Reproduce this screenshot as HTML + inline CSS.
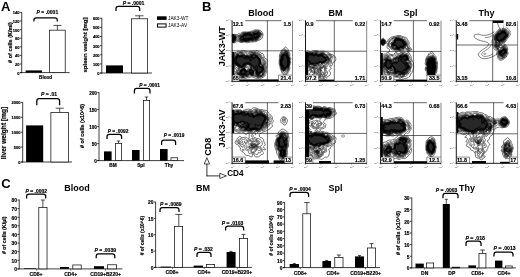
<!DOCTYPE html>
<html><head><meta charset="utf-8"><title>Figure</title>
<style>
html,body{margin:0;padding:0;background:#fff;}
body{width:520px;height:277px;overflow:hidden;}
svg{display:block;font-family:"Liberation Sans",sans-serif;font-weight:bold;filter:blur(0.35px);}
</style></head><body>
<svg width="520" height="277" viewBox="0 0 520 277">
<rect width="520" height="277" fill="#fff"/>
<text x="0.9" y="10.9" text-anchor="start" style="font-size:13px;" fill="#000">A</text>
<text x="202.0" y="10.9" text-anchor="start" style="font-size:13px;" fill="#000">B</text>
<text x="1.2" y="188" text-anchor="start" style="font-size:13px;" fill="#000">C</text>
<line x1="21.7" y1="12.0" x2="21.7" y2="73.05" stroke="#000" stroke-width="0.75"/>
<line x1="19.9" y1="72.6" x2="69.6" y2="72.6" stroke="#000" stroke-width="0.75"/>
<line x1="19.9" y1="72.6" x2="21.7" y2="72.6" stroke="#000" stroke-width="0.7"/>
<text x="19.5" y="74.53999999999999" text-anchor="end" style="font-size:4px;" fill="#000" stroke="#000" stroke-width="0.16">0</text>
<line x1="19.9" y1="63.99999999999999" x2="21.7" y2="63.99999999999999" stroke="#000" stroke-width="0.7"/>
<text x="19.5" y="65.94" text-anchor="end" style="font-size:4px;" fill="#000" stroke="#000" stroke-width="0.16">20</text>
<line x1="19.9" y1="55.39999999999999" x2="21.7" y2="55.39999999999999" stroke="#000" stroke-width="0.7"/>
<text x="19.5" y="57.33999999999999" text-anchor="end" style="font-size:4px;" fill="#000" stroke="#000" stroke-width="0.16">40</text>
<line x1="19.9" y1="46.8" x2="21.7" y2="46.8" stroke="#000" stroke-width="0.7"/>
<text x="19.5" y="48.739999999999995" text-anchor="end" style="font-size:4px;" fill="#000" stroke="#000" stroke-width="0.16">60</text>
<line x1="19.9" y1="38.199999999999996" x2="21.7" y2="38.199999999999996" stroke="#000" stroke-width="0.7"/>
<text x="19.5" y="40.13999999999999" text-anchor="end" style="font-size:4px;" fill="#000" stroke="#000" stroke-width="0.16">80</text>
<line x1="19.9" y1="29.599999999999994" x2="21.7" y2="29.599999999999994" stroke="#000" stroke-width="0.7"/>
<text x="19.5" y="31.539999999999996" text-anchor="end" style="font-size:4px;" fill="#000" stroke="#000" stroke-width="0.16">100</text>
<line x1="19.9" y1="21.0" x2="21.7" y2="21.0" stroke="#000" stroke-width="0.7"/>
<text x="19.5" y="22.94" text-anchor="end" style="font-size:4px;" fill="#000" stroke="#000" stroke-width="0.16">120</text>
<line x1="19.9" y1="12.399999999999999" x2="21.7" y2="12.399999999999999" stroke="#000" stroke-width="0.7"/>
<text x="19.5" y="14.339999999999998" text-anchor="end" style="font-size:4px;" fill="#000" stroke="#000" stroke-width="0.16">140</text>
<rect x="25.6" y="70.4" width="16.40" height="2.20" fill="#000"/>
<line x1="57.4" y1="25.4" x2="57.4" y2="30" stroke="#000" stroke-width="0.7"/>
<line x1="53.4" y1="25.4" x2="61.4" y2="25.4" stroke="#000" stroke-width="0.7"/>
<rect x="49.575" y="30.175" width="15.65" height="42.42" fill="#fff" stroke="#111" stroke-width="0.75"/>
<text x="45.6" y="78.6" text-anchor="middle" style="font-size:4.6px;" fill="#000" stroke="#000" stroke-width="0.16">Blood</text>
<path d="M33.9,21.6 L33.9,20.2 Q33.9,17.9 36.199999999999996,17.9 L55.0,17.9 Q57.3,17.9 57.3,20.2 L57.3,21.6" fill="none" stroke="#000" stroke-width="1.25"/>
<text x="47.4" y="14" text-anchor="middle" style="font-size:5px" fill="#000" stroke="#000" stroke-width="0.16"><tspan style="font-style:italic">P</tspan> = .0001</text>
<text x="11.6" y="42.6" text-anchor="middle" style="font-size:5.5px;" fill="#000" transform="rotate(-90 11.6 42.6)" stroke="#000" stroke-width="0.16"># of cells (K/ml)</text>
<line x1="101.8" y1="17.8" x2="101.8" y2="73.45" stroke="#000" stroke-width="0.75"/>
<line x1="100.0" y1="73" x2="152" y2="73" stroke="#000" stroke-width="0.75"/>
<line x1="100.0" y1="73.0" x2="101.8" y2="73.0" stroke="#000" stroke-width="0.7"/>
<text x="99.6" y="74.94" text-anchor="end" style="font-size:4px;" fill="#000" stroke="#000" stroke-width="0.16">0</text>
<line x1="100.0" y1="63.88" x2="101.8" y2="63.88" stroke="#000" stroke-width="0.7"/>
<text x="99.6" y="65.82000000000001" text-anchor="end" style="font-size:4px;" fill="#000" stroke="#000" stroke-width="0.16">100</text>
<line x1="100.0" y1="54.760000000000005" x2="101.8" y2="54.760000000000005" stroke="#000" stroke-width="0.7"/>
<text x="99.6" y="56.7" text-anchor="end" style="font-size:4px;" fill="#000" stroke="#000" stroke-width="0.16">200</text>
<line x1="100.0" y1="45.64" x2="101.8" y2="45.64" stroke="#000" stroke-width="0.7"/>
<text x="99.6" y="47.58" text-anchor="end" style="font-size:4px;" fill="#000" stroke="#000" stroke-width="0.16">300</text>
<line x1="100.0" y1="36.52" x2="101.8" y2="36.52" stroke="#000" stroke-width="0.7"/>
<text x="99.6" y="38.46" text-anchor="end" style="font-size:4px;" fill="#000" stroke="#000" stroke-width="0.16">400</text>
<line x1="100.0" y1="27.400000000000006" x2="101.8" y2="27.400000000000006" stroke="#000" stroke-width="0.7"/>
<text x="99.6" y="29.340000000000007" text-anchor="end" style="font-size:4px;" fill="#000" stroke="#000" stroke-width="0.16">500</text>
<line x1="100.0" y1="18.28" x2="101.8" y2="18.28" stroke="#000" stroke-width="0.7"/>
<text x="99.6" y="20.220000000000002" text-anchor="end" style="font-size:4px;" fill="#000" stroke="#000" stroke-width="0.16">600</text>
<rect x="106" y="65.4" width="17.00" height="7.60" fill="#000"/>
<line x1="139.3" y1="15.8" x2="139.3" y2="19" stroke="#000" stroke-width="0.7"/>
<line x1="135.10000000000002" y1="15.8" x2="143.5" y2="15.8" stroke="#000" stroke-width="0.7"/>
<rect x="131.375" y="18.775" width="16.25" height="54.23" fill="#fff" stroke="#111" stroke-width="0.75"/>
<path d="M116,10.9 L116,8.6 Q116,6.3 118.3,6.3 L137.39999999999998,6.3 Q139.7,6.3 139.7,8.6 L139.7,10.9" fill="none" stroke="#000" stroke-width="1.25"/>
<text x="133.6" y="5.2" text-anchor="middle" style="font-size:5px" fill="#000" stroke="#000" stroke-width="0.16"><tspan style="font-style:italic">P</tspan> = .0001</text>
<text x="86.6" y="45" text-anchor="middle" style="font-size:6.1px;" fill="#000" transform="rotate(-90 86.6 45)" stroke="#000" stroke-width="0.16">spleen weight [mg]</text>
<rect x="157" y="16.3" width="9.6" height="3.6" fill="#000"/>
<rect x="157.5" y="23.9" width="8.6" height="3.2" fill="#fff" stroke="#000" stroke-width="1"/>
<text x="168" y="19.8" text-anchor="start" style="font-size:4.8px;font-weight:normal;" fill="#000">JAK3-WT</text>
<text x="168" y="27.2" text-anchor="start" style="font-size:4.8px;font-weight:normal;" fill="#000">JAK3-AV</text>
<line x1="22.7" y1="102.0" x2="22.7" y2="162.45" stroke="#000" stroke-width="0.75"/>
<line x1="20.9" y1="162" x2="72" y2="162" stroke="#000" stroke-width="0.75"/>
<line x1="20.9" y1="162.0" x2="22.7" y2="162.0" stroke="#000" stroke-width="0.7"/>
<text x="20.5" y="163.94" text-anchor="end" style="font-size:4px;" fill="#000" stroke="#000" stroke-width="0.16">0</text>
<line x1="20.9" y1="147.1" x2="22.7" y2="147.1" stroke="#000" stroke-width="0.7"/>
<text x="20.5" y="149.04" text-anchor="end" style="font-size:4px;" fill="#000" stroke="#000" stroke-width="0.16">500</text>
<line x1="20.9" y1="132.2" x2="22.7" y2="132.2" stroke="#000" stroke-width="0.7"/>
<text x="20.5" y="134.14" text-anchor="end" style="font-size:4px;" fill="#000" stroke="#000" stroke-width="0.16">1000</text>
<line x1="20.9" y1="117.3" x2="22.7" y2="117.3" stroke="#000" stroke-width="0.7"/>
<text x="20.5" y="119.24" text-anchor="end" style="font-size:4px;" fill="#000" stroke="#000" stroke-width="0.16">1500</text>
<line x1="20.9" y1="102.4" x2="22.7" y2="102.4" stroke="#000" stroke-width="0.7"/>
<text x="20.5" y="104.34" text-anchor="end" style="font-size:4px;" fill="#000" stroke="#000" stroke-width="0.16">2000</text>
<rect x="26.1" y="125.4" width="17.10" height="36.60" fill="#000"/>
<line x1="59.7" y1="108.2" x2="59.7" y2="113" stroke="#000" stroke-width="0.7"/>
<line x1="55.7" y1="108.2" x2="63.7" y2="108.2" stroke="#000" stroke-width="0.7"/>
<rect x="50.875" y="112.375" width="17.55" height="49.62" fill="#fff" stroke="#111" stroke-width="0.75"/>
<path d="M36.8,105.2 L36.8,100.89999999999999 Q36.8,98.6 39.099999999999994,98.6 L57.300000000000004,98.6 Q59.6,98.6 59.6,100.89999999999999 L59.6,105.2" fill="none" stroke="#000" stroke-width="1.25"/>
<text x="49" y="95.6" text-anchor="middle" style="font-size:5px" fill="#000" stroke="#000" stroke-width="0.16"><tspan style="font-style:italic">P</tspan> = .01</text>
<text x="5.9" y="133" text-anchor="middle" style="font-size:6.6px;" fill="#000" transform="rotate(-90 5.9 133)" stroke="#000" stroke-width="0.16">liver weight [mg]</text>
<line x1="99" y1="92.19999999999999" x2="99" y2="161.04999999999998" stroke="#000" stroke-width="0.75"/>
<line x1="97.2" y1="160.6" x2="184" y2="160.6" stroke="#000" stroke-width="0.75"/>
<line x1="97.2" y1="160.6" x2="99" y2="160.6" stroke="#000" stroke-width="0.7"/>
<text x="96.8" y="162.756" text-anchor="end" style="font-size:4.6px;" fill="#000" stroke="#000" stroke-width="0.16">0</text>
<line x1="97.2" y1="143.6" x2="99" y2="143.6" stroke="#000" stroke-width="0.7"/>
<text x="96.8" y="145.756" text-anchor="end" style="font-size:4.6px;" fill="#000" stroke="#000" stroke-width="0.16">50</text>
<line x1="97.2" y1="126.6" x2="99" y2="126.6" stroke="#000" stroke-width="0.7"/>
<text x="96.8" y="128.756" text-anchor="end" style="font-size:4.6px;" fill="#000" stroke="#000" stroke-width="0.16">100</text>
<line x1="97.2" y1="109.6" x2="99" y2="109.6" stroke="#000" stroke-width="0.7"/>
<text x="96.8" y="111.756" text-anchor="end" style="font-size:4.6px;" fill="#000" stroke="#000" stroke-width="0.16">150</text>
<line x1="97.2" y1="92.6" x2="99" y2="92.6" stroke="#000" stroke-width="0.7"/>
<text x="96.8" y="94.756" text-anchor="end" style="font-size:4.6px;" fill="#000" stroke="#000" stroke-width="0.16">200</text>
<rect x="104" y="151.4" width="7.60" height="9.20" fill="#000"/>
<line x1="118.5" y1="141" x2="118.5" y2="143.5" stroke="#000" stroke-width="0.7"/>
<line x1="116.75" y1="141" x2="120.25" y2="141" stroke="#000" stroke-width="0.7"/>
<rect x="115.375" y="143.375" width="6.25" height="17.22" fill="#fff" stroke="#111" stroke-width="0.75"/>
<rect x="132" y="150" width="7.60" height="10.60" fill="#000"/>
<line x1="146.5" y1="97" x2="146.5" y2="100.5" stroke="#000" stroke-width="0.7"/>
<line x1="144.75" y1="97" x2="148.25" y2="97" stroke="#000" stroke-width="0.7"/>
<rect x="143.375" y="100.375" width="6.25" height="60.22" fill="#fff" stroke="#111" stroke-width="0.75"/>
<rect x="160" y="149" width="7.60" height="11.60" fill="#000"/>
<rect x="170.975" y="157.775" width="6.65" height="2.82" fill="#fff" stroke="#111" stroke-width="0.75"/>
<text x="113.1" y="166.8" text-anchor="middle" style="font-size:4.8px;" fill="#000" stroke="#000" stroke-width="0.16">BM</text>
<text x="140.9" y="166.8" text-anchor="middle" style="font-size:4.8px;" fill="#000" stroke="#000" stroke-width="0.16">Spl</text>
<text x="169" y="166.8" text-anchor="middle" style="font-size:4.8px;" fill="#000" stroke="#000" stroke-width="0.16">Thy</text>
<path d="M107,139 L107,136.70000000000002 Q107,134.4 109.3,134.4 L119.3,134.4 Q121.6,134.4 121.6,136.70000000000002 L121.6,139" fill="none" stroke="#000" stroke-width="1.25"/>
<text x="118" y="132.8" text-anchor="middle" style="font-size:4.8px" fill="#000" stroke="#000" stroke-width="0.16"><tspan style="font-style:italic">P</tspan> = .0092</text>
<path d="M134.4,93.6 L134.4,90.7 Q134.4,88.4 136.70000000000002,88.4 L147.7,88.4 Q150,88.4 150,90.7 L150,93.6" fill="none" stroke="#000" stroke-width="1.25"/>
<text x="149.5" y="87.2" text-anchor="middle" style="font-size:4.8px" fill="#000" stroke="#000" stroke-width="0.16"><tspan style="font-style:italic">P</tspan> = .0001</text>
<path d="M161.6,145 L161.6,142.3 Q161.6,140 163.9,140 L173.29999999999998,140 Q175.6,140 175.6,142.3 L175.6,145" fill="none" stroke="#000" stroke-width="1.25"/>
<text x="174" y="136.8" text-anchor="middle" style="font-size:4.8px" fill="#000" stroke="#000" stroke-width="0.16"><tspan style="font-style:italic">P</tspan> = .0019</text>
<text x="83.6" y="125.9" text-anchor="middle" style="font-size:5.5px;" fill="#000" transform="rotate(-90 83.6 125.9)" stroke="#000" stroke-width="0.16"># of cells (x10^6)</text>
<text x="77" y="191.2" text-anchor="middle" style="font-size:9px;" fill="#000">Blood</text>
<line x1="19.2" y1="199.6" x2="19.2" y2="269.34999999999997" stroke="#000" stroke-width="0.75"/>
<line x1="17.4" y1="268.9" x2="122.4" y2="268.9" stroke="#000" stroke-width="0.75"/>
<line x1="17.4" y1="268.9" x2="19.2" y2="268.9" stroke="#000" stroke-width="0.7"/>
<text x="17.0" y="271.164" text-anchor="end" style="font-size:4.9px;" fill="#000" stroke="#000" stroke-width="0.16">0</text>
<line x1="17.4" y1="260.28999999999996" x2="19.2" y2="260.28999999999996" stroke="#000" stroke-width="0.7"/>
<text x="17.0" y="262.554" text-anchor="end" style="font-size:4.9px;" fill="#000" stroke="#000" stroke-width="0.16">10</text>
<line x1="17.4" y1="251.67999999999998" x2="19.2" y2="251.67999999999998" stroke="#000" stroke-width="0.7"/>
<text x="17.0" y="253.944" text-anchor="end" style="font-size:4.9px;" fill="#000" stroke="#000" stroke-width="0.16">20</text>
<line x1="17.4" y1="243.07" x2="19.2" y2="243.07" stroke="#000" stroke-width="0.7"/>
<text x="17.0" y="245.334" text-anchor="end" style="font-size:4.9px;" fill="#000" stroke="#000" stroke-width="0.16">30</text>
<line x1="17.4" y1="234.45999999999998" x2="19.2" y2="234.45999999999998" stroke="#000" stroke-width="0.7"/>
<text x="17.0" y="236.724" text-anchor="end" style="font-size:4.9px;" fill="#000" stroke="#000" stroke-width="0.16">40</text>
<line x1="17.4" y1="225.84999999999997" x2="19.2" y2="225.84999999999997" stroke="#000" stroke-width="0.7"/>
<text x="17.0" y="228.11399999999998" text-anchor="end" style="font-size:4.9px;" fill="#000" stroke="#000" stroke-width="0.16">50</text>
<line x1="17.4" y1="217.23999999999998" x2="19.2" y2="217.23999999999998" stroke="#000" stroke-width="0.7"/>
<text x="17.0" y="219.504" text-anchor="end" style="font-size:4.9px;" fill="#000" stroke="#000" stroke-width="0.16">60</text>
<line x1="17.4" y1="208.63" x2="19.2" y2="208.63" stroke="#000" stroke-width="0.7"/>
<text x="17.0" y="210.894" text-anchor="end" style="font-size:4.9px;" fill="#000" stroke="#000" stroke-width="0.16">70</text>
<line x1="17.4" y1="200.01999999999998" x2="19.2" y2="200.01999999999998" stroke="#000" stroke-width="0.7"/>
<text x="17.0" y="202.284" text-anchor="end" style="font-size:4.9px;" fill="#000" stroke="#000" stroke-width="0.16">80</text>
<rect x="24" y="268.3" width="12.00" height="0.60" fill="#000"/>
<line x1="42.9" y1="200" x2="42.9" y2="207.5" stroke="#000" stroke-width="0.7"/>
<line x1="40.9" y1="200" x2="44.9" y2="200" stroke="#000" stroke-width="0.7"/>
<rect x="38.775" y="207.375" width="8.25" height="61.52" fill="#fff" stroke="#111" stroke-width="0.75"/>
<rect x="60" y="267" width="9.00" height="1.90" fill="#000"/>
<rect x="72.775" y="264.975" width="8.45" height="3.92" fill="#fff" stroke="#111" stroke-width="0.75"/>
<rect x="94" y="266.2" width="10.00" height="2.70" fill="#000"/>
<rect x="107.375" y="264.775" width="9.25" height="4.12" fill="#fff" stroke="#111" stroke-width="0.75"/>
<text x="36" y="276.1" text-anchor="middle" style="font-size:5px;" fill="#000" stroke="#000" stroke-width="0.16">CD8+</text>
<text x="70.6" y="276.1" text-anchor="middle" style="font-size:5px;" fill="#000" stroke="#000" stroke-width="0.16">CD4+</text>
<text x="105.6" y="276.1" text-anchor="middle" style="font-size:5px;" fill="#000" stroke="#000" stroke-width="0.16">CD19+B220+</text>
<path d="M26.6,198.6 L26.6,196.3 Q26.6,194 28.900000000000002,194 L43.400000000000006,194 Q45.7,194 45.7,196.3 L45.7,198.6" fill="none" stroke="#000" stroke-width="1.25"/>
<text x="36.3" y="192.5" text-anchor="middle" style="font-size:5px" fill="#000" stroke="#000" stroke-width="0.16"><tspan style="font-style:italic">P</tspan> = .0002</text>
<path d="M96.2,258.2 L96.2,256.1 Q96.2,253.8 98.5,253.8 L112.5,253.8 Q114.8,253.8 114.8,256.1 L114.8,258.2" fill="none" stroke="#000" stroke-width="1.25"/>
<text x="105.2" y="252.2" text-anchor="middle" style="font-size:5px" fill="#000" stroke="#000" stroke-width="0.16"><tspan style="font-style:italic">P</tspan> = .0039</text>
<text x="6.4" y="235.3" text-anchor="middle" style="font-size:5.3px;" fill="#000" transform="rotate(-90 6.4 235.3)" stroke="#000" stroke-width="0.16"># of cells (K/µl)</text>
<text x="203" y="191.2" text-anchor="middle" style="font-size:9px;" fill="#000">BM</text>
<line x1="155.6" y1="201.79999999999998" x2="155.6" y2="267.84999999999997" stroke="#000" stroke-width="0.75"/>
<line x1="153.79999999999998" y1="267.4" x2="252" y2="267.4" stroke="#000" stroke-width="0.75"/>
<line x1="153.79999999999998" y1="267.4" x2="155.6" y2="267.4" stroke="#000" stroke-width="0.7"/>
<text x="153.39999999999998" y="269.664" text-anchor="end" style="font-size:4.9px;" fill="#000" stroke="#000" stroke-width="0.16">0</text>
<line x1="153.79999999999998" y1="251.04999999999998" x2="155.6" y2="251.04999999999998" stroke="#000" stroke-width="0.7"/>
<text x="153.39999999999998" y="253.314" text-anchor="end" style="font-size:4.9px;" fill="#000" stroke="#000" stroke-width="0.16">5</text>
<line x1="153.79999999999998" y1="234.7" x2="155.6" y2="234.7" stroke="#000" stroke-width="0.7"/>
<text x="153.39999999999998" y="236.964" text-anchor="end" style="font-size:4.9px;" fill="#000" stroke="#000" stroke-width="0.16">10</text>
<line x1="153.79999999999998" y1="218.34999999999997" x2="155.6" y2="218.34999999999997" stroke="#000" stroke-width="0.7"/>
<text x="153.39999999999998" y="220.61399999999998" text-anchor="end" style="font-size:4.9px;" fill="#000" stroke="#000" stroke-width="0.16">15</text>
<line x1="153.79999999999998" y1="201.99999999999997" x2="155.6" y2="201.99999999999997" stroke="#000" stroke-width="0.7"/>
<text x="153.39999999999998" y="204.26399999999998" text-anchor="end" style="font-size:4.9px;" fill="#000" stroke="#000" stroke-width="0.16">20</text>
<rect x="160.5" y="266.6" width="10.50" height="0.80" fill="#000"/>
<line x1="178.8" y1="214.4" x2="178.8" y2="226.5" stroke="#000" stroke-width="0.7"/>
<line x1="175.3" y1="214.4" x2="182.3" y2="214.4" stroke="#000" stroke-width="0.7"/>
<rect x="174.375" y="226.375" width="8.25" height="41.02" fill="#fff" stroke="#111" stroke-width="0.75"/>
<rect x="193.6" y="265.6" width="9.40" height="1.80" fill="#000"/>
<rect x="206.375" y="264.375" width="8.25" height="3.02" fill="#fff" stroke="#111" stroke-width="0.75"/>
<line x1="231" y1="251.4" x2="231" y2="252.5" stroke="#000" stroke-width="0.7"/>
<line x1="229.5" y1="251.4" x2="232.5" y2="251.4" stroke="#000" stroke-width="0.7"/>
<rect x="226.6" y="252" width="9.00" height="15.40" fill="#000"/>
<line x1="243.5" y1="234.4" x2="243.5" y2="238.5" stroke="#000" stroke-width="0.7"/>
<line x1="241.5" y1="234.4" x2="245.5" y2="234.4" stroke="#000" stroke-width="0.7"/>
<rect x="239.375" y="238.375" width="8.25" height="29.02" fill="#fff" stroke="#111" stroke-width="0.75"/>
<text x="172" y="273.7" text-anchor="middle" style="font-size:5px;" fill="#000" stroke="#000" stroke-width="0.16">CD8+</text>
<text x="204" y="273.7" text-anchor="middle" style="font-size:5px;" fill="#000" stroke="#000" stroke-width="0.16">CD4+</text>
<text x="237" y="273.7" text-anchor="middle" style="font-size:5px;" fill="#000" stroke="#000" stroke-width="0.16">CD19+B220+</text>
<path d="M160,212 L160,209.9 Q160,207.6 162.3,207.6 L176.7,207.6 Q179,207.6 179,209.9 L179,212" fill="none" stroke="#000" stroke-width="1.25"/>
<text x="170.8" y="206" text-anchor="middle" style="font-size:5px" fill="#000" stroke="#000" stroke-width="0.16"><tspan style="font-style:italic">P</tspan> = .0089</text>
<path d="M197,257 L197,254.70000000000002 Q197,252.4 199.3,252.4 L208.7,252.4 Q211,252.4 211,254.70000000000002 L211,257" fill="none" stroke="#000" stroke-width="1.25"/>
<text x="203.5" y="250.8" text-anchor="middle" style="font-size:5px" fill="#000" stroke="#000" stroke-width="0.16"><tspan style="font-style:italic">P</tspan> = .032</text>
<path d="M225.6,230.4 L225.6,228.3 Q225.6,226 227.9,226 L241.29999999999998,226 Q243.6,226 243.6,228.3 L243.6,230.4" fill="none" stroke="#000" stroke-width="1.25"/>
<text x="232.5" y="224.6" text-anchor="middle" style="font-size:5px" fill="#000" stroke="#000" stroke-width="0.16"><tspan style="font-style:italic">P</tspan> = .0103</text>
<text x="144.4" y="235.6" text-anchor="middle" style="font-size:4.9px;" fill="#000" transform="rotate(-90 144.4 235.6)" stroke="#000" stroke-width="0.16"># of cells (x10^6)</text>
<text x="335.5" y="191.2" text-anchor="middle" style="font-size:9px;" fill="#000">Spl</text>
<line x1="284.6" y1="202.0" x2="284.6" y2="268.05" stroke="#000" stroke-width="0.75"/>
<line x1="282.8" y1="267.6" x2="380" y2="267.6" stroke="#000" stroke-width="0.75"/>
<line x1="282.8" y1="267.6" x2="284.6" y2="267.6" stroke="#000" stroke-width="0.7"/>
<text x="282.40000000000003" y="269.86400000000003" text-anchor="end" style="font-size:4.9px;" fill="#000" stroke="#000" stroke-width="0.16">0</text>
<line x1="282.8" y1="260.35" x2="284.6" y2="260.35" stroke="#000" stroke-width="0.7"/>
<text x="282.40000000000003" y="262.61400000000003" text-anchor="end" style="font-size:4.9px;" fill="#000" stroke="#000" stroke-width="0.16">10</text>
<line x1="282.8" y1="253.10000000000002" x2="284.6" y2="253.10000000000002" stroke="#000" stroke-width="0.7"/>
<text x="282.40000000000003" y="255.36400000000003" text-anchor="end" style="font-size:4.9px;" fill="#000" stroke="#000" stroke-width="0.16">20</text>
<line x1="282.8" y1="245.85000000000002" x2="284.6" y2="245.85000000000002" stroke="#000" stroke-width="0.7"/>
<text x="282.40000000000003" y="248.11400000000003" text-anchor="end" style="font-size:4.9px;" fill="#000" stroke="#000" stroke-width="0.16">30</text>
<line x1="282.8" y1="238.60000000000002" x2="284.6" y2="238.60000000000002" stroke="#000" stroke-width="0.7"/>
<text x="282.40000000000003" y="240.86400000000003" text-anchor="end" style="font-size:4.9px;" fill="#000" stroke="#000" stroke-width="0.16">40</text>
<line x1="282.8" y1="231.35000000000002" x2="284.6" y2="231.35000000000002" stroke="#000" stroke-width="0.7"/>
<text x="282.40000000000003" y="233.61400000000003" text-anchor="end" style="font-size:4.9px;" fill="#000" stroke="#000" stroke-width="0.16">50</text>
<line x1="282.8" y1="224.10000000000002" x2="284.6" y2="224.10000000000002" stroke="#000" stroke-width="0.7"/>
<text x="282.40000000000003" y="226.36400000000003" text-anchor="end" style="font-size:4.9px;" fill="#000" stroke="#000" stroke-width="0.16">60</text>
<line x1="282.8" y1="216.85000000000002" x2="284.6" y2="216.85000000000002" stroke="#000" stroke-width="0.7"/>
<text x="282.40000000000003" y="219.11400000000003" text-anchor="end" style="font-size:4.9px;" fill="#000" stroke="#000" stroke-width="0.16">70</text>
<line x1="282.8" y1="209.60000000000002" x2="284.6" y2="209.60000000000002" stroke="#000" stroke-width="0.7"/>
<text x="282.40000000000003" y="211.86400000000003" text-anchor="end" style="font-size:4.9px;" fill="#000" stroke="#000" stroke-width="0.16">80</text>
<line x1="282.8" y1="202.35000000000002" x2="284.6" y2="202.35000000000002" stroke="#000" stroke-width="0.7"/>
<text x="282.40000000000003" y="204.61400000000003" text-anchor="end" style="font-size:4.9px;" fill="#000" stroke="#000" stroke-width="0.16">90</text>
<line x1="294.3" y1="263.4" x2="294.3" y2="264.5" stroke="#000" stroke-width="0.7"/>
<line x1="292.8" y1="263.4" x2="295.8" y2="263.4" stroke="#000" stroke-width="0.7"/>
<rect x="289.6" y="264" width="9.40" height="3.60" fill="#000"/>
<line x1="306.9" y1="202.6" x2="306.9" y2="214" stroke="#000" stroke-width="0.7"/>
<line x1="304.15" y1="202.6" x2="309.65" y2="202.6" stroke="#000" stroke-width="0.7"/>
<rect x="302.775" y="213.775" width="7.85" height="53.83" fill="#fff" stroke="#111" stroke-width="0.75"/>
<line x1="326.7" y1="260.4" x2="326.7" y2="261.5" stroke="#000" stroke-width="0.7"/>
<line x1="325.2" y1="260.4" x2="328.2" y2="260.4" stroke="#000" stroke-width="0.7"/>
<rect x="322.4" y="261" width="8.60" height="6.60" fill="#000"/>
<line x1="338.9" y1="255" x2="338.9" y2="257.5" stroke="#000" stroke-width="0.7"/>
<line x1="336.9" y1="255" x2="340.9" y2="255" stroke="#000" stroke-width="0.7"/>
<rect x="334.775" y="257.375" width="8.25" height="10.23" fill="#fff" stroke="#111" stroke-width="0.75"/>
<line x1="359.5" y1="255.6" x2="359.5" y2="257" stroke="#000" stroke-width="0.7"/>
<line x1="358.0" y1="255.6" x2="361.0" y2="255.6" stroke="#000" stroke-width="0.7"/>
<rect x="355" y="256.4" width="9.00" height="11.20" fill="#000"/>
<line x1="371.5" y1="243.6" x2="371.5" y2="248" stroke="#000" stroke-width="0.7"/>
<line x1="369.5" y1="243.6" x2="373.5" y2="243.6" stroke="#000" stroke-width="0.7"/>
<rect x="367.375" y="247.975" width="8.25" height="19.63" fill="#fff" stroke="#111" stroke-width="0.75"/>
<text x="300.3" y="274.6" text-anchor="middle" style="font-size:5px;" fill="#000" stroke="#000" stroke-width="0.16">CD8+</text>
<text x="333" y="274.6" text-anchor="middle" style="font-size:5px;" fill="#000" stroke="#000" stroke-width="0.16">CD4+</text>
<text x="365.6" y="274.6" text-anchor="middle" style="font-size:5px;" fill="#000" stroke="#000" stroke-width="0.16">CD19+B220+</text>
<path d="M290,197 L290,194.70000000000002 Q290,192.4 292.3,192.4 L306.3,192.4 Q308.6,192.4 308.6,194.70000000000002 L308.6,197" fill="none" stroke="#000" stroke-width="1.25"/>
<text x="300" y="190.6" text-anchor="middle" style="font-size:5px" fill="#000" stroke="#000" stroke-width="0.16"><tspan style="font-style:italic">P</tspan> = .0004</text>
<text x="273.5" y="235.6" text-anchor="middle" style="font-size:5px;" fill="#000" transform="rotate(-90 273.5 235.6)" stroke="#000" stroke-width="0.16"># of cells (x10^6)</text>
<text x="467" y="191.2" text-anchor="middle" style="font-size:9px;" fill="#000">Thy</text>
<line x1="411.8" y1="197.6" x2="411.8" y2="268.34999999999997" stroke="#000" stroke-width="0.75"/>
<line x1="410.0" y1="267.9" x2="516" y2="267.9" stroke="#000" stroke-width="0.75"/>
<line x1="410.0" y1="267.9" x2="411.8" y2="267.9" stroke="#000" stroke-width="0.7"/>
<text x="409.6" y="270.164" text-anchor="end" style="font-size:4.9px;" fill="#000" stroke="#000" stroke-width="0.16">0</text>
<line x1="410.0" y1="256.25" x2="411.8" y2="256.25" stroke="#000" stroke-width="0.7"/>
<text x="409.6" y="258.514" text-anchor="end" style="font-size:4.9px;" fill="#000" stroke="#000" stroke-width="0.16">5</text>
<line x1="410.0" y1="244.59999999999997" x2="411.8" y2="244.59999999999997" stroke="#000" stroke-width="0.7"/>
<text x="409.6" y="246.86399999999998" text-anchor="end" style="font-size:4.9px;" fill="#000" stroke="#000" stroke-width="0.16">10</text>
<line x1="410.0" y1="232.95" x2="411.8" y2="232.95" stroke="#000" stroke-width="0.7"/>
<text x="409.6" y="235.214" text-anchor="end" style="font-size:4.9px;" fill="#000" stroke="#000" stroke-width="0.16">15</text>
<line x1="410.0" y1="221.29999999999998" x2="411.8" y2="221.29999999999998" stroke="#000" stroke-width="0.7"/>
<text x="409.6" y="223.564" text-anchor="end" style="font-size:4.9px;" fill="#000" stroke="#000" stroke-width="0.16">20</text>
<line x1="410.0" y1="209.64999999999998" x2="411.8" y2="209.64999999999998" stroke="#000" stroke-width="0.7"/>
<text x="409.6" y="211.914" text-anchor="end" style="font-size:4.9px;" fill="#000" stroke="#000" stroke-width="0.16">25</text>
<line x1="410.0" y1="197.99999999999997" x2="411.8" y2="197.99999999999997" stroke="#000" stroke-width="0.7"/>
<text x="409.6" y="200.26399999999998" text-anchor="end" style="font-size:4.9px;" fill="#000" stroke="#000" stroke-width="0.16">30</text>
<rect x="415.5" y="263.6" width="8.30" height="4.30" fill="#000"/>
<rect x="426.375" y="262.975" width="7.25" height="4.92" fill="#fff" stroke="#111" stroke-width="0.75"/>
<line x1="446.3" y1="199.3" x2="446.3" y2="204.5" stroke="#000" stroke-width="0.7"/>
<line x1="444.8" y1="199.3" x2="447.8" y2="199.3" stroke="#000" stroke-width="0.7"/>
<rect x="442.8" y="204" width="7.00" height="63.90" fill="#000"/>
<rect x="452.375" y="267.175" width="7.25" height="0.72" fill="#fff" stroke="#111" stroke-width="0.75"/>
<rect x="468.4" y="265.4" width="7.60" height="2.50" fill="#000"/>
<line x1="482.6" y1="250" x2="482.6" y2="253.5" stroke="#000" stroke-width="0.7"/>
<line x1="480.3" y1="250" x2="484.90000000000003" y2="250" stroke="#000" stroke-width="0.7"/>
<rect x="478.975" y="253.375" width="6.95" height="14.52" fill="#fff" stroke="#111" stroke-width="0.75"/>
<rect x="495" y="260.6" width="7.40" height="7.30" fill="#000"/>
<rect x="505.375" y="265.975" width="6.85" height="1.92" fill="#fff" stroke="#111" stroke-width="0.75"/>
<text x="424.7" y="274.9" text-anchor="middle" style="font-size:5px;" fill="#000" stroke="#000" stroke-width="0.16">DN</text>
<text x="451.8" y="274.9" text-anchor="middle" style="font-size:5px;" fill="#000" stroke="#000" stroke-width="0.16">DP</text>
<text x="477.6" y="274.9" text-anchor="middle" style="font-size:5px;" fill="#000" stroke="#000" stroke-width="0.16">CD8+</text>
<text x="504" y="274.9" text-anchor="middle" style="font-size:5px;" fill="#000" stroke="#000" stroke-width="0.16">CD4+</text>
<path d="M443,198.2 L443,195.60000000000002 Q443,193.3 445.3,193.3 L455.7,193.3 Q458,193.3 458,195.60000000000002 L458,198.2" fill="none" stroke="#000" stroke-width="1.25"/>
<text x="446.6" y="192.0" text-anchor="middle" style="font-size:5px" fill="#000" stroke="#000" stroke-width="0.16"><tspan style="font-style:italic">P</tspan> = .0003</text>
<path d="M466,246 L466,243.3 Q466,241 468.3,241 L478.7,241 Q481,241 481,243.3 L481,246" fill="none" stroke="#000" stroke-width="1.25"/>
<text x="475.2" y="239.8" text-anchor="middle" style="font-size:5.2px" fill="#000" stroke="#000" stroke-width="0.16"><tspan style="font-style:italic">P</tspan> = .018</text>
<path d="M494,256.4 L494,254.3 Q494,252 496.3,252 L510.7,252 Q513,252 513,254.3 L513,256.4" fill="none" stroke="#000" stroke-width="1.25"/>
<text x="504.6" y="250.3" text-anchor="middle" style="font-size:5.1px" fill="#000" stroke="#000" stroke-width="0.16"><tspan style="font-style:italic">P</tspan> = .0013</text>
<text x="399.8" y="233" text-anchor="middle" style="font-size:5.5px;" fill="#000" transform="rotate(-90 399.8 233)" stroke="#000" stroke-width="0.16"># of cells (x10^6)</text>
<line x1="36.7" y1="268.9" x2="36.7" y2="270.59999999999997" stroke="#000" stroke-width="0.6"/>
<line x1="70.8" y1="268.9" x2="70.8" y2="270.59999999999997" stroke="#000" stroke-width="0.6"/>
<line x1="105.4" y1="268.9" x2="105.4" y2="270.59999999999997" stroke="#000" stroke-width="0.6"/>
<line x1="172.6" y1="267.4" x2="172.6" y2="269.09999999999997" stroke="#000" stroke-width="0.6"/>
<line x1="204.3" y1="267.4" x2="204.3" y2="269.09999999999997" stroke="#000" stroke-width="0.6"/>
<line x1="237.3" y1="267.4" x2="237.3" y2="269.09999999999997" stroke="#000" stroke-width="0.6"/>
<line x1="300.3" y1="267.6" x2="300.3" y2="269.3" stroke="#000" stroke-width="0.6"/>
<line x1="332.9" y1="267.6" x2="332.9" y2="269.3" stroke="#000" stroke-width="0.6"/>
<line x1="365.5" y1="267.6" x2="365.5" y2="269.3" stroke="#000" stroke-width="0.6"/>
<line x1="424.7" y1="267.9" x2="424.7" y2="269.59999999999997" stroke="#000" stroke-width="0.6"/>
<line x1="451.3" y1="267.9" x2="451.3" y2="269.59999999999997" stroke="#000" stroke-width="0.6"/>
<line x1="477.4" y1="267.9" x2="477.4" y2="269.59999999999997" stroke="#000" stroke-width="0.6"/>
<line x1="504" y1="267.9" x2="504" y2="269.59999999999997" stroke="#000" stroke-width="0.6"/>
<text x="261" y="16.2" text-anchor="middle" style="font-size:9px;" fill="#000">Blood</text>
<text x="335.5" y="16.2" text-anchor="middle" style="font-size:9px;" fill="#000">BM</text>
<text x="410.5" y="16.2" text-anchor="middle" style="font-size:9px;" fill="#000">Spl</text>
<text x="486.5" y="16.2" text-anchor="middle" style="font-size:9px;" fill="#000">Thy</text>
<text x="224.8" y="46.2" text-anchor="middle" style="font-size:9px;" fill="#000" transform="rotate(-90 224.8 46.2)">JAK3-WT</text>
<text x="224.8" y="128.5" text-anchor="middle" style="font-size:9px;" fill="#000" transform="rotate(-90 224.8 128.5)">JAK3-AV</text>
<line x1="206.9" y1="164" x2="206.9" y2="176.3" stroke="#000" stroke-width="0.8"/>
<line x1="206.5" y1="175.9" x2="220" y2="175.9" stroke="#000" stroke-width="0.8"/>
<path d="M206.9,157.6 L204.3,164 L209.5,164 Z" fill="#fff" stroke="#000" stroke-width="0.7"/>
<path d="M226.4,175.9 L219.8,173.3 L219.8,178.5 Z" fill="#fff" stroke="#000" stroke-width="0.7"/>
<text x="211.3" y="146.8" text-anchor="middle" style="font-size:9px;" fill="#000" transform="rotate(-90 211.3 146.8)">CD8</text>
<text x="227.2" y="176.4" text-anchor="start" style="font-size:8.2px;" fill="#000">CD4</text>
<clipPath id="cp1"><rect x="232.1" y="20.7" width="60.4" height="60.6"/></clipPath>
<text x="229.5" y="21.1" text-anchor="end" style="font-size:2.5px;font-weight:normal" fill="#444">10<tspan dy="-0.9" style="font-size:1.9px">4</tspan></text>
<text x="232.3" y="86.3" text-anchor="middle" style="font-size:2.5px;font-weight:normal" fill="#444">10<tspan dy="-0.9" style="font-size:1.9px">0</tspan></text>
<line x1="229.9" y1="20.7" x2="232.1" y2="20.7" stroke="#666" stroke-width="0.35"/>
<line x1="232.1" y1="81.3" x2="232.1" y2="83.3" stroke="#666" stroke-width="0.35"/>
<text x="229.5" y="36.2" text-anchor="end" style="font-size:2.5px;font-weight:normal" fill="#444">10<tspan dy="-0.9" style="font-size:1.9px">3</tspan></text>
<text x="247.4" y="86.3" text-anchor="middle" style="font-size:2.5px;font-weight:normal" fill="#444">10<tspan dy="-0.9" style="font-size:1.9px">1</tspan></text>
<line x1="229.9" y1="35.849999999999994" x2="232.1" y2="35.849999999999994" stroke="#666" stroke-width="0.35"/>
<line x1="247.2" y1="81.3" x2="247.2" y2="83.3" stroke="#666" stroke-width="0.35"/>
<text x="229.5" y="51.4" text-anchor="end" style="font-size:2.5px;font-weight:normal" fill="#444">10<tspan dy="-0.9" style="font-size:1.9px">2</tspan></text>
<text x="262.5" y="86.3" text-anchor="middle" style="font-size:2.5px;font-weight:normal" fill="#444">10<tspan dy="-0.9" style="font-size:1.9px">2</tspan></text>
<line x1="229.9" y1="51.0" x2="232.1" y2="51.0" stroke="#666" stroke-width="0.35"/>
<line x1="262.3" y1="81.3" x2="262.3" y2="83.3" stroke="#666" stroke-width="0.35"/>
<text x="229.5" y="66.5" text-anchor="end" style="font-size:2.5px;font-weight:normal" fill="#444">10<tspan dy="-0.9" style="font-size:1.9px">1</tspan></text>
<text x="277.6" y="86.3" text-anchor="middle" style="font-size:2.5px;font-weight:normal" fill="#444">10<tspan dy="-0.9" style="font-size:1.9px">3</tspan></text>
<line x1="229.9" y1="66.14999999999999" x2="232.1" y2="66.14999999999999" stroke="#666" stroke-width="0.35"/>
<line x1="277.4" y1="81.3" x2="277.4" y2="83.3" stroke="#666" stroke-width="0.35"/>
<text x="229.5" y="81.7" text-anchor="end" style="font-size:2.5px;font-weight:normal" fill="#444">10<tspan dy="-0.9" style="font-size:1.9px">0</tspan></text>
<text x="292.7" y="86.3" text-anchor="middle" style="font-size:2.5px;font-weight:normal" fill="#444">10<tspan dy="-0.9" style="font-size:1.9px">4</tspan></text>
<line x1="229.9" y1="81.3" x2="232.1" y2="81.3" stroke="#666" stroke-width="0.35"/>
<line x1="292.5" y1="81.3" x2="292.5" y2="83.3" stroke="#666" stroke-width="0.35"/>
<line x1="267.4" y1="20.7" x2="267.4" y2="81.3" stroke="#000" stroke-width="0.6"/>
<line x1="232.1" y1="50.8" x2="292.5" y2="50.8" stroke="#000" stroke-width="0.6"/>
<g clip-path="url(#cp1)" stroke="#000" stroke-width="0.55" stroke-linejoin="round" fill="#000">
<path d="M247.5,42.7 246.5,42.7 245.1,42.1 244.5,42.0 243.7,42.1 242.3,42.5 241.1,42.5 239.9,42.2 238.1,41.5 237.5,41.4 236.7,41.6 235.3,42.5 234.7,42.8 233.9,42.8 233.1,42.6 232.5,42.2 232.1,41.7 231.9,37.7 232.1,35.4 233.1,34.5 233.5,34.3 236.1,34.6 237.1,34.6 237.7,34.4 238.9,33.4 239.3,33.3 240.5,33.3 241.4,32.5 241.9,32.3 244.5,31.8 246.3,31.9 249.3,31.8 251.1,31.1 252.9,30.9 253.9,30.2 254.9,29.9 257.7,29.8 258.9,30.0 260.9,30.9 262.4,32.7 263.0,33.9 263.1,35.1 262.5,36.7 262.2,38.1 261.7,38.7 261.3,39.0 258.9,40.4 257.5,40.9 256.1,41.6 254.9,41.7 253.5,42.0 251.3,41.9 247.5,42.7Z M286.3,75.1 285.5,75.2 283.7,74.9 283.0,74.5 282.4,73.9 281.0,70.5 280.2,68.1 279.9,66.3 279.3,64.7 279.1,63.3 279.2,60.3 279.5,58.5 279.3,56.1 279.8,54.1 281.0,51.3 281.9,49.8 282.3,49.4 282.9,49.0 284.6,48.5 284.8,48.3 284.9,47.3 285.3,47.0 285.7,47.1 286.1,47.4 287.5,48.7 288.0,49.3 288.4,50.9 289.4,52.3 289.7,53.1 289.9,54.3 289.8,56.5 289.9,56.9 290.7,58.1 290.9,58.7 290.7,59.3 290.1,60.5 290.5,62.1 290.5,62.7 290.4,63.5 289.7,65.5 289.8,68.5 289.7,69.3 288.7,71.5 288.1,72.5 287.5,73.9 286.9,74.7 286.3,75.1Z M260.5,79.0 259.9,79.0 257.5,78.4 255.9,78.4 254.9,77.9 253.5,77.6 252.3,77.1 251.7,77.0 250.5,77.1 248.9,77.7 247.1,77.8 246.1,78.4 245.7,78.5 243.9,78.2 241.7,78.3 239.7,77.9 238.3,77.9 237.5,77.6 236.7,77.1 235.1,75.7 234.4,74.7 234.0,73.1 233.1,72.1 232.8,71.5 232.7,70.7 233.1,69.1 233.1,68.5 232.8,67.9 232.1,67.2 232.0,65.9 231.9,59.1 232.1,56.1 232.7,55.1 233.6,54.3 234.2,53.1 234.9,52.7 236.4,52.5 236.6,52.3 237.3,51.3 237.9,51.0 238.5,51.0 239.5,51.4 239.9,51.5 241.3,51.0 243.3,50.7 243.9,50.7 246.7,51.3 248.1,52.0 250.1,51.4 253.7,51.1 255.1,51.2 256.7,50.7 257.3,50.8 258.3,51.5 259.9,52.1 261.3,53.4 262.7,53.5 263.1,53.7 263.3,54.1 263.5,55.2 264.4,56.5 264.7,57.9 265.1,58.3 266.7,59.3 267.1,59.7 267.2,60.1 267.3,60.5 266.9,61.9 267.0,65.3 266.7,67.5 266.2,69.1 266.4,70.7 266.4,71.9 266.1,73.1 265.2,74.3 265.1,75.5 264.8,76.1 264.1,76.7 263.3,77.2 261.5,77.9 260.5,79.0Z" fill="none"/>
<path d="M234.5,42.1 233.7,42.2 233.1,41.9 232.5,41.3 232.1,40.3 232.0,37.7 232.1,35.9 233.1,35.2 233.7,35.0 234.7,35.0 236.7,35.6 237.5,35.6 238.4,35.3 239.5,34.8 240.7,34.5 241.2,34.1 241.9,33.2 242.7,32.8 244.5,32.5 246.7,32.6 249.7,32.3 251.5,31.8 253.1,31.7 254.1,31.0 254.7,30.7 257.7,30.5 258.7,30.7 259.7,31.3 261.5,33.0 262.1,33.9 262.2,34.7 262.0,35.3 261.7,35.9 261.0,36.7 260.9,37.5 260.7,37.9 258.9,39.5 256.1,40.8 254.5,40.9 252.9,41.3 250.9,41.1 249.5,41.5 247.1,41.8 244.1,41.5 241.9,41.9 240.5,41.7 237.9,40.6 236.9,40.4 236.5,40.6 235.1,41.8 234.5,42.1Z M285.9,74.1 285.5,74.2 284.9,74.2 284.1,73.9 283.5,73.5 283.1,73.0 281.7,70.5 280.8,67.9 280.5,66.3 279.9,64.7 279.7,62.5 279.8,59.9 280.2,57.9 280.0,56.3 280.0,55.7 280.3,54.9 280.9,53.6 281.5,52.1 282.5,50.5 283.3,49.9 283.9,49.7 286.1,49.6 286.7,50.0 288.6,52.5 288.8,53.1 289.1,54.9 289.2,56.9 289.9,58.3 290.0,58.9 289.6,60.5 289.9,62.1 289.9,62.7 289.2,65.7 289.0,68.9 287.8,71.5 287.0,72.9 286.4,73.7 285.9,74.1Z M259.3,77.7 258.5,77.8 257.7,77.6 256.0,76.9 254.5,76.6 253.1,76.1 250.1,76.0 249.5,76.1 248.3,76.7 246.3,76.9 244.9,77.5 241.9,77.7 241.1,77.6 239.1,76.6 237.7,76.4 237.2,76.1 236.5,74.8 235.8,73.9 235.2,72.5 234.1,71.3 233.9,70.9 233.8,70.1 234.2,68.3 234.0,67.5 233.5,66.8 232.1,65.6 232.0,59.7 232.1,57.1 233.0,56.5 234.2,54.9 234.8,53.7 235.3,53.4 236.5,53.4 236.9,53.3 238.1,52.2 239.9,52.3 241.7,51.8 243.5,52.0 244.9,51.9 245.9,52.1 246.5,52.3 247.3,53.1 247.7,53.2 248.3,53.1 249.5,52.4 250.3,52.1 251.9,52.0 253.7,52.2 256.3,52.1 259.1,53.1 260.2,54.3 261.9,55.3 263.2,56.7 263.7,58.3 264.8,59.7 265.2,60.5 265.6,62.9 265.5,64.7 265.8,65.9 266.0,66.9 265.9,67.7 265.3,69.3 265.6,70.5 265.6,71.5 265.3,72.5 264.5,73.5 264.3,73.9 264.1,75.3 263.7,76.0 262.5,76.7 259.3,77.7Z" fill="none"/>
<path d="M234.5,41.7 233.7,41.8 233.1,41.4 232.6,40.7 232.1,39.5 232.0,37.7 232.1,36.3 232.7,35.8 233.5,35.4 234.1,35.3 234.7,35.4 236.5,36.2 237.1,36.3 240.9,34.9 241.5,34.5 242.3,33.5 243.1,33.2 244.7,32.9 246.7,33.0 249.1,32.6 251.1,32.5 253.3,32.1 254.9,31.2 256.5,31.1 257.7,31.0 258.5,31.1 259.3,31.5 261.0,33.1 261.4,33.7 261.6,34.1 261.6,34.7 261.4,35.3 261.1,35.6 260.1,36.3 259.8,37.5 259.6,37.9 258.0,39.3 256.9,40.0 256.1,40.3 254.5,40.4 252.7,40.8 250.9,40.5 249.1,41.1 247.1,41.4 246.1,41.4 243.7,41.2 241.7,41.5 240.9,41.4 239.9,41.0 238.3,40.1 237.3,39.4 236.9,39.3 236.4,39.5 235.5,41.0 234.5,41.7Z M285.7,73.1 285.1,73.2 284.6,72.9 284.3,72.5 284.1,71.9 282.7,71.0 282.0,70.1 281.2,67.9 280.3,64.9 280.1,63.1 280.2,59.9 280.7,57.7 280.5,56.1 280.5,55.5 281.3,54.1 281.8,52.7 282.1,52.1 283.4,50.7 284.1,50.4 285.5,50.5 286.5,50.8 287.3,51.4 287.9,52.1 288.2,52.9 288.3,54.1 288.7,55.3 288.8,56.9 289.6,58.9 289.3,60.7 289.6,62.1 289.6,62.7 288.7,66.9 288.5,68.9 287.0,71.7 286.3,72.6 285.7,73.1Z M243.1,77.3 241.9,77.3 240.9,76.9 240.3,76.3 239.9,75.5 239.5,75.1 238.9,74.8 237.9,74.8 237.3,74.4 236.9,73.9 236.2,72.7 235.8,71.9 235.7,71.3 236.6,70.1 236.7,69.5 236.5,69.4 235.5,69.2 235.2,67.9 234.9,67.3 233.9,65.8 232.9,64.9 232.5,64.3 232.4,63.7 232.5,62.4 232.1,61.6 232.1,61.1 232.1,57.9 233.9,56.7 235.1,54.4 235.5,54.1 236.9,53.9 238.5,53.0 241.3,52.4 242.3,52.5 243.9,53.1 244.5,53.1 245.5,52.9 245.9,53.0 246.3,53.5 246.4,54.5 246.7,54.8 247.1,54.7 248.5,53.9 250.0,52.9 251.7,52.5 253.5,52.7 255.7,52.7 258.7,53.9 260.6,55.3 261.5,56.5 262.3,57.3 262.9,58.5 263.7,59.5 264.1,60.1 264.8,62.7 264.8,63.5 264.6,65.1 265.2,66.5 265.3,67.1 265.2,67.7 264.6,69.1 264.7,69.5 265.1,70.7 265.1,71.3 264.8,72.1 263.9,73.5 263.7,74.9 263.4,75.5 262.9,75.9 261.9,76.4 259.3,77.2 258.5,77.3 257.7,77.1 256.1,76.3 253.8,75.7 251.5,75.5 249.7,75.1 249.3,75.2 248.3,76.0 247.7,76.3 247.1,76.4 245.5,76.5 244.5,77.0 243.1,77.3Z M244.0,67.5 244.3,67.2 244.4,66.9 244.3,66.6 244.1,66.6 243.7,66.9 243.5,67.3 243.6,67.5 243.7,67.6 244.0,67.5Z" fill="none"/>
<path d="M234.5,41.4 234.1,41.5 233.7,41.4 233.2,41.1 232.8,40.5 232.1,38.9 232.1,36.6 232.7,36.0 233.5,35.6 234.1,35.5 234.9,35.7 235.7,36.1 236.7,36.9 237.1,37.0 238.5,36.2 241.1,35.3 242.5,33.9 243.5,33.5 244.7,33.2 246.5,33.3 249.5,32.9 251.3,33.1 252.3,32.6 253.7,32.2 254.9,31.6 256.5,31.6 257.9,31.4 258.7,31.5 259.3,31.9 260.7,33.3 261.1,34.1 261.1,34.9 260.8,35.3 259.8,36.1 259.4,37.3 259.1,37.7 257.1,39.5 256.1,39.9 254.5,40.0 252.7,40.5 250.8,40.1 248.9,40.8 246.9,41.2 245.5,41.1 243.5,40.9 241.7,41.2 240.9,41.0 239.9,40.6 239.2,40.1 238.1,38.9 237.3,38.4 236.9,38.4 236.5,38.6 236.0,39.1 235.6,40.3 235.4,40.7 234.5,41.4Z M285.9,71.7 285.5,71.6 284.7,71.0 283.1,70.7 282.7,70.5 282.2,69.9 281.8,69.1 280.6,64.9 280.3,62.5 280.4,59.9 281.0,57.7 280.9,56.1 281.0,55.5 281.7,54.3 282.1,53.1 282.5,52.5 284.5,51.3 285.5,51.1 286.1,51.1 286.7,51.4 287.1,51.7 287.6,52.3 287.8,52.9 287.9,54.1 288.4,55.5 288.5,56.9 289.2,58.5 289.3,59.1 289.2,60.7 289.3,62.7 288.3,67.1 288.2,68.7 286.7,71.1 286.3,71.5 285.9,71.7Z M243.5,76.9 242.3,77.1 241.5,76.8 240.9,76.3 240.2,75.3 239.8,74.9 239.1,74.6 237.9,74.3 237.2,73.7 236.6,72.3 236.5,71.7 236.7,71.1 237.7,69.5 237.8,69.1 237.5,68.1 237.3,67.8 236.5,67.7 236.1,67.4 233.3,64.1 233.1,63.5 232.9,62.1 232.6,61.5 232.1,60.8 232.1,58.9 232.2,58.5 232.7,58.0 234.1,57.3 234.5,57.0 235.3,55.3 235.7,54.8 240.3,53.1 241.3,52.9 241.9,52.9 242.5,53.1 245.9,55.3 246.4,55.5 248.3,55.2 250.3,53.6 251.3,53.2 252.1,53.0 255.5,53.2 256.9,53.9 258.3,54.3 259.9,55.3 260.3,55.7 260.9,56.7 261.8,57.7 262.3,58.8 263.2,59.7 264.3,63.1 264.3,63.7 264.1,65.3 264.5,67.3 264.1,69.1 264.2,69.7 264.6,70.7 264.6,71.3 264.4,71.9 263.6,73.1 263.3,74.7 263.0,75.3 262.5,75.7 261.7,76.1 259.1,76.8 258.5,76.9 257.9,76.8 256.5,76.1 254.7,75.4 253.9,75.3 251.7,75.2 249.7,74.5 249.1,74.8 248.0,75.7 247.5,76.0 246.7,76.1 245.3,76.0 244.3,76.6 243.5,76.9Z M243.9,67.9 244.5,67.6 244.7,67.1 244.7,66.5 244.5,66.2 244.3,66.1 244.1,66.1 243.7,66.5 242.9,67.7 243.0,67.9 243.1,68.0 243.9,67.9Z" fill="none"/>
<path d="M247.1,40.9 245.3,40.9 243.5,40.6 241.9,40.9 240.9,40.7 240.1,40.3 239.6,39.9 238.9,38.8 238.0,37.9 237.9,37.3 238.1,36.9 238.7,36.5 240.1,36.1 241.3,35.5 242.9,34.1 244.5,33.5 246.3,33.5 249.5,33.1 250.1,33.1 251.1,33.5 251.5,33.5 252.5,32.9 253.9,32.5 254.9,32.0 255.5,31.9 256.7,32.0 258.1,31.7 258.5,31.8 259.1,32.1 260.0,32.9 260.6,33.7 260.8,34.3 260.7,34.7 259.6,35.9 259.0,37.3 256.7,39.4 255.9,39.7 254.5,39.6 252.7,40.2 250.9,39.8 248.7,40.6 247.1,40.9Z M234.5,41.1 233.9,41.2 233.3,40.9 232.9,40.3 232.1,38.4 232.1,37.1 232.2,36.7 232.9,36.1 233.7,35.8 234.5,35.8 235.3,36.2 236.1,36.9 236.3,37.5 236.3,37.9 235.7,39.1 235.4,40.3 235.1,40.7 234.5,41.1Z M285.9,70.6 283.5,70.5 282.9,70.2 282.4,69.7 282.0,68.9 280.8,64.9 280.5,62.3 280.6,59.9 281.2,57.7 281.2,56.1 281.4,55.5 282.0,54.5 282.8,53.1 283.9,52.5 284.9,51.7 285.7,51.4 286.3,51.5 286.7,51.7 287.1,52.1 287.4,52.7 287.7,54.3 288.1,55.7 288.3,56.9 289.1,58.9 289.0,60.7 289.2,62.3 288.8,64.5 288.1,67.1 287.8,68.7 287.3,69.4 285.9,70.6Z M243.3,76.7 242.5,76.8 241.7,76.6 241.3,76.3 240.2,74.9 239.5,74.5 238.1,74.1 237.5,73.5 237.1,72.3 237.0,71.7 237.1,71.3 237.4,70.7 238.4,69.7 238.5,69.3 238.2,67.3 237.1,65.6 236.7,65.4 235.7,65.5 235.3,65.4 234.5,64.7 233.8,63.9 233.1,61.6 232.3,60.1 232.2,59.5 232.6,58.7 233.1,58.2 234.8,57.3 235.6,55.7 236.1,55.1 238.1,54.3 239.5,54.3 240.5,53.5 241.3,53.3 241.9,53.4 242.3,53.5 243.7,54.5 244.7,55.0 245.9,55.7 246.3,55.8 248.7,55.7 249.0,55.5 249.9,54.5 251.7,53.7 252.3,53.6 254.7,53.4 255.5,53.6 256.7,54.6 258.3,54.9 259.7,55.7 260.5,57.0 261.3,57.9 261.9,59.3 262.5,59.9 262.6,60.3 262.5,61.3 263.6,62.7 263.9,63.3 263.9,63.7 263.6,65.3 263.8,67.1 263.8,69.3 264.2,71.1 264.0,71.7 263.3,72.9 263.0,74.5 262.8,75.1 262.1,75.6 261.1,75.9 258.9,76.5 258.3,76.5 257.5,76.3 254.9,74.7 253.1,75.0 251.9,75.0 251.1,74.8 250.1,74.3 249.7,74.2 249.1,74.4 247.9,75.4 247.3,75.8 246.7,75.9 245.5,75.6 245.1,75.6 244.1,76.4 243.3,76.7Z M243.3,68.3 244.5,68.0 244.9,67.7 245.0,67.3 244.9,66.5 244.8,66.1 244.5,65.8 244.1,65.9 243.8,66.1 242.4,67.9 242.4,68.1 242.6,68.3 243.3,68.3Z" fill="none"/>
<path d="M246.9,40.7 245.1,40.7 243.5,40.4 241.9,40.6 240.9,40.4 240.1,39.9 239.7,39.5 239.1,38.3 238.6,37.7 238.6,37.3 238.9,36.9 241.5,35.8 242.5,34.8 243.1,34.3 244.5,33.8 246.1,33.8 249.5,33.3 250.1,33.4 251.1,33.8 251.5,33.9 251.9,33.7 252.7,33.1 254.3,32.7 255.1,32.4 255.5,32.3 256.7,32.5 258.1,32.0 258.5,32.1 259.1,32.4 259.8,33.1 260.3,33.7 260.4,34.1 260.4,34.5 259.5,35.7 258.8,37.1 258.5,37.5 256.5,39.2 255.9,39.4 254.5,39.3 252.7,39.9 250.9,39.6 248.3,40.5 246.9,40.7Z M234.3,41.0 233.7,40.9 233.2,40.5 232.3,38.7 232.1,37.9 232.2,37.1 232.5,36.6 233.1,36.2 233.9,35.9 234.7,36.1 235.3,36.4 235.8,36.9 236.0,37.5 235.9,38.1 235.4,39.1 235.1,40.3 234.8,40.7 234.3,41.0Z M285.3,70.1 284.5,70.3 283.5,70.2 282.9,69.9 282.5,69.5 282.2,68.9 281.7,66.9 280.9,64.9 280.7,63.7 280.6,62.1 280.8,59.9 281.5,57.7 281.5,56.3 281.6,55.7 283.1,53.4 284.1,52.8 285.1,52.0 285.9,51.7 286.3,51.8 286.7,52.0 287.1,52.5 287.2,52.9 287.4,54.3 287.8,55.5 288.1,56.9 288.9,58.9 288.9,60.9 289.0,62.5 288.6,64.9 287.8,67.1 287.5,68.6 287.1,69.0 285.3,70.1Z M243.1,76.5 242.5,76.6 241.9,76.4 240.2,74.7 239.5,74.3 238.3,73.9 237.8,73.5 237.5,72.1 237.5,71.3 238.0,70.7 238.9,70.4 239.1,70.1 238.6,67.5 237.3,65.4 236.9,65.1 235.5,65.0 234.9,64.6 234.3,63.9 233.3,61.2 232.8,60.1 232.7,59.5 233.0,58.9 233.6,58.3 234.7,57.8 235.1,57.5 235.8,55.9 236.5,55.3 237.5,54.8 238.3,54.6 238.9,54.7 239.7,55.3 240.1,55.3 240.3,55.1 240.6,54.1 240.9,53.9 241.3,53.7 242.1,53.9 243.3,54.7 246.1,56.0 248.9,56.0 249.3,55.8 249.9,55.0 250.3,54.7 252.5,54.1 254.5,53.8 255.3,53.9 256.7,55.1 258.1,55.4 259.0,55.9 259.5,56.4 260.9,58.3 261.1,59.7 261.0,61.1 261.3,62.1 261.7,62.4 262.9,62.8 263.2,63.1 263.4,63.5 263.2,65.1 263.4,66.9 263.7,71.1 263.6,71.5 262.9,72.7 262.8,74.3 262.5,74.9 262.1,75.2 261.3,75.6 258.3,76.2 257.5,75.9 256.4,75.3 255.1,73.9 254.7,73.9 253.7,74.6 252.3,74.8 251.3,74.6 250.1,74.0 249.5,73.9 248.9,74.1 247.7,75.3 247.3,75.5 246.5,75.6 245.1,75.3 244.7,75.5 243.7,76.3 243.1,76.5Z M246.7,70.5 247.2,70.1 247.6,69.1 247.9,68.6 248.3,68.4 249.3,68.5 249.5,68.3 249.5,68.1 249.3,67.9 248.9,67.7 248.1,68.0 247.1,67.6 245.7,67.8 245.4,67.5 245.0,65.9 244.5,65.6 244.1,65.6 243.7,66.0 242.1,67.9 241.9,68.3 242.0,68.5 242.5,68.6 244.5,68.3 245.1,68.3 245.4,68.5 245.6,68.9 246.1,70.2 246.3,70.4 246.7,70.5Z M254.7,72.3 254.8,71.9 254.7,71.7 254.3,71.7 254.1,71.9 254.1,72.2 254.3,72.4 254.5,72.4 254.7,72.3Z" fill="none"/>
<path d="M246.9,40.5 245.1,40.6 243.5,40.1 241.9,40.4 241.1,40.2 240.3,39.7 239.9,39.3 239.6,38.5 239.4,37.5 240.0,36.9 241.7,36.0 243.1,34.7 243.9,34.2 244.5,34.0 246.1,33.9 247.7,33.6 249.3,33.5 249.9,33.6 251.1,34.1 251.7,34.1 252.1,34.0 252.7,33.4 253.1,33.2 255.5,32.7 256.7,32.8 258.1,32.3 258.5,32.3 259.1,32.7 260.0,33.7 260.1,34.1 260.0,34.5 259.3,35.6 258.6,37.1 256.5,38.9 255.9,39.1 254.5,39.0 253.3,39.5 252.7,39.7 251.3,39.4 250.9,39.4 248.2,40.3 246.9,40.5Z M234.3,40.8 233.7,40.7 233.3,40.3 232.5,38.7 232.2,37.9 232.3,37.3 232.6,36.7 233.1,36.3 233.7,36.1 234.5,36.2 235.1,36.5 235.5,36.9 235.8,37.5 235.7,38.1 235.2,39.1 235.0,40.1 234.7,40.5 234.3,40.8Z M284.9,69.9 284.1,70.0 283.5,70.0 282.9,69.7 282.5,69.2 282.0,67.1 281.0,64.7 280.8,63.1 280.8,62.1 281.0,59.9 281.6,57.7 281.7,56.3 281.8,55.7 283.3,53.7 284.3,53.0 285.3,52.2 285.9,52.0 286.5,52.2 286.9,52.7 287.2,54.3 287.7,55.7 287.9,56.9 288.7,58.7 288.8,59.3 288.8,60.9 288.8,62.5 288.4,65.1 288.1,66.0 287.5,67.1 287.2,68.3 286.9,68.6 286.1,69.0 285.3,69.7 284.9,69.9Z M242.9,76.3 242.5,76.3 242.0,76.1 240.5,74.7 238.4,73.7 238.1,73.3 238.0,72.7 238.1,71.5 238.5,71.3 239.3,71.3 239.5,71.2 239.7,70.7 239.7,69.9 239.3,68.7 239.0,67.7 238.8,67.1 237.4,65.1 236.9,64.9 235.9,64.8 235.5,64.7 235.1,64.4 234.7,63.9 233.1,59.9 233.2,59.3 233.4,58.9 233.9,58.4 235.1,57.9 235.4,57.5 236.0,56.1 236.4,55.7 236.9,55.4 237.7,55.0 238.3,54.9 238.9,55.1 239.7,55.6 240.1,55.7 240.6,55.3 241.1,54.4 241.5,54.2 242.1,54.3 243.1,54.9 244.5,55.5 245.6,56.1 246.1,56.2 247.5,56.2 249.1,56.3 249.4,56.1 250.0,55.3 250.5,55.0 253.5,54.2 254.5,54.1 255.3,54.4 256.7,55.4 258.1,55.9 259.7,57.5 260.4,58.9 260.7,59.7 260.7,61.5 261.1,62.6 261.7,63.2 262.5,63.6 262.7,63.9 262.7,64.9 263.2,66.9 263.4,70.7 263.3,71.3 262.5,72.7 262.5,74.1 262.3,74.6 262.0,74.9 261.5,75.2 258.7,75.8 258.1,75.8 257.5,75.6 256.4,74.9 255.4,73.3 255.3,72.9 255.5,71.9 255.5,71.5 255.1,71.2 254.5,71.1 254.0,71.3 253.7,71.7 253.6,72.3 254.0,73.1 254.1,73.5 254.0,73.9 253.5,74.4 252.7,74.6 251.7,74.6 251.1,74.4 249.9,73.7 249.3,73.7 248.7,73.9 247.7,75.0 247.2,75.3 246.5,75.4 245.3,75.0 244.9,75.0 243.7,76.0 242.9,76.3Z M247.1,70.7 247.4,70.5 248.3,69.4 249.7,69.2 250.1,68.9 250.2,68.7 250.2,68.1 250.0,67.5 249.3,66.7 248.5,66.1 248.3,66.1 247.9,66.2 246.5,67.1 245.9,67.2 245.6,66.9 245.1,65.7 244.7,65.4 244.3,65.4 243.7,65.7 242.8,66.9 241.7,67.9 241.4,68.3 241.6,68.7 242.1,68.8 244.1,68.5 244.9,68.6 245.4,69.1 246.1,70.6 246.5,70.8 247.1,70.7Z" fill="none"/>
<path d="M246.9,40.3 245.3,40.4 243.5,39.9 242.1,40.1 241.3,40.0 240.5,39.6 240.1,39.1 239.9,38.5 239.9,37.7 240.3,37.1 240.7,36.8 241.7,36.3 243.1,35.0 243.9,34.5 244.5,34.3 245.9,34.1 247.7,33.8 249.3,33.7 250.1,33.8 251.1,34.3 251.9,34.4 252.3,34.2 252.9,33.6 253.3,33.4 255.7,33.0 256.9,33.0 258.1,32.5 258.5,32.6 258.9,32.8 259.6,33.5 259.8,34.1 259.7,34.5 258.5,36.9 258.2,37.3 256.5,38.6 255.9,38.8 254.5,38.7 253.3,39.3 252.7,39.4 251.3,39.2 250.9,39.2 248.1,40.1 246.9,40.3Z M234.3,40.6 233.9,40.6 233.5,40.3 232.6,38.7 232.4,37.9 232.4,37.3 232.7,36.7 233.1,36.4 233.7,36.2 234.3,36.3 234.9,36.5 235.3,36.9 235.6,37.5 235.5,38.1 235.0,39.1 234.8,40.1 234.3,40.6Z M284.7,69.7 284.1,69.8 283.5,69.8 283.0,69.5 282.7,69.1 282.5,68.5 282.3,67.1 281.2,64.7 280.9,63.3 280.9,62.1 281.2,59.9 281.8,57.7 281.9,56.3 282.0,55.7 283.3,54.0 284.5,53.2 285.3,52.5 285.9,52.3 286.4,52.5 286.7,52.9 287.0,54.5 287.5,55.7 287.8,57.1 288.6,58.9 288.7,62.7 288.5,64.1 288.2,65.5 287.3,67.1 286.9,68.0 285.3,69.4 284.7,69.7Z M243.3,75.9 242.7,76.1 242.1,75.9 240.9,74.7 238.9,73.7 238.4,73.3 238.3,72.9 238.5,72.5 239.5,71.8 239.9,71.1 240.1,69.9 239.9,68.7 239.3,67.5 238.3,66.2 237.7,65.1 237.1,64.8 235.7,64.5 235.0,63.9 233.6,60.1 233.5,59.5 233.7,59.0 234.1,58.6 235.3,58.1 236.2,56.3 236.5,55.9 237.1,55.5 237.7,55.2 238.3,55.1 238.7,55.2 239.7,55.9 240.1,55.9 240.6,55.7 241.3,54.9 241.7,54.7 242.1,54.8 244.3,55.6 245.7,56.3 247.5,56.3 248.9,56.6 249.5,56.4 250.3,55.5 250.7,55.3 253.5,54.5 254.5,54.4 255.1,54.6 256.3,55.5 257.9,56.3 259.3,57.7 260.2,59.3 260.4,59.9 260.5,61.5 260.7,62.4 261.1,63.1 262.1,64.5 262.9,66.5 263.2,69.1 263.2,70.3 263.0,71.1 262.4,72.1 262.1,72.7 262.0,73.1 262.1,74.1 261.9,74.5 261.5,74.8 260.5,74.8 258.5,75.5 258.1,75.5 257.5,75.4 256.6,74.7 255.8,73.3 255.7,72.7 256.0,71.5 255.9,71.2 255.5,71.0 254.5,70.8 253.9,71.0 253.5,71.5 253.4,72.1 253.7,73.5 253.6,73.9 253.1,74.3 252.5,74.4 251.7,74.4 251.1,74.2 249.9,73.5 249.1,73.4 248.5,73.7 247.5,74.8 247.1,75.1 246.5,75.2 245.3,74.7 244.9,74.7 244.5,74.9 243.3,75.9Z M247.2,70.9 248.5,69.8 249.7,69.5 250.2,69.3 250.5,68.9 250.6,68.5 250.6,67.7 250.3,67.1 249.3,65.5 248.8,64.9 248.3,64.5 247.7,64.5 247.3,64.7 246.5,66.1 246.1,66.4 245.9,66.3 245.5,65.7 245.0,65.3 244.5,65.1 244.1,65.2 243.7,65.5 242.5,67.0 241.1,67.9 240.7,68.3 240.8,68.7 241.0,68.9 241.5,69.1 242.3,69.0 243.9,68.7 244.7,68.8 245.2,69.3 245.7,70.3 246.1,70.8 246.7,71.0 247.2,70.9Z M260.7,73.9 260.8,73.5 260.5,73.3 260.3,73.5 260.3,73.9 260.5,74.0 260.7,73.9Z" fill="none"/>
<path d="M246.7,40.1 245.3,40.3 243.5,39.7 242.1,39.9 241.3,39.8 240.7,39.5 240.2,38.9 240.1,38.3 240.2,37.7 240.7,37.0 241.9,36.5 243.3,35.1 244.1,34.6 244.7,34.4 245.9,34.3 247.5,33.9 249.1,33.8 249.9,34.0 251.3,34.5 252.1,34.6 252.5,34.4 253.1,33.8 253.5,33.6 255.7,33.3 256.9,33.2 258.1,32.8 258.7,32.9 259.3,33.5 259.5,33.9 259.4,34.5 258.5,36.7 257.9,37.3 256.5,38.4 255.9,38.6 254.5,38.4 252.9,39.2 252.3,39.2 251.1,39.0 248.1,39.9 246.7,40.1Z M234.3,40.3 233.9,40.3 233.5,40.0 232.7,38.7 232.5,37.9 232.5,37.3 232.7,36.9 233.1,36.5 233.7,36.3 234.3,36.4 234.9,36.7 235.3,37.1 235.4,37.5 235.4,38.1 234.8,39.1 234.7,39.9 234.3,40.3Z M284.5,69.6 283.9,69.6 283.5,69.6 283.1,69.3 282.8,68.9 282.6,68.3 282.5,67.1 281.5,65.3 281.3,64.5 281.0,63.1 281.0,62.1 281.3,60.3 281.9,57.9 282.0,56.3 282.2,55.7 282.9,54.7 283.5,54.0 284.7,53.4 285.5,52.7 285.9,52.6 286.3,52.8 286.5,53.1 286.9,54.7 287.4,55.9 287.7,57.1 288.5,58.9 288.6,59.7 288.6,62.9 288.2,64.9 287.8,66.1 286.5,67.9 285.1,69.2 284.5,69.6Z M243.1,75.7 242.7,75.8 242.3,75.7 241.1,74.7 238.9,73.3 238.8,73.1 238.9,72.8 239.5,72.2 239.9,71.7 240.5,69.6 240.9,69.4 241.9,69.3 243.7,68.9 244.3,68.9 244.7,69.0 245.0,69.3 245.7,70.6 246.1,71.0 246.7,71.2 247.3,71.1 248.7,70.2 250.2,69.5 250.8,68.9 251.0,68.3 250.9,67.7 250.2,65.7 249.9,65.3 248.5,64.3 247.7,64.2 247.1,64.4 246.1,65.5 245.7,65.4 244.7,64.9 244.1,65.1 243.6,65.5 242.7,66.6 242.1,67.1 241.1,67.6 240.5,67.7 240.1,67.6 239.5,67.2 238.7,66.4 237.7,64.9 237.3,64.6 235.9,64.4 235.3,63.9 235.0,63.3 234.7,62.1 234.2,61.1 233.9,60.1 233.8,59.5 234.0,59.1 234.3,58.8 235.5,58.3 235.8,57.9 236.2,56.7 236.5,56.2 237.3,55.6 238.1,55.3 238.7,55.5 239.7,56.0 240.1,56.1 240.6,55.9 241.5,55.2 242.1,55.1 243.9,55.7 245.5,56.5 247.5,56.5 249.1,56.9 249.6,56.7 250.3,55.8 250.7,55.6 253.5,54.8 254.3,54.7 255.1,54.9 257.7,56.4 259.1,58.0 260.1,59.5 260.2,60.1 260.3,61.5 260.5,62.4 260.9,63.3 262.3,65.7 262.7,66.7 263.1,69.1 263.0,70.3 262.8,70.9 261.7,72.7 261.3,73.0 260.5,73.0 260.1,73.1 259.9,73.5 259.8,74.5 259.4,74.9 258.5,75.3 257.7,75.2 257.2,74.9 256.8,74.5 256.1,73.3 256.0,72.5 256.3,71.3 256.1,70.9 255.7,70.7 254.3,70.5 253.7,70.8 253.3,71.4 253.2,72.1 253.4,73.5 253.2,73.9 252.9,74.1 252.3,74.3 251.5,74.2 249.7,73.2 248.9,73.2 248.3,73.5 247.3,74.7 246.9,74.9 246.5,74.9 245.3,74.5 244.9,74.5 244.5,74.7 243.1,75.7Z" fill-opacity="0.15"/>
<path d="M245.9,40.1 245.1,40.1 243.5,39.6 241.9,39.7 241.2,39.5 240.7,39.2 240.4,38.7 240.3,38.1 240.4,37.7 240.9,37.2 242.1,36.6 242.8,35.7 243.3,35.3 244.1,34.8 244.7,34.6 245.9,34.4 247.3,34.0 248.3,34.0 249.5,34.1 251.3,34.7 252.3,34.8 252.7,34.6 253.3,34.0 253.7,33.8 255.9,33.4 257.1,33.3 258.1,33.0 258.7,33.2 259.1,33.7 259.2,34.1 259.2,34.5 258.3,36.7 257.7,37.3 256.5,38.2 255.9,38.4 254.5,38.1 252.9,39.0 252.5,39.0 251.1,38.9 249.7,39.3 245.9,40.1Z M234.1,40.1 233.7,40.0 233.5,39.7 232.8,38.7 232.6,37.9 232.6,37.3 232.8,36.9 233.3,36.6 233.7,36.4 234.1,36.5 234.7,36.7 235.1,37.1 235.3,37.5 235.3,38.1 234.7,39.1 234.5,39.8 234.3,40.1 234.1,40.1Z M284.5,69.3 283.9,69.4 283.5,69.4 283.1,69.1 282.9,68.8 282.7,67.0 281.7,65.3 281.4,64.5 281.1,63.1 281.1,62.1 281.3,60.7 282.1,57.9 282.2,56.3 282.3,55.7 282.9,54.9 283.5,54.2 284.9,53.5 285.5,53.1 285.9,53.0 286.3,53.3 286.7,54.7 287.2,55.9 287.6,57.1 288.4,58.9 288.5,59.7 288.5,63.1 288.2,64.7 287.7,66.0 286.3,67.7 285.1,69.0 284.5,69.3Z M243.1,75.4 242.7,75.4 242.3,75.3 239.3,73.3 239.3,72.9 240.1,71.8 240.7,69.9 241.1,69.6 243.3,69.1 244.3,69.0 244.9,69.4 245.7,70.8 246.1,71.2 246.9,71.4 247.7,71.2 250.5,69.5 251.1,68.9 251.3,68.3 251.2,67.7 250.6,65.3 250.4,65.1 249.5,64.8 248.5,64.1 248.1,64.0 247.5,64.0 246.9,64.2 246.3,64.8 245.9,65.1 244.7,64.7 244.1,64.9 243.5,65.4 242.5,66.7 241.7,67.2 240.9,67.4 240.1,67.2 239.5,66.9 238.8,66.3 237.8,64.7 237.3,64.5 236.1,64.2 235.4,63.7 235.2,63.1 235.0,61.9 234.5,61.1 234.2,60.3 234.1,59.7 234.2,59.3 234.5,59.0 235.3,58.7 235.6,58.5 235.9,58.1 236.2,57.1 236.5,56.5 237.1,55.9 237.9,55.6 238.5,55.6 239.5,56.1 239.9,56.2 240.5,56.1 241.7,55.4 242.3,55.4 243.5,55.8 245.3,56.6 247.5,56.7 249.1,57.1 249.7,56.9 250.5,56.0 250.9,55.8 253.3,55.0 254.1,55.0 255.1,55.2 257.5,56.5 259.1,58.3 259.9,59.5 260.1,60.1 260.2,61.7 260.4,62.7 261.3,64.7 262.1,65.9 262.5,66.9 262.9,68.9 262.9,70.1 262.6,70.9 261.7,72.3 261.3,72.7 260.1,72.8 259.9,73.0 259.6,74.3 259.3,74.7 258.7,75.0 257.9,75.0 257.5,74.9 257.0,74.5 256.3,73.3 256.2,72.5 256.5,71.3 256.3,70.7 255.9,70.5 254.1,70.1 253.7,70.4 253.1,71.5 253.0,72.1 253.1,73.3 253.0,73.7 252.7,74.0 252.1,74.1 251.5,74.1 249.7,73.1 249.1,72.9 248.7,72.9 248.1,73.2 247.3,74.3 246.9,74.6 246.5,74.7 245.5,74.3 244.9,74.3 243.1,75.4Z" fill-opacity="0.15"/>
<path d="M245.9,39.9 245.1,39.9 243.3,39.4 242.1,39.5 241.3,39.3 240.9,39.1 240.6,38.7 240.5,38.3 240.5,37.9 241.0,37.3 242.1,36.9 242.8,35.9 243.3,35.4 244.5,34.8 245.9,34.6 247.3,34.1 248.1,34.1 249.5,34.2 251.5,34.9 252.3,35.0 252.7,34.9 253.5,34.1 254.1,33.9 255.9,33.6 257.1,33.5 258.1,33.2 258.5,33.3 258.9,33.7 259.0,34.1 259.0,34.5 258.2,36.5 257.8,37.1 256.5,38.0 255.9,38.2 254.3,37.9 252.9,38.8 252.5,38.8 251.1,38.7 249.5,39.2 248.1,39.4 247.1,39.5 245.9,39.9Z M234.1,39.9 233.7,39.7 233.1,38.9 232.8,38.5 232.6,37.9 232.7,37.4 232.9,37.0 233.3,36.7 233.7,36.5 234.3,36.6 234.7,36.8 235.0,37.1 235.2,37.5 235.2,37.9 235.1,38.3 234.3,39.7 234.1,39.9Z M284.5,69.1 283.7,69.2 283.3,69.0 283.1,68.7 282.9,67.0 281.7,65.1 281.4,64.3 281.2,63.1 281.2,62.1 281.4,60.9 281.9,59.3 282.2,57.7 282.3,56.3 282.5,55.7 283.1,54.8 283.7,54.3 285.7,53.4 285.9,53.4 286.1,53.7 287.1,55.9 287.5,57.3 288.3,58.9 288.4,59.7 288.4,62.9 288.2,64.5 287.6,65.9 286.1,67.7 284.9,68.9 284.5,69.1Z M243.5,74.9 242.9,75.1 242.3,74.9 240.2,73.7 239.8,73.3 239.8,72.9 240.9,70.1 241.3,69.8 243.1,69.2 244.1,69.1 244.8,69.5 245.6,70.9 246.1,71.4 247.1,71.6 248.1,71.3 251.1,69.3 251.4,68.9 251.6,68.3 251.5,67.3 251.1,65.5 250.9,65.1 250.6,64.9 249.5,64.5 248.5,63.9 247.5,63.8 246.9,64.0 245.9,64.7 245.5,64.7 244.7,64.5 244.3,64.6 243.5,65.2 242.7,66.3 242.1,66.8 241.3,67.1 240.3,67.1 239.5,66.6 238.9,66.1 237.9,64.6 237.3,64.3 236.2,64.1 235.7,63.7 235.4,63.1 235.3,61.7 234.7,60.9 234.4,60.3 234.4,59.7 234.5,59.4 235.7,58.7 236.0,58.3 236.4,57.1 236.7,56.5 237.3,56.0 237.9,55.7 238.5,55.8 239.5,56.3 239.9,56.3 240.5,56.2 241.7,55.6 242.3,55.6 243.3,55.9 244.9,56.8 245.7,56.8 247.3,56.8 249.1,57.3 249.7,57.1 250.5,56.3 251.1,56.0 252.9,55.4 253.9,55.2 255.3,55.5 257.3,56.5 259.1,58.6 259.7,59.5 259.9,60.1 260.1,62.1 260.7,64.3 260.7,64.7 259.9,65.3 259.9,66.0 260.1,66.2 260.5,66.3 261.3,65.7 261.7,65.9 262.1,66.5 262.6,67.9 262.8,69.1 262.8,70.1 262.6,70.7 261.6,72.1 261.1,72.5 260.0,72.7 259.7,72.9 259.5,74.1 259.1,74.6 258.5,74.8 257.7,74.7 257.0,74.1 256.5,73.1 256.4,72.5 256.7,71.3 256.5,70.7 256.1,70.3 254.7,69.9 253.7,69.1 253.5,69.2 253.4,70.1 252.9,71.7 252.9,73.3 252.7,73.7 252.5,73.8 251.9,74.0 251.3,73.9 249.7,72.9 248.7,72.6 248.1,72.8 247.1,74.0 246.7,74.3 246.3,74.3 245.1,74.1 244.5,74.3 243.5,74.9Z" fill-opacity="0.15"/>
<path d="M245.7,39.8 244.9,39.7 243.3,39.2 242.1,39.3 241.5,39.2 241.1,39.0 240.8,38.7 240.7,38.3 240.8,37.9 241.1,37.5 242.2,37.1 243.0,35.9 243.9,35.2 244.5,34.9 245.9,34.7 247.3,34.2 248.1,34.2 249.1,34.3 252.3,35.2 252.7,35.2 253.5,34.3 254.1,34.0 256.1,33.7 258.1,33.5 258.5,33.7 258.7,33.9 258.7,34.3 258.7,34.9 258.1,36.5 257.6,37.1 256.5,37.8 255.7,38.0 254.3,37.7 253.9,37.8 253.1,38.5 252.7,38.6 251.3,38.6 249.5,39.0 248.1,39.2 246.9,39.2 245.7,39.8Z M234.1,39.5 233.7,39.4 233.3,39.0 232.9,38.5 232.7,37.9 232.8,37.5 232.9,37.1 233.3,36.8 233.7,36.6 234.5,36.8 234.9,37.1 235.1,37.5 235.1,37.9 235.0,38.3 234.1,39.5Z M284.5,68.9 283.9,69.0 283.5,68.9 283.3,68.7 283.1,67.1 281.9,65.1 281.5,64.3 281.3,63.1 281.3,62.1 281.5,60.9 282.1,59.5 282.4,56.5 282.6,55.7 283.2,54.9 283.9,54.3 285.7,53.9 286.1,54.2 286.9,55.8 287.4,57.3 288.2,58.9 288.3,59.9 288.3,63.1 288.0,64.7 287.5,65.9 285.9,67.7 284.5,68.9Z M243.3,74.8 242.7,74.8 242.1,74.6 240.7,73.8 240.2,73.3 240.2,72.9 240.6,71.3 240.8,70.5 241.1,70.2 243.1,69.4 244.1,69.3 244.5,69.4 244.8,69.7 245.5,71.0 245.9,71.4 246.7,71.7 248.1,71.9 248.3,71.8 249.8,70.3 251.4,69.3 251.9,68.9 252.0,68.3 251.7,66.3 251.3,65.3 250.9,64.8 249.7,64.4 248.5,63.7 247.9,63.6 246.9,63.8 245.7,64.5 244.7,64.3 244.3,64.4 243.4,65.1 242.3,66.5 241.7,66.9 240.7,67.0 239.7,66.6 238.9,65.9 238.4,64.9 238.0,64.5 237.5,64.2 236.3,64.0 235.9,63.7 235.6,63.1 235.5,61.5 234.9,60.7 234.7,60.3 234.7,59.7 234.9,59.5 235.7,59.0 235.9,58.7 236.7,56.7 237.3,56.2 237.9,55.9 238.5,55.9 239.5,56.4 239.9,56.5 240.5,56.3 241.7,55.8 242.3,55.8 242.9,55.9 243.5,56.2 244.3,57.1 247.1,56.9 247.7,57.0 248.9,57.5 249.3,57.5 249.7,57.3 251.1,56.2 252.5,55.7 253.5,55.5 255.5,55.8 257.3,56.7 259.1,58.9 259.8,60.1 260.0,62.3 260.4,64.1 260.2,64.5 259.7,65.1 259.6,65.5 259.7,66.1 259.9,66.3 260.3,66.6 260.7,66.6 261.3,66.3 261.7,66.4 262.1,67.0 262.6,68.3 262.8,69.3 262.7,70.1 262.4,70.7 261.5,72.0 260.9,72.5 259.7,72.7 259.3,74.1 258.9,74.5 258.3,74.7 257.7,74.5 257.1,74.0 256.6,73.1 256.6,72.5 256.8,71.1 256.5,70.4 256.1,70.1 254.9,69.7 253.9,68.6 253.3,68.4 253.0,68.5 252.8,68.9 253.1,70.3 252.8,71.7 252.8,73.1 252.6,73.5 252.4,73.7 251.9,73.8 251.3,73.7 249.5,72.6 248.3,72.1 248.1,72.2 247.1,73.5 246.7,73.9 246.3,74.0 245.5,73.9 244.9,74.0 243.3,74.8Z M253.9,57.5 254.3,57.3 254.4,57.1 254.3,56.8 254.1,56.7 253.9,56.8 253.8,57.1 253.8,57.3 253.9,57.5Z" fill-opacity="0.15"/>
<path d="M245.7,39.5 244.9,39.6 243.1,39.0 241.5,39.0 241.1,38.7 240.9,38.1 241.3,37.6 242.3,37.3 242.9,36.1 243.7,35.4 244.5,35.0 245.7,34.9 247.1,34.4 247.7,34.3 248.5,34.3 252.5,35.4 252.9,35.3 253.7,34.4 254.3,34.1 256.1,33.8 257.9,33.7 258.3,33.9 258.5,34.1 258.5,34.9 257.9,36.5 257.4,37.1 256.5,37.7 255.7,37.8 254.5,37.5 254.1,37.5 253.7,37.7 253.1,38.3 252.7,38.4 251.1,38.5 249.9,38.8 248.3,39.0 246.9,39.0 246.5,39.1 245.7,39.5Z M234.1,39.3 233.7,39.2 233.3,38.9 233.0,38.5 232.8,37.9 232.8,37.5 233.0,37.1 233.3,36.9 233.7,36.7 234.1,36.7 234.5,36.9 234.9,37.3 235.0,37.7 234.9,38.3 234.1,39.3Z M284.3,68.8 283.9,68.8 283.5,68.5 283.2,66.9 281.8,64.7 281.5,63.5 281.4,62.1 281.6,60.9 282.3,59.5 282.5,56.5 282.7,55.7 283.3,54.9 283.9,54.5 284.5,54.3 285.5,54.2 285.9,54.4 286.7,55.7 288.1,58.9 288.2,59.9 288.2,63.3 287.9,64.7 287.4,65.9 285.7,67.7 284.7,68.5 284.3,68.8Z M258.9,74.3 258.5,74.5 257.9,74.4 257.5,74.2 257.1,73.7 256.7,72.7 256.9,71.1 256.5,70.2 256.1,69.9 255.1,69.5 254.1,68.4 253.7,68.1 252.5,67.7 252.2,66.5 251.3,64.9 250.7,64.5 249.7,64.3 248.7,63.5 248.1,63.4 247.3,63.5 246.7,63.6 245.7,64.2 244.7,64.1 244.3,64.2 243.3,65.1 242.1,66.5 241.7,66.7 241.1,66.8 240.3,66.7 239.5,66.2 239.0,65.7 238.5,64.7 238.1,64.4 236.2,63.7 235.8,63.3 235.7,62.9 235.8,61.5 235.1,60.5 235.0,59.9 236.1,58.7 236.6,57.3 236.9,56.7 237.5,56.2 238.1,56.0 239.9,56.6 241.7,56.0 242.3,56.0 243.2,56.3 243.4,56.5 243.8,57.3 244.1,57.5 244.5,57.6 245.5,57.2 246.9,57.1 247.5,57.1 248.7,57.6 249.3,57.7 249.7,57.6 251.1,56.4 252.3,56.0 253.1,55.8 253.5,55.9 253.7,56.1 253.4,57.5 253.5,57.7 253.9,57.8 254.2,57.7 254.5,57.4 254.6,57.1 254.7,56.3 254.9,56.1 255.7,56.1 257.1,56.7 259.1,59.1 259.5,59.7 259.7,60.3 259.8,62.3 260.1,63.9 259.5,65.1 259.4,65.7 259.5,66.1 259.8,66.5 260.1,66.7 260.5,66.8 261.3,66.7 261.7,66.9 262.3,67.8 262.7,69.1 262.6,69.7 262.5,70.3 261.5,71.8 260.9,72.3 259.7,72.5 259.5,72.6 259.2,73.9 258.9,74.3Z M243.5,74.5 242.7,74.6 241.2,73.9 240.5,73.3 240.4,72.7 240.8,71.1 241.2,70.3 242.9,69.5 243.9,69.4 244.3,69.5 244.7,69.8 245.7,71.4 246.3,71.8 247.1,72.1 247.3,72.3 247.4,72.5 247.1,73.1 246.5,73.6 244.9,73.8 243.5,74.5Z M252.3,73.5 251.7,73.7 250.9,73.4 249.4,72.3 249.0,71.7 249.2,71.1 249.9,70.3 250.7,69.8 251.7,69.4 252.3,69.5 252.6,69.9 252.8,70.3 252.6,72.9 252.5,73.3 252.3,73.5Z" fill-opacity="0.15" stroke-opacity="0.65"/>
<path d="M245.5,39.4 244.7,39.3 242.7,38.7 241.7,38.7 241.3,38.5 241.2,38.1 241.5,37.8 242.3,37.8 242.5,37.5 242.9,36.3 243.3,35.8 243.9,35.4 244.5,35.2 245.9,34.9 247.3,34.4 248.5,34.5 252.5,35.6 252.9,35.5 253.7,34.5 254.3,34.3 256.5,33.9 257.9,34.0 258.2,34.3 258.2,35.1 257.8,36.5 257.2,37.1 256.5,37.6 255.7,37.7 254.5,37.3 253.9,37.3 253.6,37.5 253.0,38.1 252.5,38.3 251.1,38.3 249.5,38.8 248.1,38.9 246.7,38.8 245.5,39.4Z M233.9,39.1 233.5,38.9 233.1,38.5 232.9,37.7 233.2,37.1 233.5,36.9 233.9,36.8 234.3,36.9 234.6,37.1 234.9,37.7 234.9,38.1 234.7,38.5 234.3,38.9 233.9,39.1Z M284.1,68.5 283.7,68.3 283.3,66.9 281.8,64.5 281.5,63.5 281.5,62.3 281.7,60.9 282.5,59.7 282.5,56.7 282.7,55.9 283.1,55.3 283.7,54.7 284.3,54.5 284.9,54.4 285.7,54.6 286.1,55.1 286.7,56.1 287.9,58.7 288.2,59.9 288.1,62.9 287.8,64.7 287.3,65.9 285.3,67.8 284.5,68.4 284.1,68.5Z M258.5,74.3 258.1,74.3 257.7,74.2 257.3,73.8 257.0,73.3 256.8,72.5 257.0,71.1 256.5,69.9 256.3,69.7 255.5,69.5 255.1,69.2 254.1,68.1 253.0,67.3 252.5,66.3 251.3,64.7 250.9,64.5 249.7,64.1 248.7,63.3 248.1,63.2 247.1,63.3 245.7,63.9 244.3,64.1 243.3,64.9 242.2,66.3 241.7,66.6 241.1,66.7 240.3,66.5 239.7,66.1 239.3,65.7 238.7,64.7 238.2,64.3 236.3,63.6 236.1,63.3 235.9,62.9 236.0,61.3 235.4,60.5 235.3,60.1 235.5,59.7 236.2,58.7 236.8,57.3 237.1,56.8 237.5,56.4 238.1,56.2 239.9,56.7 241.5,56.2 242.1,56.2 242.7,56.3 243.0,56.5 243.4,57.3 244.1,57.8 244.5,57.8 245.7,57.3 246.9,57.2 247.5,57.3 248.7,57.8 249.3,57.9 249.7,57.8 250.7,56.9 251.3,56.5 252.3,56.2 252.9,56.1 253.2,56.3 253.3,56.5 253.2,57.5 253.3,57.8 253.7,58.1 254.1,58.0 254.5,57.7 254.8,57.3 255.0,56.5 255.3,56.3 256.1,56.3 257.1,56.9 258.9,59.1 259.6,60.3 259.9,63.7 259.3,65.1 259.3,65.7 259.4,66.1 259.6,66.5 260.1,66.8 261.3,67.1 261.7,67.2 262.3,68.1 262.6,69.1 262.6,69.7 262.4,70.3 261.5,71.7 260.9,72.2 259.4,72.5 259.3,72.7 259.1,73.9 258.9,74.1 258.5,74.3Z M251.1,60.3 251.0,59.9 250.6,59.9 250.5,60.1 250.7,60.4 250.9,60.5 251.1,60.3Z M256.8,67.9 256.9,67.8 256.9,67.5 256.7,67.3 256.5,67.5 256.7,67.9 256.8,67.9Z M243.7,74.3 243.3,74.4 242.7,74.4 241.5,73.8 240.8,73.3 240.6,72.5 240.8,71.3 241.3,70.4 242.9,69.7 243.7,69.5 244.1,69.5 244.5,69.7 245.5,71.4 245.9,71.7 246.8,72.3 246.9,72.5 246.8,72.9 246.3,73.4 244.9,73.7 243.7,74.3Z M251.9,73.5 251.3,73.5 250.7,73.2 249.7,72.3 249.3,71.7 249.5,71.1 250.1,70.3 250.9,69.8 251.5,69.7 251.9,69.7 252.3,69.9 252.6,70.3 252.7,70.7 252.5,72.9 252.3,73.3 251.9,73.5Z" fill-opacity="0.15" stroke-opacity="0.65"/>
<path d="M245.5,39.1 244.9,39.2 244.1,39.0 243.3,38.7 242.8,38.3 242.7,37.3 242.9,36.5 243.5,35.8 244.3,35.3 245.7,35.1 247.1,34.6 247.9,34.5 250.9,35.2 252.3,35.8 252.7,35.8 253.1,35.6 253.7,34.7 254.5,34.3 256.5,34.0 257.5,34.1 257.9,34.3 258.0,34.5 258.0,35.3 257.6,36.5 257.1,37.1 256.3,37.5 255.7,37.6 254.3,37.1 253.8,37.1 253.5,37.2 252.9,37.9 252.5,38.1 251.1,38.2 249.5,38.6 248.1,38.8 246.7,38.7 245.5,39.1Z M234.1,39.0 233.9,39.0 233.5,38.8 233.0,38.1 233.0,37.7 233.1,37.3 233.3,37.1 233.7,36.9 234.1,36.9 234.5,37.1 234.8,37.7 234.7,38.3 234.1,39.0Z M284.5,68.2 284.1,68.2 283.9,68.0 283.3,66.7 282.0,64.5 281.6,63.5 281.5,62.5 281.6,61.7 281.8,60.9 282.7,59.7 282.6,58.5 282.7,56.5 282.8,55.9 283.5,55.0 283.9,54.7 284.5,54.6 285.5,54.8 285.9,55.1 286.5,55.9 287.8,58.7 288.1,60.1 288.0,63.5 287.8,64.5 287.5,65.3 287.1,66.0 285.7,67.4 284.5,68.2Z M258.5,74.2 258.1,74.2 257.7,74.0 257.2,73.3 257.0,72.5 257.2,71.1 256.5,69.5 256.3,69.4 255.5,69.2 255.1,68.9 253.3,67.1 252.8,66.3 251.5,64.7 250.9,64.4 249.7,63.9 248.7,63.0 247.1,63.2 245.7,63.7 244.3,63.9 243.2,64.9 242.1,66.2 241.3,66.5 240.7,66.5 239.9,66.1 239.5,65.7 238.9,64.7 238.5,64.3 236.5,63.5 236.1,62.9 236.3,61.3 235.6,60.1 237.2,56.9 237.6,56.5 238.1,56.3 239.9,56.8 241.9,56.3 242.5,56.5 243.4,57.5 244.3,58.0 244.7,58.0 245.9,57.5 246.9,57.4 247.5,57.5 249.3,58.2 249.7,58.0 251.1,56.8 251.9,56.5 252.5,56.4 252.9,56.5 253.0,56.7 253.0,57.7 253.2,58.1 253.4,58.3 253.7,58.3 254.5,57.9 254.8,57.5 255.2,56.7 255.5,56.4 256.1,56.5 257.0,56.9 258.8,59.1 259.4,60.3 259.7,63.5 259.1,65.1 259.3,66.1 259.5,66.5 259.9,66.9 261.7,67.5 262.2,68.1 262.5,69.1 262.4,70.1 261.4,71.7 260.7,72.2 259.7,72.3 259.3,72.4 259.1,72.7 259.0,73.7 258.9,73.9 258.5,74.2Z M251.2,60.5 251.3,60.1 251.1,59.7 250.7,59.6 250.4,59.7 250.3,60.1 250.5,60.5 250.9,60.7 251.2,60.5Z M256.7,68.5 257.1,68.2 257.2,67.5 256.9,66.9 256.5,66.6 256.3,66.7 256.2,66.9 256.2,67.5 256.5,68.4 256.7,68.5Z M243.7,74.2 243.3,74.3 242.7,74.2 241.5,73.7 240.9,73.1 240.8,72.3 241.0,71.3 241.3,70.7 241.7,70.4 242.9,69.8 243.7,69.6 244.1,69.7 244.5,69.9 245.3,71.3 246.4,72.3 246.5,72.7 246.1,73.2 244.9,73.6 243.7,74.2Z M251.9,73.4 251.3,73.4 250.7,73.1 249.9,72.3 249.5,71.7 249.6,71.1 250.0,70.5 250.5,70.1 251.1,69.8 251.7,69.8 252.1,70.0 252.4,70.3 252.5,70.7 252.4,72.7 252.3,73.1 251.9,73.4Z" fill-opacity="0.15" stroke-opacity="0.65"/>
<path d="M245.5,38.9 244.9,39.0 244.1,38.9 243.3,38.5 243.0,38.1 242.8,37.3 243.0,36.5 243.5,35.9 244.3,35.4 245.7,35.2 247.1,34.6 247.9,34.5 248.5,34.7 249.7,35.1 250.9,35.4 252.7,36.1 253.1,35.9 253.9,34.7 254.5,34.4 256.5,34.0 257.5,34.3 257.8,34.7 257.8,35.5 257.5,36.5 256.9,37.1 256.3,37.4 255.7,37.5 254.1,36.9 253.5,36.9 253.3,37.0 252.8,37.7 252.3,38.0 251.1,38.0 249.9,38.4 248.3,38.6 246.5,38.6 245.5,38.9Z M233.9,38.9 233.3,38.5 233.1,37.9 233.1,37.5 233.3,37.2 233.9,37.0 234.5,37.2 234.8,37.7 234.7,38.1 234.5,38.5 234.1,38.9 233.9,38.9Z M284.5,67.9 284.1,67.9 283.9,67.6 282.1,64.5 281.8,63.7 281.6,62.5 281.7,61.7 281.9,60.9 282.8,59.7 282.7,58.5 282.8,56.1 283.1,55.5 283.5,55.1 283.9,54.8 284.5,54.7 285.1,54.8 285.5,55.0 286.5,56.2 287.8,58.9 288.0,60.3 287.9,63.5 287.8,64.5 287.5,65.3 287.1,65.9 285.7,67.2 285.1,67.7 284.5,67.9Z M258.7,73.9 258.3,74.0 257.8,73.9 257.4,73.5 257.2,72.9 257.1,72.5 257.3,71.3 256.7,69.3 256.8,68.9 257.3,68.1 257.4,67.5 257.1,66.8 256.5,66.2 256.1,66.2 255.9,66.5 255.8,67.1 256.1,68.5 256.0,68.9 255.7,68.9 255.3,68.8 254.9,68.4 253.6,67.1 253.1,66.3 251.6,64.7 251.1,64.3 249.7,63.8 248.9,62.7 248.5,62.6 246.7,63.1 245.5,63.6 244.3,63.7 243.0,64.9 242.1,66.0 241.7,66.3 241.3,66.4 240.7,66.3 240.0,65.9 239.1,64.7 238.5,64.2 236.9,63.6 236.5,63.3 236.3,62.7 236.5,61.3 236.0,60.3 235.9,59.9 237.3,57.0 237.7,56.6 238.1,56.5 238.5,56.5 239.7,56.8 241.3,56.5 241.9,56.5 242.4,56.7 243.4,57.7 244.3,58.1 244.7,58.1 245.8,57.7 246.7,57.6 247.4,57.7 249.1,58.4 249.5,58.4 251.1,57.0 251.7,56.7 252.3,56.6 252.6,56.7 252.8,56.9 252.9,57.9 253.0,58.3 253.5,58.6 253.9,58.5 254.5,58.1 255.5,56.6 256.1,56.6 256.9,57.0 258.8,59.3 259.4,60.5 259.5,63.5 259.0,65.3 259.2,66.3 259.5,66.7 260.1,67.1 261.7,67.7 262.2,68.3 262.4,69.1 262.3,70.1 261.3,71.6 260.7,72.1 259.2,72.3 259.0,72.5 259.0,73.5 258.7,73.9Z M251.1,60.7 251.5,60.1 251.4,59.7 250.9,59.4 250.1,59.5 250.0,59.9 250.3,60.5 250.7,60.8 251.1,60.7Z M243.5,74.1 242.7,74.1 241.5,73.5 241.0,72.9 240.9,72.1 241.1,71.3 241.5,70.7 242.9,69.9 243.7,69.7 244.1,69.8 244.5,70.1 245.3,71.5 246.0,72.3 246.1,72.7 245.8,73.1 243.5,74.1Z M251.7,73.3 251.1,73.2 250.6,72.9 250.0,72.3 249.7,71.7 249.8,71.1 250.0,70.7 250.5,70.2 251.1,69.9 251.5,69.9 252.0,70.1 252.3,70.5 252.4,70.9 252.3,72.7 252.1,73.1 251.7,73.3Z" fill-opacity="0.15" stroke-opacity="0.65"/>
<path d="M256.1,37.3 255.5,37.3 253.4,36.5 253.3,36.3 253.4,35.9 253.9,34.9 254.5,34.5 256.1,34.1 256.9,34.2 257.5,34.5 257.7,35.1 257.4,36.3 256.9,37.0 256.1,37.3Z M245.5,38.7 244.9,38.9 244.1,38.8 243.5,38.5 243.1,37.9 243.0,37.1 243.1,36.5 243.6,35.9 244.3,35.5 245.8,35.3 247.1,34.7 247.9,34.6 248.5,34.8 249.7,35.2 251.1,35.5 253.0,36.5 253.0,36.7 252.8,37.3 252.3,37.8 250.9,37.9 249.7,38.3 247.9,38.6 246.5,38.5 245.5,38.7Z M234.1,38.8 233.9,38.8 233.6,38.7 233.2,38.1 233.2,37.5 233.3,37.3 233.7,37.1 234.3,37.2 234.5,37.3 234.7,37.7 234.5,38.3 234.1,38.8Z M284.7,67.7 284.3,67.7 284.1,67.6 283.0,65.9 282.0,64.1 281.7,62.7 281.7,61.9 281.9,61.1 282.9,59.7 282.8,58.5 282.8,56.7 282.9,56.1 283.5,55.2 283.9,55.0 284.3,54.9 284.8,54.9 285.3,55.1 286.3,56.1 287.6,58.7 287.9,60.1 287.9,63.5 287.5,65.1 287.1,65.7 286.7,66.2 285.5,67.3 284.7,67.7Z M258.5,73.8 258.1,73.9 257.8,73.7 257.5,73.4 257.3,72.9 257.4,71.3 256.9,69.5 257.0,69.1 257.4,68.1 257.5,67.5 257.1,66.4 256.5,65.7 256.1,65.8 255.6,66.3 255.5,66.9 255.8,68.1 255.7,68.5 255.5,68.5 254.9,68.1 253.9,67.1 253.2,66.1 251.6,64.5 249.8,63.7 249.5,63.3 249.2,62.5 248.9,62.3 248.5,62.3 246.9,62.8 245.5,63.4 244.3,63.6 243.7,64.0 242.1,65.9 241.7,66.1 241.3,66.3 240.7,66.2 240.2,65.9 239.2,64.5 238.7,64.1 236.8,63.3 236.6,63.1 236.5,62.7 236.6,61.1 236.1,59.9 237.0,57.7 237.4,57.1 237.7,56.8 238.1,56.6 238.5,56.6 239.7,56.9 241.7,56.6 242.1,56.7 243.2,57.7 244.3,58.2 244.9,58.3 246.3,57.8 247.7,58.0 248.7,58.4 249.4,58.9 250.0,60.3 250.3,60.7 250.7,60.9 251.1,60.8 251.3,60.6 251.6,60.1 251.6,59.7 251.3,59.4 250.1,59.0 249.9,58.7 250.4,57.9 251.1,57.2 251.9,56.9 252.4,56.9 252.5,57.1 252.9,58.5 253.1,58.7 253.5,58.8 253.9,58.7 254.3,58.4 254.9,57.8 255.5,56.9 255.7,56.8 256.3,56.8 256.9,57.1 258.7,59.3 259.3,60.5 259.4,61.3 259.3,63.3 258.8,65.3 259.0,66.1 259.4,66.7 259.9,67.1 261.7,67.8 262.1,68.3 262.3,69.1 262.2,70.1 261.3,71.5 260.7,72.0 259.4,72.1 259.0,72.3 258.8,73.5 258.5,73.8Z M243.7,73.9 242.9,74.0 241.7,73.4 241.2,72.9 241.0,72.1 241.1,71.5 241.5,70.9 242.9,70.0 243.7,69.8 244.1,69.9 244.5,70.2 245.8,72.5 245.8,72.7 245.5,73.0 243.7,73.9Z M251.7,73.2 251.3,73.2 250.7,72.9 250.1,72.3 249.9,71.7 249.8,71.3 250.1,70.7 250.5,70.3 251.1,70.0 251.5,70.0 251.9,70.2 252.2,70.5 252.3,70.9 252.2,72.5 252.1,72.9 251.7,73.2Z" fill-opacity="0.15" stroke-opacity="0.65"/>
<path d="M256.5,37.1 256.1,37.2 255.5,37.2 253.9,36.5 253.7,36.3 253.6,35.9 253.9,35.1 254.3,34.7 255.9,34.3 256.7,34.3 257.2,34.5 257.4,34.7 257.5,35.1 257.4,36.1 257.1,36.7 256.5,37.1Z M244.9,38.7 243.9,38.5 243.3,38.1 243.1,37.3 243.2,36.5 243.7,35.9 244.3,35.6 245.9,35.4 247.3,34.8 248.3,34.8 249.7,35.4 251.1,35.7 252.2,36.3 252.6,36.7 252.5,37.3 252.1,37.6 250.9,37.7 249.9,38.1 248.3,38.4 246.3,38.4 244.9,38.7Z M234.1,38.7 233.7,38.7 233.3,38.1 233.3,37.5 233.7,37.2 234.3,37.2 234.6,37.7 234.5,38.3 234.1,38.7Z M284.9,67.5 284.5,67.6 284.1,67.3 283.2,66.1 282.1,64.1 281.8,62.7 281.8,61.9 282.0,61.1 283.0,59.7 282.9,58.5 282.9,56.7 283.0,56.1 283.5,55.3 283.9,55.1 284.3,55.0 284.7,55.0 285.3,55.3 286.3,56.4 287.5,58.7 287.9,60.1 287.8,63.3 287.5,64.9 287.2,65.5 286.7,66.1 285.5,67.2 284.9,67.5Z M258.3,73.7 257.8,73.5 257.4,72.9 257.5,71.5 257.1,70.1 257.0,69.5 257.5,68.1 257.6,67.3 257.3,66.4 256.7,65.4 256.3,65.3 255.4,66.1 255.2,66.7 255.3,67.7 255.3,67.9 255.1,67.8 254.3,67.1 253.5,66.1 251.7,64.5 249.9,63.5 249.7,63.3 249.4,62.3 249.1,62.1 248.7,62.0 248.1,62.1 245.5,63.2 244.1,63.5 241.9,65.9 241.3,66.1 240.7,66.0 240.3,65.7 239.2,64.3 238.5,63.9 237.1,63.3 236.7,62.9 236.7,61.3 236.3,60.1 236.3,59.7 236.9,58.3 237.5,57.2 237.9,56.9 238.3,56.8 239.7,57.0 241.5,56.7 242.1,56.9 243.0,57.7 244.5,58.4 244.9,58.4 246.1,58.2 248.1,58.4 249.0,58.9 250.1,60.7 250.7,61.1 251.3,60.8 251.7,59.9 251.6,59.5 251.5,59.3 250.5,58.9 250.3,58.7 250.4,58.1 251.1,57.4 251.9,57.1 252.3,57.2 252.7,58.7 253.1,58.9 253.5,59.0 254.1,58.8 255.7,56.9 256.3,56.9 256.9,57.2 258.7,59.5 259.2,60.7 259.2,61.5 259.1,63.3 258.7,65.3 258.8,66.1 259.2,66.7 259.7,67.1 261.7,68.0 262.1,68.5 262.3,69.1 262.2,69.7 262.1,70.1 261.1,71.6 260.5,72.0 259.3,72.0 258.9,72.1 258.7,72.5 258.7,73.3 258.5,73.6 258.3,73.7Z M243.3,73.9 242.5,73.7 241.5,73.1 241.2,72.5 241.2,71.9 241.4,71.3 241.7,70.9 243.0,70.1 243.7,69.9 244.1,70.0 244.5,70.4 245.6,72.5 245.3,72.9 245.1,73.1 243.9,73.8 243.3,73.9Z M251.9,72.9 251.5,73.1 250.9,72.9 250.4,72.5 250.0,71.9 250.0,71.3 250.1,70.9 250.4,70.5 250.9,70.2 251.3,70.1 251.7,70.2 252.1,70.7 252.2,71.1 252.2,71.9 252.1,72.5 251.9,72.9Z" fill-opacity="0.15" stroke-opacity="0.65"/>
<path d="M256.1,37.1 255.3,37.0 253.9,36.3 253.8,36.1 253.8,35.7 254.1,35.0 254.6,34.7 256.1,34.3 256.7,34.4 257.2,34.7 257.3,35.3 257.2,36.3 256.7,36.9 256.1,37.1Z M245.1,38.5 244.3,38.5 243.9,38.4 243.5,38.1 243.2,37.3 243.3,36.5 243.7,36.0 244.3,35.7 245.9,35.5 247.3,34.8 248.3,34.9 249.7,35.5 251.1,35.9 252.1,36.5 252.3,36.9 252.1,37.3 251.9,37.4 250.7,37.5 249.7,38.0 248.3,38.3 246.1,38.3 245.1,38.5Z M234.1,38.6 233.7,38.6 233.3,38.1 233.4,37.5 233.7,37.2 234.2,37.3 234.5,37.7 234.5,38.1 234.1,38.6Z M284.9,67.4 284.5,67.4 284.3,67.3 283.3,66.1 282.2,64.1 281.8,62.7 281.9,61.9 282.1,61.1 283.1,59.7 282.9,58.3 283.0,56.7 283.1,56.1 283.5,55.4 283.9,55.2 284.3,55.1 285.1,55.4 286.3,56.6 287.4,58.7 287.8,60.1 287.8,63.3 287.4,64.9 287.1,65.5 286.7,66.0 285.5,67.1 284.9,67.4Z M258.5,73.3 258.3,73.5 258.1,73.5 257.8,73.3 257.6,72.9 257.7,71.7 257.1,69.7 257.2,69.1 257.7,67.9 257.8,67.1 257.3,65.9 256.7,65.0 256.5,64.9 256.1,65.1 255.0,66.1 254.7,66.7 254.5,66.7 251.6,64.3 250.1,63.5 249.8,63.1 249.7,62.3 249.5,62.0 249.1,61.8 248.3,61.8 247.5,62.0 245.7,63.0 244.1,63.4 241.9,65.7 241.5,65.9 240.9,65.9 240.3,65.5 239.3,64.2 237.4,63.3 236.9,62.9 236.8,62.5 236.8,61.1 236.5,59.7 236.8,58.7 237.5,57.4 237.9,57.0 238.3,56.9 239.7,57.1 241.1,56.8 241.7,56.9 242.9,57.7 244.3,58.5 244.9,58.6 245.8,58.5 246.1,58.6 246.3,58.9 246.3,59.5 246.5,59.9 246.7,59.9 247.0,58.9 247.2,58.7 247.7,58.6 248.1,58.6 248.7,59.0 250.1,60.9 250.3,61.1 250.7,61.2 251.1,61.0 251.4,60.7 251.8,59.7 251.8,59.3 251.7,59.2 250.9,58.9 250.6,58.5 250.7,58.1 251.1,57.7 251.7,57.4 252.1,57.5 252.3,57.9 252.3,58.7 252.5,58.9 253.7,59.2 254.1,59.0 255.7,57.1 256.1,57.0 256.7,57.2 258.4,59.3 258.9,60.1 259.1,60.7 259.1,61.7 258.5,65.3 258.7,66.1 259.0,66.7 259.5,67.1 261.7,68.1 262.0,68.5 262.2,69.1 262.2,69.7 262.0,70.1 261.1,71.5 260.5,71.9 259.1,71.9 258.7,72.1 258.5,72.3 258.5,73.3Z M243.7,73.7 242.9,73.8 241.9,73.3 241.4,72.7 241.3,72.1 241.4,71.5 241.7,71.1 243.1,70.2 243.7,70.1 244.1,70.2 244.4,70.5 245.2,72.1 245.3,72.5 245.3,72.7 244.8,73.1 243.7,73.7Z M251.7,72.9 251.3,73.0 250.8,72.7 250.4,72.3 250.1,71.7 250.2,70.9 250.5,70.5 250.9,70.2 251.3,70.2 251.6,70.3 251.9,70.5 252.1,70.9 252.2,71.5 252.1,72.3 251.9,72.7 251.7,72.9Z" fill-opacity="0.15" stroke-opacity="0.65"/>
</g>
<rect x="237.4" y="79.4" width="42.3" height="1.9" fill="#000"/>
<rect x="232.1" y="52" width="2.3" height="28.0" fill="#000"/>
<rect x="232.1" y="34" width="1.7" height="9.0" fill="#000"/>
<rect x="232.2" y="20.2" width="13.1" height="7.1" fill="#fff"/>
<text x="232.7" y="26.1" text-anchor="start" style="font-size:5.4px;" fill="#000" stroke="#000" stroke-width="0.16">12.1</text>
<rect x="281.4" y="20.2" width="10.8" height="7.1" fill="#fff"/>
<text x="291.1" y="26.1" text-anchor="end" style="font-size:5.4px;" fill="#000" stroke="#000" stroke-width="0.16">1.5</text>
<rect x="232.2" y="75.1" width="7.2" height="6.0" fill="#fff"/>
<path d="M232.2,75.1 H239.4 V81.1" fill="none" stroke="#000" stroke-width="0.45"/>
<text x="232.7" y="80.1" text-anchor="start" style="font-size:5.4px;" fill="#000" stroke="#000" stroke-width="0.16">65</text>
<rect x="278.4" y="75.1" width="13.8" height="6.0" fill="#fff"/>
<path d="M278.4,81.1 V75.1 H292.2" fill="none" stroke="#000" stroke-width="0.45"/>
<text x="291.1" y="80.1" text-anchor="end" style="font-size:5.4px;" fill="#000" stroke="#000" stroke-width="0.16">21.4</text>
<line x1="245.26399999999998" y1="20.7" x2="281.352" y2="20.7" stroke="#000" stroke-width="0.6"/>
<line x1="292.5" y1="20.7" x2="292.5" y2="81.3" stroke="#333" stroke-width="0.6"/>
<line x1="232.1" y1="20.4" x2="232.1" y2="81.7" stroke="#000" stroke-width="0.9"/>
<line x1="231.7" y1="81.3" x2="292.8" y2="81.3" stroke="#000" stroke-width="0.9"/>
<clipPath id="cp2"><rect x="305.5" y="20.7" width="61.2" height="60.6"/></clipPath>
<text x="302.9" y="21.1" text-anchor="end" style="font-size:2.5px;font-weight:normal" fill="#444">10<tspan dy="-0.9" style="font-size:1.9px">4</tspan></text>
<text x="305.7" y="86.3" text-anchor="middle" style="font-size:2.5px;font-weight:normal" fill="#444">10<tspan dy="-0.9" style="font-size:1.9px">0</tspan></text>
<line x1="303.3" y1="20.7" x2="305.5" y2="20.7" stroke="#666" stroke-width="0.35"/>
<line x1="305.5" y1="81.3" x2="305.5" y2="83.3" stroke="#666" stroke-width="0.35"/>
<text x="302.9" y="36.2" text-anchor="end" style="font-size:2.5px;font-weight:normal" fill="#444">10<tspan dy="-0.9" style="font-size:1.9px">3</tspan></text>
<text x="321.0" y="86.3" text-anchor="middle" style="font-size:2.5px;font-weight:normal" fill="#444">10<tspan dy="-0.9" style="font-size:1.9px">1</tspan></text>
<line x1="303.3" y1="35.849999999999994" x2="305.5" y2="35.849999999999994" stroke="#666" stroke-width="0.35"/>
<line x1="320.8" y1="81.3" x2="320.8" y2="83.3" stroke="#666" stroke-width="0.35"/>
<text x="302.9" y="51.4" text-anchor="end" style="font-size:2.5px;font-weight:normal" fill="#444">10<tspan dy="-0.9" style="font-size:1.9px">2</tspan></text>
<text x="336.3" y="86.3" text-anchor="middle" style="font-size:2.5px;font-weight:normal" fill="#444">10<tspan dy="-0.9" style="font-size:1.9px">2</tspan></text>
<line x1="303.3" y1="51.0" x2="305.5" y2="51.0" stroke="#666" stroke-width="0.35"/>
<line x1="336.1" y1="81.3" x2="336.1" y2="83.3" stroke="#666" stroke-width="0.35"/>
<text x="302.9" y="66.5" text-anchor="end" style="font-size:2.5px;font-weight:normal" fill="#444">10<tspan dy="-0.9" style="font-size:1.9px">1</tspan></text>
<text x="351.6" y="86.3" text-anchor="middle" style="font-size:2.5px;font-weight:normal" fill="#444">10<tspan dy="-0.9" style="font-size:1.9px">3</tspan></text>
<line x1="303.3" y1="66.14999999999999" x2="305.5" y2="66.14999999999999" stroke="#666" stroke-width="0.35"/>
<line x1="351.4" y1="81.3" x2="351.4" y2="83.3" stroke="#666" stroke-width="0.35"/>
<text x="302.9" y="81.7" text-anchor="end" style="font-size:2.5px;font-weight:normal" fill="#444">10<tspan dy="-0.9" style="font-size:1.9px">0</tspan></text>
<text x="366.9" y="86.3" text-anchor="middle" style="font-size:2.5px;font-weight:normal" fill="#444">10<tspan dy="-0.9" style="font-size:1.9px">4</tspan></text>
<line x1="303.3" y1="81.3" x2="305.5" y2="81.3" stroke="#666" stroke-width="0.35"/>
<line x1="366.7" y1="81.3" x2="366.7" y2="83.3" stroke="#666" stroke-width="0.35"/>
<line x1="334.3" y1="20.7" x2="334.3" y2="81.3" stroke="#000" stroke-width="0.6"/>
<line x1="305.5" y1="51.2" x2="366.7" y2="51.2" stroke="#000" stroke-width="0.6"/>
<g clip-path="url(#cp2)" stroke="#000" stroke-width="0.55" stroke-linejoin="round" fill="#000">
<path d="M322.1,80.5 318.7,80.6 317.5,79.9 316.3,79.6 315.7,79.7 314.7,80.3 314.3,80.3 313.5,79.7 312.7,79.3 308.5,77.7 308.1,77.3 307.4,76.3 306.5,74.5 305.5,73.8 305.3,62.7 305.3,54.3 305.5,51.6 305.7,51.5 307.1,50.9 307.9,50.7 308.6,50.9 309.3,51.8 309.9,51.9 311.3,51.8 312.3,50.8 313.7,50.6 317.7,50.7 319.3,51.3 319.9,51.3 322.5,51.1 323.7,51.1 324.3,51.3 325.7,51.9 327.1,52.0 327.9,52.2 329.7,53.5 332.5,54.7 334.5,56.0 335.0,56.5 335.8,58.5 335.9,58.9 335.8,59.3 335.0,61.3 334.5,61.9 333.3,62.3 333.1,62.5 332.8,62.9 332.3,64.7 331.7,66.0 331.5,66.1 330.6,65.7 330.1,65.6 329.7,65.7 329.6,65.9 329.7,66.5 329.9,66.9 331.0,67.5 331.3,68.1 331.2,68.7 330.9,69.1 329.5,69.8 329.2,70.1 329.0,70.5 329.1,71.1 329.3,71.6 329.7,71.9 330.3,72.1 330.5,72.3 330.5,73.7 330.4,74.3 328.9,76.0 328.5,76.2 327.9,76.1 327.3,76.6 326.9,77.3 326.6,78.7 326.1,79.4 325.3,79.7 323.5,79.9 322.1,80.5Z M326.8,68.7 327.1,68.5 327.2,68.1 327.1,67.9 326.7,67.7 326.3,67.9 326.2,68.3 326.5,68.7 326.8,68.7Z M310.5,71.3 310.7,71.1 310.7,70.9 310.5,70.8 310.3,70.9 310.1,71.3 310.5,71.3Z" fill="none"/>
<path d="M322.5,78.9 321.7,79.0 319.7,79.0 318.5,78.8 314.3,78.6 313.5,78.3 312.8,77.5 312.5,77.3 310.9,77.0 310.4,76.5 310.2,75.1 309.3,74.3 309.1,73.9 309.2,73.5 309.4,73.3 310.5,72.6 311.2,71.9 311.4,71.1 311.4,70.7 311.2,70.3 310.9,70.0 310.3,70.0 308.7,70.8 307.1,71.2 306.5,70.9 305.5,69.5 305.5,66.5 305.8,66.1 305.9,65.7 305.8,65.3 305.5,64.9 305.4,63.1 305.3,58.5 305.5,52.9 307.1,52.2 307.5,52.2 308.9,52.6 310.5,52.5 311.5,52.5 311.9,52.5 313.5,51.8 316.1,51.4 316.9,51.4 317.9,51.6 319.5,52.5 319.9,52.6 321.9,52.1 322.9,52.1 323.7,52.2 324.3,52.5 324.7,52.8 325.4,54.1 325.9,54.6 326.5,54.6 327.5,53.7 328.1,53.7 329.5,54.2 331.5,55.1 332.0,55.5 332.3,55.9 332.8,56.9 332.9,57.3 332.7,57.7 332.1,58.5 331.8,59.1 331.5,60.7 331.6,62.5 331.3,63.5 331.0,63.9 330.7,64.1 330.3,64.2 329.1,64.1 328.5,64.4 328.0,65.1 327.9,65.9 327.7,66.2 326.7,66.3 326.3,66.5 325.9,66.9 325.5,67.7 325.4,68.5 325.7,69.3 326.3,70.4 327.2,71.5 327.5,72.1 327.5,73.1 327.4,73.9 326.6,74.9 326.2,75.9 325.5,77.1 325.0,78.3 324.5,78.5 322.5,78.9Z M325.7,74.1 325.5,73.7 325.2,73.5 324.8,73.5 324.6,73.7 324.7,74.0 325.1,74.2 325.5,74.2 325.7,74.1Z" fill="none"/>
<path d="M323.3,77.9 321.7,78.0 318.5,77.7 317.1,77.9 316.3,77.8 314.3,77.3 312.9,76.5 311.7,76.3 311.4,76.1 311.3,75.7 311.7,75.0 313.1,74.3 313.5,73.8 313.7,73.1 313.8,72.3 313.7,72.1 313.3,72.0 312.3,72.8 312.1,72.8 311.9,72.7 311.8,70.9 311.7,70.3 311.4,69.9 311.1,69.6 310.7,69.5 309.3,69.4 309.0,69.3 309.3,68.1 309.2,67.7 308.9,67.4 308.3,67.2 306.9,67.3 306.6,67.1 306.6,65.9 306.4,65.1 306.1,64.6 305.5,64.2 305.4,63.7 305.3,59.1 305.5,53.5 306.5,53.1 307.1,52.9 308.9,53.0 310.3,52.8 311.7,52.9 313.3,52.4 314.7,52.3 315.9,52.0 316.7,51.9 317.9,52.3 319.1,53.1 319.5,53.3 320.3,53.2 322.1,52.7 323.3,52.7 323.9,53.0 324.3,53.3 325.2,54.5 325.9,55.0 326.5,55.1 327.1,55.1 328.1,54.6 328.9,54.5 329.9,54.9 331.1,55.5 331.5,55.9 331.9,56.7 331.7,57.5 331.3,58.0 330.3,58.6 330.1,59.1 330.7,60.5 330.8,61.9 330.6,62.5 330.3,62.9 328.7,63.3 326.9,64.3 325.7,65.9 325.1,67.3 324.9,68.3 325.3,70.3 325.6,70.9 326.3,71.9 326.4,72.3 326.3,72.6 326.1,72.7 324.5,72.8 323.9,73.1 323.8,73.5 323.9,73.9 324.2,74.3 325.1,75.1 325.3,75.7 325.1,76.3 324.4,77.3 323.9,77.7 323.3,77.9Z M321.3,74.9 321.5,74.5 321.3,74.1 321.1,74.0 320.7,74.1 320.5,74.5 320.6,74.7 320.9,74.9 321.3,74.9Z" fill="none"/>
<path d="M323.7,77.1 323.3,77.3 322.9,77.2 322.5,76.9 322.0,75.7 321.9,73.9 321.7,73.6 321.3,73.4 320.9,73.5 320.5,73.7 320.1,74.1 319.9,74.5 320.1,74.9 321.2,75.7 321.4,76.1 321.4,76.5 321.2,76.9 320.7,77.2 319.5,77.2 314.5,76.4 313.9,76.2 313.5,75.9 313.4,75.7 313.4,75.3 314.0,74.5 314.2,73.9 314.3,72.3 314.0,71.5 313.7,71.2 312.9,71.4 312.5,71.3 312.0,69.9 311.7,69.5 311.3,69.2 310.2,68.7 309.7,67.5 309.3,67.0 308.9,66.8 307.5,66.4 307.3,66.1 306.7,64.7 306.3,64.3 305.5,63.8 305.4,59.3 305.5,56.0 305.6,55.7 305.5,54.3 305.8,53.9 306.5,53.5 307.3,53.3 310.3,53.1 311.7,53.2 313.3,52.9 314.5,52.9 315.9,52.5 316.7,52.4 317.9,52.8 318.7,53.7 319.1,53.9 322.1,53.1 322.7,53.1 323.3,53.2 324.1,53.7 325.1,54.9 325.9,55.4 327.1,55.8 327.7,55.9 328.0,55.7 328.5,55.2 329.1,55.1 330.7,55.9 331.1,56.3 331.2,56.7 331.1,57.3 330.0,58.3 329.7,58.9 329.7,59.5 330.1,60.7 330.0,61.3 329.8,61.7 329.3,62.3 328.7,62.7 327.5,63.2 326.3,63.5 326.1,63.6 325.8,64.5 325.2,65.5 324.3,67.7 324.3,68.1 324.6,69.5 324.7,70.9 325.0,71.7 324.9,71.9 323.9,72.1 323.5,72.4 323.3,72.9 323.2,73.5 323.4,74.1 324.5,75.3 324.7,75.9 324.3,76.6 323.7,77.1Z M316.8,74.5 317.3,74.1 317.6,73.7 317.5,73.1 317.3,72.9 316.9,73.0 316.5,73.7 316.5,74.5 316.7,74.6 316.8,74.5Z" fill="none"/>
<path d="M320.5,76.7 319.9,76.8 319.3,76.8 317.9,76.4 317.4,76.1 317.2,75.7 317.3,75.3 318.1,74.1 318.3,73.7 318.1,72.7 317.7,72.2 317.3,72.1 316.9,72.2 316.5,72.6 315.5,74.0 315.1,74.1 314.9,73.9 314.7,73.3 314.4,71.3 314.1,70.7 313.5,70.1 313.5,69.1 313.3,68.7 312.7,68.5 311.5,68.7 310.7,68.4 309.5,66.6 308.0,65.9 306.8,64.3 305.5,63.4 305.4,59.3 305.5,56.7 305.9,56.1 306.0,55.7 306.0,54.5 306.5,53.9 307.5,53.6 309.9,53.4 311.5,53.4 313.1,53.2 314.3,53.4 315.7,52.9 316.5,52.8 317.1,53.0 317.7,53.2 318.5,54.2 318.9,54.4 320.3,53.9 322.3,53.5 322.9,53.5 323.5,53.6 323.9,53.9 325.1,55.3 326.7,56.1 328.5,56.5 328.8,56.5 329.3,56.1 329.5,56.1 330.1,56.3 330.5,56.7 330.4,57.1 329.7,57.9 329.4,58.7 329.3,59.4 329.6,60.7 329.4,61.3 329.2,61.7 328.5,62.3 327.3,62.8 326.7,62.8 325.7,62.6 325.3,62.7 325.2,63.1 325.2,64.1 324.6,65.1 324.3,66.5 323.9,67.2 323.3,67.9 322.9,68.2 321.5,68.5 321.0,68.9 321.0,69.3 321.3,70.3 321.7,71.0 322.4,71.7 322.5,72.3 322.3,72.8 321.3,72.8 320.9,73.0 320.1,73.5 319.5,74.1 319.4,74.5 319.6,74.9 320.6,75.7 320.8,76.1 320.8,76.5 320.5,76.7Z M323.5,76.5 323.2,76.5 323.0,76.3 322.5,75.5 322.5,74.9 322.7,74.5 322.9,74.5 323.3,74.7 323.8,75.1 324.1,75.5 324.1,76.1 323.9,76.3 323.5,76.5Z" fill="none"/>
<path d="M319.5,73.4 319.1,73.4 318.9,73.3 318.4,72.1 317.9,71.8 317.3,71.6 316.7,71.8 315.7,72.8 315.3,72.9 315.1,72.7 314.7,70.9 314.0,68.9 313.7,68.5 312.9,68.0 311.3,68.1 310.9,67.9 309.7,66.2 308.3,65.5 307.1,64.1 305.5,63.0 305.4,59.3 305.5,57.1 306.1,56.3 306.3,55.7 306.5,54.5 306.9,54.1 307.9,53.7 312.7,53.5 314.3,53.8 315.7,53.3 316.5,53.2 317.4,53.5 318.3,54.5 318.9,54.7 320.3,54.2 322.3,53.8 322.9,53.8 323.5,54.0 323.9,54.3 324.7,55.4 325.1,55.8 326.3,56.3 327.9,56.8 329.1,57.5 329.2,57.9 329.0,59.3 329.2,60.7 329.0,61.3 328.4,61.9 327.4,62.3 326.7,62.4 325.5,62.1 325.1,62.3 324.8,62.5 324.6,62.9 324.5,63.9 323.7,64.7 323.6,65.1 323.7,66.3 323.4,67.1 322.7,67.7 321.1,68.2 320.5,68.7 320.5,69.2 321.2,71.3 321.1,71.9 320.5,72.7 319.5,73.4Z M316.8,69.5 316.7,69.3 316.6,69.5 316.7,69.6 316.8,69.5Z M320.1,76.4 319.2,76.3 318.1,75.9 317.9,75.5 318.0,75.1 318.5,74.7 318.9,74.8 319.5,75.5 320.2,75.9 320.3,76.1 320.1,76.4Z" fill="none"/>
<path d="M319.7,72.6 319.3,72.5 318.6,71.7 317.3,70.9 317.2,70.5 317.5,69.7 317.5,69.1 317.3,68.8 316.9,68.6 316.1,68.7 315.7,68.9 315.6,69.1 315.6,69.7 316.5,70.9 316.1,71.6 315.7,71.9 315.5,71.9 315.3,71.5 314.8,69.5 314.5,68.9 314.0,68.3 313.5,67.9 312.9,67.7 311.1,67.4 310.7,67.0 309.9,65.7 308.5,65.1 307.3,63.9 305.6,62.7 305.5,62.5 305.4,60.7 305.5,57.4 305.9,57.1 306.3,56.5 306.6,55.7 306.8,54.7 307.1,54.2 307.5,54.0 308.1,53.9 312.5,53.7 313.1,53.7 314.1,54.2 315.5,53.6 316.3,53.5 317.1,53.7 318.1,54.7 318.5,54.9 318.9,54.9 320.3,54.4 322.3,54.0 322.9,54.0 323.5,54.3 323.9,54.7 324.2,55.3 324.3,56.1 324.5,56.3 325.7,56.6 327.5,56.9 328.1,57.2 328.6,57.7 328.8,58.1 328.7,59.1 328.8,60.5 328.8,60.9 328.5,61.3 328.1,61.6 327.3,61.8 325.9,61.8 325.3,61.9 324.6,62.3 323.9,63.2 323.0,63.5 322.8,63.7 322.6,64.5 323.2,65.9 323.2,66.3 323.1,66.7 322.9,67.1 322.5,67.4 320.9,67.9 320.2,68.5 320.1,69.1 320.6,70.3 320.7,71.3 320.4,72.1 319.7,72.6Z" fill="none"/>
<path d="M320.1,71.5 319.9,71.7 319.5,71.7 318.3,71.0 317.9,70.7 317.8,70.3 318.1,69.1 318.0,68.7 317.7,68.4 316.5,68.2 314.9,68.5 313.3,67.6 311.3,67.0 310.9,66.6 310.7,66.1 310.8,65.5 311.1,64.9 311.1,64.7 310.7,64.6 309.7,65.0 308.9,65.0 308.5,64.7 307.5,63.8 306.3,62.9 305.9,62.4 305.5,61.9 305.4,59.3 305.5,57.7 306.0,57.3 306.3,56.9 307.0,54.9 307.3,54.4 307.7,54.2 308.3,54.0 310.1,53.9 312.5,53.8 313.1,54.0 313.7,54.4 314.1,54.5 315.3,53.9 316.1,53.7 316.9,53.9 318.1,54.9 318.7,55.1 319.1,55.1 320.5,54.6 322.3,54.2 322.9,54.3 323.4,54.5 323.7,54.9 323.8,55.3 323.8,56.1 324.1,56.5 325.7,57.0 326.7,56.9 327.3,57.0 327.9,57.3 328.3,57.7 328.4,58.1 328.5,60.1 328.5,60.5 328.3,60.9 327.7,61.2 326.9,61.0 326.5,61.1 325.3,61.6 324.7,62.0 323.7,62.8 322.6,63.3 322.3,63.6 321.9,64.7 321.4,65.3 321.5,65.6 322.3,65.9 322.5,66.1 322.6,66.3 322.6,66.7 322.1,67.2 320.5,67.8 319.8,68.5 319.7,69.1 320.2,70.1 320.3,70.7 320.3,71.1 320.1,71.5Z" fill="none"/>
<path d="M319.7,70.9 319.1,70.9 318.5,70.5 318.4,69.9 318.9,69.1 318.1,67.7 317.7,67.6 316.9,67.8 314.9,68.0 311.7,66.6 311.3,66.1 311.3,65.7 311.8,64.9 311.6,64.5 311.3,64.3 310.9,64.2 310.5,64.3 309.5,64.7 308.9,64.6 306.5,62.6 305.5,61.5 305.5,57.9 306.1,57.5 306.4,57.1 307.2,54.9 307.5,54.5 308.1,54.3 309.7,54.0 312.3,54.0 312.9,54.1 313.7,54.7 314.1,54.7 315.3,54.1 316.1,53.9 316.9,54.2 318.1,55.1 318.7,55.3 319.1,55.2 320.5,54.7 322.7,54.5 323.1,54.6 323.4,54.9 323.5,55.3 323.6,56.3 323.9,56.7 325.7,57.3 326.9,57.2 327.3,57.2 327.9,57.7 328.1,58.3 328.1,59.9 328.1,60.3 327.9,60.5 326.5,60.7 324.9,61.6 323.7,62.5 322.4,63.1 322.0,63.5 321.5,64.3 320.5,64.9 320.4,65.1 320.4,65.3 320.5,65.7 321.4,66.7 319.9,67.9 319.1,68.9 319.0,69.1 319.8,70.3 319.9,70.7 319.7,70.9Z" fill-opacity="0.15"/>
<path d="M315.1,67.4 314.7,67.5 314.3,67.3 313.4,66.9 312.8,66.5 312.6,66.1 312.8,65.5 312.7,65.1 311.8,64.3 310.9,64.0 310.3,64.1 309.5,64.4 309.1,64.4 308.7,64.2 306.3,62.0 305.5,61.1 305.5,58.2 306.3,57.6 306.6,57.3 307.3,55.2 307.7,54.6 308.3,54.4 309.7,54.2 312.3,54.1 312.9,54.3 313.5,54.8 313.9,54.9 314.3,54.8 315.3,54.2 316.1,54.1 316.7,54.3 318.1,55.2 318.7,55.4 320.7,54.8 322.5,54.7 322.9,54.8 323.2,55.1 323.4,56.3 323.7,56.7 325.7,57.5 326.1,57.6 327.1,57.4 327.6,57.7 327.8,58.1 327.8,58.5 327.8,59.7 327.5,60.1 326.1,60.6 323.7,62.3 322.0,63.1 321.1,64.0 319.9,64.4 318.9,65.3 318.1,65.5 317.5,66.5 317.1,66.8 316.7,66.9 316.2,66.3 315.9,66.1 315.5,66.1 315.3,66.2 315.1,66.5 315.2,67.1 315.2,67.3 315.1,67.4Z M319.5,67.6 319.1,67.6 318.8,66.7 318.8,65.9 318.9,65.6 319.1,65.5 319.9,65.9 320.4,66.5 320.3,66.9 319.5,67.6Z" fill-opacity="0.15"/>
<path d="M314.3,66.4 314.1,66.5 313.7,66.4 313.0,64.9 312.6,64.5 311.9,64.1 310.9,63.9 309.5,64.1 308.9,64.0 308.5,63.6 308.0,62.9 306.5,61.9 305.5,60.7 305.5,58.4 306.7,57.5 307.4,55.5 307.6,55.1 307.9,54.7 308.5,54.5 309.9,54.3 312.1,54.2 312.7,54.3 313.5,55.0 313.9,55.1 314.3,55.0 315.3,54.4 315.9,54.3 316.5,54.4 318.0,55.3 318.7,55.5 320.7,55.0 322.3,54.9 322.7,55.0 322.9,55.2 323.3,56.5 323.7,56.9 325.9,57.8 326.9,57.7 327.3,57.9 327.5,58.5 327.5,59.3 327.3,59.7 325.7,60.7 323.7,62.2 321.3,63.2 320.9,63.0 320.3,62.5 319.9,62.5 319.7,62.8 319.5,63.5 319.3,63.9 317.5,64.9 316.9,65.6 315.5,65.7 314.9,65.9 314.3,66.4Z" fill-opacity="0.15"/>
<path d="M315.1,65.5 314.5,65.7 314.1,65.7 313.7,65.3 312.9,64.4 311.7,63.9 310.7,63.7 309.3,63.7 308.9,63.3 309.1,62.5 309.0,61.9 308.7,61.8 308.1,62.2 307.5,62.2 306.7,61.8 305.8,60.9 305.5,60.3 305.5,58.7 306.6,57.9 306.9,57.6 307.5,55.7 307.7,55.2 308.1,54.9 309.9,54.4 311.9,54.3 312.7,54.5 313.5,55.1 313.9,55.3 314.3,55.1 315.3,54.5 315.9,54.4 316.5,54.5 317.7,55.3 318.5,55.6 319.1,55.5 320.7,55.1 322.1,55.0 322.7,55.3 323.1,56.5 323.5,56.9 324.7,57.4 325.7,57.9 326.7,58.1 327.0,58.3 327.2,59.1 326.9,59.7 323.5,62.2 321.5,62.8 321.1,62.7 320.3,62.2 319.9,62.2 319.6,62.5 319.1,63.3 318.7,63.7 316.8,64.5 316.1,65.1 315.1,65.5Z" fill-opacity="0.15"/>
<path d="M314.9,65.3 314.5,65.4 314.1,65.3 313.2,64.3 312.7,64.0 309.7,63.4 309.4,63.1 309.3,61.9 309.1,61.6 308.9,61.5 307.9,62.0 307.5,62.0 306.7,61.6 305.9,60.7 305.5,59.7 305.6,58.9 305.9,58.5 306.7,58.1 307.1,57.7 307.5,56.0 307.8,55.5 308.1,55.1 309.8,54.5 311.9,54.4 312.5,54.5 313.5,55.3 313.9,55.4 314.3,55.3 315.3,54.6 315.9,54.5 316.5,54.7 317.9,55.5 318.5,55.7 319.1,55.6 320.7,55.2 322.1,55.2 322.6,55.5 323.0,56.5 323.3,57.0 324.9,57.6 326.5,58.4 326.8,58.7 326.8,59.3 326.6,59.7 323.5,62.0 322.5,62.4 321.5,62.6 320.3,62.1 319.9,62.1 319.5,62.3 318.9,63.1 318.5,63.4 317.5,63.8 316.3,64.0 316.1,64.1 315.7,64.9 314.9,65.3Z" fill-opacity="0.15" stroke-opacity="0.65"/>
<path d="M315.1,64.9 314.7,65.1 314.3,65.0 313.3,64.1 312.9,63.9 310.0,63.3 309.7,62.9 309.4,61.7 309.1,61.3 308.7,61.4 307.9,61.8 307.5,61.8 306.9,61.5 306.3,60.9 305.8,59.9 305.7,59.1 306.0,58.7 306.7,58.3 307.1,57.9 307.3,57.5 307.6,56.1 307.9,55.6 308.3,55.2 309.9,54.6 311.7,54.5 312.5,54.6 313.7,55.5 314.3,55.4 315.1,54.9 315.7,54.6 316.3,54.7 317.6,55.5 318.5,55.8 319.1,55.7 320.7,55.3 321.9,55.3 322.5,55.7 322.9,56.7 323.3,57.1 324.8,57.7 326.1,58.5 326.5,58.9 326.5,59.3 326.3,59.7 323.3,62.0 322.5,62.3 321.7,62.5 321.3,62.4 320.3,61.9 319.9,61.9 319.5,62.1 318.7,63.0 318.1,63.4 317.5,63.6 316.3,63.6 316.0,63.7 315.7,64.0 315.4,64.7 315.1,64.9Z" fill-opacity="0.15" stroke-opacity="0.65"/>
<path d="M314.7,64.7 314.3,64.6 313.7,64.1 313.1,63.8 310.7,63.4 310.1,63.2 309.8,62.7 309.5,61.6 309.3,61.2 308.9,61.2 307.9,61.6 307.5,61.6 306.9,61.3 306.3,60.7 305.9,59.7 306.0,59.1 307.3,57.9 307.5,57.5 307.8,56.1 308.1,55.7 308.6,55.3 309.9,54.7 311.7,54.6 312.5,54.7 313.3,55.4 313.7,55.6 314.3,55.5 315.1,55.0 315.7,54.8 316.3,54.9 317.5,55.6 318.5,55.9 320.7,55.4 321.7,55.4 322.3,55.7 322.8,56.7 323.1,57.1 324.7,57.7 326.2,58.9 326.3,59.3 326.0,59.7 323.3,61.9 322.5,62.2 321.7,62.4 321.1,62.2 320.3,61.8 319.7,61.9 318.7,62.8 318.1,63.2 317.5,63.3 316.3,63.4 315.8,63.5 315.3,63.9 315.0,64.5 314.7,64.7Z" fill-opacity="0.15" stroke-opacity="0.65"/>
<path d="M314.7,64.1 314.3,64.2 313.5,63.7 312.9,63.5 310.5,63.2 310.1,63.0 309.9,62.7 309.5,61.3 309.3,61.0 308.9,61.0 307.9,61.4 307.5,61.5 306.9,61.1 306.5,60.7 306.2,59.9 306.2,59.3 307.5,57.8 307.9,56.5 308.1,56.0 309.3,55.1 310.1,54.8 311.7,54.6 312.5,54.8 313.3,55.6 313.7,55.7 314.3,55.6 315.3,55.0 315.7,54.9 316.3,55.0 317.3,55.6 318.3,55.9 318.9,55.9 320.7,55.5 321.7,55.6 322.2,55.9 322.8,56.9 323.1,57.2 324.8,57.9 325.8,58.7 326.0,59.1 326.0,59.5 325.6,59.9 323.9,61.4 323.1,61.9 322.3,62.2 321.7,62.3 321.3,62.2 320.3,61.7 319.7,61.8 318.7,62.6 318.1,63.0 317.5,63.2 315.7,63.3 315.3,63.5 314.7,64.1Z" fill-opacity="0.15" stroke-opacity="0.65"/>
<path d="M314.3,63.7 312.9,63.4 311.3,63.3 310.5,63.1 310.2,62.9 309.9,62.5 309.7,61.3 309.5,61.0 308.9,60.9 307.9,61.3 307.5,61.3 307.1,61.1 306.7,60.7 306.4,59.9 306.5,59.3 307.7,57.7 308.0,56.5 308.3,56.1 309.5,55.1 310.5,54.8 312.1,54.8 312.5,54.9 313.3,55.7 313.7,55.9 314.3,55.7 315.3,55.1 315.7,55.0 316.1,55.0 317.2,55.7 318.3,56.0 318.9,56.0 320.5,55.6 321.5,55.6 322.1,56.0 322.7,56.9 323.1,57.3 324.7,58.0 325.5,58.7 325.8,59.1 325.7,59.5 325.4,59.9 323.7,61.5 322.9,61.9 321.7,62.2 320.3,61.7 319.7,61.7 318.1,62.8 317.5,63.0 315.9,63.1 314.3,63.7Z" fill-opacity="0.15" stroke-opacity="0.65"/>
<path d="M314.9,63.3 314.1,63.5 312.9,63.2 311.5,63.3 310.7,63.1 310.3,62.9 310.0,62.5 309.7,61.1 309.5,60.8 308.9,60.8 307.7,61.2 307.3,61.1 306.9,60.7 306.6,59.9 306.7,59.3 307.8,57.7 308.3,56.4 309.5,55.3 310.3,54.9 311.7,54.8 312.3,54.9 313.3,55.8 313.7,56.0 314.3,55.9 315.3,55.2 315.7,55.1 316.3,55.2 317.3,55.8 318.3,56.1 318.9,56.1 320.5,55.7 321.5,55.8 322.1,56.1 322.9,57.3 324.7,58.1 325.3,58.7 325.6,59.1 325.5,59.5 325.3,59.9 323.7,61.3 322.9,61.8 321.7,62.1 320.3,61.6 319.7,61.6 319.3,61.8 318.5,62.5 317.9,62.8 316.1,62.9 314.9,63.3Z" fill-opacity="0.15" stroke-opacity="0.65"/>
<path d="M314.9,63.1 314.1,63.3 312.7,63.1 311.5,63.2 310.9,63.1 310.5,62.9 310.1,62.5 309.8,60.9 309.5,60.7 308.9,60.7 307.7,61.0 307.3,60.9 307.1,60.7 306.8,59.9 307.0,59.1 307.9,57.7 308.4,56.5 309.7,55.3 310.5,55.0 311.9,54.9 312.4,55.1 313.2,55.9 313.7,56.1 314.3,56.0 315.3,55.3 315.7,55.2 316.2,55.3 317.2,55.9 318.3,56.2 318.9,56.2 320.5,55.8 321.3,55.8 321.9,56.1 322.9,57.4 324.7,58.3 325.4,59.1 325.3,59.5 324.9,60.1 323.6,61.3 322.7,61.8 321.7,62.0 320.3,61.5 319.7,61.5 319.2,61.7 318.5,62.3 317.9,62.6 315.9,62.9 314.9,63.1Z" fill-opacity="0.15" stroke-opacity="0.65"/>
</g>
<rect x="318" y="79.6" width="16.0" height="1.7" fill="#000"/>
<rect x="305.5" y="52" width="2.7" height="27.0" fill="#000"/>
<rect x="305.6" y="20.2" width="10.1" height="7.1" fill="#fff"/>
<text x="306.1" y="26.1" text-anchor="start" style="font-size:5.4px;" fill="#000" stroke="#000" stroke-width="0.16">0.9</text>
<rect x="352.6" y="20.2" width="13.8" height="7.1" fill="#fff"/>
<text x="365.3" y="26.1" text-anchor="end" style="font-size:5.4px;" fill="#000" stroke="#000" stroke-width="0.16">0.22</text>
<rect x="305.6" y="75.1" width="13.1" height="6.0" fill="#fff"/>
<path d="M305.6,75.1 H318.7 V81.1" fill="none" stroke="#000" stroke-width="0.45"/>
<text x="306.1" y="80.1" text-anchor="start" style="font-size:5.4px;" fill="#000" stroke="#000" stroke-width="0.16">97.2</text>
<rect x="352.6" y="75.1" width="13.8" height="6.0" fill="#fff"/>
<text x="365.3" y="80.1" text-anchor="end" style="font-size:5.4px;" fill="#000" stroke="#000" stroke-width="0.16">1.71</text>
<line x1="315.74800000000005" y1="20.7" x2="352.63599999999997" y2="20.7" stroke="#000" stroke-width="0.6"/>
<line x1="366.7" y1="20.7" x2="366.7" y2="81.3" stroke="#333" stroke-width="0.6"/>
<line x1="305.5" y1="20.4" x2="305.5" y2="81.7" stroke="#000" stroke-width="0.9"/>
<line x1="305.1" y1="81.3" x2="367.0" y2="81.3" stroke="#000" stroke-width="0.9"/>
<clipPath id="cp3"><rect x="380.6" y="20.7" width="60.4" height="60.6"/></clipPath>
<text x="378.0" y="21.1" text-anchor="end" style="font-size:2.5px;font-weight:normal" fill="#444">10<tspan dy="-0.9" style="font-size:1.9px">4</tspan></text>
<text x="380.8" y="86.3" text-anchor="middle" style="font-size:2.5px;font-weight:normal" fill="#444">10<tspan dy="-0.9" style="font-size:1.9px">0</tspan></text>
<line x1="378.40000000000003" y1="20.7" x2="380.6" y2="20.7" stroke="#666" stroke-width="0.35"/>
<line x1="380.6" y1="81.3" x2="380.6" y2="83.3" stroke="#666" stroke-width="0.35"/>
<text x="378.0" y="36.2" text-anchor="end" style="font-size:2.5px;font-weight:normal" fill="#444">10<tspan dy="-0.9" style="font-size:1.9px">3</tspan></text>
<text x="395.9" y="86.3" text-anchor="middle" style="font-size:2.5px;font-weight:normal" fill="#444">10<tspan dy="-0.9" style="font-size:1.9px">1</tspan></text>
<line x1="378.40000000000003" y1="35.849999999999994" x2="380.6" y2="35.849999999999994" stroke="#666" stroke-width="0.35"/>
<line x1="395.70000000000005" y1="81.3" x2="395.70000000000005" y2="83.3" stroke="#666" stroke-width="0.35"/>
<text x="378.0" y="51.4" text-anchor="end" style="font-size:2.5px;font-weight:normal" fill="#444">10<tspan dy="-0.9" style="font-size:1.9px">2</tspan></text>
<text x="411.0" y="86.3" text-anchor="middle" style="font-size:2.5px;font-weight:normal" fill="#444">10<tspan dy="-0.9" style="font-size:1.9px">2</tspan></text>
<line x1="378.40000000000003" y1="51.0" x2="380.6" y2="51.0" stroke="#666" stroke-width="0.35"/>
<line x1="410.8" y1="81.3" x2="410.8" y2="83.3" stroke="#666" stroke-width="0.35"/>
<text x="378.0" y="66.5" text-anchor="end" style="font-size:2.5px;font-weight:normal" fill="#444">10<tspan dy="-0.9" style="font-size:1.9px">1</tspan></text>
<text x="426.1" y="86.3" text-anchor="middle" style="font-size:2.5px;font-weight:normal" fill="#444">10<tspan dy="-0.9" style="font-size:1.9px">3</tspan></text>
<line x1="378.40000000000003" y1="66.14999999999999" x2="380.6" y2="66.14999999999999" stroke="#666" stroke-width="0.35"/>
<line x1="425.9" y1="81.3" x2="425.9" y2="83.3" stroke="#666" stroke-width="0.35"/>
<text x="378.0" y="81.7" text-anchor="end" style="font-size:2.5px;font-weight:normal" fill="#444">10<tspan dy="-0.9" style="font-size:1.9px">0</tspan></text>
<text x="441.2" y="86.3" text-anchor="middle" style="font-size:2.5px;font-weight:normal" fill="#444">10<tspan dy="-0.9" style="font-size:1.9px">4</tspan></text>
<line x1="378.40000000000003" y1="81.3" x2="380.6" y2="81.3" stroke="#666" stroke-width="0.35"/>
<line x1="441.0" y1="81.3" x2="441.0" y2="83.3" stroke="#666" stroke-width="0.35"/>
<line x1="413.4" y1="20.7" x2="413.4" y2="81.3" stroke="#000" stroke-width="0.6"/>
<line x1="380.6" y1="51.4" x2="441.0" y2="51.4" stroke="#000" stroke-width="0.6"/>
<g clip-path="url(#cp3)" stroke="#000" stroke-width="0.55" stroke-linejoin="round" fill="#000">
<path d="M397.0,80.1 396.2,80.1 394.4,79.4 392.2,79.0 390.4,78.2 389.6,78.2 387.8,78.5 386.6,78.3 386.0,78.1 385.7,77.7 385.4,76.3 385.1,75.5 382.8,73.3 382.4,72.7 381.9,71.5 380.6,70.1 380.5,67.7 380.6,61.3 381.7,58.9 382.1,57.5 382.9,56.3 383.2,54.7 383.6,54.3 385.2,54.0 387.0,52.9 388.8,52.3 389.3,51.7 389.5,49.9 389.4,49.5 389.2,49.1 388.8,48.8 387.7,48.5 387.3,48.1 387.1,47.7 387.0,46.9 387.4,44.3 387.2,43.4 386.8,42.8 386.6,42.7 386.4,42.8 385.3,44.1 383.8,45.4 383.2,45.6 382.6,45.6 381.4,44.9 380.8,43.9 380.6,42.9 380.6,40.9 380.8,39.9 381.4,39.0 382.4,38.4 383.2,38.3 383.8,38.5 384.5,39.1 385.1,39.9 386.2,41.8 386.6,42.1 386.8,42.1 387.8,41.2 388.1,39.7 388.6,39.0 391.4,37.2 392.4,36.8 395.4,36.2 397.0,35.6 399.8,35.5 400.6,35.7 402.0,36.3 403.4,36.7 404.4,37.1 405.6,37.3 406.2,37.5 406.6,37.9 407.1,39.1 408.9,41.7 409.2,43.3 408.9,45.1 409.0,45.5 410.4,47.7 411.4,48.9 411.5,49.3 411.5,49.7 411.3,50.3 410.6,50.9 409.8,51.2 407.6,51.5 407.3,51.7 407.3,51.9 407.5,52.1 408.8,52.6 409.4,53.1 409.7,53.5 410.1,54.7 410.9,55.9 411.1,56.5 411.2,58.1 412.0,60.7 412.4,61.5 413.3,62.5 413.5,62.9 413.4,64.5 413.7,65.9 413.7,67.1 413.0,69.9 412.0,72.7 411.2,73.7 410.2,74.1 410.2,74.3 410.5,74.7 410.5,75.1 410.2,75.9 409.0,76.7 408.0,77.7 406.2,78.4 404.4,78.5 403.4,79.2 401.8,79.3 400.0,80.1 399.4,80.1 398.2,79.9 397.0,80.1Z M432.4,79.5 432.0,79.6 431.4,79.5 430.6,79.2 429.8,78.7 429.4,78.3 428.7,76.9 427.6,76.2 427.3,75.9 427.0,75.1 426.9,73.1 426.7,72.1 426.4,71.6 425.6,70.9 425.4,70.5 425.2,69.9 425.2,69.1 425.3,67.9 426.2,66.1 426.1,65.7 425.3,64.3 425.1,63.5 425.2,62.9 425.5,61.7 425.5,60.3 425.8,58.7 426.6,57.3 427.2,55.9 428.3,54.9 429.2,53.3 429.8,52.7 431.0,51.8 431.4,51.5 431.8,51.5 432.2,51.7 432.4,51.9 433.5,53.9 435.4,55.7 435.9,56.3 436.2,57.5 436.5,60.1 437.3,61.7 437.5,62.7 437.4,64.1 437.4,67.9 436.9,69.9 436.9,71.7 436.5,72.5 434.6,75.5 434.1,77.5 433.7,78.5 433.2,79.0 432.4,79.5Z" fill="none"/>
<path d="M399.8,78.9 399.4,78.8 399.0,78.6 398.0,77.4 397.4,77.1 395.4,77.2 392.8,76.3 392.4,76.3 391.2,76.7 390.6,76.8 390.0,76.7 388.8,76.3 387.2,76.3 386.8,76.2 386.4,75.9 385.4,74.3 383.9,72.9 383.2,71.2 381.8,70.1 381.1,69.3 380.6,68.4 380.6,67.7 380.6,67.0 381.4,65.3 381.4,64.7 381.0,63.3 381.5,61.5 381.9,60.7 382.6,59.7 383.0,58.1 383.7,57.1 384.4,55.6 384.9,55.3 386.2,54.7 387.6,54.4 388.5,53.9 389.2,53.7 389.8,53.8 391.0,54.3 392.2,54.7 393.0,54.8 394.0,53.8 395.2,53.1 396.1,52.1 395.4,50.9 394.8,50.4 393.6,50.0 392.2,49.9 391.6,49.6 390.4,48.5 389.5,47.5 388.6,46.7 388.3,46.3 388.1,45.5 388.1,42.9 388.2,42.5 388.8,41.5 389.1,40.1 389.4,39.8 390.4,39.3 391.1,38.5 391.6,38.1 393.6,37.4 394.4,37.2 395.6,37.1 397.6,36.5 399.8,36.3 400.6,36.5 401.8,37.4 403.0,37.6 404.0,38.2 405.0,38.4 405.4,38.7 405.8,39.5 406.8,40.5 407.1,40.9 407.9,42.9 408.0,43.9 407.7,45.5 407.9,46.3 408.2,46.7 409.2,47.5 409.7,48.1 410.4,49.1 410.5,49.7 410.3,50.1 410.0,50.3 409.2,50.5 408.0,50.5 406.4,50.1 405.2,49.9 404.4,50.1 403.0,50.6 401.8,50.6 400.2,51.2 398.7,50.9 398.2,50.9 397.3,51.3 396.3,52.1 396.8,52.7 397.5,53.3 399.6,54.2 399.8,54.2 399.8,53.3 400.1,52.7 400.6,52.4 401.4,52.2 403.2,52.1 404.2,52.2 405.0,52.5 406.1,53.3 407.6,53.4 408.4,53.7 408.7,54.3 408.8,55.8 409.0,56.1 409.6,56.5 409.9,56.9 410.1,58.7 410.8,59.9 411.1,60.9 411.2,61.5 411.0,62.5 411.0,62.9 411.8,64.1 412.0,64.9 411.6,66.9 411.0,68.2 410.4,69.9 410.4,70.3 410.6,71.3 410.4,71.8 408.9,72.5 408.7,72.9 408.3,74.1 408.1,74.5 406.0,76.2 405.6,76.4 404.4,76.5 402.6,77.6 401.0,77.7 400.8,77.9 400.3,78.7 399.8,78.9Z M383.4,45.0 382.6,45.0 382.0,44.8 381.6,44.5 381.1,43.7 380.8,42.5 380.9,41.3 381.3,40.1 381.6,39.6 382.0,39.3 382.8,39.0 383.6,39.1 384.5,39.9 385.1,40.9 385.5,42.1 385.4,42.9 385.0,43.7 384.4,44.3 383.4,45.0Z M391.6,43.5 392.0,43.2 392.0,42.9 391.8,42.9 391.6,43.1 391.5,43.3 391.6,43.5Z M432.0,78.4 431.2,78.4 430.4,78.0 430.0,77.5 429.2,76.2 427.9,75.3 427.6,74.5 427.2,71.7 426.9,70.9 426.1,69.9 425.9,68.9 426.1,67.9 426.9,66.5 427.0,66.1 426.3,64.7 426.1,63.7 426.4,61.7 426.2,60.1 426.4,58.9 427.9,56.3 429.0,55.5 429.6,54.5 430.0,54.0 430.8,53.5 431.4,53.3 431.8,53.5 432.7,54.5 433.8,55.5 435.1,57.1 435.6,58.7 435.7,60.7 436.6,61.9 436.8,62.7 436.6,64.1 436.5,66.5 436.7,68.3 436.3,70.1 436.1,71.7 435.8,72.3 435.0,73.3 433.1,77.5 432.6,78.1 432.0,78.4Z" fill="none"/>
<path d="M400.4,50.5 399.8,50.5 398.0,50.1 396.8,50.5 396.2,50.5 395.1,49.9 391.2,48.3 390.7,47.9 390.0,47.0 389.0,46.1 388.7,45.7 388.6,45.1 388.7,43.3 388.8,42.7 389.7,40.7 391.0,39.8 391.9,38.7 394.2,37.8 395.4,37.6 397.2,37.2 400.0,37.0 400.5,37.3 401.1,38.3 401.6,38.4 402.4,38.3 402.8,38.5 403.6,39.3 404.6,39.6 405.0,39.9 405.8,40.7 407.2,43.5 407.2,44.1 407.2,45.5 407.4,46.5 407.8,47.0 408.8,47.9 409.3,48.5 409.6,49.1 409.6,49.6 409.2,49.9 408.8,50.0 408.2,50.0 407.6,49.8 406.2,49.1 405.4,48.2 405.2,48.3 404.6,48.9 404.2,49.2 403.6,49.4 402.3,49.3 401.2,50.2 400.4,50.5Z M383.0,44.7 382.2,44.6 381.6,44.1 381.1,43.1 381.0,42.1 381.2,41.1 381.6,40.1 382.2,39.6 383.0,39.4 383.8,39.6 384.5,40.3 384.9,41.1 385.1,42.1 385.0,42.9 384.6,43.7 383.8,44.4 383.0,44.7Z M391.7,43.9 392.2,43.4 392.5,42.9 392.4,42.5 392.2,42.4 391.6,42.5 391.2,42.9 391.0,43.3 391.0,43.9 391.2,44.1 391.4,44.1 391.7,43.9Z M399.8,77.5 399.2,77.4 398.4,76.8 397.8,76.6 397.0,76.5 395.8,76.6 395.2,76.4 393.7,75.5 393.2,74.8 392.9,75.1 392.3,75.5 391.4,75.9 390.8,76.0 390.2,75.9 389.2,75.5 388.2,75.3 387.6,75.1 387.0,74.7 386.8,74.3 386.8,73.9 387.2,73.3 387.4,72.7 387.2,72.1 387.0,72.0 386.7,72.1 386.2,73.1 386.0,73.2 385.6,73.2 385.0,73.0 384.4,72.3 383.8,70.9 383.4,70.5 382.4,69.9 381.7,69.1 381.3,68.3 381.2,67.7 382.0,65.4 382.0,64.7 381.7,63.3 382.0,61.7 382.3,60.9 383.2,59.9 383.7,58.7 384.4,57.5 384.9,56.3 385.5,55.7 386.0,55.5 386.6,55.4 388.0,55.7 388.6,55.5 389.4,54.9 389.8,54.9 392.8,55.5 393.4,55.6 394.0,55.3 395.8,53.9 396.4,53.7 399.4,55.1 400.0,55.1 400.4,55.0 400.6,54.7 400.7,53.7 400.9,53.3 401.2,53.1 401.8,52.9 404.0,53.1 404.5,53.3 405.4,53.9 407.0,54.2 407.6,54.6 408.0,55.3 408.4,56.7 409.0,57.7 409.0,58.1 408.8,59.1 409.0,59.7 409.3,60.1 410.0,60.5 410.4,60.9 410.5,61.5 410.3,62.9 411.2,64.5 411.2,65.1 410.8,67.1 410.3,68.7 409.6,70.1 409.2,71.1 408.2,72.2 407.7,73.5 407.4,73.9 405.6,74.7 404.0,76.0 402.8,76.8 402.2,77.0 400.8,77.0 399.8,77.5Z M431.8,77.6 431.2,77.6 430.6,77.2 429.4,75.3 428.6,74.8 428.4,74.6 427.9,73.1 427.4,71.1 426.5,69.5 426.4,68.7 426.5,67.9 427.2,66.7 427.3,66.3 427.2,65.7 426.7,64.7 426.6,63.9 426.6,62.9 426.9,61.3 426.7,59.7 426.9,58.9 428.0,57.2 428.4,56.7 429.0,56.4 430.8,55.8 431.2,55.3 431.6,55.1 432.4,55.3 433.2,55.7 433.9,56.3 434.5,57.1 434.9,57.9 435.1,58.9 435.2,60.9 435.4,61.3 436.1,62.1 436.3,62.7 436.1,64.5 436.3,68.5 435.9,70.1 435.7,71.5 435.5,71.9 434.6,73.2 433.1,76.3 432.4,77.2 431.8,77.6Z" fill="none"/>
<path d="M400.0,50.1 398.0,49.6 396.2,49.8 394.4,49.2 391.4,47.8 391.0,47.4 390.4,46.5 389.4,45.7 389.2,45.1 389.3,44.1 389.3,43.1 389.4,42.5 390.2,41.1 391.7,40.1 392.4,39.2 394.2,38.3 396.6,37.7 397.2,37.6 399.6,37.7 400.0,37.9 400.8,38.7 402.4,39.1 403.4,39.7 404.4,40.1 405.1,40.7 406.5,43.3 406.6,43.9 406.7,45.3 407.0,46.7 407.2,47.1 408.7,48.3 408.9,48.7 408.9,49.1 408.8,49.3 408.4,49.5 408.0,49.5 407.4,49.2 406.7,48.7 406.0,47.6 405.4,47.4 405.0,47.5 404.2,48.5 403.8,48.8 402.0,48.9 400.8,49.9 400.0,50.1Z M383.4,44.4 382.6,44.5 382.0,44.2 381.5,43.5 381.2,42.7 381.2,41.7 381.5,40.7 382.0,40.0 382.8,39.7 383.6,39.8 384.2,40.2 384.7,40.9 384.9,41.7 384.9,42.5 384.6,43.3 384.1,43.9 383.4,44.4Z M391.3,44.5 392.4,43.4 392.7,42.9 393.0,41.9 393.6,41.3 393.7,40.7 393.4,40.2 393.2,40.2 392.8,40.3 392.6,40.7 392.6,41.5 391.4,42.2 390.6,43.3 390.4,43.9 390.6,44.3 391.0,44.6 391.3,44.5Z M401.8,76.5 399.8,76.5 399.0,76.0 397.8,76.1 395.6,75.9 394.8,75.4 393.9,74.1 393.2,73.8 392.6,73.9 392.3,74.1 391.6,74.9 391.0,75.2 390.6,75.1 389.8,74.6 388.4,74.6 388.0,74.4 387.8,74.1 387.7,72.3 387.4,71.6 387.2,71.5 386.8,71.4 386.4,71.6 385.8,72.3 385.6,72.3 385.2,72.3 384.9,71.9 384.4,70.9 384.0,70.3 382.3,69.1 382.0,68.5 381.9,67.9 382.6,65.3 382.2,63.3 382.4,61.7 382.7,61.1 383.6,60.2 384.1,58.9 385.0,57.7 385.4,56.7 385.8,56.3 386.4,56.0 387.8,56.2 389.4,55.9 390.4,56.1 391.2,55.8 392.0,55.9 393.0,56.3 393.4,56.7 393.4,56.9 393.1,57.7 393.4,57.9 394.0,57.7 394.6,57.3 394.8,56.9 395.2,55.9 396.0,55.1 396.6,55.0 397.6,55.5 398.4,55.4 399.6,55.5 400.2,55.5 400.8,55.1 401.4,53.8 402.0,53.5 402.8,53.4 403.6,53.6 404.1,53.9 404.6,54.6 406.4,54.6 407.0,54.8 407.4,55.1 407.8,55.9 408.3,57.7 408.6,59.9 409.0,60.4 409.8,61.1 409.9,61.5 409.9,62.9 410.5,64.5 410.2,65.7 410.3,67.1 410.1,68.1 409.8,68.9 409.1,69.9 408.6,70.9 407.8,72.0 407.3,73.1 407.0,73.5 405.4,74.2 403.2,76.1 402.4,76.4 401.8,76.5Z M432.0,76.7 431.4,76.8 430.8,76.5 430.4,76.0 429.6,74.5 428.6,73.6 428.2,72.9 427.6,70.9 426.7,68.9 426.8,67.9 427.5,66.7 427.6,66.3 426.9,64.7 426.8,63.5 426.9,62.7 427.3,61.1 427.2,59.3 427.5,58.7 428.3,57.5 428.6,57.1 429.2,56.8 430.0,56.6 431.2,56.6 432.2,56.1 432.6,56.0 433.4,56.4 434.2,57.3 434.8,59.3 434.9,61.1 435.9,62.5 435.9,63.1 435.7,64.5 435.9,68.5 435.2,71.7 434.4,73.0 433.1,75.7 432.6,76.4 432.0,76.7Z M391.7,69.5 391.8,69.3 391.6,69.1 391.2,69.3 391.4,69.5 391.7,69.5Z" fill="none"/>
<path d="M400.0,49.7 398.0,49.3 396.2,49.4 394.8,49.1 392.0,47.7 391.6,47.5 391.3,47.1 391.1,46.1 391.2,45.3 393.2,42.4 393.8,41.7 394.0,41.1 394.1,39.3 394.3,38.9 394.8,38.6 396.0,38.2 397.0,38.0 399.6,38.3 400.8,39.0 402.2,39.5 404.2,40.4 404.7,40.9 405.1,41.9 406.1,43.1 406.3,43.9 406.3,46.1 406.2,46.5 406.1,46.7 404.8,47.1 403.8,48.4 403.2,48.5 402.2,48.5 401.8,48.6 400.8,49.5 400.0,49.7Z M383.4,44.2 382.6,44.3 382.0,44.0 381.5,43.3 381.3,42.5 381.4,41.7 381.7,40.7 382.2,40.1 382.8,39.9 383.4,39.9 384.0,40.3 384.5,40.9 384.7,41.7 384.7,42.5 384.5,43.1 384.1,43.7 383.4,44.2Z M408.2,49.0 407.8,49.0 407.3,48.7 407.0,48.3 407.0,47.8 407.4,47.8 408.2,48.3 408.4,48.7 408.2,49.0Z M402.6,75.9 402.0,76.0 401.4,76.0 399.2,75.2 398.8,75.2 397.6,75.6 395.8,75.3 395.4,75.1 394.2,73.9 393.6,73.5 393.2,73.4 392.6,73.4 391.4,73.8 390.4,73.7 389.2,74.0 388.6,74.0 388.2,73.5 387.9,71.9 387.6,71.3 387.2,71.1 386.8,71.0 385.6,71.3 385.4,71.3 384.2,69.8 382.8,68.7 382.7,68.3 382.6,67.7 383.1,64.9 382.7,63.3 382.7,61.9 383.0,61.4 384.0,60.5 384.6,58.9 386.2,56.9 386.8,56.6 388.8,56.6 389.2,56.7 390.2,57.4 391.0,57.9 391.1,58.9 391.3,59.1 391.6,59.1 393.2,58.7 394.6,58.1 395.4,57.5 396.0,56.7 396.4,56.4 397.8,56.4 398.8,56.0 400.0,55.8 400.6,55.6 401.0,55.3 401.6,54.3 402.2,53.9 402.8,53.9 403.4,54.0 403.7,54.3 404.1,54.9 404.4,55.0 406.2,54.9 406.8,55.0 407.2,55.4 407.7,56.3 408.4,60.1 409.3,61.3 409.4,61.7 409.4,62.9 409.7,64.3 409.5,65.3 409.9,67.1 409.8,68.1 409.6,68.7 408.6,69.9 408.1,70.9 406.8,73.1 405.3,73.9 403.4,75.5 402.6,75.9Z M432.2,76.2 431.6,76.3 431.0,76.1 430.6,75.6 429.9,74.3 428.8,73.3 428.4,72.7 427.8,70.8 427.0,68.9 427.1,68.1 427.7,66.9 427.8,66.5 427.6,65.9 427.1,64.7 427.1,63.7 427.2,62.5 427.7,60.9 427.6,59.3 427.9,58.7 428.4,57.9 428.8,57.5 429.4,57.2 431.2,57.0 432.6,56.4 433.0,56.5 433.4,56.8 433.9,57.5 434.6,59.3 434.8,61.3 435.6,62.5 435.6,63.1 435.4,64.5 435.6,66.1 435.6,68.5 434.9,71.7 434.2,72.9 433.1,75.3 432.8,75.7 432.2,76.2Z M391.9,69.9 392.1,69.7 392.3,69.3 392.4,69.1 392.2,68.8 391.6,68.7 390.8,68.9 390.5,69.1 390.5,69.3 390.5,69.5 390.8,69.7 391.4,70.0 391.9,69.9Z" fill="none"/>
<path d="M400.2,49.3 399.6,49.3 398.2,49.1 396.6,49.1 394.8,48.8 392.2,47.5 391.6,46.9 391.5,46.1 391.7,44.9 393.2,42.7 394.1,41.7 394.3,40.1 394.6,39.3 394.9,38.9 395.6,38.5 396.4,38.3 397.0,38.2 399.4,38.5 403.4,40.2 403.9,40.5 404.3,40.9 404.8,42.0 405.6,42.8 405.9,43.3 406.0,44.1 405.9,45.3 405.8,45.9 405.6,46.3 404.6,46.8 404.0,47.8 403.6,48.2 403.2,48.3 402.0,48.2 401.6,48.3 400.7,49.1 400.2,49.3Z M383.0,44.1 382.4,44.1 381.9,43.7 381.5,42.9 381.4,42.1 381.6,41.3 381.8,40.7 382.4,40.2 383.0,40.0 383.6,40.2 384.2,40.7 384.5,41.3 384.6,42.1 384.5,42.7 384.2,43.4 383.6,43.9 383.0,44.1Z M402.8,75.3 402.3,75.3 401.6,74.9 400.6,75.1 399.0,74.8 397.8,74.8 396.8,74.3 395.4,74.3 393.8,73.3 393.0,73.1 390.6,73.1 389.2,73.5 388.8,73.5 388.4,73.0 388.1,71.5 387.8,71.0 387.4,70.8 385.8,70.4 384.8,69.7 383.6,68.7 383.3,68.3 383.1,67.7 383.5,64.7 383.0,63.3 383.0,62.5 383.2,61.9 383.4,61.7 384.3,61.3 384.5,61.1 384.6,59.7 384.8,59.1 385.2,58.6 386.8,57.3 387.4,57.1 388.6,57.0 389.2,57.3 389.8,57.9 390.1,58.3 390.4,59.1 390.8,59.5 391.2,59.7 391.6,59.7 392.6,59.4 394.8,58.3 396.6,56.9 398.2,56.8 400.8,55.7 401.2,55.4 401.8,54.6 402.4,54.2 402.8,54.2 403.2,54.4 403.9,55.1 404.2,55.3 406.0,55.1 406.6,55.2 407.0,55.5 407.3,55.9 407.5,56.5 408.2,60.3 408.8,61.7 408.8,64.3 409.5,66.9 409.5,67.9 409.2,68.7 408.1,69.9 407.7,70.9 406.6,72.8 405.2,73.6 403.4,75.0 402.8,75.3Z M432.0,75.9 431.4,75.9 431.0,75.6 430.2,74.3 428.9,73.1 428.5,72.5 427.3,68.9 427.3,68.1 427.8,67.1 427.9,66.5 427.8,65.9 427.3,64.7 427.2,63.7 427.3,62.5 428.0,60.7 428.0,59.3 428.5,58.3 429.0,57.8 429.4,57.6 431.0,57.3 432.6,56.8 433.2,57.0 433.7,57.7 434.4,59.5 434.6,61.3 435.2,62.3 435.4,62.7 435.1,64.5 435.4,66.3 435.4,68.5 435.3,69.1 434.9,70.3 434.6,71.5 433.3,74.5 432.8,75.4 432.4,75.8 432.0,75.9Z M392.1,70.1 392.5,69.7 392.8,69.1 392.7,68.7 392.4,68.4 392.0,68.4 390.6,68.7 390.0,69.1 390.0,69.5 390.4,69.9 391.4,70.3 392.1,70.1Z" fill="none"/>
<path d="M400.2,49.0 399.4,49.1 397.0,48.9 395.0,48.5 392.4,47.3 391.9,46.7 391.8,45.5 392.1,44.5 393.2,42.9 394.2,41.9 394.7,39.7 395.1,39.1 395.8,38.7 397.0,38.5 399.4,38.8 403.2,40.3 404.0,40.9 404.6,42.1 405.7,43.3 405.8,44.3 405.5,45.7 405.2,46.0 404.4,46.5 403.8,47.7 403.2,48.0 401.4,48.0 400.2,49.0Z M383.2,43.9 382.6,44.0 382.1,43.7 381.7,43.1 381.5,42.3 381.7,41.3 382.0,40.7 382.4,40.3 383.0,40.2 383.6,40.3 384.1,40.7 384.4,41.3 384.5,41.9 384.4,42.5 384.2,43.1 383.8,43.6 383.2,43.9Z M403.0,74.7 401.6,74.3 400.6,74.7 400.0,74.7 398.2,74.3 397.0,73.7 395.2,73.8 393.6,72.9 392.6,72.7 390.8,72.7 389.2,73.1 388.8,73.0 388.5,72.3 388.2,70.6 386.6,70.2 384.8,69.1 383.8,68.3 383.5,67.7 383.5,66.9 383.8,64.7 383.4,63.3 383.4,62.7 383.8,62.2 385.0,61.8 385.3,61.5 385.3,61.1 384.9,59.9 385.1,59.3 385.4,58.8 387.0,57.6 387.6,57.4 388.4,57.4 389.0,57.8 389.6,58.9 390.2,59.5 391.0,60.0 391.8,60.1 392.4,59.9 394.6,58.7 396.6,57.3 397.0,57.2 398.4,57.1 399.6,56.4 400.9,55.9 401.4,55.6 402.0,54.8 402.4,54.6 403.0,54.7 403.7,55.3 404.0,55.4 406.0,55.3 406.8,55.6 407.3,56.3 407.7,58.1 408.0,61.2 408.3,62.7 408.4,64.3 409.2,66.7 409.3,67.3 409.3,67.9 408.9,68.7 407.6,69.8 407.2,71.1 406.4,72.5 404.2,74.2 403.0,74.7Z M432.2,75.6 431.6,75.6 431.2,75.4 430.3,74.1 429.0,72.9 428.6,72.3 427.5,68.9 427.5,68.1 428.0,67.0 428.1,66.5 427.5,64.9 427.4,63.9 427.5,62.5 428.2,60.9 428.3,59.5 428.6,58.7 429.0,58.2 429.6,57.9 432.6,57.1 433.0,57.2 433.3,57.5 434.1,59.1 434.3,59.9 434.4,61.3 435.2,62.7 435.2,63.1 434.9,64.5 435.3,66.7 435.1,68.7 434.7,70.1 434.3,71.7 433.1,74.7 432.6,75.3 432.2,75.6Z M391.9,70.5 392.5,70.1 393.3,69.1 393.2,68.7 392.6,68.1 392.2,68.0 390.4,68.5 390.0,68.7 389.6,69.1 389.4,69.7 389.4,69.9 389.6,70.0 391.4,70.6 391.9,70.5Z" fill="none"/>
<path d="M400.0,48.7 399.2,48.8 397.2,48.8 395.2,48.3 394.7,48.1 393.8,47.5 392.6,47.1 392.3,46.9 392.1,46.5 392.0,45.5 392.2,44.5 393.2,43.1 394.4,41.9 394.6,40.5 395.1,39.5 395.5,39.1 396.0,38.8 397.0,38.6 399.4,39.0 403.0,40.4 403.7,40.9 404.4,42.2 405.2,43.0 405.5,43.5 405.6,44.3 405.4,45.3 405.0,45.8 404.2,46.3 403.6,47.5 403.0,47.8 401.2,47.7 400.0,48.7Z M383.4,43.7 382.8,43.9 382.4,43.8 381.9,43.3 381.7,42.7 381.6,41.9 381.9,41.1 382.2,40.6 382.8,40.3 383.4,40.3 383.8,40.6 384.1,40.9 384.3,41.5 384.4,42.3 384.2,42.9 384.0,43.3 383.4,43.7Z M403.2,74.3 402.8,74.4 401.6,74.0 400.4,74.5 399.8,74.5 398.4,74.0 397.2,73.3 395.6,73.5 395.0,73.4 393.6,72.6 392.2,72.1 391.4,72.2 389.4,72.7 389.0,72.7 388.8,72.3 388.6,71.7 388.8,71.1 389.0,70.8 389.4,70.7 390.0,70.6 391.6,70.9 392.0,70.9 393.0,70.0 393.8,69.5 394.0,69.2 394.0,68.9 392.6,67.5 392.4,67.5 391.4,68.0 390.0,68.4 388.6,69.8 388.2,70.0 387.6,70.0 387.0,69.9 386.0,69.1 384.8,68.7 384.1,68.1 383.8,67.3 384.1,64.5 383.8,63.1 384.0,62.7 384.2,62.5 385.2,62.1 385.6,61.7 385.6,61.1 385.3,59.7 385.4,59.3 385.7,58.9 386.2,58.5 387.2,57.9 387.8,57.8 388.2,57.8 388.6,58.1 388.7,58.9 389.0,59.3 389.8,59.6 391.0,60.3 392.0,60.5 392.6,60.3 396.6,57.6 397.2,57.4 398.2,57.4 398.6,57.3 399.8,56.6 401.3,55.9 402.4,55.0 402.8,55.0 403.8,55.6 406.0,55.4 406.4,55.6 406.8,55.8 407.2,56.7 407.7,59.3 407.6,60.5 407.0,61.3 407.9,62.7 408.0,64.3 408.9,66.5 409.1,67.1 409.1,67.7 408.7,68.5 407.2,69.7 406.6,71.5 406.1,72.3 404.2,73.9 403.2,74.3Z M432.2,75.4 431.6,75.4 431.2,75.1 430.4,73.9 429.2,72.9 428.8,72.3 427.6,68.9 427.7,68.1 428.1,67.1 428.2,66.5 427.6,64.9 427.5,64.1 427.6,62.5 428.4,60.9 428.6,59.5 428.8,58.9 429.2,58.5 429.8,58.1 432.4,57.4 432.8,57.5 433.1,57.7 434.1,59.7 434.3,61.5 435.0,62.7 435.0,63.1 434.7,64.5 435.1,66.7 434.9,68.7 434.4,70.1 434.1,71.7 433.0,74.5 432.6,75.1 432.2,75.4Z" fill="none"/>
<path d="M399.8,48.5 398.8,48.7 397.4,48.6 396.7,48.5 395.2,48.0 394.8,47.7 394.5,47.3 394.6,46.7 394.4,46.5 393.7,46.9 393.2,47.0 392.6,46.8 392.3,46.3 392.2,45.1 392.4,44.3 393.4,43.1 394.4,42.1 394.7,40.7 394.9,40.1 395.4,39.4 396.0,39.0 396.8,38.8 399.2,39.1 403.0,40.6 403.7,41.1 404.2,42.3 405.1,43.1 405.4,43.5 405.5,44.3 405.3,45.1 405.0,45.5 403.9,46.3 403.4,47.4 402.8,47.6 401.0,47.4 400.8,47.5 400.2,48.2 399.8,48.5Z M383.2,43.7 382.6,43.8 382.2,43.5 381.9,43.1 381.7,42.3 381.8,41.5 382.1,40.9 382.4,40.6 383.0,40.4 383.6,40.6 384.0,40.9 384.2,41.3 384.3,41.9 384.2,42.5 384.0,43.1 383.6,43.5 383.2,43.7Z M395.9,46.5 396.1,46.3 396.0,46.1 395.8,46.1 395.5,46.3 395.5,46.5 395.9,46.5Z M403.0,74.1 401.4,73.8 400.4,74.2 400.0,74.2 399.0,73.9 397.6,73.0 397.2,73.0 395.6,73.3 395.0,73.2 394.5,72.9 393.6,72.2 392.8,71.7 392.5,71.3 392.6,70.9 393.0,70.5 394.0,69.8 394.3,69.1 394.2,68.6 393.4,67.9 392.6,66.9 392.2,67.0 391.4,67.8 390.0,68.2 388.8,69.3 388.0,69.6 387.3,69.5 386.0,68.5 385.0,68.3 384.6,68.1 384.2,67.7 384.1,67.3 384.1,65.9 384.3,64.5 384.2,63.3 384.5,62.7 385.5,62.1 385.8,61.7 385.8,60.9 385.6,59.7 385.8,59.1 386.2,58.7 386.8,58.4 387.4,58.2 387.8,58.2 388.1,58.5 388.3,59.1 388.7,59.5 389.8,59.8 391.4,60.7 392.2,60.9 392.6,60.7 396.4,58.0 397.0,57.7 398.2,57.7 398.6,57.6 399.9,56.7 401.4,56.1 402.4,55.4 402.8,55.4 403.6,55.7 404.0,55.7 405.8,55.6 406.6,55.9 406.9,56.3 407.1,56.9 407.5,58.7 407.5,59.7 407.2,60.4 406.1,60.7 405.9,60.9 405.7,61.3 405.8,61.5 406.0,61.6 407.0,62.0 407.5,62.7 407.8,64.3 408.7,66.3 408.9,67.1 408.9,67.7 408.8,68.1 408.4,68.5 407.0,69.5 406.6,70.3 406.1,71.7 405.7,72.3 404.2,73.7 403.6,74.0 403.0,74.1Z M432.2,75.1 431.8,75.2 431.4,75.0 430.6,73.8 429.4,72.9 428.9,72.1 427.8,68.9 427.8,68.3 428.3,66.7 428.2,66.1 427.7,64.9 427.6,64.1 427.8,62.5 428.6,60.9 428.8,59.5 429.1,58.9 429.6,58.5 430.0,58.3 432.4,57.7 432.8,57.9 433.0,58.1 433.7,59.1 434.0,59.9 434.2,61.5 434.7,62.5 434.8,62.9 434.6,64.5 435.0,66.7 434.7,68.7 434.2,70.1 433.9,71.7 433.0,74.2 432.6,74.8 432.2,75.1Z M389.4,72.3 389.1,72.1 389.0,71.7 389.2,71.3 389.4,71.2 390.2,71.0 390.9,71.3 391.0,71.5 390.8,71.8 390.0,72.2 389.4,72.3Z" fill-opacity="0.15"/>
<path d="M398.8,48.5 397.0,48.4 395.5,47.7 395.3,47.3 395.4,47.1 396.3,46.5 396.4,46.1 396.2,46.0 395.8,45.9 395.0,46.1 394.2,46.0 393.4,46.5 393.0,46.6 392.6,46.3 392.4,45.9 392.3,45.1 392.6,44.3 393.4,43.2 394.6,42.1 394.8,40.7 395.2,39.9 395.8,39.3 396.4,39.0 397.0,39.0 399.4,39.3 403.0,40.7 403.6,41.3 404.0,42.4 405.0,43.2 405.3,43.7 405.3,44.3 405.1,45.1 404.8,45.4 403.8,46.1 403.1,47.3 402.6,47.4 401.2,47.2 400.8,47.2 400.6,47.3 399.8,48.3 399.4,48.4 398.8,48.5Z M383.4,43.5 382.8,43.7 382.4,43.6 382.1,43.3 381.8,42.7 381.8,41.9 381.9,41.3 382.4,40.7 382.8,40.5 383.2,40.5 383.6,40.7 384.0,41.1 384.2,41.5 384.2,42.1 384.1,42.7 383.8,43.2 383.4,43.5Z M400.4,74.0 399.8,74.0 399.2,73.7 398.7,73.3 398.4,72.8 398.0,72.6 397.4,72.6 396.2,73.0 395.6,73.1 395.0,73.0 394.5,72.7 393.9,71.9 393.5,71.1 394.4,69.6 394.5,69.1 394.4,68.7 394.2,68.3 393.5,67.7 392.9,66.7 392.6,66.5 392.1,66.7 391.2,67.6 390.0,68.0 388.8,69.0 388.2,69.2 387.6,69.1 386.0,68.0 384.8,67.7 384.5,67.3 384.4,66.3 384.6,64.5 384.4,63.3 384.6,62.9 385.6,62.3 385.9,61.9 386.0,61.3 385.9,59.7 386.2,59.1 387.0,58.6 387.6,58.6 388.6,59.7 389.8,60.0 391.6,61.0 392.4,61.2 393.6,60.4 394.5,60.1 395.2,59.1 396.4,58.2 397.0,58.0 398.0,58.0 398.6,57.9 400.2,56.7 401.6,56.2 402.4,55.7 402.8,55.7 403.8,55.9 405.8,55.7 406.2,55.8 406.6,56.1 406.9,56.7 407.3,58.1 407.3,59.5 407.0,60.1 406.0,60.5 405.7,60.7 405.5,61.1 405.4,61.5 405.6,61.8 406.6,62.1 407.2,62.7 407.4,63.3 407.6,64.5 408.3,65.7 408.6,66.7 408.7,67.3 408.6,67.9 408.2,68.5 407.2,69.0 406.8,69.4 406.3,70.3 405.4,72.1 404.2,73.5 403.2,73.9 401.4,73.6 400.4,74.0Z M432.2,74.9 431.8,75.0 431.4,74.7 430.7,73.7 429.6,72.8 429.1,72.1 428.3,70.1 427.9,68.9 427.9,68.3 428.3,66.7 428.2,66.1 427.8,64.9 427.7,64.3 427.9,62.5 428.8,60.9 429.1,59.5 429.3,59.1 429.7,58.7 430.2,58.5 432.2,58.0 432.6,58.1 433.0,58.4 433.6,59.2 433.9,59.9 434.1,61.5 434.7,62.9 434.4,64.3 434.8,66.7 434.6,68.5 434.0,70.1 433.1,73.7 432.7,74.5 432.2,74.9Z" fill-opacity="0.15"/>
<path d="M399.2,48.3 397.4,48.4 396.8,48.2 396.2,47.9 395.9,47.5 395.9,47.3 396.6,46.3 396.6,46.1 396.2,45.8 394.0,45.8 393.0,46.1 392.8,46.0 392.6,45.7 392.5,44.9 392.7,44.3 393.4,43.4 394.6,42.3 394.7,41.9 394.9,40.9 395.1,40.3 395.6,39.6 396.2,39.2 397.0,39.1 399.2,39.4 402.8,40.7 403.4,41.3 403.8,42.5 404.8,43.2 405.1,43.7 405.2,44.3 405.0,44.9 404.7,45.3 403.6,46.1 403.0,47.1 402.4,47.2 400.8,47.0 400.4,47.2 399.8,48.0 399.2,48.3Z M383.2,43.5 382.6,43.6 382.2,43.3 382.0,42.9 381.8,42.3 381.9,41.7 382.1,41.1 382.6,40.7 383.0,40.6 383.4,40.7 383.8,40.9 384.0,41.3 384.1,41.9 383.9,42.9 383.6,43.3 383.2,43.5Z M403.0,73.7 401.4,73.4 400.2,73.7 399.8,73.7 399.3,73.3 398.8,72.5 398.2,72.2 397.6,72.3 396.0,72.9 395.4,72.9 394.9,72.7 394.3,72.1 394.2,71.3 394.3,70.5 394.6,69.3 394.6,68.7 394.3,68.3 393.6,67.6 393.2,66.7 392.8,66.3 392.2,66.4 391.2,67.4 390.0,67.8 389.0,68.6 388.4,68.8 387.8,68.7 385.2,67.1 384.9,66.7 384.7,66.1 384.8,64.5 384.7,63.5 385.0,62.9 385.8,62.3 386.0,62.0 386.1,61.5 386.2,59.7 386.3,59.3 386.8,59.0 387.4,58.9 388.4,59.8 390.0,60.3 392.2,61.7 392.6,61.6 393.4,60.9 394.0,60.8 394.4,60.9 395.0,61.5 395.4,61.7 395.6,61.5 395.6,61.3 395.2,59.9 395.2,59.5 395.7,58.9 396.4,58.5 397.0,58.3 397.8,58.4 398.4,58.2 400.2,56.9 402.6,55.9 403.8,56.0 405.6,55.8 406.4,56.1 406.7,56.5 407.0,57.3 407.2,58.5 407.2,59.3 406.9,59.9 405.9,60.3 405.4,60.7 405.2,61.3 405.1,61.9 405.4,62.1 406.4,62.3 407.0,62.8 407.2,63.3 407.3,64.5 408.3,66.1 408.5,66.9 408.6,67.5 408.4,67.9 408.2,68.2 407.1,68.9 406.6,69.4 405.1,72.1 404.5,72.9 403.8,73.5 403.0,73.7Z M432.0,74.7 431.6,74.6 430.9,73.5 429.5,72.5 428.5,70.3 428.0,68.7 428.1,68.1 428.4,67.1 428.4,66.5 427.9,65.1 427.8,64.3 428.0,62.5 429.0,60.9 429.4,59.3 429.8,58.9 430.2,58.7 431.2,58.3 432.0,58.2 432.6,58.4 433.0,58.7 433.5,59.3 433.8,59.9 434.0,61.6 434.5,62.9 434.3,64.3 434.7,66.7 434.5,68.5 433.8,70.3 432.9,73.7 432.4,74.5 432.0,74.7Z" fill-opacity="0.15"/>
<path d="M399.2,48.2 397.4,48.3 396.5,47.9 396.3,47.7 396.2,47.3 396.7,46.3 396.5,45.9 396.2,45.7 394.0,45.5 393.2,45.7 393.0,45.7 392.7,45.3 392.7,44.7 392.9,44.1 393.6,43.3 394.7,42.3 395.1,40.5 395.6,39.8 396.2,39.4 397.0,39.3 399.2,39.5 402.6,40.8 403.3,41.3 403.6,42.5 403.8,42.7 404.6,43.2 405.0,43.7 405.0,44.3 404.8,44.9 403.6,45.9 402.8,46.9 402.4,47.0 401.0,46.8 400.6,46.9 400.3,47.1 399.7,47.9 399.2,48.2Z M383.4,43.3 382.8,43.5 382.4,43.4 382.2,43.1 381.9,42.5 381.9,41.9 382.1,41.3 382.4,40.9 382.8,40.7 383.2,40.7 383.6,40.9 384.0,41.5 384.0,42.5 383.8,42.9 383.4,43.3Z M403.2,73.5 402.6,73.5 401.2,73.3 400.0,73.4 399.6,73.1 399.0,72.3 398.6,72.0 398.2,71.9 397.6,72.0 396.0,72.8 395.4,72.8 395.0,72.6 394.6,72.1 394.4,71.5 394.5,70.7 394.8,69.3 394.7,68.7 394.5,68.3 393.7,67.5 393.2,66.5 392.8,66.1 392.2,66.1 391.0,67.2 390.0,67.6 388.6,68.5 388.2,68.5 387.8,68.4 386.6,67.7 385.3,66.5 385.0,66.1 384.9,65.7 385.0,64.5 384.9,63.7 385.1,63.1 385.8,62.5 386.1,62.1 386.4,59.9 386.6,59.4 386.8,59.3 387.2,59.2 388.4,60.0 389.8,60.4 390.4,60.7 391.5,61.5 391.8,61.9 391.9,62.3 391.8,62.9 392.0,63.1 392.4,62.9 392.9,61.9 393.6,61.2 394.2,61.2 394.9,61.9 395.4,62.1 396.2,61.9 397.0,62.0 397.4,61.7 397.6,61.3 397.6,61.0 397.4,61.0 396.8,61.4 396.4,61.5 396.1,61.1 395.6,59.9 395.7,59.3 396.4,58.7 397.0,58.6 397.6,58.8 398.0,58.7 398.8,58.2 400.4,56.9 402.6,56.1 405.4,55.9 406.0,56.0 406.4,56.3 406.7,56.9 407.0,57.9 407.1,58.7 407.0,59.3 406.8,59.7 405.8,60.2 405.4,60.5 405.0,61.1 404.6,62.5 406.0,62.4 406.4,62.5 406.8,62.8 407.0,63.3 407.1,64.5 408.1,66.1 408.4,66.9 408.4,67.5 408.3,67.9 408.0,68.2 407.0,68.7 406.6,69.1 404.3,72.9 403.8,73.3 403.2,73.5Z M432.2,74.4 432.0,74.5 431.6,74.3 431.0,73.3 429.8,72.5 428.6,70.3 428.1,68.7 428.5,67.1 428.5,66.5 427.9,64.5 428.2,62.5 429.1,60.9 429.6,59.4 430.0,59.0 430.4,58.8 431.8,58.4 432.4,58.5 432.8,58.7 433.4,59.3 433.7,59.9 433.9,61.7 434.3,62.9 434.1,64.3 434.6,66.7 434.4,68.3 433.5,70.7 432.8,73.5 432.6,74.0 432.2,74.4Z" fill-opacity="0.15"/>
<path d="M398.6,48.1 397.4,48.1 397.0,48.0 396.6,47.7 396.4,47.3 396.8,46.3 396.7,45.9 396.4,45.7 394.2,45.4 393.2,45.4 393.0,45.3 392.8,44.9 392.9,44.5 393.2,43.9 394.8,42.4 395.0,40.9 395.3,40.3 395.8,39.8 396.4,39.5 397.0,39.4 399.2,39.7 402.6,40.9 402.9,41.1 403.2,41.5 403.5,42.7 404.6,43.4 404.9,43.9 404.9,44.5 404.7,44.9 403.6,45.7 402.8,46.7 402.2,46.8 401.0,46.7 400.6,46.7 400.2,47.0 399.4,47.9 398.6,48.1Z M383.2,43.3 382.8,43.4 382.4,43.2 382.1,42.9 382.0,42.3 382.0,41.7 382.2,41.3 382.6,40.9 383.0,40.7 383.6,41.0 383.9,41.3 384.0,41.7 383.8,42.7 383.6,43.1 383.2,43.3Z M403.2,73.3 402.6,73.4 401.2,73.1 400.2,73.1 399.8,72.8 399.0,72.0 398.2,71.7 397.4,71.9 396.0,72.6 395.6,72.6 395.2,72.5 394.8,72.1 394.6,71.5 394.7,70.5 394.9,69.3 394.8,68.7 394.6,68.3 393.8,67.3 393.3,66.3 392.8,66.0 392.4,65.9 392.0,66.1 391.0,67.0 390.0,67.4 389.0,68.1 388.6,68.3 387.8,68.2 386.6,67.5 385.5,66.3 385.2,65.9 385.1,63.7 385.3,63.1 386.0,62.5 386.2,62.2 386.5,60.3 386.7,59.7 387.0,59.5 387.4,59.6 388.3,60.1 389.6,60.4 390.2,60.8 391.3,61.7 391.5,62.1 391.5,63.1 391.6,63.3 392.0,63.5 392.4,63.3 393.2,61.9 393.8,61.5 394.2,61.6 394.8,62.1 395.2,62.3 396.8,62.3 397.4,62.0 397.9,61.5 398.0,61.1 397.7,59.9 397.8,59.3 399.8,57.5 400.6,57.0 402.8,56.3 404.8,56.0 405.6,56.0 406.2,56.3 406.5,56.7 406.8,57.5 407.0,58.5 407.0,59.1 406.6,59.6 405.6,60.1 405.2,60.5 404.1,62.5 404.0,62.9 404.2,63.2 404.4,63.2 405.2,62.7 405.8,62.5 406.2,62.6 406.6,62.9 406.8,63.5 406.8,64.5 408.0,66.1 408.2,66.9 408.2,67.5 407.9,68.1 406.6,68.9 405.4,70.5 404.6,71.3 404.1,72.7 403.7,73.1 403.2,73.3Z M432.2,74.1 431.8,74.1 431.2,73.1 429.9,72.3 428.7,70.3 428.3,69.3 428.2,68.7 428.5,67.1 428.5,66.5 428.1,65.1 428.0,64.5 428.3,62.5 429.3,60.9 429.7,59.5 430.0,59.2 430.5,58.9 431.8,58.6 432.4,58.7 432.8,58.9 433.3,59.3 433.6,59.9 433.8,61.7 434.2,62.9 434.0,64.3 434.5,66.7 434.3,68.3 433.2,70.9 432.6,73.5 432.2,74.1Z M396.8,60.5 396.6,60.7 396.4,60.6 396.0,59.9 396.0,59.4 396.4,59.1 396.9,59.1 397.1,59.5 397.1,59.9 396.8,60.5Z M402.4,60.3 402.4,59.9 402.3,59.7 402.0,59.6 401.8,59.7 401.7,60.1 401.8,60.4 402.2,60.5 402.4,60.3Z" fill-opacity="0.15" stroke-opacity="0.65"/>
<path d="M399.0,47.9 397.8,48.0 397.1,47.9 396.7,47.5 396.7,47.1 396.9,46.3 396.6,45.8 396.0,45.5 393.4,45.1 393.1,44.9 393.0,44.5 393.3,43.9 394.8,42.5 395.0,42.1 395.1,41.1 395.3,40.5 395.8,39.9 396.4,39.6 397.0,39.5 399.2,39.8 402.6,41.0 403.1,41.5 403.2,42.7 403.4,42.9 404.4,43.4 404.7,43.9 404.7,44.5 404.5,44.9 402.6,46.6 402.2,46.7 400.6,46.6 400.1,46.9 399.4,47.7 399.0,47.9Z M383.0,43.3 382.6,43.3 382.4,43.1 382.1,42.7 382.0,42.1 382.2,41.3 382.6,40.9 383.0,40.8 383.4,40.9 383.6,41.1 383.9,41.5 383.9,41.9 383.8,42.5 383.6,42.9 383.4,43.1 383.0,43.3Z M403.2,73.1 402.4,73.2 400.2,72.7 399.0,71.8 398.2,71.5 397.4,71.7 396.0,72.4 395.6,72.5 395.2,72.3 394.9,71.9 394.8,71.3 395.0,69.3 394.9,68.7 394.6,68.1 393.9,67.3 393.4,66.3 392.8,65.8 392.4,65.7 392.0,65.9 391.0,66.8 390.0,67.2 388.8,68.0 388.0,68.1 386.8,67.5 386.1,66.7 385.5,65.9 385.3,63.7 385.4,63.3 386.3,62.3 386.6,60.7 386.8,60.1 387.0,59.9 387.4,59.8 388.5,60.3 389.6,60.6 390.2,60.9 391.1,61.9 391.1,62.9 391.3,63.3 391.6,63.6 392.0,63.7 392.6,63.3 393.4,62.2 393.8,61.9 394.0,61.9 394.8,62.4 395.2,62.5 396.8,62.4 397.4,62.2 397.9,61.7 398.2,61.2 398.2,60.9 398.0,59.9 398.1,59.5 398.3,59.1 400.0,57.5 400.6,57.1 402.8,56.5 404.6,56.1 405.4,56.1 406.0,56.3 406.4,56.7 406.7,57.5 406.9,58.5 406.8,59.1 406.5,59.5 405.6,60.0 405.0,60.5 403.9,62.3 403.8,62.9 403.9,63.3 404.2,63.5 404.6,63.4 405.6,62.8 406.0,62.8 406.4,63.0 406.6,63.5 406.7,64.7 407.8,66.1 408.0,66.7 408.1,67.3 407.8,67.9 406.6,68.6 405.2,70.5 404.8,70.7 404.0,70.8 403.7,70.9 403.6,71.3 404.0,71.9 404.0,72.3 403.7,72.9 403.2,73.1Z M432.2,73.6 432.0,73.6 431.4,72.8 430.4,72.4 430.0,72.1 429.2,71.0 428.7,70.1 428.3,68.7 428.6,67.1 428.6,66.5 428.1,65.1 428.0,64.5 428.4,62.5 429.4,60.9 429.9,59.5 430.6,59.0 431.8,58.7 432.4,58.8 432.8,59.0 433.3,59.5 433.6,60.1 433.7,61.7 434.0,62.9 433.9,64.3 434.5,66.7 434.4,67.7 434.1,68.5 433.1,70.9 432.2,73.6Z M402.7,60.7 402.8,60.5 402.9,60.1 402.6,59.5 402.2,59.3 401.6,59.5 401.4,59.9 401.4,60.3 401.5,60.5 401.8,60.7 402.2,60.9 402.7,60.7Z" fill-opacity="0.15" stroke-opacity="0.65"/>
<path d="M398.2,47.9 397.4,47.9 396.9,47.5 396.8,47.1 397.0,46.3 396.9,45.9 396.6,45.7 396.2,45.5 393.4,44.9 393.2,44.7 393.2,44.3 393.5,43.9 395.0,42.5 395.1,41.1 395.4,40.5 396.0,39.9 396.6,39.7 399.2,39.9 402.6,41.1 402.8,41.3 403.0,41.7 403.1,42.9 403.4,43.2 404.2,43.5 404.4,43.7 404.6,44.1 404.5,44.5 404.3,44.9 402.6,46.4 402.0,46.5 400.6,46.5 400.2,46.7 399.2,47.7 398.2,47.9Z M383.2,43.2 382.8,43.3 382.5,43.1 382.2,42.7 382.1,42.3 382.1,41.7 382.3,41.3 382.6,41.0 383.0,40.9 383.6,41.1 383.8,41.5 383.9,41.9 383.7,42.7 383.2,43.2Z M403.2,72.9 402.4,73.0 400.4,72.4 398.7,71.5 398.0,71.3 397.4,71.5 396.2,72.2 395.8,72.3 395.4,72.2 395.1,71.9 395.0,71.3 395.1,69.3 395.0,68.7 394.8,68.3 394.0,67.3 393.4,66.1 392.8,65.6 392.4,65.5 392.0,65.7 391.0,66.6 390.0,67.1 388.8,67.9 388.4,67.9 387.8,67.9 386.8,67.3 386.1,66.5 385.7,65.7 385.6,63.7 385.7,63.3 386.2,62.7 386.4,62.3 386.6,60.9 386.9,60.3 387.1,60.1 387.4,60.1 389.4,60.6 390.0,60.9 390.6,61.5 390.9,61.9 390.9,63.1 391.5,63.7 392.0,63.9 392.4,63.8 393.4,62.6 393.8,62.3 394.0,62.3 395.2,62.7 397.0,62.5 397.5,62.3 398.1,61.7 398.4,61.1 398.2,59.9 398.4,59.3 398.9,58.7 400.6,57.2 401.2,57.0 404.6,56.2 405.4,56.2 406.0,56.4 406.4,56.9 406.6,57.5 406.8,58.3 406.7,58.9 406.4,59.4 405.1,60.1 404.5,60.7 403.7,62.1 403.6,62.9 403.8,63.4 404.2,63.7 404.6,63.6 405.6,63.0 406.0,63.0 406.2,63.1 406.4,63.5 406.4,64.5 406.5,64.9 407.6,66.1 407.9,66.7 408.0,67.3 407.6,67.9 406.5,68.5 405.7,69.7 405.2,70.2 404.8,70.5 403.8,70.5 403.4,70.8 403.3,71.3 403.7,72.3 403.5,72.7 403.2,72.9Z M432.2,72.4 432.0,72.5 431.6,72.5 430.6,72.2 430.2,72.0 429.4,71.1 428.9,70.3 428.5,69.3 428.4,68.7 428.7,67.1 428.7,66.5 428.2,65.1 428.1,64.5 428.5,62.5 429.6,60.9 430.0,59.7 430.7,59.1 431.8,58.8 432.4,59.0 432.8,59.2 433.2,59.6 433.5,60.1 433.8,62.9 433.8,64.1 434.4,66.7 434.3,67.5 434.1,68.5 432.9,70.9 432.5,71.9 432.2,72.4Z M402.7,61.1 403.2,60.7 403.2,60.1 402.7,59.1 402.4,59.0 402.0,59.1 401.3,59.5 401.2,59.9 401.2,60.3 401.4,60.7 401.8,61.0 402.2,61.1 402.7,61.1Z" fill-opacity="0.15" stroke-opacity="0.65"/>
<path d="M398.6,47.7 397.6,47.8 397.1,47.5 397.0,47.1 397.1,46.3 396.7,45.7 396.2,45.5 395.0,45.2 393.6,44.7 393.4,44.5 393.5,44.1 393.8,43.7 395.0,42.6 395.1,42.1 395.2,41.1 395.5,40.5 396.0,40.0 396.4,39.8 397.0,39.7 399.2,40.1 400.6,40.6 402.3,41.1 402.6,41.3 402.9,41.7 402.9,42.7 403.0,43.1 404.2,43.7 404.4,44.1 404.4,44.5 404.2,44.8 402.6,46.2 402.0,46.4 401.0,46.4 400.4,46.5 399.2,47.5 398.6,47.7Z M383.2,43.1 382.8,43.2 382.6,43.1 382.3,42.7 382.1,42.3 382.2,41.7 382.4,41.3 382.6,41.1 383.0,40.9 383.4,41.1 383.6,41.2 383.8,41.9 383.6,42.7 383.2,43.1Z M403.0,72.7 402.6,72.8 402.0,72.7 401.0,72.3 400.0,72.0 398.6,71.3 398.0,71.2 397.3,71.3 396.0,72.1 395.6,72.1 395.4,72.0 395.1,71.3 395.2,69.3 395.0,68.5 394.1,67.3 393.4,65.9 392.6,65.4 392.2,65.4 392.0,65.5 391.0,66.4 390.0,66.9 388.8,67.7 388.0,67.8 387.0,67.4 386.4,66.7 385.9,65.9 385.8,65.5 385.8,63.9 385.9,63.5 386.4,62.5 386.8,60.9 387.0,60.4 387.2,60.3 387.6,60.3 389.4,60.8 390.0,61.1 390.6,61.9 390.5,62.9 390.6,63.1 391.6,64.0 392.0,64.2 392.2,64.1 393.4,62.9 393.8,62.6 394.2,62.6 395.2,62.9 397.0,62.6 397.6,62.3 398.2,61.7 398.6,61.1 398.4,59.9 398.6,59.3 400.0,57.9 400.7,57.3 401.4,57.1 402.6,56.9 404.6,56.3 405.4,56.3 406.0,56.5 406.4,57.1 406.7,58.1 406.6,58.9 406.3,59.3 404.0,60.6 403.6,60.2 402.8,58.7 402.4,58.7 401.5,59.1 401.1,59.5 401.0,59.9 401.0,60.3 401.2,60.7 402.0,61.3 402.8,61.4 403.6,61.1 403.7,61.3 403.5,62.1 403.4,62.7 403.6,63.3 403.9,63.7 404.4,63.8 405.6,63.2 406.0,63.3 406.2,63.7 406.2,64.5 406.3,65.1 407.4,66.0 407.8,66.9 407.8,67.3 407.6,67.6 406.4,68.3 405.7,69.5 405.2,70.0 404.8,70.2 403.6,70.4 403.3,70.7 403.1,71.3 403.3,72.3 403.3,72.5 403.0,72.7Z M431.8,72.1 431.0,72.1 430.2,71.8 429.4,71.0 428.9,70.1 428.6,69.3 428.5,68.7 428.7,66.7 428.2,65.1 428.2,64.5 428.6,62.5 429.7,60.9 430.2,59.7 430.8,59.2 431.8,59.0 432.4,59.1 432.8,59.3 433.2,59.7 433.4,60.1 433.7,62.7 433.7,64.1 434.2,66.3 434.3,66.9 434.2,67.9 433.9,68.7 432.3,71.7 431.8,72.1Z" fill-opacity="0.15" stroke-opacity="0.65"/>
<path d="M398.8,47.5 398.0,47.7 397.4,47.5 397.2,47.3 397.2,46.3 396.8,45.7 396.2,45.4 395.0,45.1 393.8,44.5 393.7,44.3 394.0,43.7 395.1,42.7 395.2,42.3 395.3,41.1 395.5,40.7 395.8,40.3 396.4,39.9 397.2,39.9 399.0,40.2 400.4,40.7 402.2,41.2 402.6,41.4 402.7,41.7 402.8,43.1 403.2,43.4 404.0,43.8 404.2,44.1 404.1,44.7 402.5,46.1 402.0,46.3 401.0,46.3 400.4,46.4 399.2,47.3 398.8,47.5Z M383.2,43.0 382.8,43.1 382.6,43.0 382.3,42.7 382.2,42.3 382.2,41.9 382.4,41.4 382.6,41.2 383.0,41.0 383.3,41.1 383.6,41.3 383.8,41.9 383.7,42.5 383.2,43.0Z M402.8,72.5 402.4,72.6 402.0,72.6 401.1,72.1 399.8,71.8 398.6,71.2 398.0,71.0 397.2,71.1 396.1,71.9 395.6,71.9 395.4,71.7 395.3,71.3 395.3,69.3 395.1,68.5 394.1,67.1 393.5,65.9 393.0,65.4 392.4,65.1 392.0,65.2 391.0,66.3 389.8,66.9 388.8,67.6 388.4,67.7 387.8,67.6 387.0,67.2 386.3,66.3 386.0,65.3 386.0,63.7 386.5,62.5 386.8,61.2 387.0,60.7 387.2,60.5 387.6,60.4 389.2,60.8 389.8,61.1 390.2,61.5 390.4,61.9 390.2,62.9 390.2,63.1 391.8,64.3 392.2,64.4 393.2,63.3 393.8,62.8 394.2,62.8 395.2,63.0 397.0,62.7 397.6,62.5 398.4,61.7 398.7,61.1 398.5,59.9 398.7,59.3 400.6,57.5 401.4,57.2 402.6,57.1 403.4,56.7 404.4,56.4 405.2,56.3 405.8,56.5 406.3,57.1 406.6,58.1 406.5,58.7 406.2,59.2 404.8,60.0 404.2,60.1 403.6,59.7 403.2,58.5 403.0,58.3 402.8,58.2 401.3,59.1 401.0,59.5 400.8,59.9 400.9,60.5 401.2,60.9 401.8,61.3 402.9,61.7 403.2,61.9 403.4,63.1 403.8,63.7 404.4,63.9 405.4,63.5 405.8,63.5 406.0,63.9 406.2,65.4 406.4,65.6 407.2,66.1 407.6,66.9 407.4,67.5 406.4,68.0 405.7,69.3 405.2,69.8 404.8,70.1 403.6,70.3 403.2,70.6 402.9,71.1 403.0,72.1 402.8,72.5Z M431.6,71.9 431.0,71.9 430.2,71.6 429.4,70.8 428.9,69.9 428.6,68.7 428.8,66.7 428.3,65.1 428.2,64.5 428.7,62.5 429.8,60.9 430.2,59.9 430.8,59.3 431.8,59.1 432.4,59.2 432.8,59.4 433.2,59.9 433.4,60.3 433.5,63.9 434.1,66.1 434.2,66.9 434.1,67.9 433.7,68.9 432.2,71.5 432.0,71.8 431.6,71.9Z" fill-opacity="0.15" stroke-opacity="0.65"/>
<path d="M399.0,47.3 398.2,47.5 397.6,47.4 397.4,47.1 397.2,46.1 396.9,45.7 396.4,45.4 395.0,45.0 394.0,44.3 394.1,43.9 395.0,42.9 395.2,42.6 395.3,41.3 395.5,40.7 396.0,40.2 396.4,40.0 397.4,40.0 399.0,40.4 400.2,40.8 402.2,41.3 402.6,41.7 402.6,42.9 402.7,43.3 403.8,43.9 404.0,44.1 404.0,44.3 403.9,44.7 402.4,46.0 402.0,46.2 401.0,46.2 400.4,46.3 399.0,47.3Z M383.2,43.0 382.8,43.0 382.6,42.9 382.4,42.7 382.3,42.3 382.4,41.5 382.6,41.2 383.0,41.1 383.5,41.3 383.7,41.9 383.6,42.5 383.2,43.0Z M405.0,59.7 404.4,59.9 404.0,59.8 403.8,59.6 403.5,59.1 403.3,58.3 402.8,57.7 402.8,57.5 403.1,57.1 403.6,56.7 404.3,56.5 405.0,56.4 405.6,56.5 406.0,56.8 406.3,57.5 406.5,58.3 406.4,58.7 406.2,59.0 405.0,59.7Z M402.4,72.3 402.0,72.3 401.0,71.9 399.8,71.6 398.0,70.9 397.2,70.9 396.0,71.7 395.6,71.5 395.4,70.9 395.4,69.3 395.2,68.5 394.2,67.1 393.6,65.8 392.6,64.9 392.5,64.7 392.6,64.3 393.0,63.7 393.4,63.3 393.8,63.0 394.2,63.0 395.2,63.2 397.2,62.8 397.7,62.5 398.6,61.5 398.9,61.1 398.7,59.9 399.0,59.2 400.6,57.7 401.0,57.5 401.6,57.3 402.5,57.5 402.6,57.7 402.2,58.3 401.2,59.0 400.9,59.3 400.7,60.1 400.8,60.7 401.6,61.3 403.0,62.1 403.4,63.3 403.8,63.9 404.4,64.1 405.4,63.8 405.7,63.9 405.8,64.3 405.9,65.5 405.8,65.8 405.2,66.1 405.0,66.3 405.0,66.7 405.2,67.1 405.6,67.2 405.8,67.2 406.1,66.3 406.2,66.1 406.4,66.1 407.0,66.2 407.2,66.5 407.4,66.9 407.2,67.4 406.2,67.8 405.7,68.9 405.2,69.6 404.6,70.0 403.6,70.1 403.1,70.5 402.8,71.1 402.7,72.1 402.4,72.3Z M431.6,71.8 431.0,71.8 430.2,71.5 429.6,70.9 428.9,69.9 428.6,68.7 428.8,66.7 428.4,65.1 428.3,64.5 428.8,62.5 429.9,60.9 430.4,59.9 431.0,59.4 431.8,59.2 432.4,59.3 432.8,59.5 433.3,60.3 433.4,63.8 434.1,66.3 434.2,66.9 434.0,67.9 433.6,68.9 432.1,71.3 431.6,71.8Z M388.6,67.5 387.8,67.5 387.0,67.1 386.5,66.5 386.2,65.7 386.3,63.7 386.6,62.7 386.9,61.1 387.2,60.7 387.4,60.6 387.8,60.6 389.0,60.9 389.8,61.3 390.1,61.7 390.2,62.1 389.8,63.1 391.2,64.0 391.7,64.5 391.9,64.9 391.6,65.5 391.0,66.1 388.6,67.5Z" fill-opacity="0.15" stroke-opacity="0.65"/>
<path d="M398.4,47.3 397.9,47.3 397.6,47.1 397.4,46.3 397.0,45.7 396.4,45.4 395.1,44.9 394.5,44.5 394.3,44.1 394.4,43.7 395.2,42.7 395.5,40.9 395.8,40.5 396.4,40.1 396.8,40.0 397.4,40.1 398.8,40.5 400.0,41.0 402.0,41.3 402.3,41.5 402.5,41.9 402.4,42.9 402.5,43.3 402.8,43.6 403.6,44.0 403.8,44.3 403.5,44.9 402.4,45.9 402.0,46.0 400.4,46.2 399.0,47.2 398.4,47.3Z M383.0,43.0 382.7,42.9 382.5,42.7 382.3,42.1 382.4,41.5 382.6,41.3 383.0,41.1 383.4,41.3 383.7,41.9 383.5,42.5 383.2,42.9 383.0,43.0Z M405.0,59.6 404.4,59.7 404.0,59.5 403.7,59.1 403.5,58.3 403.2,57.5 403.3,57.1 403.6,56.9 404.2,56.6 405.0,56.5 405.6,56.6 405.9,56.9 406.3,57.5 406.4,58.3 406.2,58.9 405.0,59.6Z M402.2,72.0 401.1,71.7 399.8,71.5 398.0,70.7 397.2,70.8 396.2,71.3 395.8,71.3 395.6,70.8 395.4,69.1 395.2,68.5 394.3,67.1 393.8,65.9 392.8,64.9 392.7,64.5 393.1,63.7 393.8,63.2 395.2,63.3 396.2,63.0 397.2,62.8 397.8,62.5 398.8,61.5 399.0,61.1 398.8,59.9 399.1,59.3 400.8,57.7 401.6,57.5 402.0,57.6 402.1,57.9 401.9,58.3 401.0,58.9 400.7,59.3 400.5,60.1 400.7,60.7 401.3,61.3 402.8,62.2 403.4,63.5 403.8,64.0 404.4,64.2 405.4,64.1 405.6,64.3 405.7,64.9 405.6,65.5 405.0,65.9 404.8,66.5 405.0,67.1 405.7,67.9 405.8,68.3 405.6,68.9 405.2,69.5 404.9,69.7 403.6,70.0 403.1,70.3 402.7,70.9 402.4,71.9 402.2,72.0Z M431.6,71.6 431.0,71.7 430.2,71.3 429.5,70.7 429.0,69.9 428.7,68.7 428.9,66.7 428.4,65.1 428.3,64.5 428.9,62.5 430.0,61.0 430.5,59.9 431.0,59.5 431.8,59.3 432.6,59.5 433.0,59.9 433.2,60.3 433.3,60.9 433.3,63.7 434.0,66.1 434.1,66.9 434.0,67.9 433.6,68.9 432.0,71.3 431.6,71.6Z M388.8,67.3 388.0,67.4 387.2,67.1 386.6,66.5 386.3,65.7 386.4,63.9 386.9,61.5 387.2,60.9 387.6,60.7 388.8,60.9 389.6,61.3 389.9,61.7 390.0,62.1 389.5,63.1 389.6,63.3 391.0,64.0 391.5,64.5 391.7,64.9 391.4,65.5 391.0,66.0 389.8,66.6 388.8,67.3Z M406.8,67.1 406.6,67.1 406.5,66.9 406.6,66.6 406.8,66.6 407.0,66.9 406.8,67.1Z" fill-opacity="0.15" stroke-opacity="0.65"/>
</g>
<rect x="396" y="79.6" width="31.0" height="1.7" fill="#000"/>
<rect x="380.6" y="53" width="2.2" height="27.0" fill="#000"/>
<rect x="427.6" y="58.5" width="7.6" height="17.0" fill="#000"/>
<rect x="380.7" y="20.2" width="13.1" height="7.1" fill="#fff"/>
<text x="381.20000000000005" y="26.1" text-anchor="start" style="font-size:5.4px;" fill="#000" stroke="#000" stroke-width="0.16">14.7</text>
<rect x="426.9" y="20.2" width="13.8" height="7.1" fill="#fff"/>
<text x="439.6" y="26.1" text-anchor="end" style="font-size:5.4px;" fill="#000" stroke="#000" stroke-width="0.16">0.92</text>
<rect x="380.7" y="75.1" width="13.1" height="6.0" fill="#fff"/>
<path d="M380.7,75.1 H393.8 V81.1" fill="none" stroke="#000" stroke-width="0.45"/>
<text x="381.20000000000005" y="80.1" text-anchor="start" style="font-size:5.4px;" fill="#000" stroke="#000" stroke-width="0.16">50.9</text>
<rect x="426.9" y="75.1" width="13.8" height="6.0" fill="#fff"/>
<path d="M426.9,81.1 V75.1 H440.7" fill="none" stroke="#000" stroke-width="0.45"/>
<text x="439.6" y="80.1" text-anchor="end" style="font-size:5.4px;" fill="#000" stroke="#000" stroke-width="0.16">33.5</text>
<line x1="393.76400000000007" y1="20.7" x2="426.936" y2="20.7" stroke="#000" stroke-width="0.6"/>
<line x1="441.0" y1="20.7" x2="441.0" y2="81.3" stroke="#333" stroke-width="0.6"/>
<line x1="380.6" y1="20.4" x2="380.6" y2="81.7" stroke="#000" stroke-width="0.9"/>
<line x1="380.20000000000005" y1="81.3" x2="441.3" y2="81.3" stroke="#000" stroke-width="0.9"/>
<clipPath id="cp4"><rect x="456.3" y="20.7" width="61.3" height="60.6"/></clipPath>
<text x="453.7" y="21.1" text-anchor="end" style="font-size:2.5px;font-weight:normal" fill="#444">10<tspan dy="-0.9" style="font-size:1.9px">4</tspan></text>
<text x="456.5" y="86.3" text-anchor="middle" style="font-size:2.5px;font-weight:normal" fill="#444">10<tspan dy="-0.9" style="font-size:1.9px">0</tspan></text>
<line x1="454.1" y1="20.7" x2="456.3" y2="20.7" stroke="#666" stroke-width="0.35"/>
<line x1="456.3" y1="81.3" x2="456.3" y2="83.3" stroke="#666" stroke-width="0.35"/>
<text x="453.7" y="36.2" text-anchor="end" style="font-size:2.5px;font-weight:normal" fill="#444">10<tspan dy="-0.9" style="font-size:1.9px">3</tspan></text>
<text x="471.8" y="86.3" text-anchor="middle" style="font-size:2.5px;font-weight:normal" fill="#444">10<tspan dy="-0.9" style="font-size:1.9px">1</tspan></text>
<line x1="454.1" y1="35.849999999999994" x2="456.3" y2="35.849999999999994" stroke="#666" stroke-width="0.35"/>
<line x1="471.625" y1="81.3" x2="471.625" y2="83.3" stroke="#666" stroke-width="0.35"/>
<text x="453.7" y="51.4" text-anchor="end" style="font-size:2.5px;font-weight:normal" fill="#444">10<tspan dy="-0.9" style="font-size:1.9px">2</tspan></text>
<text x="487.2" y="86.3" text-anchor="middle" style="font-size:2.5px;font-weight:normal" fill="#444">10<tspan dy="-0.9" style="font-size:1.9px">2</tspan></text>
<line x1="454.1" y1="51.0" x2="456.3" y2="51.0" stroke="#666" stroke-width="0.35"/>
<line x1="486.95000000000005" y1="81.3" x2="486.95000000000005" y2="83.3" stroke="#666" stroke-width="0.35"/>
<text x="453.7" y="66.5" text-anchor="end" style="font-size:2.5px;font-weight:normal" fill="#444">10<tspan dy="-0.9" style="font-size:1.9px">1</tspan></text>
<text x="502.5" y="86.3" text-anchor="middle" style="font-size:2.5px;font-weight:normal" fill="#444">10<tspan dy="-0.9" style="font-size:1.9px">3</tspan></text>
<line x1="454.1" y1="66.14999999999999" x2="456.3" y2="66.14999999999999" stroke="#666" stroke-width="0.35"/>
<line x1="502.27500000000003" y1="81.3" x2="502.27500000000003" y2="83.3" stroke="#666" stroke-width="0.35"/>
<text x="453.7" y="81.7" text-anchor="end" style="font-size:2.5px;font-weight:normal" fill="#444">10<tspan dy="-0.9" style="font-size:1.9px">0</tspan></text>
<text x="517.8" y="86.3" text-anchor="middle" style="font-size:2.5px;font-weight:normal" fill="#444">10<tspan dy="-0.9" style="font-size:1.9px">4</tspan></text>
<line x1="454.1" y1="81.3" x2="456.3" y2="81.3" stroke="#666" stroke-width="0.35"/>
<line x1="517.6" y1="81.3" x2="517.6" y2="83.3" stroke="#666" stroke-width="0.35"/>
<line x1="492.7" y1="20.7" x2="492.7" y2="81.3" stroke="#000" stroke-width="0.6"/>
<line x1="456.3" y1="45.0" x2="517.6" y2="45.0" stroke="#000" stroke-width="0.6"/>
<g clip-path="url(#cp4)" stroke="#000" stroke-width="0.55" stroke-linejoin="round" fill="#000">
<path d="M500.9,60.3 500.1,60.2 499.1,59.8 498.6,59.3 498.2,58.7 497.5,56.1 496.9,54.9 496.7,54.1 496.8,52.7 497.3,50.7 497.3,50.3 496.9,50.2 496.3,50.3 495.7,50.2 494.7,49.6 494.0,48.9 493.8,48.5 493.7,47.5 493.1,46.3 492.1,43.5 492.1,40.5 492.3,39.9 492.8,38.7 492.9,37.3 494.1,34.3 495.2,33.1 497.0,31.7 497.8,30.3 498.5,29.5 498.9,29.2 499.5,29.0 501.7,29.1 503.3,28.3 505.3,28.2 506.3,27.8 506.9,27.8 507.7,28.3 508.7,29.5 509.7,30.4 510.1,30.9 510.2,31.5 509.9,32.9 510.2,34.1 510.2,34.7 510.0,35.3 509.5,36.1 507.3,38.6 506.2,40.7 504.1,43.1 503.8,43.7 503.7,44.1 503.9,44.5 505.3,44.8 505.9,45.1 506.3,45.6 507.5,47.7 507.8,48.9 507.6,50.5 507.6,51.5 508.0,53.1 508.0,53.9 507.6,54.7 506.8,55.7 506.4,56.9 505.9,57.5 504.7,58.3 503.3,59.5 501.5,60.2 500.9,60.3Z" fill="none"/>
<path d="M501.3,59.1 500.5,59.2 499.9,59.0 499.3,58.6 498.9,57.8 498.5,56.9 498.3,55.4 497.6,54.3 497.4,53.7 497.6,52.9 498.2,50.7 498.2,50.1 497.9,49.7 497.5,49.5 495.6,48.9 495.1,48.5 494.7,47.3 494.2,46.1 494.0,44.7 493.5,43.3 493.2,40.9 493.3,40.3 493.9,39.1 493.9,37.1 494.8,35.1 495.8,33.7 497.7,32.1 498.7,30.4 499.3,30.0 499.9,29.8 501.5,30.1 501.9,30.1 503.3,29.3 503.9,29.1 504.5,29.2 506.9,29.7 508.7,31.1 508.9,31.7 508.9,34.3 508.6,35.3 507.8,36.9 507.2,37.7 505.8,39.3 505.4,40.5 505.0,41.1 503.7,42.6 502.0,43.7 501.8,44.1 501.7,44.5 502.0,45.3 502.5,45.7 503.1,45.8 504.7,45.6 505.3,45.8 505.7,46.3 506.1,47.3 506.8,48.3 507.0,48.9 506.9,51.1 507.2,53.7 507.0,54.3 506.1,55.3 505.8,56.5 505.5,56.9 503.1,58.6 501.3,59.1Z" fill="none"/>
<path d="M501.1,58.5 500.7,58.5 500.2,58.3 499.5,57.6 499.0,56.7 498.8,55.1 498.0,53.9 498.0,53.3 498.7,50.5 498.6,49.9 498.2,49.5 496.8,48.7 496.1,48.2 495.4,47.3 494.9,46.3 494.8,44.5 494.6,43.1 494.9,41.5 494.4,40.7 494.2,40.3 494.5,38.9 494.4,37.3 494.8,36.1 495.8,34.3 496.6,33.5 498.1,32.3 498.4,31.9 498.8,31.1 499.1,30.7 499.5,30.4 500.1,30.3 501.5,30.6 501.9,30.6 503.5,29.8 504.7,29.8 505.7,30.0 506.3,30.3 507.2,30.9 507.9,31.6 508.1,32.1 508.3,33.3 508.2,34.9 507.4,36.9 506.7,37.8 505.3,39.1 504.8,40.5 504.4,41.1 503.5,42.1 501.9,42.9 501.4,43.3 501.1,43.9 501.0,44.7 501.2,45.9 501.5,46.3 502.5,46.5 504.5,46.2 504.9,46.3 505.2,46.7 505.7,47.6 506.4,48.5 506.6,49.1 506.5,50.9 506.7,53.5 506.5,54.1 505.7,55.0 505.4,56.1 504.9,56.7 503.1,57.9 502.3,58.3 501.1,58.5Z" fill="none"/>
<path d="M502.5,57.7 501.3,57.7 500.1,57.2 499.6,56.7 499.4,56.3 499.3,55.3 498.6,54.1 498.4,53.5 499.1,50.3 499.1,49.9 498.7,49.4 497.4,48.7 496.7,48.2 495.7,47.1 495.4,46.5 495.2,45.9 495.3,44.5 495.2,43.1 495.3,41.5 495.3,41.1 494.8,40.1 494.8,37.5 495.0,36.7 496.2,34.3 497.1,33.4 498.6,32.3 499.1,31.3 499.5,30.9 500.3,30.7 501.7,30.9 503.5,30.3 504.7,30.2 505.5,30.4 506.1,30.7 506.8,31.3 507.3,31.9 507.6,32.7 507.8,33.9 507.8,34.7 507.6,35.5 507.3,36.5 506.8,37.3 505.1,38.9 504.4,40.5 503.9,41.2 503.3,41.7 501.5,42.6 500.9,43.1 500.3,44.3 500.2,45.5 499.7,46.7 499.9,47.3 500.5,47.6 502.1,47.0 503.9,46.7 504.5,46.8 504.9,47.1 505.9,48.5 506.2,49.1 506.2,50.9 506.5,52.9 506.3,53.7 505.2,54.9 504.9,55.9 504.5,56.5 503.5,57.3 502.5,57.7Z" fill="none"/>
<path d="M503.1,57.2 502.5,57.3 502.1,57.2 501.2,56.5 500.3,56.3 500.1,56.1 499.0,54.1 498.8,53.5 499.1,51.3 499.6,49.9 499.5,49.5 499.3,49.2 497.9,48.7 497.3,48.3 496.3,47.3 495.7,46.5 495.5,45.7 495.8,44.1 495.7,41.5 495.6,40.9 495.2,39.7 495.1,37.5 495.3,36.7 496.4,34.5 497.5,33.4 498.9,32.5 499.4,31.5 499.7,31.2 500.3,31.1 501.7,31.2 503.5,30.6 504.5,30.5 505.1,30.6 505.7,30.9 506.2,31.3 506.5,31.7 506.7,32.5 507.3,33.5 507.5,34.1 507.5,34.9 507.3,35.9 506.7,37.1 504.9,38.7 504.2,40.3 503.7,40.9 503.1,41.3 501.1,42.3 500.5,42.8 499.5,44.5 499.5,45.7 499.1,46.7 499.2,47.1 499.7,47.9 499.9,48.1 500.3,48.2 500.7,48.1 502.5,47.4 503.7,47.2 504.3,47.3 505.5,48.5 505.9,49.1 506.2,52.5 506.1,53.3 505.7,53.9 504.7,54.7 504.4,55.9 504.2,56.3 503.7,56.8 503.1,57.2Z" fill="none"/>
<path d="M498.9,48.5 498.3,48.5 497.5,48.1 496.3,47.0 495.9,46.3 495.8,45.5 496.3,43.9 495.9,40.9 495.4,39.5 495.4,37.7 495.5,36.9 496.4,34.9 496.8,34.3 497.7,33.5 499.1,32.7 499.9,31.5 500.3,31.4 501.7,31.5 503.9,30.8 505.1,30.9 505.5,31.1 505.9,31.5 506.3,32.9 507.2,34.1 507.3,34.9 507.0,36.1 506.4,37.1 505.2,38.1 504.7,38.7 504.0,40.1 503.5,40.7 500.7,42.0 500.2,42.5 499.1,44.5 499.1,45.7 498.7,46.7 498.7,47.1 499.2,48.1 499.1,48.4 498.9,48.5Z M502.7,56.9 502.3,56.8 501.5,56.3 500.5,55.9 500.1,55.5 499.4,54.3 499.1,53.7 499.2,51.9 499.5,50.8 500.2,49.9 500.5,49.1 500.8,48.7 502.1,47.9 503.1,47.7 503.9,47.6 504.3,47.8 504.7,48.0 505.6,49.1 505.8,49.9 506.0,52.9 505.9,53.3 505.5,53.7 504.5,54.3 504.1,54.7 504.1,55.7 503.8,56.3 503.3,56.7 502.7,56.9Z" fill="none"/>
<path d="M498.3,48.0 497.8,47.9 496.9,47.2 496.4,46.7 496.1,46.1 496.1,45.5 496.7,43.9 496.3,42.1 496.1,40.7 495.7,39.3 495.7,37.5 495.9,36.7 496.5,35.1 497.1,34.3 498.0,33.5 499.5,32.8 500.1,31.9 500.5,31.7 501.7,31.7 503.7,31.1 504.5,31.0 505.1,31.2 505.7,31.7 506.1,33.1 507.0,34.3 507.1,35.1 506.8,36.3 506.2,37.1 505.1,37.9 504.7,38.4 503.5,40.4 502.9,40.7 501.8,41.1 500.9,41.5 500.2,41.9 499.9,42.2 499.4,43.3 498.8,44.3 498.8,45.5 498.2,46.9 498.4,47.7 498.3,48.0Z M503.1,56.5 502.7,56.6 502.3,56.5 500.7,55.7 500.3,55.4 499.4,53.9 499.3,53.3 499.3,52.3 499.5,51.5 499.7,50.9 500.3,50.4 501.1,50.0 501.3,49.1 501.5,48.8 501.9,48.5 502.7,48.2 503.9,48.0 504.7,48.4 505.4,49.3 505.6,50.1 505.8,52.7 505.7,53.1 505.4,53.5 504.3,54.1 503.9,54.5 503.7,54.9 503.7,55.9 503.4,56.3 503.1,56.5Z" fill="none"/>
<path d="M497.7,47.0 497.3,47.1 496.9,46.9 496.5,46.5 496.3,45.9 496.4,45.3 497.1,44.3 497.2,43.9 496.7,42.2 496.5,40.7 496.0,39.7 495.9,39.1 496.0,37.1 496.7,35.3 497.1,34.5 497.7,33.9 498.3,33.5 499.5,33.1 500.5,32.1 501.7,31.9 503.5,31.3 504.3,31.2 504.9,31.3 505.3,31.6 505.5,31.9 506.0,33.3 506.8,34.5 506.9,35.3 506.6,36.3 506.1,37.0 504.7,38.1 503.7,39.8 503.3,40.3 502.7,40.6 500.9,41.1 499.7,41.9 499.2,43.1 498.4,44.3 498.5,45.5 497.7,47.0Z M503.1,56.2 502.7,56.3 502.3,56.2 500.9,55.6 500.3,55.1 499.6,53.9 499.5,53.3 499.5,52.3 499.7,51.3 500.1,50.8 500.5,50.6 501.5,50.5 501.8,50.1 502.0,49.3 502.3,48.9 503.1,48.5 503.9,48.3 504.7,48.7 505.3,49.5 505.5,50.3 505.6,52.5 505.6,52.9 505.3,53.3 504.0,54.1 503.6,54.5 503.5,54.9 503.4,55.7 503.1,56.2Z" fill="none"/>
<path d="M498.1,43.8 497.7,43.7 497.3,43.1 497.1,42.3 497.1,41.3 496.3,39.7 496.2,39.1 496.2,36.9 497.1,34.9 497.9,34.0 498.5,33.6 499.7,33.3 500.7,32.3 503.5,31.5 504.3,31.4 504.9,31.6 505.4,32.1 505.9,33.5 506.7,34.7 506.7,35.5 506.4,36.5 505.9,37.0 504.7,37.9 503.6,39.7 503.2,40.1 502.7,40.4 500.9,40.8 499.4,41.7 499.2,42.1 498.9,43.1 498.5,43.5 498.1,43.8Z M497.5,46.6 497.1,46.6 496.9,46.5 496.6,46.1 496.6,45.7 496.7,45.3 497.1,44.9 497.7,44.6 497.9,44.7 498.1,45.0 498.2,45.5 497.9,46.1 497.5,46.6Z M502.7,55.9 502.3,55.9 501.1,55.5 500.3,54.9 499.7,53.7 499.7,52.1 499.8,51.5 500.1,51.1 500.5,50.8 501.7,50.6 502.0,50.3 502.6,49.1 503.3,48.7 503.9,48.6 504.7,49.0 505.2,49.7 505.4,50.7 505.5,52.5 505.4,52.9 505.1,53.2 503.5,54.3 503.3,54.7 503.0,55.7 502.7,55.9Z" fill-opacity="0.15"/>
<path d="M499.1,41.5 498.5,41.6 497.3,40.7 496.8,40.1 496.4,39.5 496.4,38.9 496.4,36.9 497.3,34.9 498.1,34.0 498.7,33.7 499.7,33.5 500.7,32.6 501.1,32.4 503.5,31.6 504.3,31.6 504.9,31.8 505.3,32.3 505.7,33.5 506.4,34.5 506.6,34.9 506.5,35.7 506.2,36.5 505.7,37.0 504.7,37.7 503.6,39.5 503.1,40.0 502.5,40.3 500.9,40.6 499.9,41.2 499.1,41.5Z M498.3,43.1 497.9,43.1 497.6,42.5 497.8,42.1 498.3,41.9 498.5,41.9 498.7,42.5 498.6,42.9 498.3,43.1Z M497.3,46.3 496.9,46.1 496.9,45.7 497.1,45.3 497.5,45.1 497.8,45.3 497.8,45.7 497.7,46.1 497.3,46.3Z M502.7,55.6 502.3,55.7 501.3,55.4 500.7,55.1 500.3,54.7 500.0,54.1 499.8,53.5 499.8,52.1 500.0,51.5 500.3,51.1 501.5,50.9 501.8,50.7 502.2,50.3 502.9,49.2 503.3,48.9 503.9,48.8 504.5,49.1 505.1,49.9 505.3,51.1 505.3,52.5 505.2,52.9 504.9,53.2 503.3,54.3 502.7,55.6Z" fill-opacity="0.15"/>
<path d="M499.7,41.1 498.9,41.3 498.3,41.0 497.3,40.4 496.7,39.5 496.6,38.9 496.6,36.9 497.3,35.2 497.7,34.6 498.1,34.2 499.9,33.6 501.1,32.6 503.3,31.8 504.1,31.8 504.7,31.9 505.1,32.3 505.7,33.7 506.4,34.9 506.4,35.5 506.2,36.3 505.7,36.9 504.5,37.6 503.5,39.3 503.1,39.8 502.5,40.1 500.9,40.5 499.7,41.1Z M502.5,55.4 502.1,55.5 501.3,55.3 500.7,54.9 500.3,54.5 500.0,53.9 499.9,53.3 500.0,51.9 500.1,51.5 500.5,51.2 501.5,51.0 502.0,50.7 503.1,49.3 503.5,49.1 504.1,49.1 504.7,49.5 505.0,50.1 505.2,51.3 505.2,52.5 504.8,53.1 503.1,54.3 502.5,55.4Z" fill-opacity="0.15"/>
<path d="M499.7,41.0 499.1,41.1 498.5,40.9 497.5,40.3 496.9,39.5 496.7,38.9 496.7,36.9 497.4,35.3 498.1,34.5 498.5,34.2 499.9,33.8 501.3,32.7 503.5,31.9 504.3,31.9 504.7,32.1 505.1,32.5 505.6,33.7 506.3,34.9 506.3,35.5 506.1,36.3 505.5,36.9 504.4,37.5 503.5,39.1 503.0,39.7 502.3,40.0 500.9,40.3 499.7,41.0Z M502.3,55.2 501.9,55.3 501.3,55.1 500.9,54.9 500.5,54.5 500.2,53.9 500.0,53.3 500.0,52.5 500.1,51.9 500.5,51.4 501.5,51.1 501.9,50.9 503.3,49.3 503.7,49.2 504.1,49.2 504.7,49.7 505.0,50.3 505.2,51.5 505.1,52.5 504.7,53.1 502.9,54.3 502.3,55.2Z" fill-opacity="0.15"/>
<path d="M499.5,40.9 498.9,40.9 498.1,40.5 497.3,39.9 497.0,39.3 496.9,36.9 497.1,36.3 497.6,35.3 498.3,34.6 499.9,33.9 501.1,32.9 501.5,32.7 503.5,32.1 504.1,32.0 504.7,32.2 505.1,32.7 505.5,33.8 506.1,34.9 506.2,35.7 505.9,36.3 505.5,36.8 504.3,37.4 503.5,38.9 502.9,39.6 502.3,39.9 500.9,40.2 499.5,40.9Z M501.7,55.1 500.9,54.8 500.4,54.1 500.1,52.9 500.2,51.9 500.6,51.5 501.7,51.2 502.1,50.9 503.3,49.5 503.7,49.4 504.1,49.4 504.7,49.9 504.9,50.5 505.1,51.7 505.0,52.5 504.5,53.1 502.9,54.1 502.3,54.9 501.7,55.1Z" fill-opacity="0.15" stroke-opacity="0.65"/>
<path d="M499.7,40.7 499.1,40.8 498.5,40.6 497.7,40.1 497.2,39.5 497.1,38.9 497.0,37.1 497.2,36.5 497.5,35.9 498.3,34.8 499.9,34.1 501.3,33.0 503.3,32.3 503.9,32.2 504.5,32.3 504.9,32.7 505.4,33.9 506.0,34.9 506.1,35.5 505.9,36.1 505.4,36.7 504.3,37.1 504.1,37.3 503.6,38.7 502.9,39.5 502.3,39.8 500.9,40.1 499.7,40.7Z M501.9,54.9 501.5,54.9 501.1,54.8 500.5,54.1 500.2,53.1 500.3,52.1 500.7,51.6 501.7,51.3 502.1,51.0 503.3,49.7 503.7,49.5 504.1,49.6 504.5,49.9 504.9,50.7 505.0,51.7 504.8,52.5 504.4,53.1 502.7,54.1 502.2,54.7 501.9,54.9Z" fill-opacity="0.15" stroke-opacity="0.65"/>
<path d="M499.3,40.7 498.7,40.6 498.1,40.3 497.7,39.9 497.3,39.3 497.2,36.9 497.7,35.8 498.3,35.1 499.7,34.3 501.3,33.2 503.3,32.4 503.9,32.3 504.5,32.4 504.9,32.9 505.9,35.1 505.9,35.7 505.7,36.3 505.1,36.7 504.0,37.1 503.6,38.5 502.9,39.3 502.3,39.7 500.9,40.0 499.7,40.6 499.3,40.7Z M501.9,54.7 501.3,54.7 500.9,54.5 500.6,54.1 500.4,52.9 500.4,52.1 500.8,51.7 502.1,51.1 503.3,49.8 503.7,49.7 504.1,49.7 504.5,50.1 504.8,50.7 504.9,51.7 504.7,52.5 504.3,53.1 502.5,54.1 501.9,54.7Z" fill-opacity="0.15" stroke-opacity="0.65"/>
<path d="M499.7,40.5 499.1,40.6 498.5,40.4 497.8,39.9 497.4,39.3 497.3,38.9 497.4,37.1 497.7,36.2 498.5,35.2 499.7,34.5 501.3,33.3 503.5,32.5 504.1,32.5 504.5,32.6 504.9,33.1 505.8,35.1 505.8,35.7 505.7,36.1 505.1,36.6 503.9,36.9 503.6,38.3 502.9,39.2 502.3,39.5 500.7,40.0 499.7,40.5Z M501.7,54.6 501.1,54.4 500.7,53.9 500.5,52.7 500.6,52.1 500.9,51.8 502.1,51.2 503.3,50.0 503.7,49.8 504.1,49.9 504.5,50.2 504.7,50.9 504.8,51.9 504.6,52.5 504.4,52.9 503.9,53.3 502.5,53.9 501.7,54.6Z" fill-opacity="0.15" stroke-opacity="0.65"/>
<path d="M499.5,40.5 499.1,40.5 498.5,40.3 498.0,39.9 497.6,39.3 497.5,38.7 497.5,37.1 497.8,36.3 498.7,35.3 501.3,33.4 503.5,32.6 504.1,32.6 504.5,32.8 504.8,33.1 505.7,35.1 505.7,35.7 505.5,36.1 505.1,36.5 503.9,36.7 503.7,36.9 503.5,38.3 503.1,38.9 502.7,39.2 502.1,39.5 500.7,39.9 499.5,40.5Z M501.7,54.3 501.3,54.3 500.9,53.9 500.6,52.7 500.8,52.1 502.1,51.3 503.5,50.0 504.1,50.0 504.5,50.4 504.7,51.1 504.7,51.9 504.5,52.5 504.2,52.9 503.7,53.3 502.1,53.9 501.7,54.3Z" fill-opacity="0.15" stroke-opacity="0.65"/>
<path d="M499.7,40.4 499.1,40.4 498.7,40.3 498.1,39.9 497.7,39.3 497.6,38.7 497.7,37.3 497.9,36.5 498.7,35.5 501.1,33.7 503.5,32.8 503.9,32.7 504.3,32.8 504.7,33.2 505.5,34.9 505.6,35.5 505.5,35.9 505.3,36.2 504.9,36.4 503.9,36.6 503.6,36.7 503.5,37.0 503.5,37.9 503.4,38.3 502.7,39.1 502.1,39.4 500.7,39.8 499.7,40.4Z M501.5,54.0 501.3,54.0 501.1,53.7 500.9,53.2 500.8,52.5 500.9,52.2 502.1,51.3 503.3,50.2 503.7,50.1 504.1,50.1 504.5,50.7 504.6,51.3 504.6,52.1 504.3,52.7 503.9,53.1 503.3,53.4 501.9,53.7 501.5,54.0Z" fill-opacity="0.15" stroke-opacity="0.65"/>
<path d="M499.5,40.3 499.1,40.4 498.5,40.1 498.0,39.7 497.8,39.3 497.7,38.7 497.8,37.3 498.1,36.5 498.9,35.5 501.1,33.8 502.5,33.3 503.5,32.9 503.9,32.8 504.3,32.9 504.7,33.4 505.4,34.9 505.5,35.5 505.4,35.9 504.9,36.3 503.9,36.4 503.5,36.7 503.4,36.9 503.3,38.1 503.1,38.6 502.7,39.0 502.1,39.3 500.7,39.7 499.5,40.3Z M502.7,53.5 501.9,53.4 501.3,53.2 501.0,52.7 501.1,52.3 503.3,50.4 503.9,50.2 504.3,50.5 504.5,50.9 504.6,51.7 504.5,52.3 504.2,52.7 503.8,53.1 503.3,53.4 502.7,53.5Z" fill-opacity="0.15" stroke-opacity="0.65"/>
</g>
<path d="M494.5,31.8 C491,34 487,35.6 483.4,35.4 C481,35.2 479.5,34.2 478.1,34.2 C476.5,34.2 474.6,34.6 474.1,35.4 C474,37 475,38 475.9,38.6 C477.5,39.6 479,40.2 480.7,40.7 C482.5,41.2 484,41.3 485.5,41.8 C487,42.3 488.5,43 488.7,43.9 C488.8,45.3 487.4,46.4 486.1,47.4 C484.8,48.4 483.3,49.2 482.1,50.1 C480.6,51.2 479,52.3 478.6,53.5 C478.2,54.8 478.6,55.9 479.4,56.7 C480.4,57.8 481.9,58.4 483.4,58.6 C485.2,58.8 487,58.6 488.7,58.1 C490.5,57.6 492.2,56.9 493.6,56.2 C495,55.5 496,54.8 497,54" fill="none" stroke="#000" stroke-width="0.5"/>
<path d="M494,34.6 C491,36.6 488,37.6 485,37.6 M491.5,44 C490.5,47 488,49 485.5,50.5 C483.5,51.7 481.8,52.8 481.6,54 C481.5,55.3 482.8,56.2 484.5,56.4 C487,56.6 490,55.6 493,54" fill="none" stroke="#000" stroke-width="0.45"/>
<path d="M497.6,23 C498,26 499.5,27.5 500.5,30 M504.4,23 C504,26 503,27.5 502.6,30" fill="none" stroke="#000" stroke-width="0.5"/>
<ellipse cx="484.8" cy="53.8" rx="1.1" ry="0.7" fill="none" stroke="#000" stroke-width="0.35"/>
<rect x="493" y="20.7" width="11.5" height="2.3" fill="#000"/>
<rect x="456.7" y="34" width="1.5" height="5.5" fill="#000"/>
<rect x="456.4" y="20.2" width="13.1" height="7.1" fill="#fff"/>
<text x="456.90000000000003" y="26.1" text-anchor="start" style="font-size:5.4px;" fill="#000" stroke="#000" stroke-width="0.16">3.48</text>
<rect x="503.5" y="20.2" width="13.8" height="7.1" fill="#fff"/>
<text x="516.2" y="26.1" text-anchor="end" style="font-size:5.4px;" fill="#000" stroke="#000" stroke-width="0.16">82.6</text>
<rect x="456.4" y="75.1" width="13.1" height="6.0" fill="#fff"/>
<text x="456.90000000000003" y="80.1" text-anchor="start" style="font-size:5.4px;" fill="#000" stroke="#000" stroke-width="0.16">3.15</text>
<rect x="503.5" y="75.1" width="13.8" height="6.0" fill="#fff"/>
<text x="516.2" y="80.1" text-anchor="end" style="font-size:5.4px;" fill="#000" stroke="#000" stroke-width="0.16">10.8</text>
<line x1="469.46400000000006" y1="20.7" x2="503.536" y2="20.7" stroke="#000" stroke-width="0.6"/>
<line x1="517.6" y1="20.7" x2="517.6" y2="81.3" stroke="#333" stroke-width="0.6"/>
<line x1="456.3" y1="20.4" x2="456.3" y2="81.7" stroke="#000" stroke-width="0.9"/>
<line x1="455.90000000000003" y1="81.3" x2="517.9" y2="81.3" stroke="#000" stroke-width="0.9"/>
<clipPath id="cp5"><rect x="232.1" y="102.7" width="60.4" height="60.6"/></clipPath>
<text x="229.5" y="103.1" text-anchor="end" style="font-size:2.5px;font-weight:normal" fill="#444">10<tspan dy="-0.9" style="font-size:1.9px">4</tspan></text>
<text x="232.3" y="168.3" text-anchor="middle" style="font-size:2.5px;font-weight:normal" fill="#444">10<tspan dy="-0.9" style="font-size:1.9px">0</tspan></text>
<line x1="229.9" y1="102.7" x2="232.1" y2="102.7" stroke="#666" stroke-width="0.35"/>
<line x1="232.1" y1="163.3" x2="232.1" y2="165.3" stroke="#666" stroke-width="0.35"/>
<text x="229.5" y="118.3" text-anchor="end" style="font-size:2.5px;font-weight:normal" fill="#444">10<tspan dy="-0.9" style="font-size:1.9px">3</tspan></text>
<text x="247.4" y="168.3" text-anchor="middle" style="font-size:2.5px;font-weight:normal" fill="#444">10<tspan dy="-0.9" style="font-size:1.9px">1</tspan></text>
<line x1="229.9" y1="117.85000000000001" x2="232.1" y2="117.85000000000001" stroke="#666" stroke-width="0.35"/>
<line x1="247.2" y1="163.3" x2="247.2" y2="165.3" stroke="#666" stroke-width="0.35"/>
<text x="229.5" y="133.4" text-anchor="end" style="font-size:2.5px;font-weight:normal" fill="#444">10<tspan dy="-0.9" style="font-size:1.9px">2</tspan></text>
<text x="262.5" y="168.3" text-anchor="middle" style="font-size:2.5px;font-weight:normal" fill="#444">10<tspan dy="-0.9" style="font-size:1.9px">2</tspan></text>
<line x1="229.9" y1="133.0" x2="232.1" y2="133.0" stroke="#666" stroke-width="0.35"/>
<line x1="262.3" y1="163.3" x2="262.3" y2="165.3" stroke="#666" stroke-width="0.35"/>
<text x="229.5" y="148.6" text-anchor="end" style="font-size:2.5px;font-weight:normal" fill="#444">10<tspan dy="-0.9" style="font-size:1.9px">1</tspan></text>
<text x="277.6" y="168.3" text-anchor="middle" style="font-size:2.5px;font-weight:normal" fill="#444">10<tspan dy="-0.9" style="font-size:1.9px">3</tspan></text>
<line x1="229.9" y1="148.15" x2="232.1" y2="148.15" stroke="#666" stroke-width="0.35"/>
<line x1="277.4" y1="163.3" x2="277.4" y2="165.3" stroke="#666" stroke-width="0.35"/>
<text x="229.5" y="163.7" text-anchor="end" style="font-size:2.5px;font-weight:normal" fill="#444">10<tspan dy="-0.9" style="font-size:1.9px">0</tspan></text>
<text x="292.7" y="168.3" text-anchor="middle" style="font-size:2.5px;font-weight:normal" fill="#444">10<tspan dy="-0.9" style="font-size:1.9px">4</tspan></text>
<line x1="229.9" y1="163.3" x2="232.1" y2="163.3" stroke="#666" stroke-width="0.35"/>
<line x1="292.5" y1="163.3" x2="292.5" y2="165.3" stroke="#666" stroke-width="0.35"/>
<line x1="267.4" y1="102.7" x2="267.4" y2="163.3" stroke="#000" stroke-width="0.6"/>
<line x1="232.1" y1="133.4" x2="292.5" y2="133.4" stroke="#000" stroke-width="0.6"/>
<g clip-path="url(#cp5)" stroke="#000" stroke-width="0.55" stroke-linejoin="round" fill="#000">
<path d="M256.1,157.1 255.5,157.0 255.1,156.6 254.5,155.8 254.2,154.7 253.7,154.4 252.2,154.5 252.4,155.3 252.3,156.1 252.1,156.6 251.7,156.8 250.1,156.5 249.1,155.7 248.5,155.4 248.1,155.4 246.7,155.5 246.3,155.4 245.7,155.1 245.0,154.5 244.5,153.6 243.9,153.2 243.5,152.8 242.8,151.7 241.7,151.1 240.4,150.1 240.2,149.5 240.7,148.3 240.7,148.1 239.3,147.1 238.7,145.3 235.9,143.9 235.4,143.5 235.1,143.1 235.0,142.7 235.2,142.1 236.8,139.7 237.3,138.5 238.3,137.7 239.3,136.4 239.5,136.3 239.9,136.3 241.1,137.3 241.9,137.6 242.9,137.6 245.3,137.2 246.1,137.2 246.7,137.5 247.5,138.4 247.9,138.6 248.3,138.5 249.0,138.3 249.3,137.9 249.1,136.3 249.2,134.7 249.2,134.1 249.0,133.7 248.7,133.4 248.3,133.2 247.5,133.3 247.2,133.5 246.5,134.3 245.9,134.6 245.7,134.5 244.9,133.5 244.5,133.2 242.9,132.5 241.9,131.9 241.1,131.9 239.5,132.5 238.9,132.5 238.3,132.4 235.7,131.1 234.5,130.7 233.7,130.5 232.5,130.6 232.1,130.4 231.9,123.1 232.0,111.5 232.1,110.8 232.7,110.5 232.9,110.1 232.9,108.9 233.0,108.5 233.5,107.8 234.1,107.3 234.7,107.2 235.5,107.4 237.7,108.4 238.3,108.4 239.3,108.1 240.1,108.1 241.9,108.4 245.9,109.5 246.9,109.4 248.9,109.0 251.1,109.7 251.6,109.5 252.2,108.5 252.9,108.0 253.7,107.8 255.5,107.9 256.5,108.1 259.9,109.6 260.7,109.7 262.3,109.5 263.7,110.1 266.1,110.4 266.7,110.7 267.2,111.1 268.0,112.1 268.5,113.1 269.7,114.0 270.9,115.7 272.2,116.5 272.5,116.9 272.6,117.7 272.3,119.3 272.5,119.8 273.3,120.7 273.4,121.1 273.3,121.5 272.3,122.4 271.8,123.7 271.8,124.1 272.2,124.9 272.4,125.7 272.3,126.3 272.1,126.8 271.5,127.4 270.1,128.4 269.1,129.3 266.9,130.6 262.4,132.3 261.7,132.7 261.1,133.3 260.3,133.4 259.9,133.6 259.4,134.1 259.2,134.7 259.4,136.3 259.7,136.9 260.3,137.3 261.5,137.7 262.1,138.0 263.0,138.7 263.6,139.5 263.6,140.9 264.2,142.1 265.2,144.5 265.1,144.9 264.8,145.5 264.3,146.1 263.5,146.7 263.3,147.1 263.5,147.5 263.7,147.7 264.7,148.2 265.1,148.5 265.4,149.1 265.4,149.7 265.3,149.9 265.1,150.0 263.9,149.6 263.1,149.6 262.7,149.7 262.3,150.1 262.1,150.7 262.3,151.5 262.7,152.0 263.3,152.5 263.5,152.9 263.4,153.7 262.9,154.4 262.3,154.6 261.5,154.4 261.1,154.5 260.0,155.9 259.1,156.5 258.5,156.8 257.1,156.9 256.1,157.1Z M284.9,125.1 284.3,125.1 283.7,124.8 282.5,123.4 281.3,122.7 281.0,122.3 280.9,121.7 280.6,120.3 280.7,119.5 281.6,118.3 282.3,117.1 283.1,116.7 284.3,116.7 285.1,117.1 285.9,117.9 287.0,119.3 287.4,120.1 287.4,121.1 286.7,123.1 285.7,124.7 284.9,125.1Z M283.5,161.3 282.9,161.4 281.1,160.9 280.5,160.6 280.1,160.1 279.6,159.1 278.8,157.9 278.3,155.9 277.2,154.3 276.8,153.3 276.4,151.1 275.2,147.9 274.7,145.5 274.7,143.9 274.8,143.1 275.4,141.7 275.9,139.7 276.8,137.7 276.8,137.3 276.2,136.5 276.1,136.1 276.3,135.3 276.8,134.7 278.3,133.5 278.5,133.1 278.5,132.1 278.7,131.7 279.3,131.2 280.4,130.7 280.7,130.3 280.8,129.7 281.1,129.5 282.9,129.0 283.5,129.2 286.7,131.2 287.3,131.8 287.9,132.6 288.3,133.5 288.4,135.5 289.0,137.5 289.1,138.3 288.8,139.9 288.9,141.3 288.6,143.3 288.5,146.1 288.2,147.1 287.4,148.5 287.2,149.1 287.4,150.9 287.3,154.1 286.8,156.7 286.5,157.5 286.0,158.3 285.3,159.2 284.4,160.1 283.9,160.9 283.5,161.3Z M258.1,132.9 258.1,132.7 257.9,132.5 257.7,132.5 257.5,132.6 257.5,132.9 257.7,133.1 257.9,133.1 258.1,132.9Z M255.8,134.5 256.0,134.1 255.9,133.7 255.5,133.4 255.2,133.5 254.9,133.9 255.0,134.3 255.3,134.5 255.8,134.5Z M253.0,137.1 253.2,136.9 253.3,136.5 253.1,135.3 252.9,135.0 252.5,134.7 252.1,134.7 251.7,134.7 251.5,135.0 251.4,135.3 251.4,135.9 251.6,136.3 251.9,136.8 252.3,137.1 252.7,137.2 253.0,137.1Z M243.6,150.9 243.8,150.7 243.9,150.3 243.7,149.5 243.3,149.1 242.6,149.1 242.4,149.3 242.4,149.5 242.9,150.6 243.3,151.0 243.6,150.9Z" fill="none"/>
<path d="M252.7,133.1 251.3,132.9 250.1,132.9 247.9,132.1 246.5,131.2 246.1,131.2 245.3,131.5 244.7,131.6 241.5,130.9 240.9,130.9 239.5,131.3 238.9,131.2 236.9,130.6 234.7,129.6 233.2,129.1 232.1,128.2 231.9,118.9 232.0,111.7 232.1,111.3 232.9,110.9 233.3,110.5 233.9,109.3 234.3,108.8 234.9,108.5 235.5,108.5 237.5,109.4 238.1,109.6 239.3,109.2 239.9,109.2 240.7,109.6 242.1,110.8 242.7,111.0 244.1,110.6 245.3,110.8 246.5,110.8 247.7,111.0 248.7,110.4 249.3,110.3 251.1,110.7 251.7,110.7 252.5,110.5 253.5,109.6 253.9,109.4 255.9,109.1 256.7,109.1 257.3,109.4 258.7,110.2 260.9,110.5 262.4,110.9 263.9,111.1 264.5,111.3 266.2,112.5 266.7,113.7 268.7,115.1 269.8,116.5 271.1,117.5 271.3,118.1 271.0,119.5 271.3,120.9 271.0,122.1 269.3,125.3 268.4,126.3 267.7,127.5 267.3,127.7 266.6,127.7 266.3,127.9 265.9,128.9 265.6,129.3 264.1,130.5 263.5,130.8 262.7,130.9 261.5,130.7 260.1,131.6 259.3,131.8 257.7,131.3 257.1,131.3 255.1,132.1 253.5,132.9 252.7,133.1Z M284.5,123.2 284.3,123.3 283.9,123.1 283.1,122.3 282.6,121.5 282.4,120.7 282.4,120.1 282.8,118.3 283.1,117.9 283.7,117.6 284.3,117.7 284.9,118.0 285.3,118.5 285.5,119.1 285.3,120.5 285.2,122.1 284.9,122.8 284.5,123.2Z M282.3,159.6 281.5,159.6 280.9,159.3 279.9,158.3 279.4,157.5 279.0,155.3 278.4,153.7 278.4,151.9 278.2,151.5 277.1,150.3 276.7,149.5 276.3,148.1 276.1,146.7 275.6,145.3 275.4,143.7 275.6,142.9 276.3,140.9 276.7,139.3 277.9,137.1 277.9,136.7 277.5,135.9 277.6,135.3 278.0,134.9 279.1,134.0 280.1,132.5 281.9,131.5 282.9,131.2 283.3,131.3 284.1,131.9 285.3,132.5 286.7,133.0 287.2,133.3 287.5,133.9 287.6,135.5 288.0,136.9 288.1,137.5 288.0,138.1 287.5,138.9 287.4,139.3 287.8,141.1 287.7,142.5 287.7,145.7 287.5,146.9 286.9,148.3 286.6,149.1 286.6,150.9 286.3,152.5 286.5,154.7 286.2,156.3 285.7,157.5 284.9,158.5 284.3,158.8 283.2,159.1 282.3,159.6Z M256.5,154.7 255.9,154.5 255.1,153.5 254.5,153.3 252.5,153.3 250.9,153.0 249.7,153.6 249.1,153.5 248.7,152.9 248.7,151.9 248.5,151.5 247.1,150.4 246.7,150.2 245.7,150.1 245.4,149.7 245.1,148.3 244.6,147.1 245.1,146.1 245.1,145.7 245.0,145.5 244.7,145.3 244.3,145.2 243.4,145.7 243.1,146.1 243.3,146.9 243.2,147.1 242.9,147.2 242.3,147.1 240.9,146.3 240.5,145.9 240.1,144.7 239.7,144.1 237.6,143.1 236.9,142.6 236.8,142.3 236.8,141.9 237.3,140.9 237.7,140.4 238.9,139.7 239.7,138.8 240.3,138.5 241.3,138.6 242.7,139.4 243.3,139.5 244.1,139.4 245.3,138.8 245.9,138.9 246.2,139.1 246.3,139.5 246.2,140.7 246.4,141.1 246.7,141.2 247.3,140.9 247.8,139.9 248.4,139.5 249.9,139.1 251.1,139.2 251.9,138.6 253.7,138.2 254.9,137.6 255.3,137.6 256.5,138.3 258.3,138.7 259.1,138.8 259.5,138.9 260.5,140.1 261.7,141.1 262.2,142.1 262.3,144.3 262.3,144.5 260.9,146.1 260.5,146.3 259.7,146.5 259.5,146.7 259.6,146.9 259.9,147.1 260.9,147.5 261.5,147.9 261.8,148.3 261.8,148.7 261.0,150.5 261.0,151.9 260.8,152.3 260.3,152.7 259.7,152.8 259.3,152.8 258.5,152.5 258.3,152.5 258.1,153.5 257.8,154.1 257.3,154.5 256.5,154.7Z M251.5,148.7 251.3,148.6 251.1,148.7 251.3,148.9 251.5,148.7Z" fill="none"/>
<path d="M253.1,132.1 249.9,131.9 248.7,131.6 247.1,130.8 246.3,130.6 244.1,130.9 243.3,130.8 241.3,130.3 239.1,130.2 237.9,129.8 236.6,129.5 234.9,128.5 233.3,127.9 232.1,127.2 231.9,118.3 232.0,113.3 232.1,111.6 233.3,111.1 234.5,109.9 234.9,109.7 235.3,109.6 235.9,109.6 237.9,110.2 239.5,110.0 239.9,110.1 240.7,110.4 242.1,111.3 242.5,111.4 243.9,111.2 247.5,111.7 248.1,111.6 249.1,111.1 249.5,111.0 251.5,111.3 253.3,111.0 253.9,110.7 254.9,110.0 255.5,109.8 256.3,109.8 257.1,110.0 258.5,110.9 259.9,110.8 260.5,110.9 261.1,111.1 262.1,111.7 263.5,111.8 264.1,112.1 264.5,112.7 264.5,113.9 264.6,114.1 265.0,114.3 266.1,114.5 266.9,114.9 267.4,115.5 267.5,116.5 267.7,116.8 269.1,117.2 269.8,117.9 269.9,118.5 269.2,119.7 269.1,120.3 269.3,120.6 270.1,120.9 270.2,121.3 269.9,121.7 269.1,121.9 268.9,122.1 269.0,122.5 269.3,123.3 269.2,124.1 267.9,125.5 267.3,126.4 265.8,127.1 265.0,128.5 264.3,129.1 263.6,129.9 263.3,130.1 262.7,130.2 261.7,129.7 261.3,129.7 260.9,130.0 260.1,130.8 259.5,131.1 258.9,131.2 257.5,130.9 256.9,130.9 254.9,131.3 253.9,131.9 253.1,132.1Z M284.1,121.3 283.9,121.3 283.7,121.1 283.6,120.7 283.9,119.9 283.8,118.9 283.9,118.7 284.1,118.6 284.3,118.7 284.5,119.1 284.2,119.9 284.3,120.9 284.1,121.3Z M282.7,158.7 281.9,158.8 281.1,158.7 280.5,158.2 280.0,157.5 279.8,156.9 279.3,153.7 279.4,152.3 279.4,151.7 278.9,151.0 277.7,150.1 277.3,149.5 277.1,148.7 277.1,147.1 276.2,145.5 276.0,144.1 276.0,143.1 276.7,141.1 277.2,139.1 277.8,138.1 279.0,136.7 279.0,136.3 278.8,135.5 279.0,135.1 280.0,133.5 280.5,133.0 281.1,132.6 281.9,132.4 284.5,132.8 286.6,133.9 286.8,134.3 287.0,135.5 287.6,137.3 287.5,137.9 287.0,139.3 287.3,140.9 287.2,142.7 287.2,145.7 287.0,146.9 286.4,148.5 286.2,149.3 285.8,152.3 286.0,154.5 285.7,156.1 285.4,157.1 284.7,158.0 284.1,158.3 282.7,158.7Z M253.5,152.5 252.5,152.7 251.7,152.5 251.3,152.1 249.8,150.3 249.9,150.1 250.3,149.8 251.7,149.5 252.1,149.2 252.3,148.7 252.2,148.3 251.9,148.1 251.5,148.0 251.1,148.0 249.3,148.7 249.0,148.9 248.9,149.3 248.9,150.1 248.3,150.0 247.1,149.1 246.8,148.7 246.7,148.1 246.7,147.1 247.0,145.9 246.8,145.5 245.9,144.5 245.8,143.9 245.9,143.5 246.4,143.3 246.8,142.5 248.3,140.8 248.9,140.4 249.9,140.2 251.3,140.7 251.7,140.7 252.1,140.4 252.5,139.7 252.9,139.3 253.9,139.0 254.7,138.9 257.5,139.8 258.3,140.5 260.0,142.3 260.0,142.7 259.4,144.1 258.9,144.5 257.7,144.9 257.5,145.1 257.5,145.3 258.3,146.3 258.5,147.4 258.7,147.8 259.1,148.0 260.3,148.3 260.6,148.5 260.7,148.9 260.6,149.3 260.2,149.9 259.7,150.3 259.1,150.6 258.7,150.6 258.3,150.5 257.5,149.8 256.7,149.9 256.2,150.3 255.7,151.3 255.3,151.7 254.7,152.1 253.5,152.5Z M242.1,144.7 241.5,144.8 241.1,144.7 240.0,143.5 238.5,142.7 238.1,142.3 237.9,141.9 237.9,141.5 238.1,141.1 238.5,140.9 239.7,140.5 240.5,139.8 240.9,139.8 241.4,140.1 242.5,141.3 242.7,142.7 243.4,143.9 243.3,144.3 243.1,144.4 242.1,144.7Z M245.7,143.3 245.1,143.2 244.7,142.8 244.2,141.9 244.2,141.5 244.7,141.4 245.1,141.7 245.5,142.1 245.9,142.7 245.9,143.1 245.7,143.3Z" fill="none"/>
<path d="M251.9,131.3 250.9,131.4 250.1,131.4 246.3,130.2 245.7,130.2 244.3,130.5 243.5,130.4 241.5,129.6 239.3,129.4 238.8,129.1 238.6,128.7 238.9,127.7 238.8,127.1 238.5,126.7 237.5,126.2 237.1,126.2 236.8,126.3 236.1,127.3 235.7,127.5 233.9,127.0 232.9,126.9 232.1,126.5 231.9,118.5 232.0,113.5 232.1,111.9 235.1,110.6 235.9,110.5 237.9,110.7 239.9,110.6 240.9,110.9 242.3,111.7 243.9,111.6 247.1,112.1 248.1,112.1 249.3,111.5 249.7,111.4 251.1,111.7 252.7,111.7 253.7,111.9 254.2,111.7 254.8,110.9 255.2,110.5 255.9,110.3 256.5,110.3 257.3,110.6 258.5,111.6 259.7,111.3 260.3,111.3 260.9,111.5 262.1,112.3 263.2,112.7 263.5,113.0 263.7,113.9 263.9,114.3 264.5,114.7 265.7,115.0 266.1,115.1 266.6,115.7 266.9,116.7 267.1,117.1 267.7,117.5 268.7,117.8 269.0,118.1 269.0,118.7 268.5,119.9 267.9,122.3 267.9,122.9 268.2,123.7 268.1,124.1 266.9,125.9 265.4,126.7 264.7,127.8 263.7,128.5 263.1,129.3 262.7,129.5 261.3,129.1 260.9,129.3 259.7,130.4 258.9,130.7 257.1,130.5 255.7,130.6 254.5,130.2 253.9,130.2 253.6,130.3 253.2,130.9 253.0,131.1 251.9,131.3Z M283.5,158.2 282.5,158.3 281.5,158.2 280.9,157.9 280.4,157.3 280.2,156.5 279.7,154.3 279.7,153.5 280.0,152.5 279.9,151.9 279.2,150.7 278.1,149.9 277.8,149.5 277.6,148.9 277.7,147.5 277.7,147.1 276.6,145.5 276.4,144.5 276.5,143.1 277.5,139.1 278.1,138.1 279.3,136.9 279.5,136.3 279.5,135.1 280.0,134.1 280.9,133.3 281.7,133.0 284.1,133.2 284.9,133.6 286.0,134.7 286.4,135.7 287.0,136.7 287.2,137.3 287.2,137.9 286.8,139.3 287.0,140.9 286.8,142.9 286.9,145.5 286.6,146.9 285.8,149.5 285.5,152.1 285.6,153.9 285.5,154.9 285.2,156.5 284.9,157.2 284.3,157.8 283.5,158.2Z M252.7,152.1 252.3,152.1 251.9,151.9 251.4,151.3 251.2,150.7 251.3,150.3 252.5,149.7 252.9,149.3 253.0,148.7 252.6,148.1 252.1,147.8 251.5,147.6 249.7,147.9 248.7,148.0 248.3,147.9 248.0,147.5 248.0,146.9 248.3,146.4 248.9,146.0 249.9,145.9 250.3,145.7 250.6,145.3 250.7,144.7 250.5,143.7 250.3,143.4 250.0,143.5 249.5,144.2 249.1,144.4 248.7,144.4 248.5,144.3 248.2,143.9 248.1,143.3 248.2,142.3 248.7,141.5 249.5,141.0 250.1,141.0 251.3,141.4 251.9,141.5 253.1,140.8 254.5,140.9 254.9,140.8 255.7,140.2 256.7,140.2 257.3,140.5 257.9,141.1 258.6,142.3 258.9,143.1 258.9,143.5 258.6,143.9 258.3,144.1 257.2,144.5 256.8,144.9 256.9,145.5 257.7,146.3 257.8,146.7 258.0,148.3 257.7,148.7 257.5,148.9 256.0,149.7 254.9,151.0 253.9,151.4 253.2,151.9 252.7,152.1Z M241.3,143.3 241.1,143.3 239.3,142.5 239.1,142.3 239.0,141.9 239.2,141.7 239.7,141.6 240.5,141.7 241.1,141.9 241.3,142.1 241.4,142.5 241.4,142.9 241.3,143.3Z" fill="none"/>
<path d="M251.5,130.9 250.9,131.0 250.3,131.0 246.3,130.0 243.7,130.1 243.1,129.8 242.1,129.0 240.1,128.8 239.6,128.5 239.3,127.1 239.1,126.6 238.7,126.3 237.5,125.7 236.9,125.7 236.1,126.0 235.5,126.2 235.1,126.0 234.1,125.4 233.5,125.4 232.7,125.8 232.5,125.7 232.1,124.9 232.0,122.9 231.9,117.1 232.1,112.1 233.5,111.7 234.9,111.5 236.1,111.1 238.1,111.0 240.7,111.2 242.3,111.9 244.1,111.8 246.7,112.6 248.1,112.4 249.7,111.9 250.9,112.2 252.3,112.3 253.3,112.7 253.7,112.6 254.3,112.3 255.5,110.9 256.3,110.7 256.9,110.9 257.5,111.3 257.9,111.7 258.3,112.5 258.5,112.5 259.2,111.9 259.7,111.7 260.1,111.6 260.7,111.8 262.7,113.1 263.4,114.3 263.9,114.7 265.3,115.2 265.9,115.5 266.2,115.9 266.8,117.3 267.3,117.7 268.3,118.3 268.5,118.7 267.4,122.1 266.9,124.9 266.6,125.5 266.1,125.9 265.1,126.2 264.9,126.3 264.3,127.5 263.3,128.1 262.7,128.6 262.3,128.8 261.5,128.7 261.1,128.8 259.9,129.7 259.1,130.2 257.9,130.3 255.9,130.1 254.3,129.8 253.5,129.8 253.1,129.9 252.1,130.7 251.5,130.9Z M283.3,157.9 282.5,157.9 281.7,157.6 281.1,157.3 280.7,156.7 280.2,155.5 280.0,154.3 280.0,153.7 280.3,152.5 280.3,152.1 279.5,150.7 278.1,149.3 278.0,148.7 278.1,147.6 278.1,147.1 277.8,146.5 277.0,145.5 276.8,144.7 277.1,142.3 277.5,139.7 277.7,139.1 278.2,138.3 279.6,136.9 279.8,136.3 279.9,135.1 280.3,134.3 281.1,133.6 281.9,133.4 283.9,133.5 284.7,133.9 285.4,134.7 286.0,135.9 286.7,136.9 286.9,137.5 286.6,139.3 286.7,140.9 286.5,142.9 286.7,145.3 286.4,146.7 285.4,149.5 285.2,152.1 285.3,153.7 285.3,154.5 284.8,156.5 284.6,157.1 284.1,157.6 283.3,157.9Z M254.7,149.9 254.3,149.8 254.1,149.6 253.9,148.5 253.2,147.9 251.5,147.2 250.9,147.2 249.9,147.4 249.3,147.3 249.1,147.1 249.1,146.9 249.3,146.7 250.3,146.4 250.8,145.9 251.1,145.1 251.2,143.1 251.5,142.5 253.3,141.6 253.7,141.5 254.9,141.6 255.3,141.4 255.9,140.9 256.5,140.8 256.9,140.9 257.3,141.3 258.2,143.1 258.1,143.5 258.0,143.7 256.8,144.1 256.6,144.3 256.4,144.7 256.5,145.5 257.4,146.9 257.4,147.9 257.0,148.5 255.5,149.3 254.7,149.9Z" fill="none"/>
<path d="M251.5,130.6 250.5,130.7 246.1,129.7 243.7,129.7 243.3,129.4 242.9,128.7 242.5,128.4 241.1,128.5 240.3,128.3 240.0,127.9 239.6,126.9 239.3,126.4 237.7,125.4 237.1,125.3 235.7,125.6 235.3,125.5 234.5,125.0 233.1,125.0 232.5,124.7 232.1,124.2 232.0,122.9 232.0,117.7 232.1,112.4 233.5,112.0 235.1,112.0 236.5,111.4 238.1,111.3 239.7,111.6 240.9,111.6 242.3,112.2 243.7,112.0 244.3,112.1 245.5,112.5 246.5,113.1 249.7,112.5 251.9,112.7 252.9,113.2 253.3,113.3 253.7,113.1 254.5,112.5 255.6,111.3 256.3,111.1 256.9,111.2 257.3,111.5 257.6,111.9 257.9,112.8 258.1,113.1 258.3,113.2 258.7,113.0 259.3,112.4 259.7,112.1 260.3,112.1 262.3,113.2 263.5,114.7 265.1,115.4 265.6,115.7 265.9,116.1 266.5,117.4 267.8,118.5 267.9,118.9 267.1,121.9 266.5,124.7 266.1,125.3 265.5,125.5 264.5,125.2 264.3,125.3 264.2,126.7 263.9,127.2 262.3,128.2 261.0,128.5 259.9,129.4 258.9,129.9 257.7,130.0 254.7,129.6 253.5,129.6 252.9,129.7 251.5,130.6Z M283.7,157.5 282.9,157.7 282.3,157.5 281.3,156.9 280.7,156.2 280.4,155.3 280.2,154.3 280.2,153.7 280.5,152.7 280.5,152.1 279.7,150.6 278.4,149.1 278.3,148.7 278.3,147.1 278.1,146.5 277.4,145.5 277.2,144.9 277.5,143.5 277.5,141.9 277.9,139.3 278.3,138.5 279.8,136.9 280.0,136.3 280.2,135.1 280.4,134.5 280.9,134.0 281.7,133.7 283.7,133.7 284.5,134.1 285.0,134.7 285.6,136.1 286.5,137.1 286.6,137.7 286.4,139.3 286.4,140.7 286.1,142.9 286.4,144.5 286.4,145.5 286.0,147.1 285.2,149.3 285.2,150.9 285.0,152.1 285.2,153.7 285.1,154.5 284.5,156.7 284.1,157.3 283.7,157.5Z M256.3,142.5 256.1,142.3 256.1,141.9 256.3,141.6 256.5,141.6 256.7,141.9 256.7,142.3 256.5,142.5 256.3,142.5Z M256.3,148.1 255.5,148.3 254.7,148.2 251.5,146.7 251.3,146.3 251.5,144.3 251.6,143.7 251.9,143.2 252.5,142.9 253.3,142.7 254.1,143.3 255.5,143.2 255.9,143.4 256.0,143.7 256.0,144.7 256.1,145.3 256.8,147.1 256.8,147.7 256.3,148.1Z M281.8,148.3 281.7,148.0 281.5,147.9 281.3,147.9 281.3,148.1 281.4,148.3 281.7,148.4 281.8,148.3Z" fill="none"/>
<path d="M251.5,130.3 251.1,130.4 250.5,130.4 246.5,129.6 244.1,129.3 243.7,129.1 243.3,128.3 242.9,128.0 242.5,127.9 241.1,128.1 240.5,127.9 240.2,127.5 239.7,126.5 239.4,126.1 237.7,125.1 237.1,125.0 236.1,125.2 235.7,125.2 234.7,124.6 233.1,124.6 232.5,124.3 232.1,123.9 232.0,122.9 232.0,117.9 232.1,112.6 233.5,112.2 235.1,112.4 236.7,111.7 237.9,111.5 238.7,111.6 239.7,112.2 240.9,111.9 242.3,112.4 243.7,112.2 244.3,112.3 245.1,112.6 245.9,113.3 246.3,113.5 248.7,113.1 251.3,113.1 251.9,113.2 253.3,113.7 253.9,113.5 255.7,111.6 256.1,111.4 256.5,111.4 256.9,111.6 257.2,111.9 257.7,113.1 257.9,113.3 258.5,113.4 258.9,113.2 259.7,112.5 260.1,112.4 260.5,112.5 262.0,113.3 263.4,114.9 264.9,115.5 265.5,115.9 266.2,117.3 267.2,118.5 267.4,119.1 267.2,119.9 266.9,120.5 266.7,120.6 266.1,120.4 265.7,120.4 265.3,120.6 265.0,120.9 265.1,121.3 265.3,121.4 266.5,121.3 266.7,121.7 266.5,123.3 266.2,124.3 265.9,124.8 265.5,125.0 264.3,124.5 263.9,124.6 263.7,125.1 263.8,126.3 263.5,126.9 262.3,127.8 260.9,128.3 259.9,129.1 258.7,129.6 257.7,129.8 255.7,129.5 253.3,129.4 252.7,129.6 251.5,130.3Z M254.4,115.7 254.7,115.3 254.8,114.9 254.7,114.7 254.5,114.6 254.3,114.7 254.1,114.9 254.0,115.3 254.0,115.7 254.1,115.8 254.4,115.7Z M247.5,125.9 247.5,125.6 247.3,125.6 247.3,125.9 247.5,125.9Z M283.5,157.3 282.7,157.3 281.7,156.8 281.1,156.4 280.7,155.7 280.4,154.9 280.3,154.3 280.4,153.7 280.7,152.7 280.7,152.1 279.9,150.6 278.7,149.1 278.5,148.5 278.5,147.1 277.6,145.1 277.9,143.5 277.8,141.5 277.9,139.9 278.1,139.3 278.5,138.5 280.0,136.9 280.2,136.3 280.4,135.1 280.6,134.7 281.1,134.2 281.7,134.0 283.7,134.0 284.3,134.3 284.8,134.9 285.2,136.1 286.2,137.3 286.4,137.9 286.2,140.7 285.8,142.7 286.2,144.5 286.2,145.3 285.8,146.9 284.9,149.1 285.0,150.9 284.8,152.1 285.0,153.5 285.0,154.1 284.2,156.7 283.9,157.1 283.5,157.3Z M255.1,147.7 254.5,147.6 252.9,147.0 252.2,146.7 251.9,146.4 251.7,145.9 251.7,145.1 251.8,144.3 252.1,143.8 252.7,143.6 253.7,143.9 254.9,144.0 255.4,144.3 256.1,146.1 256.2,146.9 255.9,147.4 255.1,147.7Z M282.1,148.7 282.3,148.5 282.3,148.3 282.1,147.9 281.5,147.5 281.1,147.5 280.9,147.7 280.9,148.1 281.1,148.5 281.5,148.7 282.1,148.7Z" fill="none"/>
<path d="M251.3,130.1 250.5,130.2 244.5,129.0 244.0,128.7 243.5,127.9 243.1,127.7 242.5,127.6 241.3,127.8 240.7,127.6 240.4,127.3 239.9,126.3 239.5,125.8 237.7,124.7 237.1,124.6 235.9,124.7 235.1,124.2 233.9,124.4 233.3,124.4 232.5,123.9 232.1,123.6 232.1,122.9 232.0,118.1 232.1,112.9 232.9,112.5 233.5,112.4 234.9,112.8 235.5,112.8 236.9,111.9 237.9,111.7 238.5,111.8 239.3,112.5 239.7,112.6 240.9,112.2 242.5,112.6 243.7,112.4 244.3,112.5 245.1,112.9 245.6,113.5 245.9,113.7 246.5,113.7 248.3,113.4 251.5,113.4 253.4,114.1 253.7,114.3 253.8,114.7 253.8,115.9 253.9,116.1 254.1,116.1 254.7,115.6 255.2,114.7 255.1,114.3 254.4,113.9 254.5,113.5 255.6,112.1 255.9,111.9 256.3,111.8 256.7,111.8 257.0,112.1 257.5,113.2 257.9,113.6 258.3,113.7 258.7,113.6 259.7,113.0 260.1,112.8 260.9,113.0 261.9,113.5 262.9,114.7 263.3,115.0 265.2,115.9 265.5,116.3 265.9,117.3 266.8,118.5 266.9,118.9 266.9,119.3 266.7,119.7 265.3,120.3 264.8,120.9 264.8,121.3 264.9,121.5 265.3,121.7 266.1,121.9 266.3,122.1 266.3,122.7 266.2,123.3 265.8,124.3 265.3,124.5 264.1,124.0 263.7,124.2 263.3,124.9 263.3,126.3 262.9,126.9 262.1,127.5 260.9,128.0 259.7,128.9 258.7,129.4 257.7,129.6 255.7,129.3 253.3,129.3 252.5,129.5 251.3,130.1Z M247.8,126.1 247.9,125.7 247.7,125.2 247.5,125.2 247.1,125.3 246.9,125.7 247.1,126.1 247.5,126.3 247.8,126.1Z M283.3,157.1 282.7,157.1 281.7,156.6 281.1,156.1 280.8,155.5 280.5,154.7 280.5,154.1 280.9,152.7 280.9,152.1 279.9,150.3 278.9,148.9 278.8,147.3 277.9,145.1 278.2,143.5 278.0,141.5 278.2,139.5 278.7,138.5 280.2,136.9 280.7,134.9 281.1,134.5 281.7,134.3 283.5,134.3 284.1,134.5 284.5,135.1 284.7,136.3 285.9,137.3 286.1,137.7 286.2,138.1 285.9,140.5 285.6,141.7 285.5,142.5 285.6,143.1 286.0,144.5 286.1,145.3 285.7,146.5 284.9,148.3 284.7,148.9 284.8,150.7 284.7,152.1 284.9,153.5 284.8,154.1 284.0,156.5 283.7,156.9 283.3,157.1Z M254.9,147.3 254.3,147.2 253.1,146.8 252.3,146.3 252.1,145.9 252.0,145.3 252.1,144.8 252.3,144.4 252.7,144.2 253.1,144.2 254.5,144.4 255.1,144.7 255.6,145.5 255.8,146.5 255.5,147.1 254.9,147.3Z M282.2,148.9 282.6,148.5 282.6,148.3 282.4,147.9 281.9,147.5 281.5,147.3 281.1,147.3 280.7,147.5 280.6,147.7 280.6,148.1 281.0,148.7 281.5,149.0 282.2,148.9Z" fill="none"/>
<path d="M251.3,129.9 250.5,130.0 248.1,129.4 245.3,129.0 244.7,128.7 243.9,127.7 243.1,127.4 242.5,127.3 241.3,127.5 240.9,127.4 240.5,127.0 239.9,125.9 239.5,125.5 237.9,124.5 236.3,124.1 235.7,123.4 235.3,123.4 234.7,123.9 233.9,124.2 233.1,124.1 232.5,123.7 232.1,123.3 232.1,122.7 232.0,118.1 232.1,113.1 232.9,112.7 233.5,112.7 234.7,113.2 236.1,113.3 236.4,113.1 236.8,112.3 237.3,112.0 237.9,111.9 238.5,112.1 239.1,112.7 239.5,112.9 239.9,112.8 240.9,112.5 242.5,112.8 243.5,112.6 244.1,112.6 244.7,112.9 245.4,113.7 245.7,113.9 248.1,113.7 249.7,113.8 251.5,113.7 252.7,114.1 253.4,114.5 253.6,114.9 253.6,116.1 253.9,116.3 254.5,116.1 255.5,114.7 255.6,114.3 255.1,113.7 255.1,113.3 255.7,112.4 256.3,112.1 256.8,112.3 257.4,113.5 257.9,113.8 258.7,113.8 260.1,113.2 260.7,113.2 261.3,113.4 261.9,113.8 263.1,115.1 264.6,115.7 265.1,116.1 265.7,117.3 266.5,118.5 266.6,118.9 266.4,119.5 264.9,120.5 264.6,121.1 264.6,121.5 264.9,121.8 265.7,122.1 265.9,122.3 266.0,122.9 265.7,123.8 265.3,124.0 264.1,123.7 263.7,123.8 263.2,124.5 262.9,126.3 262.5,126.9 261.9,127.3 260.7,127.9 259.7,128.7 258.5,129.2 257.5,129.4 255.9,129.1 253.1,129.2 252.5,129.3 251.3,129.9Z M247.9,126.3 248.0,125.7 247.9,125.1 247.7,124.9 247.3,124.9 246.7,125.5 246.7,125.9 247.3,126.4 247.7,126.5 247.9,126.3Z M283.5,156.7 282.9,156.8 281.9,156.5 281.3,156.0 280.8,155.3 280.6,154.7 280.6,154.1 281.0,152.7 281.0,152.1 280.1,150.2 279.1,148.9 279.0,148.5 279.0,147.3 278.4,145.9 278.2,145.1 278.4,143.3 278.2,140.9 278.4,139.5 278.8,138.7 280.4,136.9 280.9,135.1 281.2,134.7 281.7,134.5 283.5,134.7 283.9,134.8 284.2,135.3 284.0,136.3 284.1,136.5 284.5,136.9 285.6,137.5 285.9,137.9 286.0,138.3 285.7,140.3 285.3,141.5 285.2,142.1 285.3,143.1 285.9,144.5 285.9,145.3 285.5,146.5 284.7,148.1 284.5,148.7 284.7,150.7 284.5,152.1 284.7,153.9 283.9,156.2 283.5,156.7Z M254.9,146.9 254.1,146.8 252.8,146.3 252.4,145.7 252.4,145.3 252.5,144.9 252.9,144.7 253.5,144.6 254.3,144.7 254.9,145.1 255.3,145.7 255.4,146.3 255.2,146.7 254.9,146.9Z M282.1,149.1 282.5,148.9 282.9,148.5 282.9,148.3 282.7,147.9 282.2,147.5 281.5,147.2 280.9,147.2 280.4,147.5 280.3,147.7 280.4,148.1 280.9,148.9 281.5,149.1 282.1,149.1Z" fill-opacity="0.15"/>
<path d="M251.3,129.8 250.7,129.8 250.1,129.7 248.1,128.9 246.9,129.1 245.9,128.9 245.1,128.6 244.4,127.7 243.6,127.3 242.7,127.1 241.5,127.2 241.1,127.2 240.7,126.9 240.0,125.7 239.5,125.1 238.3,124.3 236.7,123.8 235.7,123.1 235.2,123.1 234.5,123.8 233.9,124.0 233.3,124.0 232.7,123.6 232.1,122.9 232.0,118.3 232.1,113.3 232.7,113.0 233.3,112.9 233.7,113.0 234.5,113.5 236.5,113.6 236.8,113.3 237.0,112.5 237.3,112.3 237.7,112.2 238.3,112.3 239.1,113.0 239.5,113.1 241.1,112.7 242.5,113.0 243.9,112.8 244.6,113.1 245.2,113.9 245.5,114.1 247.9,113.9 249.5,114.1 251.3,113.9 252.5,114.2 252.9,114.4 253.3,114.7 253.4,115.1 253.4,116.1 253.5,116.3 253.9,116.5 254.5,116.2 255.9,114.5 255.9,114.1 255.6,113.5 255.6,113.1 255.9,112.6 256.3,112.5 256.7,112.7 257.3,113.7 257.9,113.9 258.7,114.0 260.3,113.5 261.3,113.6 261.7,113.9 262.9,115.1 264.9,116.1 266.3,118.7 266.3,119.1 266.0,119.5 264.7,120.5 264.4,121.1 264.4,121.5 264.7,122.0 265.6,122.5 265.7,122.7 265.7,123.1 265.5,123.5 265.3,123.6 264.9,123.6 264.1,123.3 263.5,123.6 263.0,124.5 262.5,126.3 262.1,126.9 260.7,127.6 259.5,128.5 258.1,129.1 257.3,129.2 255.7,128.9 253.1,129.0 252.5,129.2 251.3,129.8Z M243.5,123.9 243.6,123.5 243.5,122.6 243.1,122.4 242.7,122.5 242.3,122.9 242.3,123.3 242.4,123.5 242.9,123.9 243.3,124.0 243.5,123.9Z M247.9,126.5 248.1,125.9 248.1,125.2 247.9,124.8 247.5,124.6 247.1,124.8 246.6,125.3 246.4,125.7 246.4,125.9 246.8,126.3 247.3,126.6 247.7,126.7 247.9,126.5Z M283.3,156.5 282.7,156.6 281.7,156.2 281.3,155.8 280.9,155.2 280.7,154.1 281.1,152.7 281.1,152.1 280.2,150.1 279.3,148.7 279.4,147.7 278.6,146.1 278.4,145.3 278.5,142.9 278.3,140.9 278.5,139.5 278.9,138.7 280.5,136.9 281.1,135.2 281.5,134.8 281.9,134.8 283.1,135.0 283.5,135.2 283.6,135.5 283.6,136.3 283.7,136.7 284.1,137.1 285.4,137.7 285.7,138.1 285.7,138.5 285.6,140.1 285.0,141.5 284.9,141.9 285.1,143.0 285.7,144.5 285.7,145.3 285.2,146.7 284.3,148.1 284.2,148.5 284.5,150.5 284.4,152.1 284.6,153.9 284.5,154.5 283.9,155.8 283.6,156.3 283.3,156.5Z M254.7,146.4 254.1,146.4 253.3,146.2 252.9,145.7 252.9,145.3 253.1,145.1 253.5,145.0 254.3,145.2 254.8,145.7 254.8,146.1 254.7,146.4Z M281.9,149.3 282.5,149.1 283.1,148.7 283.3,148.3 283.0,147.9 282.2,147.3 281.5,147.1 280.8,147.1 280.1,147.5 280.0,147.7 280.0,148.1 280.6,148.9 281.1,149.2 281.9,149.3Z" fill-opacity="0.15"/>
<path d="M251.5,129.5 250.7,129.7 249.4,129.3 248.8,128.9 248.3,128.0 248.1,128.0 247.5,128.7 246.9,128.9 246.3,128.9 245.3,128.5 244.7,127.6 244.2,127.3 242.7,126.8 241.5,127.0 241.1,126.9 240.7,126.5 240.1,125.3 238.9,124.0 236.9,123.7 235.7,122.9 235.1,122.9 234.3,123.6 233.9,123.8 233.3,123.8 232.7,123.4 232.3,122.9 232.1,122.6 232.2,121.3 232.1,120.8 232.0,118.7 232.1,113.6 232.5,113.3 233.1,113.2 233.5,113.2 234.3,113.8 235.3,113.7 236.5,113.8 236.8,113.7 237.0,113.5 237.3,112.7 237.5,112.5 237.9,112.4 238.3,112.6 238.9,113.1 239.3,113.3 239.7,113.3 241.1,112.8 242.7,113.3 243.9,113.0 244.5,113.3 244.9,113.9 245.3,114.2 247.7,114.0 249.5,114.3 251.3,114.2 252.5,114.4 252.9,114.6 253.2,114.9 253.3,116.3 253.5,116.6 253.9,116.7 254.5,116.4 256.2,114.5 256.4,113.9 256.2,113.3 256.3,113.2 256.8,113.7 257.9,114.1 258.7,114.1 260.7,113.8 261.3,113.9 263.0,115.3 264.7,116.1 265.0,116.5 266.0,118.5 266.0,119.1 265.8,119.5 264.7,120.3 264.3,120.9 264.3,121.3 264.4,121.9 265.0,122.9 264.1,123.0 263.3,123.5 262.8,124.5 262.4,126.1 262.0,126.7 260.7,127.3 259.5,128.2 257.9,129.0 257.3,129.0 255.9,128.7 253.1,128.9 252.4,129.1 251.5,129.5Z M243.6,124.3 243.8,124.1 243.9,123.7 243.7,122.3 243.5,122.1 243.1,122.1 242.3,122.3 241.8,122.9 241.8,123.3 241.9,123.5 242.3,123.9 242.9,124.3 243.3,124.4 243.6,124.3Z M248.0,126.7 248.2,125.9 248.2,124.9 247.9,124.4 247.5,124.3 247.1,124.5 246.3,125.3 246.2,125.7 246.2,125.9 246.6,126.3 247.5,126.8 247.9,126.8 248.0,126.7Z M284.1,147.7 283.9,147.8 283.5,147.8 282.1,147.1 281.3,146.9 280.7,147.0 279.7,147.3 279.5,147.2 279.1,146.7 278.6,145.5 278.7,142.7 278.5,140.9 278.6,139.7 279.1,138.7 280.7,136.9 281.2,135.5 281.7,135.1 282.3,135.1 282.9,135.4 283.2,135.7 283.4,136.7 283.7,137.1 284.1,137.4 285.1,137.9 285.3,138.1 285.5,138.5 285.4,139.9 284.8,141.3 284.7,141.9 284.9,142.9 285.5,144.5 285.5,145.3 284.9,146.8 284.1,147.7Z M283.1,156.3 282.5,156.3 281.9,156.1 281.4,155.7 281.0,155.1 280.8,154.1 281.2,152.9 281.2,152.3 280.5,150.1 280.3,149.2 281.3,149.5 281.9,149.4 282.5,149.3 283.5,148.7 283.9,148.9 284.1,149.2 284.4,150.5 284.3,152.1 284.5,153.9 284.3,154.7 283.7,155.8 283.5,156.1 283.1,156.3Z" fill-opacity="0.15"/>
<path d="M251.1,129.5 250.3,129.5 249.5,129.1 249.0,128.7 248.5,127.8 248.1,127.3 247.9,127.3 248.1,127.0 248.3,126.3 248.3,125.1 248.1,124.3 247.7,124.0 247.3,124.1 247.1,124.2 246.1,125.3 245.9,125.7 246.0,126.1 246.3,126.3 247.9,127.3 247.9,127.7 247.6,128.3 247.1,128.7 246.3,128.7 245.6,128.5 245.2,128.1 244.7,127.3 244.3,127.1 242.9,126.7 241.5,126.7 241.0,126.5 240.7,126.1 240.4,125.1 239.9,124.3 240.0,123.9 240.3,123.7 240.7,123.5 243.1,124.6 243.5,124.7 243.9,124.5 244.1,124.1 244.0,122.5 243.9,122.1 243.5,121.9 242.3,122.0 241.9,122.2 240.9,123.1 239.5,123.1 238.5,123.6 238.1,123.6 237.1,123.6 235.9,122.8 235.3,122.7 234.9,122.7 234.3,123.4 233.9,123.6 233.3,123.6 232.9,123.3 232.5,122.9 232.3,122.5 232.3,122.1 232.5,121.3 232.1,120.4 232.0,119.5 232.1,114.0 232.3,113.7 232.7,113.5 233.1,113.4 234.3,114.1 235.3,113.9 236.7,113.9 237.1,113.7 237.6,112.9 237.9,112.8 239.3,113.5 241.1,113.0 241.7,113.1 242.7,113.5 243.9,113.2 244.3,113.4 244.9,114.3 245.3,114.4 247.5,114.1 248.3,114.2 249.5,114.6 251.1,114.4 251.9,114.4 252.5,114.6 253.0,114.9 253.1,115.3 253.1,116.3 253.3,116.6 253.7,116.8 254.1,116.7 254.5,116.5 255.5,115.3 256.9,114.2 258.7,114.3 260.9,114.0 261.5,114.2 262.9,115.4 264.3,116.0 264.6,116.3 265.8,118.5 265.8,119.1 265.6,119.5 264.6,120.3 264.3,120.7 264.1,121.3 264.2,122.1 264.2,122.5 263.3,123.3 263.0,123.7 262.2,125.9 261.8,126.5 260.5,127.2 259.7,127.8 257.9,128.8 257.3,128.9 255.9,128.6 253.1,128.8 252.5,128.9 251.1,129.5Z M283.7,147.5 283.3,147.5 281.5,146.9 279.7,147.0 279.1,146.4 278.8,145.5 278.8,142.5 278.6,140.9 278.8,139.7 279.2,138.7 280.9,136.9 281.5,135.5 281.9,135.3 282.3,135.4 282.7,135.6 283.5,137.3 283.9,137.7 284.9,138.2 285.2,138.5 285.3,138.9 285.2,139.9 284.6,141.3 284.5,141.9 284.7,142.7 285.4,144.5 285.4,145.3 285.1,146.0 284.6,146.9 284.1,147.4 283.7,147.5Z M282.9,156.1 282.3,156.1 281.7,155.8 281.3,155.4 281.0,154.9 280.9,154.1 281.3,152.8 281.3,152.3 280.8,150.5 280.7,150.0 280.9,149.7 282.1,149.5 283.5,149.0 283.9,149.3 284.2,150.1 284.3,150.9 284.2,152.1 284.4,153.3 284.4,153.9 284.2,154.7 283.7,155.5 283.3,156.0 282.9,156.1Z" fill-opacity="0.15"/>
<path d="M251.3,129.3 250.5,129.4 249.7,129.0 249.3,128.7 248.4,127.3 248.3,126.9 248.5,125.5 248.4,124.7 248.2,124.1 247.7,123.8 247.3,123.7 247.1,123.8 246.6,124.5 245.7,125.3 245.6,125.7 245.7,126.1 245.8,126.3 247.1,126.9 247.6,127.3 247.6,127.7 247.5,128.1 247.3,128.4 246.9,128.6 246.3,128.6 245.7,128.4 245.4,128.1 245.1,127.3 244.7,127.0 242.9,126.4 241.5,126.4 241.1,126.2 240.9,125.7 240.8,125.1 240.9,124.7 241.1,124.5 241.9,124.5 243.5,124.9 243.9,124.8 244.3,124.5 244.4,124.1 244.2,122.3 244.1,122.1 243.7,121.8 242.1,121.8 240.9,122.6 239.5,122.8 238.3,123.4 237.9,123.5 237.1,123.4 235.9,122.7 235.1,122.5 234.7,122.5 234.2,123.1 233.9,123.3 233.5,123.4 233.0,123.1 232.6,122.7 232.5,122.3 232.7,121.9 233.2,121.5 232.1,120.2 232.1,119.7 232.1,114.6 232.3,114.1 232.5,113.9 232.9,113.7 233.3,113.8 234.1,114.3 235.5,114.0 236.6,114.1 237.1,113.9 237.9,113.2 238.1,113.2 239.3,113.7 240.7,113.2 241.3,113.2 241.9,113.4 242.9,114.0 243.9,113.6 244.1,113.8 244.5,114.3 244.9,114.5 247.7,114.3 248.3,114.4 249.3,114.9 249.7,115.0 251.1,114.6 252.3,114.7 252.7,114.9 252.9,115.1 253.0,116.3 253.1,116.6 253.3,116.8 253.7,116.9 254.4,116.7 255.5,115.5 257.1,114.4 260.9,114.3 261.5,114.5 262.9,115.6 264.1,116.1 264.5,116.4 265.6,118.5 265.6,119.1 265.4,119.5 264.5,120.2 264.1,120.7 264.0,121.1 264.0,122.3 262.9,123.5 262.1,125.7 261.7,126.3 259.7,127.3 258.9,127.5 258.3,128.3 257.7,128.6 257.3,128.7 255.7,128.4 254.5,128.6 252.7,128.8 251.3,129.3Z M283.9,147.2 283.3,147.3 281.3,146.8 279.7,146.8 279.3,146.5 278.9,145.7 278.9,142.3 278.7,140.9 278.9,139.7 279.4,138.7 280.9,137.1 281.5,135.9 281.9,135.6 282.3,135.7 282.6,135.9 283.3,137.5 283.7,137.9 284.7,138.5 285.0,139.1 284.9,140.1 284.5,141.3 284.4,141.9 285.2,144.5 285.2,145.1 284.7,146.3 284.3,146.9 283.9,147.2Z M282.9,155.9 282.3,155.9 281.9,155.8 281.5,155.5 281.1,154.8 281.0,154.1 281.4,152.9 281.4,152.3 280.9,150.3 281.0,150.1 281.3,149.8 283.5,149.3 283.9,149.6 284.1,150.3 284.1,152.1 284.4,153.7 284.2,154.3 283.8,155.1 283.3,155.7 282.9,155.9Z" fill-opacity="0.15" stroke-opacity="0.65"/>
<path d="M251.5,129.1 250.7,129.2 249.9,129.0 249.5,128.7 248.7,127.5 248.4,126.9 248.6,125.1 248.5,124.4 248.1,123.8 247.5,123.4 247.1,123.4 246.9,123.5 246.3,124.5 245.5,125.1 245.2,125.5 245.3,126.5 246.7,126.8 247.4,127.3 247.4,127.9 247.1,128.3 246.9,128.4 246.3,128.5 245.7,128.2 245.4,127.7 245.3,126.9 245.1,126.7 244.1,126.6 242.9,126.1 241.7,126.1 241.4,125.9 241.3,125.7 241.2,125.3 241.6,124.9 242.1,124.9 243.1,125.2 243.5,125.2 244.3,125.0 244.6,124.7 244.4,122.3 244.2,121.9 243.9,121.8 242.1,121.6 241.7,121.7 240.7,122.4 239.5,122.6 238.3,123.2 237.5,123.4 236.9,123.2 235.7,122.5 234.5,122.1 233.9,121.5 232.9,120.9 232.1,120.0 232.0,119.3 232.1,115.3 232.5,114.3 232.7,114.1 233.1,114.1 233.9,114.5 234.3,114.5 235.3,114.2 236.9,114.1 238.1,113.5 239.3,113.8 240.7,113.3 241.3,113.3 241.9,113.5 242.9,114.3 243.9,114.4 244.7,114.7 245.3,114.7 246.9,114.4 247.9,114.4 248.6,114.7 249.5,115.5 249.9,115.4 251.3,114.9 252.3,114.9 252.7,115.1 252.8,115.3 252.8,116.3 253.0,116.7 253.3,117.0 253.7,117.1 254.5,116.7 255.7,115.4 257.1,114.6 257.7,114.5 260.9,114.6 261.5,114.7 262.9,115.7 264.1,116.2 264.4,116.5 265.5,118.5 265.5,119.1 264.0,120.7 263.7,122.3 262.8,123.5 262.0,125.5 261.6,126.1 261.1,126.4 259.7,126.8 258.5,126.5 258.1,126.6 258.0,126.9 258.2,127.5 258.2,127.9 257.9,128.3 257.7,128.4 257.3,128.5 255.7,128.2 254.3,128.5 252.7,128.7 251.5,129.1Z M233.9,123.0 233.5,123.1 233.1,122.9 232.9,122.5 233.0,122.3 233.3,122.2 233.9,122.4 234.1,122.7 233.9,123.0Z M283.9,146.9 283.3,147.1 281.5,146.7 279.9,146.7 279.3,146.3 279.1,145.7 279.0,143.7 279.1,142.3 278.9,140.9 279.0,139.7 279.7,138.5 281.1,137.1 281.7,136.1 281.9,135.9 282.3,136.0 282.5,136.2 283.3,138.0 284.5,138.9 284.7,139.5 284.7,140.1 284.3,141.3 284.3,141.9 285.0,144.3 285.1,145.1 284.5,146.3 283.9,146.9Z M282.9,155.8 282.3,155.8 281.9,155.6 281.5,155.3 281.2,154.7 281.1,153.9 281.5,152.5 281.1,150.5 281.2,150.1 281.5,149.9 283.3,149.4 283.7,149.6 284.0,150.3 284.0,152.1 284.3,153.7 284.2,154.3 283.8,154.9 283.3,155.6 282.9,155.8Z" fill-opacity="0.15" stroke-opacity="0.65"/>
<path d="M250.9,129.1 250.3,129.0 249.8,128.7 248.7,127.3 248.5,126.7 248.7,124.9 248.6,124.3 248.3,123.8 247.5,123.2 247.1,123.0 246.7,123.1 246.2,124.3 245.7,124.6 245.3,124.7 245.0,124.5 244.7,123.7 244.5,122.1 244.1,121.7 242.5,121.4 241.9,121.4 240.7,122.2 239.4,122.5 238.1,123.2 237.5,123.2 236.9,123.1 234.9,122.1 232.9,120.7 232.1,119.9 232.1,119.3 232.1,115.7 232.5,114.7 232.9,114.4 234.1,114.7 235.5,114.3 236.7,114.3 238.1,113.7 239.1,114.0 239.5,113.9 240.5,113.5 241.1,113.4 241.7,113.6 242.9,114.5 244.3,114.8 245.1,114.8 246.9,114.5 247.9,114.5 248.5,114.8 249.1,115.6 249.5,115.8 250.5,115.6 251.5,115.1 252.1,115.0 252.5,115.3 252.7,116.3 252.8,116.7 253.1,117.0 253.5,117.2 253.9,117.2 254.5,116.8 255.5,115.7 255.9,115.4 257.1,114.8 257.7,114.6 261.3,114.9 264.3,116.6 265.3,118.5 265.3,119.1 263.9,120.7 263.7,122.1 262.7,123.4 261.9,125.3 261.5,125.9 260.9,126.1 258.3,126.2 257.6,126.3 257.4,126.5 257.5,126.7 257.9,127.7 257.7,128.1 257.5,128.2 257.1,128.2 255.7,128.1 254.3,128.4 252.5,128.6 250.9,129.1Z M244.5,126.4 244.1,126.4 243.7,126.2 243.4,125.9 243.4,125.7 244.1,125.4 244.7,125.5 244.8,125.7 244.8,126.1 244.5,126.4Z M246.7,128.3 246.1,128.3 245.7,127.9 245.5,127.3 245.7,126.9 246.1,126.8 246.5,126.9 247.2,127.3 247.3,127.5 247.2,127.9 247.1,128.1 246.7,128.3Z M283.7,146.8 283.1,146.9 281.5,146.6 279.9,146.6 279.5,146.3 279.2,145.5 279.1,143.7 279.2,142.3 279.0,140.9 279.1,139.7 279.5,138.9 280.0,138.3 281.3,137.1 281.9,136.3 282.1,136.3 282.5,136.7 283.1,138.5 283.3,138.7 284.3,139.3 284.5,139.9 284.2,141.9 284.9,144.3 284.9,144.9 284.7,145.5 284.4,146.1 283.7,146.8Z M283.1,155.5 282.5,155.7 281.9,155.5 281.4,154.9 281.2,154.1 281.6,152.5 281.3,150.9 281.3,150.4 281.7,150.0 283.1,149.6 283.5,149.7 283.9,150.3 283.9,152.1 284.2,153.7 283.9,154.7 283.5,155.2 283.1,155.5Z" fill-opacity="0.15" stroke-opacity="0.65"/>
<path d="M251.3,128.9 250.7,129.0 250.1,128.8 249.7,128.4 248.8,127.3 248.6,126.7 248.8,124.7 248.7,124.1 248.3,123.6 247.3,122.8 246.9,122.8 246.5,122.9 246.3,123.1 246.0,124.1 245.5,124.3 245.2,124.1 244.9,123.6 244.7,122.3 244.5,121.8 243.9,121.5 242.1,121.3 241.7,121.4 240.7,122.0 239.3,122.4 238.1,123.0 237.3,123.1 234.9,122.0 232.9,120.5 232.1,119.7 232.0,118.9 232.1,116.0 232.7,114.9 233.1,114.7 234.3,114.8 235.5,114.4 236.9,114.3 238.1,113.9 239.3,114.1 240.5,113.6 241.1,113.5 241.7,113.7 242.7,114.6 244.1,114.9 244.9,115.0 246.9,114.5 247.9,114.6 248.4,114.9 248.9,115.7 249.3,115.9 250.9,115.8 251.7,115.4 252.1,115.4 252.3,115.5 252.6,116.7 253.1,117.2 253.5,117.4 253.9,117.3 254.5,116.9 255.5,115.8 255.9,115.5 257.3,114.9 257.9,114.8 260.1,115.1 261.3,115.1 263.9,116.4 264.2,116.7 265.2,118.5 265.1,119.1 263.9,120.5 263.7,120.9 263.5,122.1 262.6,123.3 261.9,125.0 261.5,125.6 260.9,125.9 259.7,125.7 258.7,125.9 256.5,126.0 256.5,126.1 257.4,127.3 257.4,127.7 257.3,127.9 255.7,127.8 254.3,128.3 252.5,128.5 251.3,128.9Z M246.7,128.2 246.3,128.2 245.9,127.9 245.7,127.5 245.9,127.1 246.5,127.0 247.0,127.3 247.1,127.8 246.7,128.2Z M283.7,146.5 283.1,146.7 280.1,146.5 279.7,146.3 279.4,145.7 279.2,143.7 279.3,142.1 279.1,140.9 279.2,139.9 279.5,139.1 280.1,138.3 281.9,136.8 282.1,136.8 282.3,137.0 283.1,138.9 284.1,139.5 284.3,139.9 284.4,140.3 284.1,141.3 284.1,141.9 284.6,143.9 284.8,144.7 284.4,145.7 283.7,146.5Z M282.7,155.5 282.3,155.5 281.9,155.3 281.5,154.9 281.3,154.5 281.3,153.9 281.6,152.5 281.4,150.7 281.5,150.3 281.8,150.1 283.1,149.8 283.5,149.9 283.8,150.5 283.8,152.1 284.1,153.7 284.0,154.3 283.6,154.9 283.1,155.4 282.7,155.5Z" fill-opacity="0.15" stroke-opacity="0.65"/>
<path d="M251.5,128.7 250.9,128.8 250.3,128.7 249.7,128.2 248.9,127.3 248.7,126.9 248.7,126.5 248.9,124.7 248.9,124.1 248.5,123.5 247.3,122.6 246.9,122.6 246.3,122.7 246.0,123.1 245.8,123.7 245.5,123.8 245.1,123.4 244.9,122.3 244.6,121.7 243.9,121.4 241.9,121.2 241.5,121.3 240.5,121.9 239.3,122.3 238.1,122.9 237.3,123.0 235.1,122.0 233.1,120.6 232.1,119.6 232.1,119.3 232.1,116.3 232.7,115.2 233.1,114.9 234.3,114.9 235.5,114.4 236.9,114.4 238.1,114.0 239.1,114.3 239.5,114.3 240.5,113.8 241.1,113.7 241.7,113.9 242.7,114.7 244.2,115.1 244.9,115.1 246.7,114.6 247.7,114.7 248.3,115.0 248.9,115.9 249.1,116.1 251.1,116.2 251.9,116.1 252.7,117.1 253.1,117.4 253.5,117.5 253.9,117.4 254.5,117.1 255.5,115.9 255.9,115.6 257.9,114.9 258.7,115.0 259.9,115.3 261.1,115.2 261.5,115.3 263.7,116.5 264.1,116.8 265.0,118.5 265.0,119.1 263.8,120.5 263.4,122.1 262.5,123.3 261.5,125.3 260.9,125.6 259.7,125.2 258.7,125.6 257.7,125.7 257.1,125.6 256.1,124.9 255.5,124.9 255.3,125.3 255.5,125.8 255.9,126.5 256.7,127.3 256.5,127.4 255.7,127.5 254.3,128.2 252.5,128.4 251.5,128.7Z M246.7,128.0 246.3,128.0 246.1,127.9 246.0,127.5 246.1,127.2 246.5,127.2 246.8,127.3 246.9,127.7 246.7,128.0Z M283.1,146.5 280.1,146.4 279.7,146.1 279.4,145.5 279.3,143.7 279.4,142.1 279.2,140.7 279.4,139.7 279.7,138.9 280.3,138.2 281.1,137.6 281.9,137.2 282.3,137.6 282.9,139.0 283.9,139.6 284.2,140.1 284.0,141.7 284.5,143.9 284.6,144.7 284.4,145.3 283.9,146.1 283.5,146.4 283.1,146.5Z M282.9,155.3 282.5,155.4 282.1,155.3 281.7,155.0 281.4,154.5 281.4,153.9 281.7,152.5 281.5,150.9 281.6,150.5 281.9,150.2 282.5,150.0 283.1,149.9 283.5,150.1 283.7,150.5 283.8,152.1 284.0,153.7 283.7,154.6 283.3,155.1 282.9,155.3Z" fill-opacity="0.15" stroke-opacity="0.65"/>
<path d="M251.1,128.7 250.5,128.6 250.1,128.4 248.9,127.2 248.8,126.5 249.1,124.7 249.1,124.1 248.7,123.5 247.5,122.5 247.1,122.4 246.5,122.5 245.5,122.9 245.3,122.7 244.9,121.9 244.4,121.5 241.9,121.1 241.5,121.2 240.5,121.8 239.3,122.2 238.1,122.8 237.3,122.9 235.3,122.0 233.3,120.6 232.1,119.5 232.1,116.5 232.7,115.5 233.1,115.1 234.3,115.0 235.5,114.5 236.9,114.5 238.1,114.1 239.3,114.5 240.5,113.9 241.1,113.8 241.5,113.9 242.5,114.7 244.3,115.2 244.9,115.2 246.7,114.7 247.7,114.8 248.2,115.1 248.9,116.1 249.3,116.3 250.5,116.3 251.9,116.7 253.3,117.7 253.7,117.6 254.5,117.2 255.9,115.8 257.9,115.1 258.7,115.1 259.7,115.6 260.9,115.4 261.5,115.5 263.7,116.6 264.0,116.9 264.8,118.3 264.9,118.7 264.9,119.1 263.7,120.5 263.2,122.1 262.5,123.1 261.7,124.8 261.3,125.3 260.7,125.3 259.9,124.9 259.5,124.8 258.5,125.4 257.7,125.5 257.1,125.3 256.1,124.6 255.5,124.5 255.2,124.7 255.0,125.1 255.6,126.9 255.2,127.5 254.1,128.1 252.5,128.3 251.1,128.7Z M257.5,117.1 258.1,116.9 258.2,116.7 257.9,116.5 257.4,116.5 257.2,116.9 257.5,117.1Z M246.5,127.7 246.4,127.7 246.3,127.5 246.6,127.5 246.5,127.7Z M283.3,146.3 282.1,146.4 280.3,146.3 279.9,146.1 279.6,145.5 279.4,143.7 279.5,142.3 279.3,140.9 279.4,140.1 279.6,139.3 280.1,138.5 280.7,138.0 281.5,137.5 281.9,137.5 282.1,137.7 282.8,139.1 283.9,139.9 284.1,140.3 283.9,141.7 284.4,143.5 284.5,144.5 284.1,145.5 283.7,146.0 283.3,146.3Z M282.9,155.2 282.3,155.2 281.9,155.0 281.6,154.7 281.5,154.1 281.8,152.5 281.6,150.7 282.0,150.3 282.9,150.0 283.3,150.1 283.6,150.5 283.7,152.1 284.0,153.7 283.7,154.5 283.3,155.0 282.9,155.2Z" fill-opacity="0.15" stroke-opacity="0.65"/>
<path d="M251.5,128.5 250.9,128.6 250.3,128.4 249.1,127.3 248.9,126.9 248.8,126.5 249.3,124.5 249.3,123.9 247.5,122.3 247.1,122.3 245.7,122.4 244.5,121.4 242.1,121.0 241.4,121.1 240.3,121.7 237.7,122.8 236.9,122.7 235.1,121.8 233.1,120.3 232.1,119.3 232.1,116.8 232.7,115.7 232.9,115.5 233.3,115.2 234.3,115.1 235.5,114.6 236.9,114.6 238.1,114.3 238.5,114.4 239.3,114.7 240.3,114.1 240.9,113.9 241.5,114.1 242.3,114.7 242.7,114.9 244.3,115.4 244.9,115.4 246.7,114.8 247.7,114.9 248.1,115.1 248.7,116.1 248.9,116.3 250.7,116.5 252.1,117.1 253.3,117.9 253.7,117.8 254.5,117.3 255.9,115.9 257.1,115.7 257.7,115.3 258.1,115.2 258.6,115.3 258.9,115.5 259.1,115.9 258.9,116.2 258.5,116.3 257.3,116.1 257.1,116.3 257.0,116.7 257.1,117.2 257.5,117.3 258.1,117.1 259.0,116.7 260.1,115.9 261.1,115.6 261.9,115.8 263.9,117.0 264.7,118.3 264.8,118.7 264.7,119.1 263.6,120.5 263.2,121.9 262.4,123.1 261.7,124.5 261.3,125.0 261.1,125.1 260.7,125.1 259.9,124.6 259.5,124.5 258.5,125.2 257.7,125.3 257.1,125.1 256.1,124.4 255.3,124.3 255.0,124.5 254.7,124.9 254.7,125.3 255.2,126.7 255.1,127.1 254.8,127.5 253.9,128.0 252.5,128.2 251.5,128.5Z M250.8,123.7 251.0,123.3 250.9,123.0 250.5,123.1 250.3,123.5 250.3,123.7 250.5,123.8 250.8,123.7Z M282.5,146.3 280.9,146.3 280.1,146.1 279.8,145.7 279.5,143.9 279.6,142.1 279.4,140.7 279.6,139.7 279.9,138.9 280.3,138.4 280.9,137.9 281.5,137.7 282.0,137.9 282.7,139.2 283.8,140.1 283.9,140.5 283.8,141.9 284.3,143.9 284.3,144.7 283.7,145.7 283.3,146.1 282.5,146.3Z M282.7,155.1 282.3,155.1 281.9,154.9 281.6,154.5 281.6,154.1 281.9,152.5 281.7,151.1 281.8,150.7 282.2,150.3 282.9,150.2 283.3,150.3 283.5,150.7 283.6,152.1 283.9,153.7 283.8,154.1 283.5,154.6 283.1,155.0 282.7,155.1Z" fill-opacity="0.15" stroke-opacity="0.65"/>
</g>
<rect x="244" y="160.4" width="25.0" height="2.9" fill="#000"/>
<rect x="273.6" y="160.4" width="13.4" height="2.9" fill="#000"/>
<rect x="232.1" y="110" width="2.1" height="23.0" fill="#000"/>
<rect x="232.2" y="102.2" width="13.1" height="7.1" fill="#fff"/>
<text x="232.7" y="108.10000000000001" text-anchor="start" style="font-size:5.4px;" fill="#000" stroke="#000" stroke-width="0.16">67.6</text>
<rect x="278.4" y="102.2" width="13.8" height="7.1" fill="#fff"/>
<text x="291.1" y="108.10000000000001" text-anchor="end" style="font-size:5.4px;" fill="#000" stroke="#000" stroke-width="0.16">2.83</text>
<rect x="232.2" y="157.1" width="13.1" height="6.0" fill="#fff"/>
<path d="M232.2,157.1 H245.3 V163.1" fill="none" stroke="#000" stroke-width="0.45"/>
<text x="232.7" y="162.10000000000002" text-anchor="start" style="font-size:5.4px;" fill="#000" stroke="#000" stroke-width="0.16">16.6</text>
<rect x="284.3" y="157.1" width="7.9" height="6.0" fill="#fff"/>
<path d="M284.3,163.1 V157.1 H292.2" fill="none" stroke="#000" stroke-width="0.45"/>
<text x="291.1" y="162.10000000000002" text-anchor="end" style="font-size:5.4px;" fill="#000" stroke="#000" stroke-width="0.16">13</text>
<line x1="245.26399999999998" y1="102.7" x2="278.436" y2="102.7" stroke="#000" stroke-width="0.6"/>
<line x1="292.5" y1="102.7" x2="292.5" y2="163.3" stroke="#333" stroke-width="0.6"/>
<line x1="232.1" y1="102.4" x2="232.1" y2="163.70000000000002" stroke="#000" stroke-width="0.9"/>
<line x1="231.7" y1="163.3" x2="292.8" y2="163.3" stroke="#000" stroke-width="0.9"/>
<clipPath id="cp6"><rect x="305.5" y="102.7" width="61.2" height="60.6"/></clipPath>
<text x="302.9" y="103.1" text-anchor="end" style="font-size:2.5px;font-weight:normal" fill="#444">10<tspan dy="-0.9" style="font-size:1.9px">4</tspan></text>
<text x="305.7" y="168.3" text-anchor="middle" style="font-size:2.5px;font-weight:normal" fill="#444">10<tspan dy="-0.9" style="font-size:1.9px">0</tspan></text>
<line x1="303.3" y1="102.7" x2="305.5" y2="102.7" stroke="#666" stroke-width="0.35"/>
<line x1="305.5" y1="163.3" x2="305.5" y2="165.3" stroke="#666" stroke-width="0.35"/>
<text x="302.9" y="118.3" text-anchor="end" style="font-size:2.5px;font-weight:normal" fill="#444">10<tspan dy="-0.9" style="font-size:1.9px">3</tspan></text>
<text x="321.0" y="168.3" text-anchor="middle" style="font-size:2.5px;font-weight:normal" fill="#444">10<tspan dy="-0.9" style="font-size:1.9px">1</tspan></text>
<line x1="303.3" y1="117.85000000000001" x2="305.5" y2="117.85000000000001" stroke="#666" stroke-width="0.35"/>
<line x1="320.8" y1="163.3" x2="320.8" y2="165.3" stroke="#666" stroke-width="0.35"/>
<text x="302.9" y="133.4" text-anchor="end" style="font-size:2.5px;font-weight:normal" fill="#444">10<tspan dy="-0.9" style="font-size:1.9px">2</tspan></text>
<text x="336.3" y="168.3" text-anchor="middle" style="font-size:2.5px;font-weight:normal" fill="#444">10<tspan dy="-0.9" style="font-size:1.9px">2</tspan></text>
<line x1="303.3" y1="133.0" x2="305.5" y2="133.0" stroke="#666" stroke-width="0.35"/>
<line x1="336.1" y1="163.3" x2="336.1" y2="165.3" stroke="#666" stroke-width="0.35"/>
<text x="302.9" y="148.6" text-anchor="end" style="font-size:2.5px;font-weight:normal" fill="#444">10<tspan dy="-0.9" style="font-size:1.9px">1</tspan></text>
<text x="351.6" y="168.3" text-anchor="middle" style="font-size:2.5px;font-weight:normal" fill="#444">10<tspan dy="-0.9" style="font-size:1.9px">3</tspan></text>
<line x1="303.3" y1="148.15" x2="305.5" y2="148.15" stroke="#666" stroke-width="0.35"/>
<line x1="351.4" y1="163.3" x2="351.4" y2="165.3" stroke="#666" stroke-width="0.35"/>
<text x="302.9" y="163.7" text-anchor="end" style="font-size:2.5px;font-weight:normal" fill="#444">10<tspan dy="-0.9" style="font-size:1.9px">0</tspan></text>
<text x="366.9" y="168.3" text-anchor="middle" style="font-size:2.5px;font-weight:normal" fill="#444">10<tspan dy="-0.9" style="font-size:1.9px">4</tspan></text>
<line x1="303.3" y1="163.3" x2="305.5" y2="163.3" stroke="#666" stroke-width="0.35"/>
<line x1="366.7" y1="163.3" x2="366.7" y2="165.3" stroke="#666" stroke-width="0.35"/>
<line x1="334.3" y1="102.7" x2="334.3" y2="163.3" stroke="#000" stroke-width="0.6"/>
<line x1="305.5" y1="133.4" x2="366.7" y2="133.4" stroke="#000" stroke-width="0.6"/>
<g clip-path="url(#cp6)" stroke="#000" stroke-width="0.55" stroke-linejoin="round" fill="#000">
<path d="M321.7,159.3 321.1,159.4 320.3,158.9 319.7,158.8 316.3,158.7 314.5,159.0 313.9,158.9 311.9,158.1 311.5,158.1 310.1,158.4 309.3,158.3 307.5,157.1 306.8,155.5 306.7,154.5 307.4,153.3 307.5,152.9 307.5,152.3 307.3,151.7 306.9,151.3 305.5,151.1 305.4,149.3 305.3,140.1 305.4,135.1 305.5,131.9 306.9,131.7 307.9,130.8 309.9,130.1 310.2,129.9 310.2,129.7 309.6,128.7 309.2,127.5 308.9,127.3 307.9,127.2 307.4,126.9 307.1,126.5 306.7,125.7 305.7,124.7 305.5,124.3 305.5,123.9 306.0,122.5 306.0,122.1 305.6,121.1 305.7,120.7 306.5,119.5 306.5,119.3 306.3,119.1 305.5,118.8 305.4,118.1 305.3,112.5 305.4,107.5 305.5,107.0 306.9,106.3 308.7,105.7 310.1,105.0 310.9,105.1 312.3,105.6 314.9,106.2 315.7,106.3 317.7,106.1 320.1,106.5 322.1,107.5 322.5,107.4 323.5,106.7 324.5,106.6 325.7,106.8 326.9,107.6 327.3,107.8 327.7,107.8 329.3,107.4 330.5,107.6 331.9,108.0 333.3,108.7 334.5,109.0 335.0,109.3 335.4,109.9 335.3,110.9 335.4,111.3 336.2,112.5 336.5,113.1 336.5,113.5 336.1,114.1 334.3,116.1 333.5,116.7 332.3,117.3 330.7,118.2 329.9,118.5 328.1,118.5 326.5,119.0 325.4,119.1 325.0,119.3 324.6,120.7 323.7,121.7 323.5,122.1 323.6,122.5 324.1,123.1 325.6,124.1 325.9,124.5 326.0,124.9 325.4,126.1 325.1,127.5 324.5,128.1 322.7,128.8 320.7,128.9 320.3,129.1 320.1,129.3 320.0,129.7 320.3,130.3 320.9,131.0 321.5,131.4 321.9,131.5 322.9,131.4 323.5,131.4 324.9,132.2 326.7,132.3 328.9,133.3 330.3,133.6 330.7,133.8 331.7,135.1 332.1,135.5 335.5,137.2 335.8,137.7 336.0,139.1 336.0,139.7 335.5,140.5 335.6,142.1 335.3,142.9 334.7,143.4 333.5,143.4 333.1,143.6 332.9,143.9 333.0,145.1 332.8,145.7 332.5,146.0 331.3,146.4 330.9,146.7 330.6,147.1 330.7,148.1 330.4,148.5 328.8,149.1 328.6,149.3 328.5,149.5 328.6,149.9 329.3,150.7 329.5,151.1 329.4,152.3 329.4,153.5 328.5,155.7 327.9,156.7 327.5,157.1 326.9,157.3 325.5,157.2 324.7,157.3 324.3,157.5 323.1,158.6 321.7,159.3Z M316.8,131.5 317.1,131.3 317.3,131.1 317.4,130.7 317.3,130.2 317.0,129.9 316.7,129.8 315.9,129.9 315.5,130.3 315.4,130.5 315.5,130.9 316.1,131.4 316.8,131.5Z" fill="none"/>
<path d="M315.5,128.9 314.5,128.8 312.3,127.9 311.9,127.6 311.0,126.5 310.5,126.1 309.9,125.8 308.5,125.8 308.1,125.6 307.7,125.0 307.5,124.5 307.5,124.1 307.9,123.5 308.3,123.3 309.3,123.4 309.6,123.3 309.5,122.1 310.2,120.9 310.1,120.7 309.5,120.3 308.3,119.8 307.8,119.1 307.4,118.7 305.5,118.2 305.3,114.5 305.4,109.9 305.5,107.8 307.3,106.8 310.3,106.1 310.9,106.1 312.9,106.7 314.4,106.9 318.1,107.0 320.5,107.4 322.1,108.0 322.7,107.9 323.7,107.4 324.3,107.3 325.3,107.6 326.9,108.3 327.5,108.4 328.9,108.1 329.5,108.2 333.3,109.7 333.8,110.1 334.1,110.5 334.5,111.8 335.3,112.9 335.4,113.3 335.3,113.7 334.8,114.3 334.1,114.8 333.1,115.4 331.8,115.9 331.2,116.7 330.7,117.2 329.9,117.5 328.3,117.5 326.7,118.0 325.9,118.2 324.9,118.0 323.5,117.5 322.9,117.4 322.2,117.7 321.3,118.3 320.5,118.9 320.2,119.3 319.7,120.3 319.8,120.7 321.3,122.0 322.7,124.1 323.7,124.6 324.1,125.0 324.1,125.9 324.0,126.5 323.7,126.8 321.7,127.8 319.3,128.0 317.9,128.8 315.5,128.9Z M316.7,157.7 314.1,157.7 313.3,157.3 312.1,156.1 311.1,155.5 310.1,155.4 308.9,155.6 308.3,155.4 308.0,155.1 307.9,154.7 308.3,152.7 307.8,149.7 307.5,149.4 307.3,149.4 306.3,149.9 305.9,149.9 305.5,149.7 305.5,147.7 305.7,147.1 305.5,146.7 305.4,144.7 305.4,136.5 305.5,133.5 305.9,133.3 307.3,133.1 307.7,132.7 308.5,131.7 309.1,131.4 310.7,131.3 311.5,131.4 312.1,131.7 313.1,132.7 314.7,131.9 315.3,131.9 316.5,132.2 317.1,132.2 317.7,131.8 318.7,130.8 319.1,130.8 319.7,131.2 320.7,132.2 321.3,132.5 323.1,132.5 324.7,133.2 326.5,133.4 328.3,134.0 330.3,135.3 331.5,136.6 333.2,137.3 333.6,137.7 333.8,138.1 333.7,138.7 333.3,139.5 332.9,140.0 332.1,140.7 331.9,141.1 331.8,141.5 332.0,142.7 331.9,144.1 331.7,145.0 331.2,145.3 329.9,145.8 328.7,146.6 326.9,146.9 326.3,147.5 326.2,148.3 326.7,151.1 326.5,151.7 326.1,151.9 325.1,152.0 324.7,152.2 323.3,153.8 323.0,155.1 322.8,155.5 322.3,156.0 321.7,156.4 320.3,157.2 319.7,157.4 318.1,157.5 316.7,157.7Z" fill="none"/>
<path d="M311.1,119.7 310.7,119.7 310.3,119.5 309.5,118.5 308.3,118.6 305.5,117.7 305.4,114.5 305.5,108.5 306.5,107.6 307.3,107.2 308.3,106.9 310.9,106.9 312.5,107.4 317.5,107.4 319.3,107.9 320.9,107.9 322.3,108.3 322.9,108.2 323.9,107.9 324.3,107.9 326.7,108.7 328.7,108.5 329.5,108.7 332.9,110.3 333.5,110.9 333.6,111.5 333.6,112.5 334.1,113.1 334.1,113.5 332.7,114.5 331.3,115.1 331.0,115.5 330.6,116.3 330.1,116.8 329.5,116.9 328.1,116.9 326.7,117.5 325.9,117.7 325.1,117.6 323.7,117.0 323.1,117.0 322.3,117.2 320.3,118.1 319.5,118.3 317.9,117.8 315.9,117.9 314.9,117.7 314.5,117.8 313.3,119.1 311.1,119.7Z M317.1,128.1 315.9,128.0 314.3,127.6 312.5,126.8 311.6,126.1 311.2,125.3 311.4,123.9 311.1,122.5 311.3,121.9 311.6,121.5 313.5,120.9 314.7,121.0 315.9,120.3 316.5,120.2 317.5,120.5 318.5,121.0 321.1,123.0 321.4,123.7 321.5,124.3 321.2,125.1 320.7,125.9 319.8,126.7 317.7,127.9 317.1,128.1Z M319.7,156.8 317.1,156.7 315.7,156.4 313.7,156.1 311.1,154.8 309.3,154.3 309.0,153.9 309.1,152.5 308.7,151.1 308.7,150.3 308.8,149.9 309.1,149.5 309.9,149.1 309.3,149.0 308.7,148.7 307.1,147.5 306.1,146.3 305.5,145.9 305.4,140.1 305.5,134.6 306.1,134.2 308.1,133.5 308.4,133.3 308.9,132.5 309.4,132.1 310.7,131.9 311.5,132.0 312.2,132.5 312.9,133.8 313.9,132.9 314.7,132.4 315.3,132.4 317.1,132.7 318.7,131.9 319.3,131.9 321.0,133.1 321.5,133.2 322.5,133.0 323.1,133.0 324.7,133.7 328.1,134.6 329.4,135.5 331.1,137.1 332.3,137.8 332.6,138.1 332.7,138.7 332.5,139.3 331.5,140.3 331.1,140.9 330.9,141.9 330.8,143.3 330.7,143.8 330.5,144.1 328.9,145.4 328.1,145.9 325.7,146.4 325.5,146.3 324.9,145.6 324.5,145.3 323.9,145.3 323.6,145.5 323.5,145.9 324.6,147.3 325.1,148.6 325.4,149.7 325.4,150.5 325.1,150.9 324.1,151.7 323.5,152.7 322.6,153.7 322.3,154.9 322.0,155.3 320.7,156.3 319.7,156.8Z M313.7,153.3 313.8,152.9 313.7,152.7 313.5,152.7 313.3,152.9 313.3,153.3 313.5,153.4 313.7,153.3Z" fill="none"/>
<path d="M311.1,119.1 310.7,119.0 310.1,118.3 309.7,118.1 308.1,118.1 306.1,117.6 305.5,117.3 305.4,114.5 305.5,109.2 306.6,107.9 307.5,107.4 308.3,107.3 310.5,107.4 312.5,108.0 314.1,107.7 317.1,107.8 317.9,107.9 319.5,108.3 320.9,108.2 322.7,108.5 324.1,108.3 326.7,108.9 328.7,108.9 329.5,109.1 331.2,109.9 332.3,110.7 332.7,111.1 332.7,111.5 332.2,113.9 330.9,114.9 330.2,116.1 329.7,116.4 328.1,116.4 326.7,117.2 325.9,117.4 325.1,117.3 323.7,116.7 323.1,116.6 322.1,116.9 320.7,117.5 319.9,117.7 318.1,117.4 316.1,117.4 314.6,117.1 314.2,117.3 313.5,118.3 313.1,118.6 312.5,118.9 311.1,119.1Z M316.9,127.3 316.1,127.3 314.3,126.6 313.1,126.4 312.2,125.9 311.9,125.5 311.8,124.9 312.0,122.9 312.3,122.3 312.9,122.1 313.3,122.3 314.7,123.7 315.1,123.8 315.3,123.7 315.5,123.3 315.7,122.1 315.9,121.7 316.3,121.3 316.9,121.3 317.5,121.5 318.0,121.9 318.0,122.1 317.8,123.1 318.1,123.5 318.9,123.7 320.1,123.4 320.6,123.7 320.8,124.3 320.7,124.7 320.4,125.1 318.6,126.5 317.5,127.1 316.9,127.3Z M319.9,156.2 319.1,156.3 318.3,156.2 317.5,155.9 316.5,155.4 315.1,155.4 314.2,155.1 313.9,154.7 314.5,153.3 314.5,152.3 314.1,151.2 313.5,150.7 313.3,151.7 312.5,152.7 312.4,153.1 312.4,154.3 312.1,154.4 311.7,154.4 310.3,153.8 310.0,153.3 310.1,152.1 309.9,151.7 309.4,151.3 309.3,150.7 309.5,150.2 310.8,149.7 311.0,149.3 310.8,148.7 310.3,148.3 309.3,148.2 308.7,148.0 307.7,147.1 306.4,145.9 305.5,145.3 305.4,140.1 305.5,135.4 306.7,134.6 308.7,133.9 309.5,132.8 310.1,132.4 310.9,132.3 311.3,132.4 311.7,132.6 312.2,133.3 312.4,134.3 312.7,134.5 313.1,134.4 314.1,133.1 314.5,132.9 315.1,132.7 315.7,132.8 317.1,133.1 318.5,132.6 318.9,132.5 319.5,132.7 320.3,133.3 320.9,133.6 321.5,133.7 322.5,133.4 323.1,133.4 324.5,134.1 325.0,134.5 325.2,135.7 325.5,136.0 326.0,135.9 326.7,135.2 327.1,135.0 327.7,135.0 328.3,135.2 331.6,138.1 331.9,138.5 331.8,139.1 330.7,140.5 330.1,142.1 328.6,144.5 328.1,145.1 327.5,145.3 326.3,145.5 325.7,145.4 324.7,144.9 324.1,144.9 323.3,145.1 322.7,145.5 322.8,145.9 323.6,147.3 323.8,148.7 324.4,149.9 324.4,150.3 324.2,150.7 323.7,151.3 323.1,152.5 321.7,153.9 321.4,154.9 321.2,155.3 320.5,155.9 319.9,156.2Z M307.9,141.5 308.0,141.3 307.9,141.2 307.7,141.2 307.6,141.3 307.7,141.5 307.9,141.5Z" fill="none"/>
<path d="M312.5,118.5 311.7,118.7 311.1,118.6 309.9,117.8 308.1,117.8 306.2,117.3 305.5,116.9 305.4,114.5 305.5,109.7 306.6,108.3 307.3,107.7 308.3,107.5 310.3,107.7 312.5,108.3 314.1,108.0 316.9,108.0 317.9,108.2 319.5,108.6 320.9,108.4 322.7,108.8 324.3,108.7 326.7,109.1 328.5,109.1 329.1,109.2 330.9,110.1 331.6,110.7 331.9,111.3 332.0,112.3 331.7,113.7 330.7,114.8 330.1,115.7 329.7,116.0 329.3,116.1 327.9,116.0 326.7,116.9 325.9,117.1 325.1,117.0 323.9,116.4 323.5,116.3 322.7,116.4 320.7,117.2 320.1,117.3 318.5,117.1 316.3,117.1 314.9,116.7 314.4,116.7 313.9,117.0 313.2,118.1 312.5,118.5Z M313.3,125.8 312.9,125.7 312.6,125.5 312.3,124.9 312.5,123.5 312.9,123.1 313.5,123.3 313.9,123.7 314.1,124.1 314.0,124.7 313.8,125.3 313.7,125.5 313.3,125.8Z M317.1,126.3 316.5,126.2 316.4,125.9 316.6,124.1 316.7,123.9 317.1,123.9 317.9,124.1 318.5,124.3 319.0,124.7 319.0,125.1 318.5,125.8 317.9,126.1 317.1,126.3Z M319.7,155.7 319.1,155.8 318.3,155.8 317.5,155.4 316.3,154.6 315.1,154.5 314.9,154.1 315.0,152.9 314.9,151.9 314.5,150.9 314.1,150.3 313.7,149.9 313.1,149.7 311.9,150.0 311.3,148.5 311.0,148.1 310.5,147.9 309.5,147.8 308.9,147.6 308.1,146.9 307.0,145.7 306.1,145.1 305.8,144.7 305.7,144.3 305.9,143.1 305.8,142.7 305.5,142.2 305.4,140.7 305.5,136.0 306.3,135.3 307.1,134.8 309.1,134.3 309.3,134.1 309.9,133.1 310.3,132.8 310.9,132.7 311.5,132.9 311.9,133.4 312.2,134.5 312.3,134.7 312.7,134.8 313.3,134.5 314.3,133.3 315.1,133.0 315.7,133.0 317.1,133.6 317.5,133.5 318.5,133.1 318.9,133.1 320.3,133.8 321.1,134.0 321.7,134.0 322.7,133.8 323.1,133.8 323.7,134.0 324.4,134.5 324.6,134.9 324.9,135.9 325.4,136.3 325.9,136.3 326.9,135.6 327.3,135.4 327.7,135.4 328.3,135.7 328.9,136.2 330.0,137.3 331.1,138.7 331.0,139.3 330.4,140.3 329.8,141.9 328.5,143.5 327.3,144.6 326.3,144.9 324.5,144.5 322.7,144.9 321.5,144.7 321.3,144.9 321.2,145.3 321.4,145.7 322.7,146.9 323.1,147.7 323.1,149.1 322.9,149.7 322.7,149.9 321.9,150.1 321.5,150.5 321.7,150.8 322.7,151.1 322.8,151.3 322.9,151.7 322.7,152.3 322.3,152.7 320.6,153.7 320.5,153.9 320.6,154.7 320.5,155.1 320.1,155.5 319.7,155.7Z M308.1,141.7 308.3,141.5 308.3,141.3 308.1,141.0 307.7,140.9 307.3,141.1 307.2,141.5 307.3,141.7 307.7,141.8 308.1,141.7Z M315.5,147.9 315.9,147.6 316.1,147.1 316.0,146.7 315.7,146.5 315.3,146.6 315.0,147.1 315.1,147.8 315.3,147.9 315.5,147.9Z M319.0,147.7 319.3,147.5 319.1,147.3 318.5,147.1 318.1,147.3 318.1,147.5 318.3,147.7 319.0,147.7Z M311.5,152.9 311.3,153.0 311.1,152.9 311.0,152.7 310.9,150.9 311.3,150.4 311.9,150.1 312.5,150.9 312.7,151.5 312.5,151.9 311.5,152.9Z" fill="none"/>
<path d="M312.1,118.3 311.3,118.3 309.9,117.6 308.1,117.6 306.1,116.9 305.5,116.5 305.4,114.5 305.5,110.2 306.7,108.5 307.5,107.9 308.3,107.7 310.5,107.9 312.5,108.5 314.1,108.3 316.1,108.3 317.9,108.4 319.5,108.8 321.1,108.6 323.3,109.0 326.7,109.3 328.3,109.3 328.9,109.4 330.7,110.4 331.1,110.7 331.5,111.3 331.6,112.3 331.4,113.5 330.1,115.3 329.5,115.8 327.9,115.8 326.7,116.6 325.9,116.8 325.1,116.7 323.7,116.0 323.1,116.1 320.9,116.8 320.1,117.0 318.7,116.8 316.5,116.8 314.7,116.4 314.1,116.4 313.7,116.6 313.0,117.9 312.7,118.1 312.1,118.3Z M317.7,125.3 317.5,125.1 317.5,124.8 317.7,124.7 318.0,124.9 318.0,125.1 317.7,125.3Z M319.1,155.3 318.3,155.3 317.7,155.1 315.8,153.5 315.5,152.9 314.9,150.7 314.3,149.8 313.7,149.5 312.3,149.1 311.9,148.7 311.4,147.9 311.1,147.6 309.5,147.4 308.9,147.1 308.3,146.5 307.5,145.2 306.7,144.7 306.4,144.3 306.3,142.3 306.2,142.1 305.5,141.6 305.4,139.5 305.5,137.2 305.6,136.7 306.1,135.9 307.1,135.1 307.9,134.8 309.1,134.7 309.5,134.5 310.1,133.5 310.7,133.1 311.1,133.1 311.4,133.3 312.0,134.7 312.5,135.0 312.9,134.9 313.3,134.7 314.3,133.6 315.1,133.2 315.7,133.3 317.1,133.9 318.7,133.6 321.1,134.3 323.1,134.1 323.7,134.4 324.1,134.7 324.6,135.9 325.3,136.5 325.7,136.6 326.0,136.5 327.3,135.8 327.7,135.8 328.3,136.0 329.6,137.3 330.4,138.7 330.4,139.3 329.7,141.5 328.7,142.7 328.1,143.3 326.7,143.7 325.9,144.1 324.5,144.2 323.1,144.6 322.5,144.7 321.3,144.4 321.1,144.5 320.9,144.9 320.9,146.3 320.6,146.7 319.7,146.9 318.1,146.6 317.6,146.7 317.3,146.9 317.2,147.1 317.4,147.7 317.8,148.3 318.1,148.5 319.1,148.2 320.5,148.1 321.7,147.5 322.2,147.7 322.5,148.3 322.5,148.7 322.3,149.1 321.2,149.9 320.6,150.7 320.6,150.9 320.8,151.1 322.1,151.7 322.1,152.1 321.8,152.5 321.3,152.8 320.7,152.9 319.9,152.8 319.5,153.0 319.4,153.5 319.8,154.3 319.9,154.7 319.6,155.1 319.1,155.3Z M308.2,141.9 308.5,141.5 308.3,141.1 308.1,140.9 307.7,140.7 307.3,140.9 306.9,141.5 306.9,141.9 307.5,142.0 308.2,141.9Z M315.8,148.3 316.7,147.3 316.8,146.9 316.3,146.4 315.7,146.2 315.3,146.3 314.9,146.6 314.7,147.1 314.7,147.5 314.8,148.1 315.1,148.4 315.5,148.5 315.8,148.3Z" fill="none"/>
<path d="M312.3,118.0 311.5,118.0 309.9,117.5 308.3,117.4 307.1,116.8 306.1,116.6 305.5,116.2 305.4,114.5 305.5,111.1 305.8,110.3 306.4,109.3 307.0,108.5 307.5,108.1 308.3,107.9 310.1,108.1 312.7,108.7 314.3,108.5 317.7,108.6 319.5,109.0 321.3,108.8 323.7,109.5 325.1,109.4 326.7,109.5 328.3,109.4 328.9,109.6 330.5,110.6 330.9,110.9 331.2,111.5 331.3,112.3 331.1,113.5 330.1,115.0 329.5,115.5 329.1,115.6 327.9,115.5 327.5,115.7 326.7,116.4 325.9,116.6 325.1,116.5 324.1,115.8 323.7,115.6 320.9,116.5 320.1,116.7 316.7,116.6 314.7,116.1 313.9,116.1 313.4,116.3 312.9,117.5 312.7,117.8 312.3,118.0Z M314.7,149.1 314.5,149.2 314.1,149.1 312.6,148.7 312.2,148.3 311.7,147.5 311.3,147.2 309.9,147.1 309.3,146.9 308.8,146.3 308.1,144.9 306.9,143.9 306.7,143.1 306.9,142.5 307.2,142.3 308.3,142.0 308.5,141.8 308.6,141.5 308.3,140.9 307.7,140.6 307.2,140.7 306.3,141.5 305.9,141.5 305.5,141.2 305.5,138.4 306.0,136.7 306.8,135.7 307.7,135.2 309.5,134.9 310.0,134.5 310.7,133.6 310.9,133.5 311.2,133.7 311.7,134.7 312.1,135.0 312.5,135.1 313.3,134.9 314.5,133.7 315.3,133.5 315.7,133.6 316.7,134.1 317.1,134.2 318.7,134.0 321.3,134.6 323.1,134.4 323.5,134.6 323.9,134.9 324.6,136.1 325.3,136.7 325.9,136.7 327.1,136.1 327.5,136.1 328.1,136.2 328.9,136.9 329.8,138.3 330.0,138.9 330.0,139.3 329.4,141.5 328.3,142.8 327.7,143.1 326.1,143.4 323.1,144.5 322.5,144.5 321.5,144.1 321.1,144.2 320.7,144.7 320.4,146.1 319.9,146.5 319.3,146.5 318.1,146.2 316.9,146.2 315.9,145.9 315.3,146.0 314.7,146.5 314.5,147.1 314.4,147.9 314.7,149.1Z M318.5,154.9 317.7,154.7 317.0,154.1 315.9,152.7 315.4,151.5 315.3,150.5 315.3,149.7 315.9,149.2 316.3,148.5 316.7,148.2 316.9,148.2 317.1,148.5 317.1,149.3 317.3,149.7 317.8,150.1 318.5,150.3 318.8,150.3 318.5,149.5 318.5,149.1 318.9,148.7 319.7,148.5 321.4,148.7 321.3,149.1 320.5,150.1 320.1,150.4 319.3,150.6 319.1,150.7 319.8,151.9 319.3,152.4 318.9,153.1 319.1,154.5 318.9,154.8 318.5,154.9Z" fill="none"/>
<path d="M312.3,117.6 311.7,117.7 310.1,117.3 308.5,117.2 307.9,117.0 307.1,116.3 306.1,116.3 305.5,115.9 305.5,111.6 305.8,111.1 306.0,110.3 306.3,109.7 306.9,108.9 307.5,108.3 308.1,108.1 308.9,108.1 310.7,108.3 312.5,108.8 314.3,108.7 316.3,108.8 317.7,108.8 319.7,109.2 321.3,108.9 322.5,109.3 323.7,109.9 325.1,109.6 328.1,109.6 328.7,109.7 330.3,110.7 330.7,111.1 331.0,111.7 331.0,112.5 330.8,113.5 330.4,114.3 329.8,115.1 329.1,115.4 328.1,115.3 327.7,115.3 326.7,116.2 326.3,116.4 325.7,116.4 325.3,116.3 323.9,115.3 323.5,115.4 322.1,116.0 320.1,116.5 316.9,116.5 314.5,115.9 313.7,115.9 312.6,116.1 312.6,116.3 312.7,117.1 312.3,117.6Z M313.7,148.5 313.1,148.4 312.7,148.2 312.1,147.1 311.7,146.8 309.7,146.5 309.3,146.1 308.5,144.6 307.2,143.7 307.1,143.1 307.2,142.7 307.4,142.5 308.5,142.1 308.7,141.7 308.7,141.3 308.3,140.8 307.9,140.5 307.5,140.5 307.1,140.6 306.3,141.2 305.9,141.1 305.5,140.9 305.5,138.9 306.3,136.9 306.7,136.3 307.3,135.8 307.9,135.5 309.5,135.1 310.7,134.3 310.9,134.3 311.9,135.1 312.3,135.3 312.9,135.2 313.5,134.9 314.7,133.9 315.3,133.7 317.1,134.4 318.7,134.3 321.5,134.8 323.1,134.7 323.7,135.0 324.5,136.3 325.3,136.8 325.9,136.9 327.1,136.4 327.7,136.4 328.3,136.7 328.9,137.3 329.6,138.5 329.6,139.5 329.2,141.3 328.8,141.9 328.1,142.6 327.3,143.0 325.5,143.3 323.1,144.3 322.5,144.3 321.5,143.9 321.1,144.0 320.6,144.5 320.2,145.9 319.7,146.2 319.1,146.2 317.7,145.8 315.9,145.7 315.3,145.8 314.8,146.1 314.4,146.5 314.2,147.1 314.0,148.3 313.7,148.5Z M319.9,150.0 319.5,150.0 319.1,149.7 319.0,149.3 319.1,149.1 319.7,148.9 320.4,149.1 320.4,149.5 319.9,150.0Z M318.3,154.3 317.9,154.3 317.3,153.9 316.4,152.9 315.9,152.1 315.6,151.3 315.7,150.7 315.9,150.3 316.3,150.0 316.9,149.9 317.9,150.4 318.6,150.9 319.1,151.5 319.1,152.1 318.6,153.1 318.5,154.1 318.3,154.3Z" fill="none"/>
<path d="M311.7,117.2 310.9,117.2 308.7,117.1 308.0,116.7 307.5,115.9 307.3,115.7 306.3,116.0 305.9,115.9 305.5,115.7 305.5,111.9 306.0,111.3 306.2,110.3 306.7,109.5 307.1,108.9 307.7,108.4 308.5,108.3 310.1,108.4 312.7,109.0 314.5,108.9 316.3,109.1 317.9,108.9 319.7,109.3 321.3,109.1 322.3,109.4 323.7,110.2 325.3,109.7 328.1,109.7 328.7,109.9 330.2,110.9 330.6,111.3 330.8,111.7 330.8,112.5 330.6,113.5 330.2,114.3 329.7,114.9 329.1,115.2 328.1,115.1 327.7,115.1 326.7,116.0 326.3,116.2 325.7,116.3 325.3,116.1 323.9,115.0 323.5,115.1 322.1,115.9 320.1,116.2 317.1,116.3 314.4,115.7 312.5,115.7 312.1,115.9 311.9,116.3 311.9,116.9 311.7,117.2Z M313.5,147.8 313.1,147.7 312.7,146.9 312.3,146.5 311.3,145.9 311.1,145.3 310.9,145.2 310.1,145.2 309.7,145.1 308.7,144.2 307.5,143.5 307.4,143.1 307.5,142.8 308.5,142.3 308.8,141.9 308.8,141.3 308.3,140.7 307.9,140.4 307.5,140.3 306.1,140.9 305.7,140.7 305.6,140.5 305.5,139.6 306.3,137.5 306.7,136.9 307.8,135.9 308.3,135.7 309.5,135.3 310.7,134.8 311.1,134.8 312.1,135.4 312.9,135.3 313.7,134.9 314.7,134.1 315.3,134.0 317.1,134.6 318.9,134.6 321.5,135.0 323.1,134.9 323.5,135.2 324.3,136.3 325.3,137.0 325.9,137.1 327.1,136.6 327.5,136.6 328.1,136.8 328.8,137.5 329.2,138.3 329.4,138.9 329.1,140.9 328.8,141.7 327.9,142.5 327.3,142.8 325.5,143.1 323.1,144.1 322.5,144.1 321.5,143.7 321.1,143.8 320.5,144.3 320.1,145.5 319.7,145.9 319.1,146.0 317.5,145.5 315.9,145.5 315.3,145.6 314.7,146.0 314.1,146.5 313.7,147.6 313.5,147.8Z M317.9,153.7 317.5,153.6 317.1,153.3 316.4,152.5 316.1,151.9 315.9,151.3 315.9,150.9 316.2,150.5 316.5,150.3 316.9,150.3 317.7,150.6 318.5,151.1 318.8,151.5 318.8,151.9 318.7,152.3 318.1,153.6 317.9,153.7Z" fill-opacity="0.15"/>
<path d="M311.1,117.0 309.7,117.1 308.5,116.8 308.1,116.5 307.6,115.3 307.3,115.1 306.7,115.6 306.3,115.7 305.9,115.7 305.5,115.4 305.5,112.2 306.3,111.5 306.4,110.3 306.8,109.5 307.3,108.9 307.9,108.5 308.5,108.4 309.3,108.4 310.9,108.7 312.5,109.1 314.5,109.1 316.1,109.3 317.7,109.1 319.7,109.4 320.9,109.2 321.5,109.2 322.3,109.5 323.3,110.3 323.7,110.5 324.1,110.4 325.3,109.9 328.1,109.9 328.7,110.1 330.1,111.1 330.5,111.5 330.6,111.9 330.6,112.5 330.4,113.5 330.2,114.1 329.7,114.7 329.1,115.0 328.1,114.8 327.7,114.9 326.7,115.8 326.3,116.0 325.7,116.1 325.3,115.9 323.9,114.8 323.5,114.9 322.5,115.6 321.9,115.8 320.3,116.0 318.1,116.2 316.7,116.1 314.3,115.5 312.5,115.4 311.9,115.7 311.5,116.7 311.1,117.0Z M313.7,146.4 313.3,146.4 312.3,145.9 311.3,144.7 310.1,144.6 309.7,144.5 308.7,143.8 307.8,143.3 307.8,143.1 307.9,142.9 308.7,142.4 308.9,141.9 308.8,141.3 308.3,140.6 307.5,140.2 307.1,140.2 306.3,140.5 306.1,140.5 305.9,140.3 305.8,139.9 305.8,139.5 306.5,137.6 306.9,137.1 308.3,136.0 310.7,135.1 311.1,135.1 312.1,135.5 312.7,135.5 313.6,135.1 314.7,134.4 315.3,134.2 316.9,134.7 319.5,134.8 321.5,135.1 322.9,135.1 323.3,135.3 324.1,136.3 325.3,137.1 325.9,137.2 327.1,136.8 327.5,136.8 328.1,137.1 328.7,137.7 329.1,138.9 328.9,140.9 328.6,141.7 327.7,142.5 327.1,142.7 325.3,143.0 323.1,144.0 322.5,144.0 321.5,143.6 321.1,143.6 320.5,144.1 319.9,145.4 319.5,145.7 318.9,145.7 317.5,145.2 315.7,145.4 314.9,145.7 313.7,146.4Z M317.9,153.1 317.7,153.2 317.3,153.1 316.4,152.1 316.1,151.3 316.2,150.9 316.5,150.6 316.9,150.5 317.5,150.7 318.2,151.1 318.5,151.5 318.6,151.9 318.5,152.3 317.9,153.1Z" fill-opacity="0.15"/>
<path d="M310.5,116.9 309.3,116.9 308.5,116.6 308.2,116.3 307.7,115.0 307.5,114.8 307.3,114.7 307.1,114.8 306.7,115.3 306.3,115.5 305.9,115.5 305.5,115.1 305.5,112.7 305.7,112.3 306.5,111.7 306.6,110.3 307.0,109.5 307.5,108.9 308.1,108.6 309.5,108.6 310.9,108.8 312.5,109.2 314.5,109.2 316.1,109.5 317.9,109.2 319.7,109.6 321.5,109.4 322.3,109.7 323.3,110.5 323.7,110.7 324.1,110.6 325.3,110.1 327.9,110.0 328.5,110.1 329.9,111.1 330.3,111.5 330.4,111.9 330.5,112.5 330.3,113.5 329.7,114.5 329.1,114.8 328.1,114.6 327.7,114.7 326.7,115.7 326.1,115.9 325.7,115.9 325.3,115.8 324.3,114.9 323.9,114.6 323.5,114.7 322.5,115.4 321.9,115.6 318.1,116.0 316.9,116.0 314.5,115.4 312.5,115.3 311.9,115.5 311.1,116.7 310.5,116.9Z M314.1,145.9 313.5,146.0 312.9,145.8 312.3,145.4 311.7,144.6 311.3,144.3 310.1,144.3 309.6,144.1 308.6,143.1 309.1,141.9 309.0,141.5 308.7,140.9 308.3,140.5 307.7,140.1 307.3,140.1 306.5,140.1 306.3,140.1 306.1,139.9 306.2,138.9 306.6,137.7 307.1,137.2 308.7,136.0 310.7,135.3 312.1,135.7 312.7,135.6 313.5,135.3 314.7,134.6 315.3,134.4 316.9,134.9 319.7,135.0 321.5,135.3 322.9,135.3 323.3,135.6 323.9,136.3 325.5,137.3 326.1,137.4 327.1,137.0 327.5,137.0 328.1,137.3 328.5,137.9 328.8,138.9 328.8,140.9 328.4,141.7 327.7,142.3 326.9,142.6 325.3,142.8 323.1,143.8 322.5,143.8 321.5,143.4 321.1,143.5 320.4,143.9 319.7,145.3 319.3,145.5 317.5,145.0 315.5,145.3 314.1,145.9Z M317.9,152.7 317.7,152.8 317.3,152.7 316.6,152.1 316.4,151.3 316.5,150.9 316.7,150.8 317.1,150.7 317.5,150.9 317.9,151.1 318.3,151.5 318.3,152.1 317.9,152.7Z" fill-opacity="0.15"/>
<path d="M310.7,116.7 309.7,116.8 308.7,116.6 308.2,116.1 307.7,114.7 307.3,114.4 307.1,114.4 306.3,115.2 305.9,115.2 305.7,114.9 305.6,114.5 305.7,112.7 305.9,112.5 306.5,112.2 306.7,111.9 306.7,110.5 307.0,109.7 307.5,109.1 308.1,108.8 309.3,108.7 310.9,108.9 312.5,109.3 314.5,109.4 316.1,109.6 317.9,109.3 319.9,109.7 321.5,109.5 322.3,109.8 323.3,110.7 323.7,110.9 324.1,110.8 325.5,110.2 327.9,110.1 328.5,110.3 329.7,111.2 330.1,111.5 330.3,111.9 330.3,112.5 330.2,113.3 329.9,113.9 329.5,114.4 328.9,114.6 328.1,114.4 327.7,114.4 326.7,115.5 326.1,115.8 325.7,115.8 325.3,115.6 324.3,114.7 323.9,114.4 323.5,114.6 322.7,115.2 322.1,115.5 318.3,115.9 317.1,115.9 314.5,115.3 312.3,115.2 311.7,115.5 311.1,116.5 310.7,116.7Z M313.9,145.7 313.3,145.7 312.7,145.4 311.9,144.5 311.5,144.2 310.3,144.1 309.7,143.9 309.1,143.1 309.1,141.7 308.8,140.9 307.9,140.1 306.7,139.8 306.5,139.7 306.4,138.9 306.7,137.9 307.1,137.5 308.9,136.1 310.7,135.5 311.9,135.8 312.5,135.8 313.5,135.4 314.7,134.7 315.5,134.6 316.9,135.0 319.7,135.1 322.7,135.5 323.1,135.7 324.0,136.5 325.5,137.4 326.1,137.6 327.1,137.3 327.5,137.3 327.9,137.5 328.3,137.9 328.6,138.9 328.6,140.9 328.2,141.7 327.5,142.3 326.9,142.5 325.2,142.7 323.1,143.7 322.5,143.7 321.5,143.3 321.1,143.3 320.2,143.9 319.7,144.9 319.3,145.2 318.9,145.2 318.1,144.8 317.7,144.7 315.3,145.2 313.9,145.7Z M317.9,152.3 317.5,152.5 317.1,152.3 316.7,151.7 316.6,151.3 316.7,151.1 317.1,150.9 317.8,151.3 318.0,151.5 318.1,151.9 317.9,152.3Z" fill-opacity="0.15"/>
<path d="M310.3,116.7 309.3,116.7 308.7,116.5 308.3,115.9 307.7,114.4 307.3,114.1 306.9,114.1 306.3,114.8 306.1,114.9 305.9,114.7 306.1,112.9 306.7,112.5 306.9,112.1 306.8,110.7 307.0,110.1 307.5,109.3 308.3,108.8 309.5,108.8 310.9,109.0 312.7,109.5 314.5,109.5 316.1,109.8 317.9,109.4 319.9,109.8 321.5,109.6 322.2,109.9 323.3,110.9 323.7,111.0 324.1,111.0 325.5,110.3 327.9,110.2 328.5,110.5 329.7,111.3 330.0,111.7 330.2,112.1 330.0,113.3 329.5,114.2 328.9,114.4 327.7,114.1 326.8,115.3 326.1,115.7 325.7,115.7 325.3,115.5 324.1,114.3 323.7,114.3 322.7,115.1 322.1,115.3 318.3,115.8 317.3,115.8 314.5,115.2 312.3,115.0 311.7,115.3 310.9,116.4 310.3,116.7Z M314.1,145.5 313.5,145.5 312.9,145.3 311.7,144.0 310.3,143.9 309.9,143.7 309.4,143.1 309.2,141.7 308.8,140.9 308.1,140.2 306.7,139.5 306.5,139.1 306.6,138.7 306.9,137.9 309.1,136.2 310.7,135.7 311.9,136.0 312.3,135.9 315.1,134.8 316.9,135.1 319.9,135.2 322.7,135.7 323.7,136.5 325.7,137.7 326.1,137.8 327.3,137.5 327.8,137.7 328.1,138.1 328.3,138.7 328.4,140.9 328.2,141.5 327.5,142.1 326.7,142.4 325.1,142.6 323.1,143.6 322.5,143.6 321.5,143.2 321.1,143.2 320.3,143.7 319.9,144.1 319.5,144.7 319.1,144.9 318.9,144.9 318.1,144.3 317.9,144.3 316.7,144.8 315.3,145.0 314.1,145.5Z M317.7,152.0 317.5,152.1 317.2,151.9 317.0,151.5 317.1,151.3 317.3,151.3 317.6,151.5 317.8,151.7 317.7,152.0Z" fill-opacity="0.15" stroke-opacity="0.65"/>
<path d="M310.5,116.5 309.5,116.6 308.7,116.3 308.4,115.9 307.9,114.5 307.0,113.3 307.1,112.3 306.9,110.9 307.0,110.3 307.5,109.5 307.9,109.1 308.3,109.0 309.5,108.9 310.9,109.1 312.5,109.6 314.5,109.7 316.1,109.9 318.1,109.5 320.1,109.9 321.5,109.8 322.1,110.0 323.3,111.1 323.7,111.2 324.2,111.1 325.5,110.5 327.9,110.4 328.3,110.5 329.5,111.3 329.8,111.7 330.0,112.1 329.9,113.1 329.5,114.0 328.9,114.2 327.5,113.8 326.9,115.0 326.5,115.4 326.1,115.6 325.7,115.6 325.3,115.4 324.1,114.2 323.7,114.1 322.7,115.0 322.1,115.2 318.5,115.7 317.5,115.7 314.7,115.1 312.3,114.9 311.6,115.3 310.9,116.3 310.5,116.5Z M314.1,145.3 313.5,145.3 313.0,145.1 312.1,144.1 311.7,143.8 310.5,143.7 310.0,143.5 309.6,142.9 309.3,141.7 308.9,140.9 308.1,140.1 307.0,139.5 306.8,139.3 306.7,138.7 307.1,137.9 309.1,136.4 310.5,135.9 310.9,135.9 311.7,136.2 312.1,136.2 314.5,135.1 315.1,135.0 316.9,135.3 319.9,135.3 322.6,135.9 324.5,137.0 325.9,137.9 326.3,138.0 327.3,137.8 327.8,138.1 327.9,138.5 328.2,140.9 328.0,141.5 327.3,142.1 326.7,142.3 325.1,142.5 323.1,143.5 322.5,143.5 321.5,143.1 321.1,143.1 319.1,144.4 318.5,144.0 318.1,143.9 316.7,144.6 315.3,144.9 314.1,145.3Z" fill-opacity="0.15" stroke-opacity="0.65"/>
<path d="M310.1,116.5 309.3,116.5 308.7,116.1 307.9,114.3 307.4,113.5 307.2,113.1 307.1,110.9 307.2,110.3 307.7,109.4 308.5,109.0 309.3,109.0 310.5,109.2 312.7,109.7 314.5,109.8 315.9,110.0 316.7,109.9 318.1,109.6 320.1,110.1 321.5,109.9 322.1,110.2 323.3,111.2 323.7,111.4 324.1,111.3 325.5,110.6 327.7,110.5 328.3,110.7 329.3,111.4 329.7,111.7 329.9,112.1 329.8,113.1 329.3,113.9 329.1,114.0 328.7,114.0 327.7,113.6 327.3,113.5 327.2,113.7 327.0,114.7 326.5,115.3 326.1,115.5 325.7,115.4 325.3,115.2 324.1,114.0 323.7,113.9 322.7,114.9 322.1,115.1 320.3,115.3 318.5,115.6 317.5,115.6 314.7,115.0 312.3,114.8 311.5,115.3 310.7,116.3 310.1,116.5Z M314.3,145.1 313.7,145.2 313.3,145.1 312.8,144.7 311.9,143.7 310.5,143.5 310.1,143.3 309.8,142.9 309.4,141.7 309.0,140.9 308.3,140.1 307.1,139.4 306.9,139.1 306.9,138.5 307.3,137.9 308.9,136.7 309.5,136.4 310.7,136.2 311.7,136.6 311.9,136.6 312.5,136.1 313.1,135.8 314.5,135.2 315.3,135.1 316.7,135.4 319.9,135.4 322.1,135.9 324.5,137.1 325.9,138.2 326.3,138.3 327.1,138.2 327.3,138.2 327.5,138.5 328.0,140.3 328.1,140.9 327.8,141.5 327.3,142.0 326.7,142.2 325.1,142.4 323.1,143.4 322.5,143.3 321.7,143.0 321.3,143.0 319.3,143.9 318.3,143.7 317.9,143.7 316.7,144.4 315.3,144.7 314.3,145.1Z" fill-opacity="0.15" stroke-opacity="0.65"/>
<path d="M310.5,116.3 309.7,116.5 309.1,116.3 308.8,116.1 308.5,115.7 308.1,114.5 307.5,113.3 307.2,111.3 307.2,110.5 307.7,109.6 308.5,109.1 309.1,109.1 310.3,109.3 312.5,109.8 315.9,110.0 316.5,110.0 318.1,109.7 318.7,109.8 320.1,110.2 321.5,110.1 322.1,110.3 323.3,111.4 323.7,111.5 325.7,110.7 327.7,110.6 328.3,110.8 329.1,111.4 329.5,111.7 329.7,112.1 329.7,112.9 329.3,113.7 329.1,113.8 328.7,113.8 327.5,113.4 327.1,113.4 327.0,113.7 327.0,114.3 326.9,114.7 326.5,115.1 326.1,115.3 325.7,115.3 325.3,115.1 324.1,113.9 323.7,113.7 322.8,114.7 322.1,115.1 320.3,115.2 318.5,115.5 317.7,115.5 316.3,115.1 314.8,114.9 312.3,114.7 311.5,115.1 310.5,116.3Z M314.5,144.9 313.9,145.1 313.3,144.9 312.9,144.6 312.1,143.7 311.7,143.5 310.5,143.3 310.2,143.1 309.9,142.7 309.4,141.5 309.1,140.9 308.3,140.1 307.1,139.1 307.1,138.5 307.3,138.1 308.9,136.9 309.5,136.5 310.5,136.4 311.9,137.0 312.1,137.0 312.3,136.5 312.7,136.1 314.7,135.3 315.5,135.2 316.7,135.5 319.9,135.5 322.1,136.1 324.5,137.2 325.2,137.7 325.9,138.5 327.1,139.1 327.5,139.6 327.9,140.3 327.9,140.9 327.8,141.3 327.5,141.7 326.9,142.1 325.1,142.3 323.1,143.3 322.5,143.2 321.7,142.9 321.3,142.9 319.5,143.6 317.9,143.5 316.6,144.3 314.5,144.9Z" fill-opacity="0.15" stroke-opacity="0.65"/>
<path d="M310.1,116.3 309.3,116.3 308.8,115.9 307.5,113.1 307.3,111.3 307.3,110.5 307.8,109.7 308.5,109.3 309.7,109.3 312.8,109.9 316.3,110.1 318.3,109.8 320.3,110.4 321.5,110.2 322.3,110.6 323.1,111.5 323.5,111.7 324.1,111.6 325.7,110.8 327.7,110.8 328.3,111.0 329.1,111.5 329.5,111.9 329.6,112.3 329.5,113.1 329.1,113.6 328.5,113.6 327.5,113.2 327.0,113.3 326.8,113.5 326.9,114.3 326.7,114.7 326.5,115.0 326.1,115.2 325.7,115.2 325.3,115.0 324.1,113.7 323.7,113.5 323.5,113.6 322.9,114.5 322.1,115.0 320.3,115.1 318.7,115.4 317.7,115.4 316.1,114.9 312.3,114.7 311.5,115.0 310.6,116.1 310.1,116.3Z M313.9,144.9 313.5,144.8 313.1,144.6 312.1,143.5 310.7,143.2 310.3,143.0 309.1,140.9 308.3,140.0 307.3,139.1 307.2,138.5 307.5,138.1 308.9,137.0 309.7,136.6 310.5,136.7 311.5,137.1 312.1,137.2 312.3,137.0 312.7,136.3 312.9,136.1 313.7,135.7 314.7,135.4 315.3,135.4 316.7,135.7 319.9,135.6 321.8,136.1 323.0,136.7 324.5,137.3 325.0,137.7 325.9,138.8 327.1,139.5 327.7,140.3 327.8,140.9 327.7,141.3 327.4,141.7 326.9,142.0 325.1,142.2 323.7,143.0 323.1,143.2 322.5,143.1 321.7,142.8 321.3,142.8 319.7,143.4 317.9,143.4 317.5,143.5 316.5,144.1 313.9,144.9Z" fill-opacity="0.15" stroke-opacity="0.65"/>
<path d="M310.3,116.2 309.5,116.3 308.9,115.9 308.6,115.5 307.6,113.1 307.4,111.5 307.4,110.7 307.7,109.9 308.1,109.6 308.5,109.4 309.7,109.3 312.7,110.0 316.3,110.2 318.3,109.9 318.9,110.0 320.3,110.5 321.5,110.4 322.3,110.8 323.1,111.7 323.5,111.9 325.7,111.0 327.7,110.9 328.3,111.1 329.1,111.6 329.3,111.9 329.5,112.3 329.4,113.1 328.9,113.5 328.5,113.5 327.3,113.0 326.9,113.2 326.7,113.5 326.7,114.5 326.4,114.9 326.1,115.1 325.7,115.1 325.3,114.9 323.7,113.3 323.5,113.4 322.8,114.5 321.9,114.9 320.3,115.0 318.1,115.3 316.3,114.8 312.3,114.6 311.5,114.9 310.3,116.2Z M314.3,144.7 313.7,144.7 313.3,144.6 312.3,143.5 311.9,143.3 310.7,143.0 310.3,142.7 309.2,140.9 307.5,139.1 307.4,138.9 307.4,138.5 307.7,138.1 309.1,137.0 309.7,136.8 310.3,136.8 311.7,137.3 312.2,137.3 312.4,137.1 312.7,136.5 313.1,136.1 314.5,135.5 315.3,135.5 316.7,135.8 319.9,135.7 321.5,136.1 322.7,136.7 324.4,137.3 325.1,137.9 325.7,138.8 327.1,139.7 327.6,140.5 327.7,140.9 327.5,141.3 327.2,141.7 326.7,142.0 325.1,142.1 323.9,142.8 323.1,143.1 322.5,143.0 321.7,142.7 321.3,142.7 319.7,143.3 317.7,143.3 316.3,144.0 314.3,144.7Z" fill-opacity="0.15" stroke-opacity="0.65"/>
<path d="M310.1,116.1 309.5,116.2 308.9,115.8 307.7,113.1 307.4,111.5 307.4,110.7 307.9,109.8 308.7,109.4 309.9,109.5 312.1,110.0 315.9,110.3 316.7,110.2 318.3,109.9 319.1,110.1 320.3,110.7 321.3,110.5 321.7,110.6 322.3,110.9 323.1,112.0 323.3,112.2 323.5,112.3 324.3,111.7 325.5,111.1 327.7,111.1 328.3,111.3 328.9,111.6 329.2,111.9 329.4,112.3 329.3,112.9 328.9,113.4 328.5,113.4 327.3,112.9 326.8,113.1 326.6,113.5 326.6,114.5 326.1,115.0 325.7,115.0 325.3,114.8 323.9,113.2 323.5,113.0 322.8,114.3 322.5,114.6 321.9,114.9 320.3,114.9 318.3,115.2 317.7,115.2 316.3,114.7 312.3,114.5 311.4,114.9 310.5,115.9 310.1,116.1Z M314.5,144.5 313.9,144.6 313.5,144.5 313.1,144.2 312.2,143.3 310.9,142.9 310.5,142.7 309.4,141.1 307.6,139.1 307.5,138.7 307.6,138.3 308.9,137.3 309.5,137.0 310.1,136.9 311.7,137.4 312.3,137.3 312.5,137.1 312.8,136.5 313.1,136.2 313.7,135.9 314.5,135.6 315.3,135.6 316.5,136.0 317.7,135.8 319.9,135.7 320.9,136.0 322.7,136.8 324.3,137.3 325.0,137.9 325.6,138.9 326.9,139.7 327.3,140.1 327.5,140.5 327.5,141.1 327.0,141.7 326.5,141.9 324.9,142.1 323.3,142.9 322.7,143.0 321.3,142.6 319.7,143.2 317.7,143.2 317.1,143.4 314.5,144.5Z" fill-opacity="0.15" stroke-opacity="0.65"/>
</g>
<ellipse cx="343" cy="136" rx="1.5" ry="1.2" fill="none" stroke="#000" stroke-width="0.4"/>
<rect x="319" y="161" width="12.0" height="2.3" fill="#000"/>
<rect x="305.5" y="108" width="3.5" height="51.0" fill="#000"/>
<rect x="305.6" y="102.2" width="7.2" height="7.1" fill="#fff"/>
<text x="306.1" y="108.10000000000001" text-anchor="start" style="font-size:5.4px;" fill="#000" stroke="#000" stroke-width="0.16">39</text>
<rect x="352.6" y="102.2" width="13.8" height="7.1" fill="#fff"/>
<text x="365.3" y="108.10000000000001" text-anchor="end" style="font-size:5.4px;" fill="#000" stroke="#000" stroke-width="0.16">0.73</text>
<rect x="305.6" y="157.1" width="7.2" height="6.0" fill="#fff"/>
<path d="M305.6,157.1 H312.8 V163.1" fill="none" stroke="#000" stroke-width="0.45"/>
<text x="306.1" y="162.10000000000002" text-anchor="start" style="font-size:5.4px;" fill="#000" stroke="#000" stroke-width="0.16">59</text>
<rect x="352.6" y="157.1" width="13.8" height="6.0" fill="#fff"/>
<text x="365.3" y="162.10000000000002" text-anchor="end" style="font-size:5.4px;" fill="#000" stroke="#000" stroke-width="0.16">1.25</text>
<line x1="312.83200000000005" y1="102.7" x2="352.63599999999997" y2="102.7" stroke="#000" stroke-width="0.6"/>
<line x1="366.7" y1="102.7" x2="366.7" y2="163.3" stroke="#333" stroke-width="0.6"/>
<line x1="305.5" y1="102.4" x2="305.5" y2="163.70000000000002" stroke="#000" stroke-width="0.9"/>
<line x1="305.1" y1="163.3" x2="367.0" y2="163.3" stroke="#000" stroke-width="0.9"/>
<clipPath id="cp7"><rect x="380.6" y="102.7" width="60.4" height="60.6"/></clipPath>
<text x="378.0" y="103.1" text-anchor="end" style="font-size:2.5px;font-weight:normal" fill="#444">10<tspan dy="-0.9" style="font-size:1.9px">4</tspan></text>
<text x="380.8" y="168.3" text-anchor="middle" style="font-size:2.5px;font-weight:normal" fill="#444">10<tspan dy="-0.9" style="font-size:1.9px">0</tspan></text>
<line x1="378.40000000000003" y1="102.7" x2="380.6" y2="102.7" stroke="#666" stroke-width="0.35"/>
<line x1="380.6" y1="163.3" x2="380.6" y2="165.3" stroke="#666" stroke-width="0.35"/>
<text x="378.0" y="118.3" text-anchor="end" style="font-size:2.5px;font-weight:normal" fill="#444">10<tspan dy="-0.9" style="font-size:1.9px">3</tspan></text>
<text x="395.9" y="168.3" text-anchor="middle" style="font-size:2.5px;font-weight:normal" fill="#444">10<tspan dy="-0.9" style="font-size:1.9px">1</tspan></text>
<line x1="378.40000000000003" y1="117.85000000000001" x2="380.6" y2="117.85000000000001" stroke="#666" stroke-width="0.35"/>
<line x1="395.70000000000005" y1="163.3" x2="395.70000000000005" y2="165.3" stroke="#666" stroke-width="0.35"/>
<text x="378.0" y="133.4" text-anchor="end" style="font-size:2.5px;font-weight:normal" fill="#444">10<tspan dy="-0.9" style="font-size:1.9px">2</tspan></text>
<text x="411.0" y="168.3" text-anchor="middle" style="font-size:2.5px;font-weight:normal" fill="#444">10<tspan dy="-0.9" style="font-size:1.9px">2</tspan></text>
<line x1="378.40000000000003" y1="133.0" x2="380.6" y2="133.0" stroke="#666" stroke-width="0.35"/>
<line x1="410.8" y1="163.3" x2="410.8" y2="165.3" stroke="#666" stroke-width="0.35"/>
<text x="378.0" y="148.6" text-anchor="end" style="font-size:2.5px;font-weight:normal" fill="#444">10<tspan dy="-0.9" style="font-size:1.9px">1</tspan></text>
<text x="426.1" y="168.3" text-anchor="middle" style="font-size:2.5px;font-weight:normal" fill="#444">10<tspan dy="-0.9" style="font-size:1.9px">3</tspan></text>
<line x1="378.40000000000003" y1="148.15" x2="380.6" y2="148.15" stroke="#666" stroke-width="0.35"/>
<line x1="425.9" y1="163.3" x2="425.9" y2="165.3" stroke="#666" stroke-width="0.35"/>
<text x="378.0" y="163.7" text-anchor="end" style="font-size:2.5px;font-weight:normal" fill="#444">10<tspan dy="-0.9" style="font-size:1.9px">0</tspan></text>
<text x="441.2" y="168.3" text-anchor="middle" style="font-size:2.5px;font-weight:normal" fill="#444">10<tspan dy="-0.9" style="font-size:1.9px">4</tspan></text>
<line x1="378.40000000000003" y1="163.3" x2="380.6" y2="163.3" stroke="#666" stroke-width="0.35"/>
<line x1="441.0" y1="163.3" x2="441.0" y2="165.3" stroke="#666" stroke-width="0.35"/>
<line x1="413.4" y1="102.7" x2="413.4" y2="163.3" stroke="#000" stroke-width="0.6"/>
<line x1="380.6" y1="135.5" x2="441.0" y2="135.5" stroke="#000" stroke-width="0.6"/>
<g clip-path="url(#cp7)" stroke="#000" stroke-width="0.55" stroke-linejoin="round" fill="#000">
<path d="M399.8,159.4 399.0,159.4 398.2,159.3 396.6,158.4 395.8,158.2 395.2,158.3 394.0,158.7 392.0,158.8 388.8,159.5 387.4,159.2 386.2,159.2 385.9,159.1 385.7,158.7 385.8,158.3 386.2,157.5 386.0,156.9 383.7,155.5 382.6,155.0 382.2,154.5 381.6,151.3 381.1,149.7 381.0,147.9 381.3,146.7 382.6,144.5 383.4,142.6 384.0,142.2 385.0,142.2 385.8,141.9 388.2,140.3 389.4,140.1 391.2,140.2 392.6,139.7 394.2,139.2 395.5,138.3 396.8,136.6 397.9,136.1 398.0,135.9 397.7,135.3 397.3,134.7 396.8,134.4 396.4,134.3 395.9,134.5 395.4,135.1 395.0,135.4 393.2,136.1 392.2,136.1 391.0,135.7 387.0,136.1 385.2,135.5 382.4,134.9 381.6,134.6 380.6,133.9 380.4,128.7 380.5,124.1 380.6,122.3 381.8,120.6 382.4,120.1 383.2,119.7 384.4,119.4 386.2,119.5 388.6,119.2 390.2,118.5 393.6,118.3 396.0,117.5 397.6,117.4 398.8,117.1 399.6,117.2 401.0,117.4 401.6,117.7 403.6,119.2 404.1,119.9 404.4,121.2 404.8,121.6 405.2,121.5 405.7,120.7 406.2,120.2 406.8,120.1 407.4,120.2 409.3,121.7 409.7,122.3 410.3,123.7 411.2,124.5 411.3,125.1 410.9,125.7 410.8,126.1 410.8,126.5 411.3,127.7 411.3,128.5 410.9,129.5 410.0,130.7 409.3,132.3 408.6,133.0 408.0,133.4 407.6,133.4 406.6,132.8 406.0,132.9 404.9,133.7 404.2,135.1 404.3,135.5 405.2,136.0 405.6,136.1 407.0,135.9 407.6,136.0 408.1,136.5 409.0,138.1 410.5,139.3 411.1,140.1 411.2,141.1 410.7,142.7 411.1,144.1 410.7,147.1 410.8,147.5 411.5,148.7 411.7,149.3 411.1,152.1 410.4,153.5 409.5,154.7 409.0,155.1 408.1,155.5 407.9,155.7 407.7,156.5 407.5,156.9 405.2,158.5 404.6,158.7 403.2,158.4 401.4,158.2 401.0,158.4 400.2,159.2 399.8,159.4Z M432.4,156.5 431.0,156.6 429.8,156.4 429.4,156.1 428.4,154.9 427.5,154.1 427.1,153.5 426.6,151.9 426.1,150.9 425.8,149.3 425.8,144.5 426.0,143.3 426.1,141.9 426.3,141.1 427.2,139.8 428.4,138.9 428.7,138.1 429.0,137.7 430.8,136.9 431.4,136.8 432.4,137.0 433.2,137.5 434.2,138.3 434.7,139.1 434.9,139.9 435.1,141.5 435.7,143.1 435.9,145.3 436.4,147.1 436.3,147.7 435.8,149.1 435.7,151.1 435.4,152.3 433.9,155.3 433.2,156.1 432.4,156.5Z" fill="none"/>
<path d="M389.4,135.1 387.8,135.2 387.0,135.0 386.2,134.6 385.0,133.5 384.4,133.4 383.2,133.6 382.6,133.5 381.8,133.1 380.6,132.1 380.5,128.7 380.6,123.3 381.4,122.7 382.8,121.4 384.6,120.5 386.2,120.5 387.6,120.1 390.8,120.0 391.7,119.5 392.2,119.3 394.6,119.3 395.8,118.5 396.2,118.4 397.8,118.7 400.6,118.6 401.6,118.9 403.0,119.9 403.4,120.3 404.0,121.6 405.0,122.3 405.6,122.4 406.4,121.7 407.0,121.6 408.2,122.1 408.9,122.7 409.1,123.3 409.2,124.4 409.6,126.0 410.3,127.7 410.3,128.3 410.0,129.2 408.8,130.3 408.2,131.3 408.0,131.4 407.6,131.4 406.6,130.8 406.2,130.9 405.0,131.9 403.6,132.7 402.4,134.0 401.8,134.4 401.2,134.6 398.8,134.5 396.8,133.7 394.8,133.3 394.3,133.5 393.8,134.5 393.4,134.7 393.0,134.7 392.2,134.5 391.8,134.4 390.0,135.0 389.4,135.1Z M406.2,125.1 406.0,125.0 406.0,125.3 406.2,125.1Z M398.8,158.3 397.8,158.0 396.4,157.1 395.6,156.4 395.2,156.2 394.6,156.3 394.0,156.5 392.8,157.4 391.4,157.9 390.4,157.9 388.4,157.7 387.6,157.3 386.6,156.3 385.2,155.8 384.6,155.4 383.5,154.5 383.2,154.1 382.4,151.7 382.2,149.5 382.0,148.1 382.0,147.5 382.3,146.7 383.0,145.3 383.8,144.6 384.4,144.5 385.6,145.0 386.0,144.9 386.2,143.3 386.4,142.9 386.8,142.6 387.4,142.5 388.4,142.7 388.8,142.5 389.6,141.9 390.2,141.7 391.0,141.8 392.2,142.2 392.6,142.2 392.9,141.9 393.3,140.9 393.8,140.5 395.4,139.7 396.8,139.3 398.0,138.2 401.6,136.2 402.0,136.2 403.0,136.5 404.0,136.6 405.4,137.1 406.6,136.9 407.0,137.0 407.6,137.4 408.6,138.8 409.7,139.7 410.0,140.1 410.2,140.7 410.1,141.3 409.6,142.7 409.9,145.1 409.9,145.9 409.5,147.5 409.7,148.1 410.4,149.1 410.4,149.5 410.2,150.0 409.3,150.7 409.3,151.1 409.6,151.9 409.6,152.5 408.8,153.5 408.3,153.9 407.8,154.1 406.6,154.1 406.0,154.4 405.7,154.9 405.9,156.1 405.8,156.4 405.4,156.7 404.0,157.2 403.2,157.4 402.6,157.4 401.2,157.0 400.8,157.2 399.6,158.1 398.8,158.3Z M431.4,155.5 430.6,155.7 430.0,155.5 429.6,155.2 428.0,153.5 427.7,152.9 427.2,151.5 426.4,150.1 426.3,149.3 426.3,148.5 426.5,145.3 426.8,143.5 426.8,142.1 427.2,141.1 427.6,140.5 428.0,140.1 428.6,139.8 430.0,139.5 431.0,138.5 431.4,138.3 432.0,138.2 432.6,138.3 433.2,138.6 433.8,139.1 434.1,139.7 434.4,141.3 435.0,143.1 435.7,147.1 435.2,148.9 435.0,151.1 434.4,152.5 433.6,153.8 433.0,154.6 431.4,155.5Z" fill="none"/>
<path d="M389.2,134.7 388.0,134.7 387.2,134.5 386.6,134.2 385.5,133.3 385.0,133.1 383.2,133.0 382.4,132.7 381.4,132.1 380.6,131.1 380.5,128.7 380.6,124.0 382.6,122.3 383.6,121.7 384.4,121.2 385.0,121.1 385.6,121.3 386.6,121.9 386.9,121.7 387.4,120.9 388.0,120.7 389.8,120.6 391.2,120.8 391.6,120.7 392.2,120.2 392.8,120.0 395.2,120.1 396.2,119.4 396.6,119.3 397.6,119.3 399.0,119.1 400.4,119.1 401.4,119.4 402.2,119.9 402.9,120.5 403.9,121.9 405.4,123.0 405.8,123.1 406.6,122.5 407.2,122.4 407.8,122.6 408.3,123.1 409.1,126.5 409.7,127.9 409.6,128.6 409.1,129.1 407.6,129.6 407.2,129.6 406.6,129.2 406.4,129.2 405.8,130.3 405.2,131.1 404.6,131.4 403.3,131.9 402.7,132.3 402.0,133.1 401.0,133.7 400.2,133.8 398.4,133.8 397.2,133.4 394.4,132.8 393.2,133.4 392.0,133.6 390.4,134.5 389.2,134.7Z M406.4,126.3 406.8,125.5 406.8,124.9 406.6,124.4 406.0,124.1 405.8,124.2 405.6,124.6 405.5,125.1 405.5,125.5 406.0,126.2 406.4,126.3Z M398.8,157.3 398.0,157.3 397.4,157.0 396.8,156.6 396.0,155.8 395.4,155.5 394.8,155.5 393.4,155.8 392.7,156.1 391.4,156.9 390.4,157.1 388.2,156.8 386.9,155.9 385.4,155.5 384.8,155.1 384.2,154.5 383.7,153.9 382.8,151.5 382.8,150.9 382.9,149.5 382.9,147.3 383.1,146.1 383.6,145.5 384.2,145.3 385.8,145.7 386.2,145.7 386.6,145.3 386.8,144.2 387.2,143.7 387.6,143.6 389.0,143.7 389.4,143.5 390.0,142.9 390.4,142.7 391.2,142.8 392.4,143.3 393.0,143.3 393.8,142.5 394.6,141.3 395.0,140.9 395.6,140.5 397.5,139.7 399.4,138.0 401.4,137.0 402.0,136.9 403.8,137.0 405.2,137.6 406.6,137.6 407.0,137.7 407.4,138.0 408.4,139.3 409.3,140.1 409.6,140.9 409.5,141.3 408.7,143.5 408.4,143.9 407.7,144.3 407.5,144.7 407.6,145.2 407.8,145.5 408.7,145.9 408.9,146.3 408.7,147.7 408.8,148.9 408.2,150.3 408.3,151.5 408.2,152.1 407.9,152.7 407.5,153.1 406.0,153.7 405.4,154.1 405.2,154.5 404.8,155.7 404.4,156.1 403.8,156.5 402.8,156.8 401.4,156.4 401.0,156.4 399.6,157.1 398.8,157.3Z M431.0,154.9 430.4,155.0 430.0,154.8 428.6,153.5 428.2,152.9 427.6,151.3 426.9,150.3 426.7,149.7 426.6,148.9 426.7,146.5 427.2,143.9 427.3,142.1 427.5,141.5 427.8,140.9 428.2,140.5 428.6,140.3 430.2,140.0 431.4,139.1 432.2,138.9 432.6,139.0 433.1,139.3 433.7,140.1 434.5,142.9 434.7,144.3 435.3,146.7 435.3,147.3 434.8,149.1 434.6,151.1 433.9,152.7 433.3,153.5 432.8,154.1 431.0,154.9Z" fill="none"/>
<path d="M389.8,134.3 388.6,134.4 387.4,134.2 386.8,133.9 385.7,133.1 385.2,132.8 384.6,132.7 383.2,132.6 382.4,132.3 381.8,131.9 381.3,131.3 381.0,130.3 380.6,129.7 380.6,124.8 381.9,123.5 383.4,122.3 384.4,121.7 385.0,121.6 385.4,121.8 386.4,122.4 386.8,122.5 387.2,122.3 388.2,121.4 389.4,121.0 390.0,121.0 391.0,121.2 391.6,121.2 392.8,120.6 393.4,120.5 395.6,120.8 398.6,119.6 400.2,119.5 401.2,119.7 402.0,120.2 403.5,121.9 405.2,123.5 405.4,124.1 405.2,125.5 405.8,126.9 405.8,128.9 405.7,129.9 405.4,130.4 405.0,130.8 403.2,131.5 402.6,131.9 401.6,132.8 400.8,133.2 398.4,133.3 397.2,133.0 396.0,132.9 394.4,132.4 393.0,133.0 392.0,133.2 390.6,134.0 389.8,134.3Z M407.4,124.0 407.0,123.7 406.9,123.5 407.0,123.3 407.3,123.3 407.6,123.5 407.6,123.9 407.4,124.0Z M408.4,128.5 408.0,128.6 407.8,128.4 407.7,128.1 407.9,127.3 407.2,126.1 407.3,125.5 407.6,124.7 407.8,124.7 408.0,124.8 408.3,125.3 408.5,125.7 408.4,126.9 408.8,127.7 408.9,128.1 408.8,128.3 408.4,128.5Z M399.0,156.5 398.2,156.6 397.6,156.5 397.2,156.3 396.2,155.4 395.6,155.1 393.6,155.0 393.0,154.8 391.4,152.8 391.0,152.5 390.6,152.6 390.4,152.9 390.5,153.3 390.9,154.5 391.0,155.5 390.9,155.9 390.4,156.2 389.6,156.4 388.6,156.3 388.0,156.1 387.0,155.6 385.8,155.3 385.2,155.1 384.6,154.6 384.1,153.9 383.2,151.3 383.4,149.1 383.6,147.9 383.6,146.7 383.7,146.3 384.0,145.9 384.4,145.8 386.0,146.2 386.5,146.1 386.9,145.7 387.2,144.5 387.6,144.2 389.4,144.2 389.9,144.1 390.8,143.5 391.2,143.5 392.6,144.0 393.2,143.9 394.6,142.5 395.6,141.4 397.8,140.3 398.4,139.7 399.1,138.7 399.4,138.3 400.0,137.9 401.2,137.5 402.0,137.3 403.6,137.4 404.2,137.5 405.2,138.0 406.8,138.0 407.4,138.5 408.0,139.4 408.8,140.2 409.1,140.9 408.9,141.5 408.2,142.9 408.0,143.2 407.1,143.7 406.9,144.1 407.2,145.3 408.0,146.9 408.1,148.7 407.7,150.1 407.9,151.3 407.8,151.9 407.6,152.3 407.2,152.7 405.6,153.5 405.0,153.9 404.8,154.3 404.4,155.3 403.6,156.0 403.0,156.2 402.6,156.3 401.2,155.9 399.8,156.4 399.0,156.5Z M431.2,154.4 430.6,154.5 430.2,154.4 428.8,153.2 428.4,152.7 427.9,151.3 427.1,150.1 426.9,149.5 426.9,146.5 427.4,144.1 427.6,142.3 428.1,141.1 428.4,140.7 428.8,140.5 430.4,140.3 431.6,139.6 432.2,139.5 432.7,139.7 433.1,140.1 434.1,142.5 434.4,144.5 435.0,146.5 435.0,147.3 434.6,149.1 434.3,150.9 433.7,152.5 433.2,153.3 432.6,153.8 431.2,154.4Z" fill="none"/>
<path d="M389.4,134.1 388.4,134.1 387.6,133.9 387.0,133.7 385.4,132.7 384.6,132.4 383.2,132.3 382.4,132.0 381.7,131.3 381.3,130.1 380.6,129.1 380.6,128.1 380.7,127.5 380.6,126.8 380.7,125.7 382.0,123.9 383.8,122.4 384.4,122.1 385.0,122.0 385.4,122.2 386.2,122.7 386.8,122.8 388.6,122.0 389.6,121.4 390.2,121.3 391.6,121.4 393.4,121.0 394.8,121.2 396.1,121.9 396.6,122.0 396.8,121.8 397.1,121.1 398.3,120.1 399.0,119.8 400.0,119.8 401.0,120.0 401.6,120.3 404.4,122.9 404.9,123.5 405.1,124.1 405.0,125.7 405.4,126.9 405.6,129.1 405.4,129.9 404.8,130.6 403.0,131.3 401.4,132.5 400.8,132.8 398.4,132.9 397.4,132.6 396.0,132.6 394.8,132.2 394.2,132.2 393.0,132.6 391.8,132.9 390.4,133.8 389.4,134.1Z M399.8,155.9 397.8,155.8 396.0,154.8 393.8,154.2 392.8,153.6 391.6,152.4 391.0,152.1 390.4,152.3 390.2,152.7 390.1,153.3 390.4,154.9 390.2,155.4 389.8,155.8 389.2,155.9 388.6,155.9 387.2,155.3 386.0,155.1 385.4,154.9 384.9,154.5 384.5,153.9 383.6,151.3 383.7,149.3 384.1,147.9 384.2,146.7 384.4,146.4 384.8,146.3 386.2,146.6 386.6,146.5 387.0,146.1 387.5,144.9 388.0,144.6 389.8,144.7 391.2,144.4 392.4,144.7 393.2,144.5 393.6,144.2 395.8,141.9 396.4,141.5 397.6,141.3 398.0,141.0 398.6,140.3 399.4,138.7 399.9,138.3 400.6,137.9 401.6,137.6 402.2,137.6 403.8,137.7 405.2,138.3 406.4,138.3 406.8,138.4 407.3,138.9 408.4,140.5 408.5,140.9 408.4,141.5 407.9,142.5 407.6,142.8 406.7,143.3 406.5,143.7 406.6,144.3 407.3,146.5 407.6,148.5 407.6,148.9 407.3,150.1 407.5,151.3 407.4,151.9 406.9,152.5 404.8,153.7 404.5,154.1 404.0,155.1 403.4,155.6 402.6,155.8 401.2,155.5 399.8,155.9Z M431.6,153.9 430.8,154.0 430.4,153.9 428.8,152.8 428.5,152.3 428.1,151.1 427.2,149.9 427.0,148.9 427.2,146.1 427.6,144.2 427.8,142.5 428.1,141.5 428.6,140.9 429.0,140.7 430.6,140.5 432.0,140.0 432.4,140.2 432.8,140.6 433.8,142.5 434.0,143.1 434.1,144.5 434.7,146.5 434.8,147.3 434.3,149.3 434.1,150.9 433.6,152.1 432.8,153.4 432.2,153.7 431.6,153.9Z M392.4,146.7 392.7,146.3 392.6,145.7 392.2,145.3 391.8,145.4 391.4,145.7 391.4,146.3 391.8,146.8 392.4,146.7Z" fill="none"/>
<path d="M390.0,133.7 389.0,133.9 387.8,133.7 385.4,132.5 382.8,131.9 382.1,131.3 381.6,130.0 380.9,128.7 381.1,127.5 381.1,126.3 381.8,125.5 382.0,124.7 382.3,124.1 383.8,122.8 384.4,122.5 385.0,122.4 386.2,123.0 386.6,123.1 388.8,122.3 389.6,121.8 390.0,121.6 391.6,121.7 393.4,121.4 394.4,121.5 396.2,122.3 396.8,122.3 397.2,122.1 397.8,121.1 398.4,120.5 399.0,120.2 400.0,120.1 400.8,120.2 401.4,120.5 402.9,121.9 404.1,122.9 404.7,123.5 404.9,124.1 404.8,125.7 405.1,127.1 405.4,128.9 405.2,129.7 404.8,130.3 403.0,131.1 401.4,132.2 400.8,132.5 398.6,132.5 397.4,132.3 396.2,132.4 394.8,132.0 394.2,131.9 393.0,132.4 391.6,132.7 390.0,133.7Z M399.8,155.5 398.8,155.4 397.8,154.9 396.8,154.7 394.4,153.9 392.8,153.2 391.7,152.1 391.0,151.9 390.4,152.1 389.9,152.7 389.7,153.5 389.9,154.9 389.6,155.3 389.4,155.4 388.6,155.5 387.4,155.0 386.2,154.9 385.5,154.7 385.0,154.3 384.7,153.7 383.9,151.3 384.0,149.3 384.6,147.2 384.8,146.9 385.0,146.8 386.2,146.9 386.8,146.7 387.2,146.3 387.8,145.2 388.0,145.1 388.4,145.0 389.8,145.1 390.4,145.3 390.6,145.5 391.1,146.5 391.4,146.9 392.0,147.3 392.4,147.2 393.5,146.3 393.6,145.1 394.5,143.7 396.0,142.2 396.6,142.0 397.4,142.0 398.0,141.7 398.8,140.7 399.4,139.1 400.0,138.5 401.0,138.0 402.0,137.9 403.8,138.0 405.0,138.4 406.6,138.6 407.0,138.9 407.3,139.3 407.8,140.9 407.7,141.7 407.5,142.3 406.2,143.2 406.0,143.7 406.9,145.9 407.1,146.7 407.3,148.5 407.3,148.9 406.9,150.1 407.2,151.1 407.1,151.7 406.7,152.3 404.4,153.7 403.7,154.9 403.2,155.3 402.6,155.4 401.2,155.1 399.8,155.5Z M432.0,153.6 431.2,153.7 430.6,153.6 429.0,152.6 428.7,152.1 428.3,151.1 427.4,149.9 427.2,148.9 427.4,145.9 427.8,144.1 428.0,142.5 428.2,141.7 428.6,141.2 429.2,140.9 431.6,140.6 432.0,140.6 432.4,140.8 433.6,142.6 433.8,143.3 433.9,144.7 434.5,146.5 434.7,147.3 433.9,150.9 433.5,151.9 432.8,153.1 432.0,153.6Z" fill="none"/>
<path d="M389.8,133.5 389.0,133.6 387.8,133.4 385.4,132.3 383.0,131.7 382.7,131.5 382.3,131.1 381.9,129.9 381.3,128.9 381.3,128.1 381.6,126.8 382.2,125.9 382.4,124.5 382.9,123.9 384.0,123.0 384.6,122.7 385.0,122.7 386.0,123.2 386.6,123.3 388.8,122.6 390.0,121.9 393.2,121.7 394.2,121.8 396.2,122.5 396.8,122.5 397.4,122.3 398.0,121.3 398.6,120.7 399.2,120.4 400.0,120.4 400.6,120.5 401.2,120.7 402.8,122.1 404.0,123.0 404.5,123.5 404.8,124.3 404.7,125.9 405.2,128.9 405.0,129.7 404.6,130.2 403.0,130.9 401.4,131.9 400.8,132.2 398.8,132.2 397.4,132.0 396.0,132.2 394.6,131.8 394.0,131.8 391.4,132.4 390.4,133.2 389.8,133.5Z M400.0,155.1 399.2,155.1 397.8,154.4 396.6,154.3 394.6,153.7 393.0,152.9 391.9,151.9 391.2,151.7 390.4,151.9 390.0,152.3 389.4,153.5 389.3,154.7 389.0,155.0 388.6,155.0 387.6,154.7 386.4,154.7 385.8,154.6 385.4,154.3 384.9,153.7 384.3,151.5 384.2,150.5 384.4,149.1 385.0,147.7 385.2,147.4 386.0,147.4 386.4,147.3 387.4,146.5 388.0,145.7 388.6,145.4 389.6,145.5 390.2,145.7 391.2,147.0 392.2,147.9 392.4,148.5 392.6,148.6 392.8,148.6 393.1,147.5 394.0,146.7 394.1,145.1 394.6,144.1 395.6,143.0 396.2,142.6 396.6,142.5 397.4,142.7 397.8,142.4 399.1,140.9 399.3,140.5 399.6,139.3 400.0,138.7 401.0,138.2 402.0,138.1 403.8,138.3 405.0,138.7 406.4,138.8 406.8,139.1 407.1,139.7 407.0,140.9 407.1,141.9 406.9,142.3 405.7,143.3 405.6,143.7 406.4,145.4 406.8,146.5 407.0,148.7 406.6,150.1 406.9,151.1 406.8,151.7 406.3,152.3 404.3,153.5 403.4,154.6 403.0,154.9 402.3,154.9 401.4,154.4 400.0,155.1Z M432.0,153.4 431.4,153.4 430.8,153.3 429.2,152.5 428.9,152.1 428.4,150.9 427.6,149.9 427.4,149.3 427.5,146.1 428.1,142.5 428.6,141.5 429.0,141.2 429.4,141.0 431.6,140.9 432.0,141.1 432.6,141.6 433.5,142.9 433.8,144.9 434.5,146.9 434.4,147.9 433.5,151.5 432.8,152.8 432.0,153.4Z" fill="none"/>
<path d="M389.2,133.3 388.0,133.1 385.2,132.0 383.4,131.6 382.8,131.3 382.5,130.9 381.6,128.9 381.5,128.5 381.6,127.9 381.9,127.1 382.5,126.1 382.6,124.9 382.7,124.5 383.2,123.9 384.2,123.2 384.6,123.0 385.0,123.0 386.0,123.4 386.6,123.5 387.8,123.0 389.0,122.8 390.0,122.1 390.6,122.0 393.6,122.0 396.8,122.7 397.2,122.6 397.6,122.3 398.4,121.3 398.8,120.9 399.4,120.7 400.0,120.6 400.6,120.7 401.2,121.1 402.4,122.1 403.8,123.0 404.4,123.7 404.7,124.5 404.5,126.1 405.0,128.9 404.9,129.7 404.4,130.2 403.0,130.7 401.4,131.7 400.8,131.9 398.8,131.9 397.4,131.7 396.0,131.9 394.6,131.6 394.0,131.6 391.4,132.1 390.0,133.1 389.2,133.3Z M400.2,154.7 399.8,154.9 399.2,154.8 397.8,154.1 396.6,153.9 394.8,153.4 393.3,152.7 392.2,151.7 391.4,151.5 390.8,151.6 390.2,151.9 389.8,152.3 389.0,153.6 388.4,154.1 386.8,154.4 386.0,154.4 385.4,154.0 385.0,153.1 384.5,151.1 384.6,149.5 385.0,148.9 385.8,148.4 386.6,147.5 388.2,146.0 388.6,145.8 389.0,145.7 389.6,145.8 390.2,146.2 391.7,147.9 392.2,149.0 392.6,149.2 392.9,149.1 393.2,148.8 393.6,147.7 394.3,146.9 394.4,146.5 394.4,145.1 394.9,144.1 395.6,143.3 396.2,142.9 396.6,142.9 397.4,143.2 397.8,143.0 398.4,142.1 399.5,140.9 399.7,139.5 399.9,139.1 400.2,138.8 401.0,138.4 401.8,138.3 406.2,139.0 406.6,139.2 406.8,139.7 406.7,140.9 406.7,141.9 406.5,142.3 405.4,143.3 405.2,143.7 406.2,145.5 406.5,146.5 406.8,148.5 406.3,150.1 406.6,151.3 406.5,151.7 405.9,152.3 402.8,154.3 402.4,154.3 402.2,154.1 401.6,153.3 401.2,153.1 401.0,153.2 400.7,154.3 400.2,154.7Z M432.0,153.1 431.6,153.2 431.0,153.1 429.4,152.3 429.0,151.9 428.6,150.9 427.8,149.9 427.6,149.3 427.6,146.1 428.3,142.7 428.7,141.7 429.0,141.4 429.4,141.2 430.8,141.1 431.6,141.3 432.2,141.7 433.0,142.5 433.4,143.2 433.6,144.8 434.3,146.7 434.3,147.7 433.9,149.3 433.5,151.3 432.8,152.6 432.4,153.0 432.0,153.1Z" fill="none"/>
<path d="M389.6,132.9 389.0,133.0 388.2,132.8 385.0,131.8 383.6,131.5 383.2,131.3 382.8,130.8 381.9,128.9 381.8,128.1 382.0,127.3 382.7,126.1 382.9,124.7 383.2,124.2 384.0,123.6 384.8,123.3 386.0,123.6 386.6,123.6 387.8,123.2 389.0,123.0 390.0,122.3 390.6,122.2 393.2,122.2 396.4,122.8 397.0,122.8 397.6,122.5 399.0,121.1 399.8,120.9 400.4,121.0 401.0,121.3 402.2,122.3 403.6,123.0 404.3,123.7 404.5,124.3 404.4,126.2 404.9,128.9 404.7,129.7 404.2,130.1 403.0,130.6 401.4,131.5 400.8,131.7 398.6,131.7 397.4,131.5 396.0,131.7 394.6,131.4 393.8,131.4 391.4,131.8 390.0,132.8 389.6,132.9Z M400.0,154.5 399.6,154.6 399.2,154.6 397.8,153.8 396.6,153.7 394.6,153.1 393.6,152.5 392.6,151.5 391.8,151.3 391.0,151.4 390.3,151.7 389.8,152.1 389.0,153.2 388.2,153.7 387.0,154.2 386.2,154.2 385.7,153.9 385.4,153.3 384.8,151.1 384.9,149.9 385.1,149.5 386.0,148.7 387.1,147.3 388.2,146.3 389.0,146.0 389.6,146.1 390.2,146.5 391.4,147.9 391.8,148.9 392.1,149.3 392.6,149.5 393.0,149.4 393.4,149.0 393.9,147.9 394.4,147.1 394.6,146.5 394.6,145.1 395.0,144.3 395.6,143.6 396.2,143.2 396.6,143.2 397.6,143.5 398.0,143.3 398.5,142.3 399.9,140.9 399.9,139.5 400.3,138.9 401.0,138.6 401.8,138.5 406.0,139.1 406.3,139.3 406.5,139.7 406.5,141.9 406.2,142.3 405.1,143.3 405.0,143.7 405.1,144.1 406.0,145.7 406.4,146.7 406.6,148.5 406.1,150.1 406.3,151.5 406.1,151.9 405.6,152.3 403.0,153.8 402.6,153.8 401.6,153.0 401.0,152.9 400.7,153.3 400.4,154.2 400.0,154.5Z M432.0,153.0 431.2,152.9 429.5,152.1 429.2,151.7 428.8,150.9 428.0,149.9 427.7,149.3 427.7,146.1 428.4,142.9 428.8,141.8 429.2,141.5 429.6,141.3 430.6,141.3 431.4,141.5 431.8,141.7 432.9,142.7 433.3,143.3 433.5,144.9 434.2,146.7 434.2,147.7 433.8,149.1 433.3,151.3 432.8,152.3 432.4,152.7 432.0,153.0Z" fill-opacity="0.15"/>
<path d="M389.8,132.5 388.8,132.6 386.2,132.0 383.6,131.2 383.0,130.7 382.1,128.9 382.1,128.1 382.3,127.3 382.8,126.3 383.1,124.7 383.8,124.0 384.6,123.6 386.4,123.8 387.8,123.4 389.0,123.2 390.2,122.4 390.8,122.3 392.8,122.3 396.4,122.9 397.0,122.9 397.8,122.5 399.0,121.5 399.8,121.3 400.7,121.5 402.0,122.5 403.4,123.1 404.0,123.5 404.3,123.9 404.4,124.5 404.3,126.5 404.7,128.9 404.6,129.5 404.2,129.9 402.9,130.5 401.4,131.3 400.8,131.5 398.6,131.5 397.2,131.3 396.0,131.5 394.4,131.2 393.4,131.2 391.4,131.5 389.8,132.5Z M399.8,154.4 399.2,154.4 397.8,153.6 396.8,153.5 394.4,152.7 393.6,152.1 392.8,151.2 392.4,151.0 390.6,151.4 390.0,151.8 388.6,153.2 387.2,153.8 386.3,153.9 385.8,153.5 385.1,151.5 385.0,150.7 385.1,150.1 387.1,147.5 388.2,146.6 389.0,146.3 389.8,146.5 390.9,147.5 391.3,148.1 391.6,149.1 392.0,149.6 392.6,149.9 393.0,149.8 393.6,149.2 394.0,148.1 394.6,147.1 394.8,145.3 395.2,144.3 395.6,143.8 396.2,143.5 396.6,143.5 397.6,143.7 398.0,143.7 398.2,143.5 398.8,142.3 400.2,141.1 400.2,140.7 400.1,139.7 400.4,139.1 401.0,138.8 401.8,138.6 405.9,139.3 406.1,139.5 406.3,139.9 406.2,141.9 406.0,142.3 404.9,143.3 404.7,143.7 404.8,144.1 406.0,146.1 406.2,146.9 406.4,148.5 405.9,150.1 406.0,151.5 405.8,151.9 405.3,152.3 403.2,153.4 402.6,153.4 401.4,152.8 400.8,152.8 400.5,153.1 400.2,154.0 399.8,154.4Z M432.0,152.8 431.6,152.8 431.2,152.7 429.6,151.8 428.9,150.7 428.2,149.9 427.9,149.3 427.8,146.3 427.9,145.5 428.6,142.5 429.0,141.9 429.6,141.5 430.4,141.5 431.2,141.6 431.7,141.9 432.8,142.9 433.2,143.5 433.4,145.0 434.1,146.9 434.1,147.7 433.6,149.3 433.3,151.1 432.8,152.1 432.4,152.5 432.0,152.8Z" fill-opacity="0.15"/>
<path d="M389.6,132.3 388.8,132.3 387.4,132.0 386.0,131.8 383.8,131.1 383.2,130.6 382.4,129.1 382.3,128.1 382.4,127.5 383.0,126.3 383.2,124.9 383.8,124.3 384.6,123.9 386.4,123.9 387.8,123.5 389.0,123.4 390.2,122.6 390.8,122.4 392.6,122.5 394.0,122.7 397.0,123.0 397.7,122.7 399.0,121.8 399.6,121.7 400.3,121.9 401.6,122.7 403.2,123.1 403.8,123.5 404.1,123.9 404.3,124.5 404.2,126.5 404.6,128.9 404.4,129.5 404.0,129.9 401.0,131.2 398.6,131.4 397.2,131.2 395.8,131.3 394.0,131.0 391.8,131.1 391.4,131.2 390.2,132.1 389.6,132.3Z M399.8,154.1 399.2,154.2 398.0,153.5 396.8,153.3 395.8,152.8 394.6,152.5 394.0,152.1 393.6,151.5 393.1,150.5 393.8,149.3 394.2,148.1 394.7,147.1 394.9,145.5 395.0,144.9 395.6,144.1 396.2,143.7 396.6,143.7 397.8,143.9 398.3,143.7 399.0,142.3 400.6,141.1 400.6,140.7 400.3,139.7 400.5,139.3 400.8,139.0 401.4,138.8 402.0,138.8 405.6,139.4 406.0,139.7 406.1,139.9 406.1,141.7 405.8,142.3 404.6,143.3 404.5,143.7 404.6,144.1 405.8,146.3 406.1,147.7 406.2,148.7 405.8,150.1 405.8,151.5 405.5,151.9 405.0,152.3 403.8,153.0 403.2,153.2 402.6,153.2 401.4,152.6 400.8,152.6 400.5,152.9 400.1,153.9 399.8,154.1Z M432.0,152.6 431.6,152.6 431.3,152.5 429.8,151.7 428.4,149.9 428.0,149.1 427.9,146.3 428.0,145.3 428.8,142.5 429.2,141.9 429.8,141.7 430.6,141.7 431.2,141.9 432.8,143.1 433.1,143.7 433.3,144.9 434.0,146.9 434.0,147.7 433.6,149.1 433.2,151.1 432.6,152.1 432.0,152.6Z M387.2,153.6 386.6,153.6 386.1,153.3 385.3,151.3 385.3,150.3 386.9,147.9 387.4,147.4 388.6,146.7 389.2,146.6 389.6,146.7 390.2,147.1 391.0,147.9 391.5,149.3 392.1,150.1 392.2,150.5 391.8,150.8 390.2,151.5 388.6,153.0 387.2,153.6Z" fill-opacity="0.15"/>
<path d="M389.4,132.1 388.6,132.0 387.4,131.7 386.4,131.7 385.8,131.5 383.9,130.9 383.2,130.3 382.6,129.1 382.5,128.1 382.6,127.5 383.2,126.3 383.4,125.1 383.8,124.5 384.6,124.1 386.2,124.1 387.8,123.7 389.0,123.6 389.4,123.4 390.2,122.8 390.8,122.6 392.4,122.6 394.0,122.9 395.2,122.9 396.8,123.1 397.6,122.9 398.8,122.2 399.2,122.1 399.8,122.2 400.8,122.9 403.2,123.3 403.6,123.5 404.0,123.9 404.2,124.7 404.0,126.5 404.5,128.9 404.2,129.5 403.8,129.8 401.6,130.9 400.8,131.1 398.6,131.2 397.2,131.0 396.0,131.1 394.6,130.9 391.6,130.8 391.2,131.0 390.2,131.9 389.4,132.1Z M399.6,154.0 399.0,153.9 398.0,153.3 396.8,153.1 395.8,152.5 394.6,152.2 394.2,151.9 393.9,151.5 393.7,150.9 393.7,150.3 394.3,148.3 394.9,147.1 395.1,145.1 395.6,144.3 396.2,143.9 396.6,143.8 397.8,144.1 398.4,143.9 399.2,142.4 400.9,141.3 401.0,140.9 400.6,140.1 400.5,139.7 400.7,139.3 401.0,139.1 402.0,139.0 405.4,139.5 405.7,139.7 405.9,140.1 406.0,141.7 405.6,142.3 404.4,143.3 404.3,143.7 405.7,146.7 406.0,147.9 406.0,148.5 405.7,149.9 405.6,151.5 405.3,151.9 404.8,152.2 403.8,152.8 403.2,153.1 402.6,153.0 401.2,152.5 400.6,152.6 400.3,152.9 399.9,153.7 399.6,154.0Z M432.0,152.4 431.4,152.3 429.8,151.4 428.5,149.9 428.2,149.1 428.0,146.3 428.1,145.3 428.9,142.7 429.3,142.1 429.8,141.9 430.4,141.8 431.0,142.0 432.2,142.8 432.7,143.3 433.9,146.9 433.9,147.7 433.5,149.1 433.1,150.9 432.6,151.9 432.0,152.4Z M387.8,153.1 387.0,153.3 386.6,153.2 386.4,153.0 385.6,151.3 385.5,150.5 385.8,149.9 386.8,148.3 387.4,147.6 388.4,147.0 389.4,146.9 390.0,147.2 390.8,148.0 391.7,150.3 391.4,150.7 390.0,151.5 388.8,152.6 387.8,153.1Z" fill-opacity="0.15"/>
<path d="M389.6,131.9 388.6,131.8 387.4,131.3 386.0,131.4 384.0,130.7 383.4,130.2 382.8,129.1 382.7,128.1 382.8,127.5 383.4,126.3 383.5,125.1 384.0,124.5 384.8,124.2 386.2,124.2 387.8,123.8 389.0,123.8 389.4,123.6 390.3,122.9 390.8,122.7 392.0,122.7 393.8,123.0 395.2,123.0 396.8,123.2 397.4,123.0 398.8,122.4 399.2,122.3 399.6,122.5 400.8,123.3 402.4,123.3 403.2,123.4 403.6,123.7 404.0,124.1 404.1,124.7 403.9,126.5 404.3,128.9 404.2,129.3 403.8,129.7 401.2,130.9 398.8,131.1 396.0,130.9 395.0,130.7 392.6,130.7 391.4,130.5 391.2,130.6 390.4,131.6 389.6,131.9Z M399.6,153.7 399.2,153.8 398.2,153.2 396.8,152.9 395.8,152.1 394.6,151.8 394.2,151.3 394.1,150.5 394.3,148.9 394.4,148.3 395.0,147.1 395.1,145.7 395.2,145.1 395.6,144.5 396.2,144.0 396.6,144.0 397.8,144.2 398.4,144.1 398.7,143.7 399.1,142.9 399.4,142.5 401.2,141.5 401.3,141.3 401.3,140.9 400.8,139.9 400.9,139.5 401.1,139.3 402.0,139.2 405.4,139.7 405.6,139.9 405.8,140.3 405.9,141.1 405.9,141.7 405.5,142.3 404.4,143.1 404.1,143.5 404.1,143.9 404.7,144.9 405.0,145.9 405.6,147.0 405.9,147.9 405.9,148.7 405.5,149.9 405.4,151.4 405.2,151.7 404.7,152.1 403.8,152.7 403.2,152.9 402.6,152.9 401.2,152.4 400.6,152.4 400.2,152.7 399.8,153.5 399.6,153.7Z M432.0,152.2 431.4,152.1 429.8,151.1 428.7,149.9 428.3,149.1 428.1,146.3 428.1,145.5 428.9,142.9 429.4,142.3 429.8,142.1 430.4,142.0 431.0,142.2 432.6,143.3 432.9,143.9 433.2,145.1 433.8,146.7 433.8,147.7 433.4,149.0 433.0,150.9 432.6,151.7 432.0,152.2Z M387.6,152.9 387.0,153.0 386.6,152.7 385.8,151.3 385.7,150.7 385.8,150.3 386.9,148.3 387.4,147.8 388.4,147.2 389.0,147.1 389.6,147.2 390.2,147.6 390.7,148.1 391.3,149.9 391.4,150.3 391.1,150.7 390.0,151.4 388.8,152.5 387.6,152.9Z" fill-opacity="0.15" stroke-opacity="0.65"/>
<path d="M389.8,131.7 389.2,131.8 388.6,131.7 387.4,131.0 386.4,131.2 386.0,131.2 384.2,130.6 383.6,130.1 383.0,129.1 382.9,128.1 383.0,127.5 383.5,126.5 383.7,125.3 384.0,124.8 384.8,124.4 386.2,124.3 387.8,123.9 389.0,124.0 389.4,123.8 390.4,123.0 391.0,122.8 392.2,122.8 393.8,123.1 395.2,123.1 396.8,123.2 397.4,123.1 398.6,122.6 399.0,122.5 399.6,122.7 400.4,123.3 400.8,123.5 402.8,123.4 403.4,123.7 403.8,124.1 404.0,124.7 403.8,126.5 404.2,128.7 404.0,129.3 403.6,129.7 401.2,130.7 398.6,131.0 396.2,130.7 395.2,130.4 393.6,130.5 392.4,130.4 391.4,130.2 391.0,130.4 390.4,131.4 389.8,131.7Z M399.4,153.5 399.0,153.5 398.4,152.9 397.4,152.9 396.9,152.7 395.6,151.4 394.9,151.1 394.8,150.5 394.5,149.5 394.4,148.9 394.6,148.3 395.1,147.1 395.2,145.7 395.4,145.1 395.8,144.5 396.4,144.1 397.8,144.3 398.4,144.2 398.8,143.9 399.6,142.6 400.2,142.3 401.4,141.8 401.6,141.5 401.6,141.1 401.1,139.9 401.1,139.7 401.4,139.4 402.2,139.3 405.2,139.8 405.6,140.1 405.7,140.5 405.8,141.1 405.7,141.7 405.3,142.3 403.8,143.3 403.7,143.5 404.5,144.9 404.8,146.3 405.4,147.1 405.7,147.9 405.7,148.7 405.4,149.9 405.3,151.3 404.7,151.9 403.8,152.5 403.2,152.7 402.6,152.7 401.2,152.2 400.3,152.3 400.0,152.5 399.7,153.3 399.4,153.5Z M432.0,152.0 431.4,151.9 429.8,150.9 428.8,149.9 428.4,149.1 428.1,146.3 428.2,145.3 429.0,143.1 429.4,142.5 430.0,142.2 431.0,142.4 432.0,143.0 432.6,143.5 433.7,146.7 433.7,147.7 433.3,148.9 433.0,150.7 432.6,151.5 432.0,152.0Z M402.9,143.1 402.4,142.7 402.2,142.9 402.3,143.1 402.6,143.2 402.8,143.2 402.9,143.1Z M387.6,152.7 387.2,152.7 386.8,152.5 386.2,151.7 385.9,150.9 386.0,150.1 387.0,148.4 387.6,147.8 388.6,147.4 389.2,147.4 389.8,147.5 390.3,147.9 390.6,148.3 391.1,149.9 391.1,150.3 390.8,150.7 388.8,152.3 388.2,152.6 387.6,152.7Z" fill-opacity="0.15" stroke-opacity="0.65"/>
<path d="M389.8,131.6 389.4,131.6 388.8,131.6 387.4,130.8 386.4,131.0 386.0,131.0 384.4,130.5 383.8,130.1 383.3,129.3 383.1,128.1 383.6,126.5 383.8,125.3 384.1,124.9 384.8,124.6 387.4,124.1 389.0,124.2 389.6,123.8 390.4,123.2 391.0,123.0 392.0,123.0 393.8,123.3 395.2,123.2 396.8,123.3 399.0,122.7 399.6,122.9 400.4,123.5 400.8,123.7 402.8,123.6 403.4,123.8 403.8,124.3 403.9,124.9 403.6,126.3 404.1,128.7 403.9,129.3 403.4,129.6 401.2,130.6 398.6,130.9 396.4,130.6 395.2,130.1 393.8,130.4 392.6,130.3 391.2,130.0 390.8,130.3 390.4,131.1 389.8,131.6Z M404.2,142.9 403.8,143.0 403.4,143.0 402.1,142.1 401.9,141.7 401.8,140.8 401.5,140.1 401.6,139.7 402.2,139.5 403.6,139.6 404.8,139.8 405.4,140.1 405.7,140.9 405.6,141.7 405.2,142.3 404.2,142.9Z M403.4,152.5 402.8,152.6 401.2,152.1 400.0,152.1 399.2,151.6 398.8,151.7 398.2,152.5 397.8,152.7 397.2,152.6 396.6,152.3 395.9,151.3 395.4,150.2 394.8,149.6 394.6,149.1 394.7,148.3 395.2,147.1 395.3,145.5 395.8,144.6 396.2,144.3 396.6,144.2 397.8,144.4 398.4,144.4 398.8,144.1 399.8,142.8 400.3,142.5 400.8,142.4 401.4,142.5 401.8,143.1 402.4,143.5 403.2,143.7 403.6,143.9 404.3,144.9 404.4,145.5 404.4,146.3 405.4,147.5 405.6,148.5 405.1,151.3 404.6,151.8 403.4,152.5Z M432.0,151.8 431.4,151.7 429.8,150.8 428.8,149.7 428.5,148.9 428.2,146.3 428.3,145.3 429.0,143.3 429.4,142.8 430.0,142.4 430.6,142.4 431.2,142.6 432.5,143.5 432.7,143.9 433.6,146.7 433.6,147.5 433.2,148.9 432.9,150.7 432.4,151.5 432.0,151.8Z M387.6,152.5 387.0,152.3 386.2,151.3 386.1,150.7 386.3,149.9 387.1,148.5 387.8,147.8 388.8,147.6 389.8,147.8 390.2,148.0 390.5,148.5 390.9,149.7 390.9,150.3 390.5,150.7 388.8,152.1 388.2,152.4 387.6,152.5Z" fill-opacity="0.15" stroke-opacity="0.65"/>
<path d="M389.4,131.5 388.6,131.3 387.6,130.6 386.4,130.8 386.0,130.8 384.4,130.3 383.8,129.8 383.4,129.1 383.3,128.1 383.8,126.7 383.9,125.5 384.2,125.0 384.8,124.7 387.2,124.3 389.0,124.4 389.6,124.1 390.5,123.3 391.0,123.1 392.0,123.1 393.6,123.4 395.4,123.2 396.8,123.4 398.8,122.8 399.2,122.8 399.6,123.0 400.4,123.7 400.8,123.9 402.2,123.7 402.8,123.7 403.3,123.9 403.7,124.3 403.8,124.9 403.5,126.3 403.9,128.7 403.8,129.1 403.4,129.5 401.2,130.4 398.6,130.8 396.4,130.5 395.2,129.9 394.4,130.2 393.8,130.3 392.6,130.2 391.4,129.8 391.0,129.8 390.7,130.1 390.5,130.7 390.2,131.2 389.8,131.4 389.4,131.5Z M402.2,125.9 402.1,125.7 401.8,125.7 402.0,125.9 402.2,125.9Z M404.4,142.7 403.8,142.9 403.4,142.8 402.3,141.9 402.1,141.5 401.9,140.3 402.0,139.9 402.6,139.7 404.0,139.8 405.0,140.0 405.4,140.3 405.6,141.1 405.5,141.7 405.0,142.3 404.4,142.7Z M432.2,151.5 431.6,151.6 430.0,150.8 429.1,149.9 428.6,149.1 428.3,146.3 428.3,145.5 429.0,143.5 429.4,143.0 430.0,142.6 430.6,142.6 431.2,142.8 432.0,143.2 432.4,143.6 432.7,144.1 433.5,146.7 433.5,147.5 433.2,148.7 432.8,150.5 432.6,151.1 432.2,151.5Z M397.4,152.5 397.0,152.4 396.6,152.0 396.1,151.1 395.6,150.1 394.8,149.1 394.8,148.5 395.3,147.1 395.4,145.7 395.7,144.9 396.2,144.5 396.6,144.4 398.4,144.5 398.8,144.3 399.8,143.2 400.6,142.8 401.0,142.8 402.2,143.6 403.4,144.0 403.9,144.5 404.2,145.1 404.2,146.5 405.2,147.5 405.5,148.1 405.5,148.9 405.1,150.9 404.9,151.3 403.8,152.1 403.0,152.5 402.4,152.4 401.4,152.1 400.2,151.9 399.2,151.4 398.8,151.5 398.0,152.3 397.4,152.5Z M387.8,152.3 387.4,152.3 387.1,152.1 386.4,151.3 386.2,150.5 386.5,149.7 387.2,148.5 387.8,148.0 388.8,147.8 389.8,148.0 390.2,148.3 390.4,148.7 390.7,149.7 390.6,150.3 390.1,150.9 389.0,151.8 388.4,152.2 387.8,152.3Z" fill-opacity="0.15" stroke-opacity="0.65"/>
<path d="M389.6,131.4 388.8,131.3 387.8,130.4 387.4,130.4 386.6,130.6 386.0,130.7 384.6,130.2 384.0,129.8 383.6,129.1 383.6,128.3 384.0,127.1 384.0,125.7 384.4,125.1 385.0,124.8 387.2,124.4 387.8,124.4 388.6,124.6 389.0,124.6 389.6,124.3 390.6,123.4 391.2,123.2 392.0,123.2 393.6,123.5 395.2,123.3 396.8,123.4 398.8,122.9 399.4,123.0 400.8,124.1 402.6,123.8 403.2,124.0 403.5,124.3 403.6,124.9 403.2,126.1 403.7,128.1 403.8,128.7 403.6,129.1 403.2,129.4 401.2,130.2 398.6,130.7 396.6,130.4 395.4,129.7 395.0,129.7 394.2,130.1 393.6,130.1 391.0,129.7 390.6,129.9 390.2,130.9 389.6,131.4Z M402.6,126.1 402.6,125.9 402.3,125.5 401.9,125.3 401.6,125.3 401.5,125.5 401.5,125.7 401.8,126.0 402.2,126.2 402.6,126.1Z M385.3,127.5 385.2,127.4 385.0,127.3 384.9,127.5 385.3,127.5Z M404.0,142.7 403.6,142.7 403.2,142.5 402.4,141.7 402.2,140.5 402.2,140.3 402.4,140.0 403.2,139.8 404.4,139.9 405.0,140.1 405.4,140.5 405.5,141.3 405.3,141.9 404.8,142.4 404.0,142.7Z M432.2,151.3 431.6,151.4 430.0,150.6 429.2,149.9 428.7,149.1 428.3,146.3 428.4,145.5 428.7,144.3 429.1,143.5 429.6,143.0 430.0,142.8 431.0,142.8 432.2,143.5 432.6,144.1 433.4,146.5 433.5,147.5 433.1,148.7 432.8,150.3 432.6,150.9 432.2,151.3Z M403.0,152.3 402.6,152.3 401.4,152.0 400.4,151.8 399.2,151.3 398.8,151.3 398.0,152.1 397.6,152.3 397.2,152.3 396.8,152.0 396.2,151.1 395.7,149.9 395.0,149.2 394.9,148.7 395.4,147.1 395.5,145.5 396.0,144.8 396.6,144.5 398.0,144.6 398.6,144.5 399.8,143.4 400.6,143.1 401.2,143.3 402.2,143.8 403.2,144.1 403.6,144.4 404.0,145.1 404.0,146.5 404.2,146.8 405.1,147.7 405.3,148.1 405.4,148.7 405.0,150.7 404.8,151.1 404.2,151.7 403.0,152.3Z M388.0,152.1 387.6,152.1 387.2,152.0 386.6,151.3 386.4,150.7 386.5,149.9 387.2,148.7 387.8,148.1 388.6,147.9 389.6,148.1 390.0,148.3 390.3,148.9 390.5,149.7 390.4,150.3 390.0,150.9 389.2,151.6 388.6,151.9 388.0,152.1Z" fill-opacity="0.15" stroke-opacity="0.65"/>
<path d="M389.8,131.1 389.4,131.2 388.8,131.1 388.2,130.5 387.8,130.2 387.4,130.2 386.4,130.5 386.0,130.5 384.7,130.1 384.1,129.7 383.8,128.9 383.8,128.5 384.0,128.0 384.4,127.8 385.2,127.8 385.4,127.7 385.6,127.5 385.4,127.2 384.4,127.0 384.2,126.7 384.2,125.9 384.4,125.3 385.0,125.0 387.0,124.5 387.6,124.5 388.6,124.8 389.0,124.7 389.8,124.4 390.8,123.5 391.2,123.4 392.0,123.4 393.6,123.6 395.2,123.4 396.8,123.5 398.8,123.0 399.2,123.0 399.6,123.3 400.8,124.4 401.2,124.4 401.8,124.1 402.6,123.9 403.1,124.1 403.4,124.4 403.5,124.7 403.5,125.1 403.2,125.6 403.0,125.7 401.6,125.0 401.3,125.1 401.2,125.3 401.4,125.7 401.8,126.2 402.2,126.4 402.8,126.4 403.2,126.8 403.7,128.5 403.6,128.9 403.2,129.3 401.0,130.1 398.6,130.6 396.6,130.3 395.4,129.5 395.0,129.6 394.2,129.9 393.6,130.0 391.0,129.5 390.6,129.6 390.4,129.8 390.2,130.7 389.8,131.1Z M404.4,142.5 404.0,142.6 403.6,142.6 403.2,142.4 402.7,141.9 402.5,141.5 402.3,140.9 402.4,140.4 402.6,140.2 403.2,140.0 404.0,140.0 404.8,140.1 405.2,140.4 405.4,141.1 405.3,141.7 405.0,142.1 404.4,142.5Z M432.2,151.2 431.6,151.3 430.0,150.5 429.3,149.9 428.8,149.1 428.4,146.3 428.4,145.5 428.7,144.5 429.1,143.7 429.6,143.1 430.0,142.9 430.4,142.9 431.0,142.9 431.6,143.2 432.2,143.6 432.5,144.1 433.3,146.5 433.4,147.5 433.0,148.7 432.8,150.1 432.6,150.7 432.2,151.2Z M403.2,152.1 402.6,152.2 400.6,151.8 399.2,151.2 398.7,151.3 397.6,152.1 397.2,152.1 397.0,151.9 396.4,151.1 395.8,149.8 395.2,149.1 395.0,148.7 395.1,148.3 395.5,147.1 395.6,145.7 396.0,144.9 396.6,144.6 398.2,144.7 398.6,144.6 399.8,143.7 400.6,143.4 401.4,143.6 403.4,144.5 403.8,145.1 403.8,146.5 404.0,146.9 405.0,147.8 405.2,148.2 405.3,148.7 404.8,150.9 404.4,151.3 403.2,152.1Z M388.2,151.9 387.4,151.9 386.8,151.3 386.5,150.7 386.6,149.9 387.2,148.8 387.8,148.3 388.4,148.1 389.4,148.2 389.9,148.5 390.1,148.9 390.3,149.7 390.3,150.3 390.0,150.7 389.4,151.3 388.8,151.7 388.2,151.9Z" fill-opacity="0.15" stroke-opacity="0.65"/>
<path d="M389.4,131.1 388.8,130.9 388.3,130.3 388.0,130.1 387.6,130.1 386.6,130.4 386.0,130.4 384.8,130.0 384.2,129.5 384.0,128.9 384.2,128.3 384.4,128.1 385.4,127.9 385.7,127.5 385.6,127.1 384.6,126.7 384.4,126.5 384.3,125.9 384.7,125.3 386.0,124.8 387.0,124.6 387.6,124.6 388.4,124.9 389.0,124.9 390.0,124.5 390.8,123.7 391.4,123.5 393.8,123.7 395.2,123.4 397.0,123.5 398.4,123.1 399.0,123.1 399.6,123.4 400.1,123.9 400.8,124.7 401.1,125.5 401.6,126.1 402.0,126.4 403.0,126.8 403.5,128.1 403.5,128.5 403.4,128.9 403.0,129.2 401.8,129.6 401.0,129.9 398.6,130.5 396.6,130.2 395.4,129.4 395.0,129.4 394.2,129.8 393.6,129.9 390.8,129.4 390.2,129.7 390.0,130.7 389.8,130.9 389.4,131.1Z M403.0,125.4 402.6,125.3 401.9,124.9 401.6,124.7 401.6,124.5 401.8,124.3 402.4,124.1 403.0,124.2 403.2,124.3 403.4,124.7 403.3,125.1 403.0,125.4Z M404.0,142.5 403.6,142.5 403.2,142.2 402.6,141.5 402.5,140.7 402.7,140.3 403.0,140.1 403.6,140.0 404.4,140.1 405.0,140.3 405.3,140.7 405.4,141.3 405.1,141.9 404.6,142.3 404.0,142.5Z M431.8,151.1 431.2,151.0 429.8,150.3 429.2,149.7 428.9,148.9 428.7,147.5 428.5,146.3 428.5,145.3 428.9,144.3 429.2,143.7 429.6,143.3 430.2,143.0 430.8,143.0 431.2,143.1 431.8,143.4 432.2,143.7 432.5,144.3 433.3,146.7 433.3,147.5 433.0,148.5 432.6,150.3 432.3,150.9 431.8,151.1Z M403.2,151.9 402.6,152.0 400.6,151.7 399.2,151.1 398.8,151.1 397.6,151.9 397.2,151.9 397.0,151.7 396.5,151.1 396.0,149.9 395.3,149.1 395.2,148.7 395.2,148.3 395.6,147.1 395.7,145.7 396.0,145.1 396.4,144.8 396.8,144.7 398.2,144.8 398.6,144.7 399.8,143.8 400.6,143.6 401.4,143.7 403.0,144.4 403.4,144.7 403.6,145.3 403.6,146.3 403.7,146.7 404.9,147.9 405.1,148.7 404.9,150.3 404.6,150.9 404.2,151.3 403.2,151.9Z M388.2,151.7 387.6,151.7 387.0,151.3 386.7,150.7 386.7,149.9 387.2,149.0 387.8,148.4 388.6,148.3 389.4,148.4 389.8,148.7 390.0,149.1 390.1,149.7 390.1,150.3 389.8,150.7 389.2,151.3 388.2,151.7Z" fill-opacity="0.15" stroke-opacity="0.65"/>
</g>
<rect x="394" y="161.2" width="35.0" height="2.1" fill="#000"/>
<rect x="380.6" y="117" width="2.2" height="43.0" fill="#000"/>
<rect x="380.7" y="102.2" width="13.1" height="7.1" fill="#fff"/>
<text x="381.20000000000005" y="108.10000000000001" text-anchor="start" style="font-size:5.4px;" fill="#000" stroke="#000" stroke-width="0.16">44.3</text>
<rect x="426.9" y="102.2" width="13.8" height="7.1" fill="#fff"/>
<text x="439.6" y="108.10000000000001" text-anchor="end" style="font-size:5.4px;" fill="#000" stroke="#000" stroke-width="0.16">0.68</text>
<rect x="380.7" y="157.1" width="13.1" height="6.0" fill="#fff"/>
<path d="M380.7,157.1 H393.8 V163.1" fill="none" stroke="#000" stroke-width="0.45"/>
<text x="381.20000000000005" y="162.10000000000002" text-anchor="start" style="font-size:5.4px;" fill="#000" stroke="#000" stroke-width="0.16">42.9</text>
<rect x="426.9" y="157.1" width="13.8" height="6.0" fill="#fff"/>
<path d="M426.9,163.1 V157.1 H440.7" fill="none" stroke="#000" stroke-width="0.45"/>
<text x="439.6" y="162.10000000000002" text-anchor="end" style="font-size:5.4px;" fill="#000" stroke="#000" stroke-width="0.16">12.1</text>
<line x1="393.76400000000007" y1="102.7" x2="426.936" y2="102.7" stroke="#000" stroke-width="0.6"/>
<line x1="441.0" y1="102.7" x2="441.0" y2="163.3" stroke="#333" stroke-width="0.6"/>
<line x1="380.6" y1="102.4" x2="380.6" y2="163.70000000000002" stroke="#000" stroke-width="0.9"/>
<line x1="380.20000000000005" y1="163.3" x2="441.3" y2="163.3" stroke="#000" stroke-width="0.9"/>
<clipPath id="cp8"><rect x="456.3" y="102.7" width="61.3" height="60.6"/></clipPath>
<text x="453.7" y="103.1" text-anchor="end" style="font-size:2.5px;font-weight:normal" fill="#444">10<tspan dy="-0.9" style="font-size:1.9px">4</tspan></text>
<text x="456.5" y="168.3" text-anchor="middle" style="font-size:2.5px;font-weight:normal" fill="#444">10<tspan dy="-0.9" style="font-size:1.9px">0</tspan></text>
<line x1="454.1" y1="102.7" x2="456.3" y2="102.7" stroke="#666" stroke-width="0.35"/>
<line x1="456.3" y1="163.3" x2="456.3" y2="165.3" stroke="#666" stroke-width="0.35"/>
<text x="453.7" y="118.3" text-anchor="end" style="font-size:2.5px;font-weight:normal" fill="#444">10<tspan dy="-0.9" style="font-size:1.9px">3</tspan></text>
<text x="471.8" y="168.3" text-anchor="middle" style="font-size:2.5px;font-weight:normal" fill="#444">10<tspan dy="-0.9" style="font-size:1.9px">1</tspan></text>
<line x1="454.1" y1="117.85000000000001" x2="456.3" y2="117.85000000000001" stroke="#666" stroke-width="0.35"/>
<line x1="471.625" y1="163.3" x2="471.625" y2="165.3" stroke="#666" stroke-width="0.35"/>
<text x="453.7" y="133.4" text-anchor="end" style="font-size:2.5px;font-weight:normal" fill="#444">10<tspan dy="-0.9" style="font-size:1.9px">2</tspan></text>
<text x="487.2" y="168.3" text-anchor="middle" style="font-size:2.5px;font-weight:normal" fill="#444">10<tspan dy="-0.9" style="font-size:1.9px">2</tspan></text>
<line x1="454.1" y1="133.0" x2="456.3" y2="133.0" stroke="#666" stroke-width="0.35"/>
<line x1="486.95000000000005" y1="163.3" x2="486.95000000000005" y2="165.3" stroke="#666" stroke-width="0.35"/>
<text x="453.7" y="148.6" text-anchor="end" style="font-size:2.5px;font-weight:normal" fill="#444">10<tspan dy="-0.9" style="font-size:1.9px">1</tspan></text>
<text x="502.5" y="168.3" text-anchor="middle" style="font-size:2.5px;font-weight:normal" fill="#444">10<tspan dy="-0.9" style="font-size:1.9px">3</tspan></text>
<line x1="454.1" y1="148.15" x2="456.3" y2="148.15" stroke="#666" stroke-width="0.35"/>
<line x1="502.27500000000003" y1="163.3" x2="502.27500000000003" y2="165.3" stroke="#666" stroke-width="0.35"/>
<text x="453.7" y="163.7" text-anchor="end" style="font-size:2.5px;font-weight:normal" fill="#444">10<tspan dy="-0.9" style="font-size:1.9px">0</tspan></text>
<text x="517.8" y="168.3" text-anchor="middle" style="font-size:2.5px;font-weight:normal" fill="#444">10<tspan dy="-0.9" style="font-size:1.9px">4</tspan></text>
<line x1="454.1" y1="163.3" x2="456.3" y2="163.3" stroke="#666" stroke-width="0.35"/>
<line x1="517.6" y1="163.3" x2="517.6" y2="165.3" stroke="#666" stroke-width="0.35"/>
<line x1="493.6" y1="102.7" x2="493.6" y2="163.3" stroke="#000" stroke-width="0.6"/>
<line x1="456.3" y1="133.8" x2="517.6" y2="133.8" stroke="#000" stroke-width="0.6"/>
<g clip-path="url(#cp8)" stroke="#000" stroke-width="0.55" stroke-linejoin="round" fill="#000">
<path d="M481.9,159.8 481.3,159.8 480.7,159.6 479.0,158.3 477.9,158.0 476.7,157.8 476.3,157.6 475.9,157.1 475.6,156.5 475.4,154.9 475.0,153.5 475.1,153.4 475.7,153.3 475.9,153.0 476.0,152.1 476.2,151.3 476.1,151.1 475.9,151.1 475.7,151.2 474.9,152.4 474.7,152.7 474.5,152.6 473.7,151.1 473.3,150.7 472.9,150.5 471.7,150.4 471.1,150.1 470.7,149.5 470.5,148.5 470.3,148.2 468.6,147.5 467.9,146.3 467.5,146.2 466.7,146.3 466.5,146.1 466.5,145.3 467.1,143.6 467.1,143.1 466.9,142.4 466.2,141.3 467.3,139.7 467.4,139.1 467.4,138.7 467.1,138.1 466.5,137.6 465.9,137.4 465.1,137.5 464.8,137.3 464.9,137.1 465.9,136.6 466.2,136.1 466.3,135.3 466.0,134.7 465.7,134.4 465.3,134.3 463.3,134.6 462.7,134.5 462.1,134.4 461.4,133.9 460.6,132.9 459.3,132.5 458.2,131.5 456.3,130.6 456.2,129.5 456.2,124.3 456.1,122.1 456.2,117.1 456.3,116.2 456.6,115.7 456.8,114.5 457.1,114.1 457.5,113.8 458.1,113.6 459.5,113.5 461.1,112.6 462.7,112.3 463.5,112.3 464.7,112.9 465.1,112.8 466.1,112.1 466.5,112.0 469.5,111.9 471.1,112.0 474.5,111.5 477.5,111.6 478.3,111.8 479.5,112.6 481.9,112.9 483.3,113.3 484.0,113.7 484.8,114.7 486.5,114.8 486.9,115.1 487.5,115.9 488.1,116.3 488.9,116.5 490.5,116.7 492.4,117.9 495.3,119.2 496.9,119.0 499.5,119.1 500.3,118.7 501.7,117.4 502.9,117.1 504.3,116.7 505.3,116.7 506.1,117.1 506.7,117.5 507.1,118.0 507.9,119.4 508.9,120.3 509.1,120.7 509.3,121.3 509.4,122.5 509.4,123.1 509.1,123.9 508.3,125.6 506.7,127.0 505.9,127.3 502.1,127.8 501.3,127.6 500.1,127.0 499.3,127.0 496.9,127.6 494.5,129.5 494.2,129.9 493.5,131.9 492.3,133.1 492.3,133.5 492.5,134.5 492.3,135.1 491.9,135.5 490.5,136.1 489.9,136.6 489.5,137.3 489.3,138.9 489.1,139.5 488.7,139.9 487.7,140.5 487.5,140.9 487.5,141.3 487.9,142.1 488.3,142.7 489.5,143.7 489.8,144.3 489.8,144.7 489.5,145.1 488.5,145.8 488.2,146.3 487.9,148.3 487.1,149.5 486.8,150.9 486.5,151.2 485.3,151.9 483.1,155.3 483.0,155.9 483.3,156.2 484.5,155.9 484.9,155.9 485.1,156.3 484.9,157.1 484.3,157.6 483.3,158.0 483.0,158.3 482.6,159.3 481.9,159.8Z M506.1,158.7 505.3,158.6 504.7,158.2 504.2,157.5 503.5,155.7 502.8,154.9 502.6,154.5 502.4,152.7 501.6,151.5 501.3,150.7 501.3,149.9 502.0,148.9 502.1,148.5 501.6,147.5 501.4,146.7 501.8,145.9 503.1,144.9 503.5,144.3 503.6,143.7 503.4,141.5 503.5,140.9 503.9,140.5 504.7,140.1 505.2,139.5 506.3,138.7 507.1,137.8 507.7,137.6 508.2,137.9 509.1,139.1 510.1,140.1 511.1,140.9 511.2,141.3 511.0,142.7 511.3,143.1 511.8,143.5 512.1,144.0 512.3,145.5 513.1,147.1 513.3,148.1 512.5,150.9 511.7,152.9 511.6,153.5 511.8,154.9 511.7,155.5 510.9,156.8 510.1,157.9 509.1,158.6 508.7,158.6 508.3,158.3 507.9,158.2 506.1,158.7Z" fill="none"/>
<path d="M481.3,158.1 480.7,158.0 478.9,157.1 477.3,155.9 477.2,155.5 477.5,154.5 477.2,152.7 477.4,150.9 477.2,150.1 476.6,149.3 476.9,148.7 476.8,148.3 476.5,148.1 476.1,148.1 475.9,148.3 475.8,148.9 475.7,149.1 475.5,149.2 474.5,149.0 473.5,148.5 472.9,147.9 472.1,146.9 470.9,146.3 470.5,146.0 470.2,145.5 469.8,144.3 468.7,143.3 468.2,142.5 468.1,141.7 468.7,140.5 469.3,138.7 469.5,138.5 470.5,138.4 470.9,137.9 470.8,137.3 469.8,135.1 469.4,134.7 468.9,134.4 467.7,134.4 467.3,134.2 465.7,132.9 465.1,132.9 463.9,133.2 462.9,133.0 461.4,131.9 460.9,131.7 459.9,131.6 459.5,131.5 457.4,130.5 456.3,129.7 456.3,126.3 456.7,124.3 456.6,123.9 456.3,123.7 456.2,122.7 456.3,117.2 457.1,116.7 458.1,115.3 458.5,115.0 461.7,113.7 462.9,113.7 464.3,114.0 465.1,113.8 466.7,113.1 467.5,112.9 468.5,112.9 470.9,113.1 471.4,113.3 472.1,113.8 472.5,113.9 472.8,113.7 473.5,113.0 474.1,112.8 477.1,112.8 478.1,113.1 478.9,113.9 479.3,114.1 481.5,114.2 482.3,114.4 483.1,114.9 484.3,116.0 484.7,116.1 485.5,115.9 485.9,116.0 487.1,116.8 489.3,117.5 489.9,117.9 490.1,118.7 490.5,119.0 490.9,119.1 491.9,118.9 492.7,119.0 493.5,119.2 495.3,120.1 496.3,120.3 499.5,120.3 500.1,120.1 500.8,119.1 501.5,118.4 502.1,118.2 503.3,117.9 504.3,117.5 504.9,117.4 505.7,117.6 506.4,118.1 508.5,120.9 508.7,121.5 508.8,122.3 508.6,123.5 508.1,124.4 507.2,125.3 506.7,126.1 506.2,126.5 505.3,126.8 502.9,127.1 502.3,127.2 501.6,126.9 500.5,126.0 499.7,125.5 498.3,124.9 497.5,124.7 495.9,126.3 494.9,127.7 493.1,129.6 492.9,129.6 492.2,128.5 491.9,128.4 491.5,128.7 491.1,129.7 491.1,131.5 490.8,132.3 490.3,132.8 489.1,133.3 488.7,134.3 487.7,135.1 486.9,136.2 486.3,136.3 484.5,135.8 483.4,134.9 482.9,134.8 482.5,135.0 481.6,135.9 481.5,136.3 481.7,136.5 483.5,136.0 483.9,136.0 484.1,136.3 484.3,136.9 484.3,138.3 484.5,138.6 485.3,139.3 485.4,139.9 485.2,140.7 484.4,142.1 484.4,142.7 484.6,143.3 484.9,143.7 485.7,144.0 486.0,144.3 486.1,144.9 486.2,146.7 486.1,147.0 485.9,147.2 484.9,147.5 484.3,147.7 483.9,148.2 483.3,149.1 483.3,149.5 483.4,149.9 484.4,150.7 484.5,151.1 484.4,151.7 484.0,152.7 482.5,154.9 482.2,155.7 481.9,157.5 481.7,157.9 481.3,158.1Z M506.5,157.7 505.9,157.7 505.5,157.6 504.9,156.9 504.5,156.1 504.1,154.5 503.7,153.7 503.3,152.5 502.2,150.9 502.2,150.5 502.3,150.1 503.1,149.1 503.4,148.5 503.3,148.1 502.6,147.3 502.5,146.9 502.7,146.5 503.7,145.6 504.1,145.0 504.4,143.3 504.7,142.7 505.1,142.5 506.2,142.1 506.5,141.8 506.9,141.0 507.3,140.7 508.5,140.4 509.3,140.7 509.8,141.3 510.0,141.9 510.1,143.8 510.3,144.1 510.9,144.7 511.3,145.9 512.2,147.1 512.5,147.7 512.5,148.3 512.4,148.9 511.9,150.1 511.7,151.5 511.1,153.1 511.0,154.9 510.7,155.7 510.3,156.2 509.9,156.5 509.5,156.6 508.3,156.7 507.1,157.5 506.5,157.7Z M484.5,145.3 484.8,145.1 484.8,144.9 484.5,144.7 483.9,144.9 483.6,145.1 483.7,145.3 484.5,145.3Z" fill="none"/>
<path d="M480.9,156.9 480.5,156.9 479.7,156.5 479.2,156.1 479.0,155.7 479.0,155.1 479.3,154.6 480.2,154.1 480.6,153.7 480.5,153.5 480.3,153.3 479.9,153.2 479.5,153.2 479.1,153.5 478.7,153.6 478.3,153.4 478.1,153.2 478.0,152.7 478.1,151.5 477.9,149.9 478.0,148.7 477.8,148.1 477.1,147.5 476.3,147.2 475.7,147.2 474.5,148.0 474.1,147.9 473.7,147.7 473.3,147.3 473.3,146.7 473.5,146.3 474.6,145.1 474.8,144.7 474.7,144.5 474.1,144.2 473.3,144.0 472.9,144.3 472.1,145.3 471.7,145.5 471.5,145.5 471.3,145.3 471.1,144.9 471.0,143.7 469.8,142.3 469.8,141.9 470.2,140.9 470.4,139.7 471.5,138.5 472.1,137.5 472.9,136.6 473.1,135.5 473.0,135.1 472.8,134.7 472.3,134.3 471.7,134.2 470.3,133.9 469.3,133.6 467.7,133.4 467.2,133.1 466.4,132.1 465.9,131.8 462.9,131.5 460.9,130.9 459.5,130.7 457.9,130.1 457.3,129.5 457.2,129.1 457.9,128.3 458.0,127.7 457.1,125.9 457.1,125.3 457.3,123.9 456.9,123.5 456.3,123.2 456.2,121.7 456.3,118.4 456.6,117.9 457.5,117.4 458.3,116.5 460.1,115.3 461.1,115.0 464.1,114.8 465.7,114.2 466.5,114.0 467.3,114.1 468.7,114.8 468.9,114.7 469.1,114.1 469.9,113.8 470.9,113.9 471.7,114.5 472.3,114.7 473.1,114.5 474.3,113.7 475.5,113.9 477.1,113.7 477.7,113.9 479.1,114.7 480.9,114.8 482.3,115.2 483.3,115.9 484.3,117.3 484.7,117.7 484.9,117.7 485.5,117.3 485.9,117.2 486.9,117.6 488.3,117.9 488.6,118.1 489.5,119.3 490.1,119.7 490.5,119.9 493.3,119.9 496.9,121.1 499.5,120.9 500.3,120.7 501.1,119.3 501.7,118.8 504.5,118.1 505.1,118.0 505.7,118.2 506.3,118.6 507.1,119.5 508.0,120.9 508.2,121.5 508.4,122.3 508.3,122.9 508.2,123.5 507.8,124.1 506.7,125.1 506.2,125.9 505.7,126.3 502.9,126.8 502.1,126.6 500.0,124.9 498.5,123.9 497.5,122.9 497.1,122.9 496.5,123.4 495.9,124.3 495.3,125.4 493.7,127.1 493.1,127.4 491.9,127.8 491.3,128.4 490.8,129.7 490.5,131.3 490.1,131.9 489.7,132.2 489.3,132.3 487.9,132.3 487.4,133.9 486.5,134.9 486.1,135.1 485.7,135.1 482.3,133.6 480.9,133.3 480.3,133.4 478.2,134.5 477.5,134.9 477.1,135.3 476.7,135.9 476.6,136.5 476.9,137.1 477.3,137.5 477.9,137.4 478.9,136.6 479.5,136.4 480.1,136.5 480.7,137.5 481.1,137.7 481.5,137.7 482.5,137.4 482.9,137.4 483.1,137.7 482.9,138.5 482.9,139.3 483.1,139.8 483.7,140.7 483.6,141.9 483.8,143.5 483.5,144.0 482.6,144.7 482.4,145.3 482.5,145.7 483.0,146.7 483.1,147.1 483.0,147.7 482.5,148.9 482.6,149.7 482.8,150.3 483.7,151.3 483.7,151.9 483.4,152.5 482.2,153.9 481.5,156.3 481.2,156.7 480.9,156.9Z M470.7,132.7 470.9,132.3 470.9,132.1 470.7,131.7 470.5,131.7 470.2,131.9 470.1,132.3 470.3,132.7 470.5,132.8 470.7,132.7Z M506.5,157.1 506.1,157.2 505.7,157.0 505.1,156.3 504.9,155.5 504.7,153.9 503.1,151.1 502.9,150.5 503.0,150.1 503.7,149.0 503.9,148.5 503.8,148.1 503.5,146.9 504.4,145.3 504.9,143.5 505.3,143.1 506.7,142.5 507.7,141.5 508.1,141.3 508.5,141.3 509.0,141.5 509.3,141.9 509.5,142.5 509.7,144.3 510.7,146.3 511.5,147.0 511.9,147.5 512.0,147.9 512.0,148.5 511.4,149.9 511.3,151.5 510.6,153.1 510.4,154.7 510.1,155.3 509.7,155.7 508.1,156.1 506.9,157.0 506.5,157.1Z M478.1,145.3 479.5,144.7 480.1,144.3 480.4,143.9 480.5,143.4 480.3,143.3 480.1,143.3 478.7,144.2 477.5,144.3 477.0,144.5 476.9,144.9 477.1,145.3 477.5,145.4 478.1,145.3Z" fill="none"/>
<path d="M481.5,152.5 480.9,152.7 480.3,152.6 479.5,152.3 479.0,151.9 478.6,151.1 478.4,150.3 478.7,148.1 478.5,147.7 477.5,146.7 477.5,146.5 478.7,145.7 479.9,145.2 481.1,144.3 481.4,143.9 481.4,143.5 481.4,143.1 481.1,142.7 480.7,142.6 480.3,142.7 478.7,143.8 477.9,143.9 476.7,143.6 476.3,143.3 475.7,142.5 475.5,142.4 475.3,142.4 474.6,143.1 474.3,143.2 473.9,143.1 473.7,142.9 473.4,142.5 473.4,141.1 473.1,140.7 472.8,140.7 472.4,140.9 471.9,141.8 471.7,142.0 471.5,142.0 471.2,141.9 471.2,141.5 471.2,140.3 471.3,139.7 471.9,138.9 473.5,137.4 473.8,136.9 474.0,134.9 473.8,134.3 473.4,134.1 472.1,133.7 471.5,133.4 471.3,132.9 471.2,131.9 470.9,131.5 470.7,131.4 470.1,131.6 469.3,132.7 468.5,132.9 467.9,132.6 467.0,131.7 466.1,131.3 462.1,130.6 460.7,130.2 459.3,129.9 458.7,129.5 458.5,127.9 457.6,126.1 457.5,125.5 457.6,124.9 458.1,123.9 458.1,123.7 457.9,123.5 456.3,122.8 456.2,121.5 456.3,120.5 456.6,119.9 457.0,118.9 458.5,117.1 458.9,116.8 460.9,115.7 464.1,115.4 465.5,114.8 466.1,114.7 466.7,114.8 467.5,115.0 469.1,115.8 469.7,115.8 470.2,115.5 470.3,115.3 470.3,114.9 470.5,114.7 471.1,115.0 471.5,115.1 473.7,115.2 474.4,115.7 475.1,115.8 475.5,115.7 475.9,114.9 476.2,114.5 476.7,114.3 477.3,114.3 479.1,115.2 480.9,115.2 481.7,115.4 482.5,115.8 483.2,116.3 484.3,117.9 484.7,118.2 485.1,118.3 486.1,118.1 487.3,118.4 488.1,118.8 489.9,120.1 490.5,120.4 492.3,120.8 493.5,120.6 494.3,120.7 495.7,121.2 496.6,121.9 496.6,122.5 495.9,123.7 493.9,125.6 492.7,126.4 491.3,128.0 490.9,128.7 490.2,130.9 489.9,131.5 489.3,131.8 488.7,131.7 488.4,131.5 487.9,130.7 487.7,130.7 487.3,130.7 486.9,131.0 486.7,131.7 486.8,133.1 486.6,133.5 486.3,133.7 484.9,133.9 484.3,133.9 483.5,133.6 482.1,132.7 481.1,132.6 480.4,132.7 479.3,133.2 478.9,133.3 478.5,133.2 477.7,132.8 477.3,132.8 476.6,133.1 476.0,133.7 475.9,134.1 476.2,135.1 476.0,136.5 476.3,137.1 476.8,137.7 477.3,138.0 477.7,138.1 479.1,137.6 479.5,137.6 480.5,138.2 481.6,138.7 481.8,138.9 482.0,139.3 482.0,141.1 482.2,141.5 482.8,142.3 483.1,143.1 482.9,143.5 481.9,144.3 481.7,144.7 481.7,145.5 482.3,147.1 482.2,147.5 481.8,148.5 481.8,148.9 482.2,150.5 482.6,151.3 482.7,151.7 482.5,151.9 481.5,152.5Z M503.7,126.3 502.7,126.4 502.1,126.2 500.1,124.4 498.7,123.4 498.1,122.7 497.9,122.1 498.0,121.9 498.4,121.7 499.9,121.3 500.5,121.0 500.8,120.5 501.3,119.5 501.9,119.0 502.5,118.8 504.5,118.5 505.5,118.6 506.1,118.9 506.5,119.2 507.6,120.7 508.0,121.9 508.0,123.1 507.6,123.9 506.7,124.7 505.7,125.9 505.1,126.1 503.7,126.3Z M506.7,156.5 506.1,156.6 505.7,156.4 505.5,156.1 505.3,155.5 505.3,154.5 505.1,153.8 504.1,152.1 503.6,150.9 503.6,150.3 504.2,148.5 504.1,146.9 504.7,145.5 505.1,143.9 505.5,143.5 506.7,143.0 507.7,142.2 508.3,142.0 508.7,142.2 509.0,142.5 509.3,144.3 510.1,146.2 510.4,146.7 511.4,147.5 511.6,147.9 511.6,148.5 511.0,149.9 511.0,151.5 510.1,152.9 509.9,154.3 509.7,154.8 509.3,155.2 507.7,155.9 506.7,156.5Z" fill="none"/>
<path d="M474.9,133.5 473.1,133.6 472.1,133.3 471.7,132.9 471.3,131.7 470.9,131.3 470.2,131.3 469.1,132.2 468.5,132.3 467.3,131.5 466.5,131.1 461.7,130.0 460.1,129.3 459.5,128.9 458.9,128.1 457.9,125.9 457.9,125.1 458.6,124.1 458.5,123.5 458.1,123.2 456.7,122.7 456.3,122.3 456.3,121.1 456.9,120.3 457.4,119.1 458.7,117.5 459.1,117.2 460.1,116.8 461.1,116.3 464.1,115.9 465.9,115.2 467.3,115.3 468.7,116.1 469.1,116.2 469.8,116.1 471.5,115.6 472.7,115.5 473.5,115.6 474.5,116.0 475.1,116.1 475.7,115.9 476.5,114.9 476.9,114.7 477.3,114.7 479.1,115.5 480.9,115.5 482.1,115.9 482.7,116.2 483.1,116.6 484.1,118.1 484.5,118.5 484.9,118.6 486.3,118.7 488.3,119.4 489.1,119.9 490.5,120.9 492.5,121.6 492.9,121.5 493.9,121.1 494.7,121.2 495.6,121.5 496.1,122.0 496.2,122.7 495.7,123.5 493.7,125.0 492.7,125.5 492.3,125.9 491.8,126.9 490.9,128.2 489.9,130.9 489.5,131.3 488.9,131.2 488.1,130.4 487.9,130.3 487.5,130.3 486.6,130.9 486.4,131.3 486.1,132.3 485.8,132.7 485.1,133.1 484.5,133.4 483.7,133.2 482.5,132.4 482.1,132.2 480.7,132.1 479.3,132.5 478.9,132.6 478.4,132.3 477.9,131.8 474.9,133.5Z M503.3,126.1 502.7,126.1 502.1,125.8 499.2,123.3 498.8,122.7 498.9,122.3 499.1,122.1 500.3,121.5 500.7,121.1 501.4,119.7 501.7,119.3 502.1,119.1 503.3,118.9 505.1,118.9 505.7,119.0 506.1,119.2 506.7,119.7 507.5,120.9 507.8,122.3 507.7,123.3 507.3,123.9 506.4,124.7 505.5,125.7 504.9,125.9 503.3,126.1Z M478.5,143.6 477.7,143.6 477.0,143.3 476.6,142.9 476.0,141.9 475.7,141.6 475.3,141.6 474.5,141.8 474.3,141.6 473.7,140.3 472.7,139.5 473.0,138.9 473.5,138.3 474.7,137.4 475.1,137.2 475.5,137.3 476.1,137.7 477.2,138.9 477.4,139.9 477.6,140.1 477.9,140.3 478.3,140.2 478.9,139.9 479.7,138.8 480.5,138.9 481.3,139.3 481.5,139.7 481.5,140.3 481.4,141.1 481.2,141.7 479.0,143.3 478.5,143.6Z M506.9,155.9 506.3,156.1 505.8,155.7 505.4,153.7 504.3,151.9 504.0,150.9 504.0,150.3 504.4,148.7 504.5,146.9 505.4,144.1 505.8,143.7 506.7,143.4 507.7,142.7 508.1,142.6 508.5,142.8 508.7,143.0 509.1,144.5 509.9,146.6 510.3,147.1 511.1,147.8 511.3,148.1 511.3,148.5 510.8,149.7 510.8,151.1 510.7,151.5 510.5,151.9 509.6,152.9 509.3,154.5 508.7,155.1 506.9,155.9Z M480.7,152.0 480.3,152.0 479.7,151.6 479.3,151.2 479.0,150.5 479.0,149.9 479.3,149.2 479.7,148.6 480.1,148.4 480.5,148.5 480.7,148.7 481.3,149.9 481.3,150.3 481.0,151.5 480.7,152.0Z" fill="none"/>
<path d="M474.3,133.1 473.1,133.3 472.3,133.1 471.9,132.7 471.4,131.5 470.9,131.2 470.3,131.1 469.1,131.8 468.5,131.9 466.9,131.0 461.7,129.5 459.9,128.6 459.3,128.1 458.5,126.7 458.2,125.9 458.3,125.1 458.9,124.1 458.8,123.5 458.3,123.0 456.8,122.3 456.6,122.1 456.5,121.7 457.6,119.3 458.9,117.8 459.5,117.4 460.5,117.2 461.7,116.7 464.3,116.2 465.9,115.6 466.7,115.5 467.3,115.6 468.5,116.3 468.9,116.4 469.7,116.3 471.7,115.8 472.5,115.7 473.3,115.8 475.1,116.2 475.7,116.1 476.7,115.2 477.3,115.1 477.9,115.2 479.1,115.8 480.9,115.8 482.1,116.1 482.9,116.7 484.3,118.7 484.8,118.9 485.9,119.1 486.9,119.5 488.5,119.8 489.1,120.2 489.9,121.1 490.3,121.3 492.5,122.1 493.1,122.0 494.1,121.5 494.7,121.5 495.3,121.7 495.8,122.1 495.9,122.7 495.5,123.4 493.7,124.4 492.7,124.8 492.3,125.0 491.5,126.9 490.9,127.9 490.1,129.9 489.5,130.8 489.1,130.8 488.1,130.0 487.5,130.0 486.4,130.7 485.7,131.9 485.3,132.3 484.7,132.7 484.1,132.9 483.7,132.7 482.7,132.0 482.1,131.7 479.3,131.7 479.1,131.7 478.5,130.9 478.2,130.7 477.9,130.7 477.5,131.0 476.9,131.9 476.5,132.2 475.3,132.8 474.3,133.1Z M504.9,125.7 503.1,125.8 502.5,125.7 500.8,124.3 499.8,123.3 499.5,122.9 499.6,122.5 499.7,122.3 500.9,121.2 501.6,119.7 502.3,119.2 503.3,119.1 505.7,119.3 506.3,119.6 506.7,120.0 507.4,121.1 507.6,122.5 507.6,123.1 507.4,123.5 505.5,125.5 504.9,125.7Z M478.5,143.3 477.9,143.4 477.3,143.2 476.8,142.7 476.1,141.4 475.7,141.2 474.9,141.0 474.5,140.8 473.9,139.7 473.7,139.3 473.8,138.9 474.1,138.5 474.9,138.1 475.3,138.1 475.7,138.2 477.0,140.3 477.3,140.5 477.7,140.6 478.7,140.4 480.1,139.4 480.5,139.5 480.8,139.7 481.0,140.1 481.0,140.5 480.8,141.3 479.1,143.0 478.5,143.3Z M507.3,155.3 506.5,155.4 506.1,155.0 505.5,153.2 504.5,151.7 504.3,150.3 504.7,148.7 504.8,147.1 505.5,144.5 505.9,144.0 506.9,143.7 507.7,143.3 508.1,143.2 508.5,143.6 509.7,146.9 510.0,147.3 510.7,147.9 510.9,148.5 510.5,149.7 510.6,150.9 510.4,151.5 510.1,151.9 509.0,152.9 508.9,153.3 508.9,154.1 508.8,154.5 508.3,154.9 507.3,155.3Z" fill="none"/>
<path d="M473.7,132.9 472.9,133.0 472.3,132.8 472.0,132.5 471.6,131.5 471.1,131.1 470.3,131.0 469.1,131.6 468.5,131.6 467.1,130.9 465.5,130.4 460.3,128.4 459.4,127.9 458.8,126.9 458.4,125.9 458.5,125.3 459.1,124.1 459.0,123.5 458.5,122.9 457.1,122.1 457.0,121.7 457.7,119.7 459.1,118.0 459.7,117.7 461.0,117.5 466.1,115.9 467.1,115.9 468.3,116.5 468.7,116.6 472.5,115.9 473.3,115.9 474.7,116.3 475.3,116.4 475.9,116.2 476.9,115.4 477.5,115.4 479.1,116.0 480.9,116.0 482.1,116.3 482.9,116.9 483.9,118.5 484.3,118.9 485.7,119.4 486.7,119.9 487.9,120.0 488.5,120.1 489.1,120.6 489.7,121.5 491.0,122.1 491.4,122.5 491.4,122.7 491.1,123.5 491.2,123.9 491.7,124.7 491.6,125.9 491.3,126.7 490.7,127.9 490.2,129.3 489.5,130.3 489.1,130.3 488.1,129.7 487.7,129.7 486.1,130.5 485.5,131.5 485.1,132.0 484.5,132.3 484.1,132.4 483.7,132.2 482.7,131.5 482.3,131.4 479.7,131.2 478.5,130.5 477.9,130.4 477.4,130.7 476.6,131.7 476.1,132.1 473.7,132.9Z M504.9,125.5 503.3,125.6 502.5,125.4 501.1,124.3 500.1,123.1 500.1,122.5 501.1,121.2 501.7,119.9 502.3,119.4 503.3,119.2 505.7,119.5 506.5,120.0 507.1,120.9 507.5,122.3 507.3,123.3 506.9,123.9 505.5,125.2 504.9,125.5Z M493.3,124.1 492.8,124.1 492.4,123.9 492.0,123.1 492.0,122.9 492.2,122.7 494.3,121.8 494.9,121.9 495.4,122.1 495.5,122.3 495.6,122.7 495.3,123.2 493.3,124.1Z M476.1,140.6 475.5,140.6 474.9,140.4 474.5,139.7 474.4,139.3 474.5,139.1 474.9,138.9 475.3,139.0 476.1,140.1 476.2,140.3 476.1,140.6Z M478.5,143.1 478.1,143.2 477.7,143.1 477.1,142.7 476.8,142.1 476.7,141.1 476.9,140.9 478.3,140.8 479.9,140.2 480.3,140.2 480.5,140.4 480.5,140.7 480.3,141.3 479.1,142.7 478.5,143.1Z M507.5,155.0 506.7,155.0 506.3,154.7 505.7,152.9 504.8,151.7 504.6,151.1 504.5,150.3 504.9,148.7 505.4,145.5 505.7,144.7 506.1,144.3 507.9,143.8 508.3,144.2 509.5,147.1 509.7,147.5 510.3,148.1 510.5,148.5 510.2,149.7 510.3,150.9 510.3,151.3 509.9,151.8 508.5,152.9 508.4,153.3 508.5,153.9 508.4,154.3 508.0,154.7 507.5,155.0Z" fill="none"/>
<path d="M473.3,132.7 472.7,132.7 472.3,132.5 471.7,131.4 471.1,131.0 470.3,130.9 469.1,131.4 468.5,131.4 467.1,130.7 465.5,130.3 462.7,129.0 460.3,128.2 459.5,127.7 458.9,126.7 458.6,125.9 458.7,125.3 459.2,124.3 459.2,123.7 458.7,122.9 457.5,121.9 457.4,121.5 457.9,119.9 459.3,118.3 459.7,118.0 460.9,117.8 462.7,117.3 464.5,116.6 465.5,116.4 466.3,116.4 467.0,116.5 467.2,116.7 466.7,116.9 466.6,117.1 466.7,117.4 467.1,117.5 467.3,117.5 467.5,117.3 467.5,116.9 468.7,116.8 472.5,116.1 473.5,116.1 474.9,116.5 475.5,116.5 476.0,116.3 476.9,115.7 477.5,115.6 478.1,115.8 479.1,116.3 480.9,116.2 482.1,116.5 482.9,117.2 483.8,118.7 484.1,119.1 485.5,119.6 486.5,120.2 487.9,120.3 488.5,120.4 489.0,120.9 489.3,122.0 490.3,122.4 490.6,122.7 490.8,123.9 491.3,125.1 491.3,125.9 491.2,126.5 490.6,127.7 490.1,129.1 489.5,129.9 489.1,130.0 487.9,129.3 487.5,129.4 486.5,130.0 485.5,130.1 485.2,131.3 484.8,131.7 484.3,131.9 483.7,131.8 482.3,130.9 479.7,130.8 478.5,130.3 477.9,130.2 477.3,130.5 476.5,131.4 475.9,131.8 474.1,132.5 473.3,132.7Z M504.9,125.3 503.9,125.4 502.7,125.1 501.3,124.2 500.5,123.3 500.4,122.9 500.5,122.3 501.7,120.1 502.3,119.5 503.1,119.4 504.5,119.6 505.7,119.7 506.5,120.2 507.0,120.9 507.3,122.3 507.2,123.3 506.9,123.7 505.5,125.0 504.9,125.3Z M494.1,123.5 493.3,123.6 493.1,123.5 492.9,123.1 493.3,122.7 494.1,122.2 494.7,122.1 495.1,122.3 495.3,122.7 495.1,123.1 494.1,123.5Z M478.3,143.0 477.7,142.9 477.3,142.6 477.1,142.1 477.2,141.5 477.5,141.3 479.1,140.9 479.5,140.9 479.7,141.1 479.6,141.5 479.2,142.3 478.7,142.8 478.3,143.0Z M507.7,154.5 507.1,154.7 506.5,154.4 506.2,153.9 506.0,152.7 505.1,151.8 504.9,151.3 504.7,150.7 504.8,149.9 505.6,147.1 505.5,146.1 505.7,145.3 506.1,144.6 506.7,144.4 507.7,144.4 508.1,144.6 508.5,145.3 509.4,147.5 509.9,148.3 510.0,148.7 510.0,149.7 510.1,150.9 510.0,151.3 509.7,151.7 508.1,152.7 508.0,152.9 508.0,154.1 507.7,154.5Z" fill="none"/>
<path d="M473.1,132.5 472.5,132.3 471.8,131.3 471.1,130.9 470.3,130.8 469.1,131.2 468.5,131.2 467.3,130.7 465.7,130.2 463.1,128.9 460.3,127.9 459.6,127.5 459.1,126.7 458.8,125.9 458.9,125.3 459.4,124.3 459.4,123.7 458.9,122.9 457.9,121.9 457.7,121.3 458.1,120.1 459.5,118.5 459.9,118.3 463.0,117.5 464.9,116.8 465.7,116.8 466.5,117.7 467.3,117.8 467.7,117.7 468.6,117.1 470.3,116.6 472.9,116.2 475.5,116.6 476.1,116.4 477.1,115.9 477.7,115.9 479.1,116.6 480.9,116.4 482.1,116.7 482.9,117.4 483.9,119.2 485.3,119.8 486.5,120.6 487.9,120.6 488.3,120.7 488.5,120.9 488.7,121.3 488.4,122.3 488.5,122.6 488.7,122.7 489.9,122.7 490.3,123.1 490.6,124.1 491.0,125.1 491.1,125.9 490.1,128.9 489.5,129.6 489.3,129.7 488.9,129.6 487.7,128.8 487.0,129.5 486.5,129.7 486.1,129.7 485.7,129.5 485.3,129.4 485.1,129.5 484.9,129.9 484.8,131.1 484.5,131.4 484.1,131.5 482.1,130.5 481.5,130.4 479.7,130.5 478.5,130.1 477.9,130.0 477.3,130.3 475.9,131.5 473.9,132.4 473.1,132.5Z M504.9,125.2 503.9,125.2 502.7,124.9 501.5,124.1 500.8,123.3 500.7,122.7 500.9,122.1 501.9,120.1 502.5,119.6 503.3,119.5 504.5,119.8 505.9,119.9 506.5,120.3 507.0,121.1 507.2,122.3 507.0,123.3 506.5,123.9 505.3,125.0 504.9,125.2Z M494.7,123.0 494.3,123.0 494.0,122.9 494.2,122.7 494.5,122.6 494.8,122.7 494.8,122.9 494.7,123.0Z M478.3,142.7 477.9,142.7 477.6,142.5 477.4,142.1 477.5,141.7 478.1,141.4 478.9,141.4 479.1,141.7 479.0,142.1 478.7,142.5 478.3,142.7Z M508.1,152.3 507.5,152.4 506.7,151.9 505.7,151.9 505.3,151.6 505.0,150.9 505.0,149.9 505.6,148.1 505.9,147.8 506.7,147.5 506.9,147.3 506.9,147.1 506.1,146.8 505.8,146.3 505.8,145.9 505.9,145.3 506.1,145.0 506.5,144.8 507.3,144.8 507.9,145.1 508.7,146.6 509.1,147.7 509.6,148.7 509.9,150.7 509.9,151.1 509.3,151.7 508.1,152.3Z M507.3,154.2 506.9,154.2 506.7,154.1 506.5,153.7 506.5,153.0 506.9,152.7 507.3,152.8 507.5,153.2 507.6,153.9 507.3,154.2Z" fill-opacity="0.15"/>
<path d="M473.9,132.1 473.3,132.3 472.7,132.2 471.7,131.1 470.9,130.8 470.1,130.8 469.1,131.1 468.5,131.0 467.3,130.5 465.7,130.1 463.3,128.7 460.5,127.8 459.9,127.5 459.4,126.9 459.0,126.1 459.1,125.5 459.6,124.3 459.5,123.7 459.1,123.0 458.2,121.9 458.0,121.5 458.1,120.7 458.4,120.1 459.9,118.7 463.1,117.7 464.7,117.0 465.5,117.1 466.5,117.8 467.3,118.0 467.9,117.8 469.0,117.1 470.3,116.7 472.9,116.3 475.5,116.7 476.1,116.5 477.1,116.1 477.5,116.0 478.1,116.2 479.1,116.9 480.9,116.5 481.5,116.6 482.1,116.9 482.9,117.7 483.5,119.1 483.7,119.3 485.1,119.9 486.5,120.9 487.7,120.9 488.1,121.1 488.2,121.5 488.0,122.3 488.1,122.9 488.5,123.2 489.7,123.1 490.1,123.5 490.8,125.3 490.8,125.9 490.0,128.7 489.5,129.4 489.1,129.4 488.7,129.2 488.2,128.7 487.6,127.7 487.1,127.3 486.7,127.2 486.7,127.7 487.1,128.7 487.0,129.1 486.5,129.4 485.5,129.1 485.0,129.3 484.7,129.7 484.4,130.7 484.1,131.0 483.7,130.9 482.5,130.3 481.9,130.1 479.7,130.2 477.9,129.8 477.3,130.1 476.1,131.1 473.9,132.1Z M504.9,125.0 504.1,125.0 502.7,124.6 501.7,124.1 501.0,123.3 500.9,122.7 501.0,122.1 501.9,120.3 502.5,119.7 503.1,119.6 504.5,120.0 505.7,120.0 506.3,120.3 506.8,121.1 507.1,122.3 507.0,122.9 506.9,123.3 506.4,123.9 504.9,125.0Z M478.3,142.3 477.9,142.3 477.8,142.1 477.9,141.9 478.3,141.8 478.5,141.8 478.5,142.1 478.3,142.3Z M507.5,146.3 506.7,146.5 506.3,146.4 506.1,145.9 506.3,145.3 506.7,145.1 507.3,145.4 507.7,145.9 507.7,146.1 507.5,146.3Z M508.5,152.0 507.9,152.1 506.8,151.5 505.7,151.5 505.3,151.1 505.1,150.5 505.3,149.7 505.9,148.3 507.5,147.5 507.9,146.8 508.1,146.7 508.4,147.1 509.2,148.7 509.7,150.7 509.5,151.3 509.0,151.7 508.5,152.0Z" fill-opacity="0.15"/>
<path d="M473.7,132.0 472.9,132.0 471.9,131.1 471.1,130.7 470.3,130.7 469.1,131.0 468.5,130.9 467.3,130.3 465.7,129.9 463.5,128.6 460.7,127.7 459.9,127.3 459.4,126.7 459.2,125.9 459.2,125.5 459.7,124.5 459.7,123.9 459.3,123.1 458.4,121.9 458.3,121.5 458.3,120.9 458.6,120.3 460.7,118.7 464.7,117.2 465.3,117.2 466.5,118.0 467.5,118.1 468.1,117.9 469.3,117.1 470.3,116.8 473.1,116.4 475.7,116.8 477.1,116.3 477.5,116.2 478.1,116.5 478.5,116.9 478.7,117.4 478.9,117.4 479.9,116.9 480.7,116.7 481.5,116.8 482.1,117.1 482.8,117.9 483.3,119.3 483.4,119.5 485.1,120.1 486.3,121.0 487.4,121.5 487.8,122.9 488.3,123.6 488.5,123.6 489.5,123.5 489.9,123.9 490.5,125.5 490.5,126.1 489.9,128.5 489.5,129.1 489.1,129.2 488.7,129.0 487.7,127.5 486.9,126.8 486.5,126.8 486.3,127.1 486.5,128.5 486.5,128.9 486.3,128.9 485.5,128.9 485.0,129.1 484.5,129.5 484.1,130.3 483.9,130.5 483.5,130.4 481.9,129.9 479.7,130.0 478.3,129.6 477.7,129.6 477.3,129.8 476.1,130.8 474.9,131.3 473.7,132.0Z M505.1,124.7 504.3,124.9 503.3,124.6 501.9,124.0 501.3,123.3 501.1,122.7 501.2,121.9 502.0,120.3 502.5,119.9 503.1,119.7 504.3,120.1 505.7,120.1 506.3,120.5 506.6,120.9 507.0,122.1 506.9,123.1 506.5,123.7 505.1,124.7Z M508.5,151.8 507.9,151.8 507.1,151.3 505.9,151.2 505.5,150.9 505.4,150.3 505.5,149.7 505.9,148.7 506.3,148.3 507.3,148.0 507.9,147.9 508.3,148.2 508.7,148.7 509.5,150.7 509.2,151.3 508.5,151.8Z" fill-opacity="0.15"/>
<path d="M473.7,131.7 473.3,131.8 472.9,131.8 471.9,130.9 471.1,130.7 470.3,130.6 469.1,130.8 468.5,130.8 467.3,130.2 465.7,129.8 463.7,128.4 460.7,127.5 460.1,127.2 459.6,126.7 459.4,126.1 459.4,125.5 459.8,124.5 459.9,124.1 459.7,123.5 458.6,121.7 458.5,121.1 458.8,120.5 459.1,120.2 460.1,119.6 461.3,118.6 464.7,117.4 465.3,117.4 466.5,118.1 467.5,118.2 468.1,118.1 469.3,117.3 470.3,116.9 473.3,116.5 475.7,116.9 477.5,116.4 478.1,116.8 478.3,117.1 478.3,117.9 478.5,118.0 478.7,118.0 479.9,117.1 480.7,116.9 481.3,116.9 482.1,117.2 482.6,117.9 482.9,118.7 482.9,119.7 483.1,119.9 484.1,119.9 484.9,120.2 486.1,121.2 487.0,121.7 487.3,122.1 487.7,123.3 488.3,124.3 488.5,125.0 488.7,125.1 488.9,125.0 489.3,124.5 490.2,125.7 490.2,126.5 489.8,128.1 489.6,128.7 489.3,128.9 489.1,128.9 488.8,128.7 488.1,127.6 487.5,127.0 486.9,126.6 486.5,126.5 486.3,126.6 486.1,126.9 486.1,128.3 485.9,128.5 484.7,129.1 483.9,130.0 483.7,130.1 483.3,130.1 481.9,129.7 479.7,129.8 478.1,129.4 477.7,129.4 477.3,129.5 476.1,130.6 474.9,131.1 473.7,131.7Z M504.7,124.7 503.9,124.7 503.1,124.4 501.9,123.7 501.4,123.1 501.2,122.5 501.4,121.9 502.0,120.5 502.5,120.0 503.1,119.9 504.3,120.3 505.7,120.3 506.3,120.6 506.6,121.1 506.9,122.3 506.8,122.9 506.7,123.3 505.9,124.0 505.1,124.6 504.7,124.7Z M508.5,151.5 507.9,151.5 507.1,151.1 506.1,150.9 505.7,150.7 505.6,150.3 505.7,149.7 505.9,149.1 506.3,148.6 507.3,148.2 507.7,148.3 508.1,148.7 509.1,150.3 509.2,150.7 509.1,151.1 508.5,151.5Z" fill-opacity="0.15"/>
<path d="M473.7,131.5 473.1,131.6 472.1,130.9 471.1,130.6 470.3,130.6 469.1,130.7 468.5,130.6 467.3,130.1 465.8,129.7 463.8,128.3 460.9,127.5 460.2,127.1 459.7,126.5 459.5,125.9 460.1,124.1 458.7,121.7 458.7,121.1 458.9,120.7 459.3,120.3 460.3,119.8 461.5,118.7 464.7,117.5 465.3,117.6 466.7,118.2 467.7,118.3 468.4,118.1 469.5,117.3 470.3,117.0 473.3,116.6 475.7,117.0 477.3,116.6 477.9,116.9 478.0,117.3 478.1,117.9 478.3,118.2 478.5,118.3 479.0,118.1 480.1,117.2 480.7,117.0 481.3,117.1 482.1,117.5 482.5,118.1 482.6,118.7 482.4,119.9 482.6,120.3 482.7,120.4 482.9,120.4 483.5,120.2 484.1,120.1 484.7,120.2 485.1,120.5 487.1,122.3 487.8,124.1 488.1,125.3 488.5,125.6 489.5,125.6 489.9,126.1 490.0,126.7 489.7,127.8 489.5,128.4 489.3,128.6 488.9,128.4 488.1,127.3 487.5,126.7 486.9,126.4 486.5,126.4 486.0,126.7 486.0,127.9 485.8,128.3 484.7,128.9 483.7,129.8 483.3,129.8 481.7,129.4 479.5,129.6 478.1,129.2 477.5,129.2 477.1,129.3 476.1,130.4 474.9,130.8 473.7,131.5Z M504.9,124.5 504.3,124.6 503.5,124.4 502.1,123.6 501.6,123.1 501.4,122.5 501.5,121.9 502.0,120.7 502.5,120.1 503.1,120.0 504.3,120.4 505.7,120.4 506.1,120.6 506.5,121.1 506.8,122.1 506.7,123.1 506.1,123.8 504.9,124.5Z M508.3,151.3 507.9,151.3 507.1,150.8 506.3,150.7 506.0,150.5 505.9,150.1 505.9,149.7 506.2,149.1 506.6,148.7 507.1,148.5 507.5,148.6 507.8,148.9 508.1,149.7 508.8,150.5 508.9,150.9 508.7,151.1 508.3,151.3Z" fill-opacity="0.15" stroke-opacity="0.65"/>
<path d="M473.7,131.3 473.1,131.3 472.1,130.8 471.1,130.5 468.7,130.6 467.5,130.0 465.9,129.6 463.9,128.2 460.9,127.3 460.3,127.0 459.9,126.5 459.7,125.9 459.8,125.3 460.2,124.5 460.2,124.1 459.0,121.9 458.9,121.3 459.0,120.9 459.3,120.6 460.5,119.9 461.2,119.1 461.7,118.8 464.7,117.6 465.3,117.7 466.7,118.3 467.7,118.5 468.5,118.2 469.7,117.3 470.5,117.1 471.9,117.0 473.3,116.7 475.7,117.0 477.3,116.8 477.7,117.1 477.9,117.9 478.1,118.3 478.5,118.4 478.9,118.3 480.3,117.3 480.9,117.2 481.3,117.2 481.9,117.5 482.3,118.1 482.4,118.7 482.2,119.9 482.5,121.1 482.7,121.2 483.3,120.5 483.9,120.3 484.5,120.3 485.1,120.7 486.9,122.6 487.7,124.3 488.0,125.7 488.3,125.9 489.3,126.0 489.5,126.1 489.7,126.5 489.6,127.3 489.3,128.0 489.1,128.1 488.9,128.0 487.5,126.4 487.1,126.3 486.5,126.2 486.1,126.4 485.9,126.7 485.8,127.7 485.7,128.1 483.7,129.5 483.3,129.6 481.5,129.3 479.7,129.5 478.3,129.0 477.5,128.9 476.7,129.2 476.3,129.9 475.9,130.2 473.7,131.3Z M505.1,124.3 504.5,124.5 503.7,124.3 502.1,123.4 501.7,123.0 501.5,122.5 501.6,121.9 502.1,120.7 502.5,120.2 503.1,120.1 504.3,120.5 505.7,120.5 506.1,120.7 506.5,121.1 506.7,122.1 506.6,123.1 506.1,123.7 505.1,124.3Z M482.5,122.3 482.7,121.9 482.5,121.4 482.3,122.1 482.5,122.3Z M508.3,150.9 508.1,150.9 507.5,150.6 506.3,150.3 506.2,150.1 506.2,149.7 506.6,149.1 507.1,148.8 507.4,148.9 507.8,149.9 508.4,150.7 508.3,150.9Z" fill-opacity="0.15" stroke-opacity="0.65"/>
<path d="M473.5,131.1 473.1,131.1 472.2,130.7 471.3,130.5 468.7,130.5 467.5,129.8 465.9,129.5 463.9,128.0 461.1,127.2 460.4,126.9 460.1,126.5 459.9,125.9 459.9,125.5 460.4,124.5 460.5,124.1 459.2,122.1 459.1,121.5 459.3,120.9 460.5,120.1 461.5,119.1 461.9,118.8 464.7,117.8 465.1,117.8 466.9,118.5 467.9,118.5 468.6,118.3 469.5,117.5 470.1,117.2 473.7,116.8 475.5,117.1 477.3,117.1 477.6,117.3 477.9,118.3 478.5,118.5 479.1,118.3 479.9,117.7 480.5,117.4 481.1,117.4 481.7,117.6 482.1,118.1 482.2,118.5 482.0,119.7 482.2,121.1 482.1,122.1 482.2,122.5 482.3,122.7 482.5,122.7 482.7,122.5 482.9,122.1 483.0,121.3 483.5,120.7 484.1,120.5 484.9,120.7 486.7,122.8 487.1,123.5 487.6,124.7 487.6,125.5 487.5,125.9 487.3,126.0 486.3,126.1 486.0,126.3 485.8,126.7 485.7,127.7 485.5,128.1 483.5,129.4 483.1,129.4 481.7,129.1 479.7,129.3 478.3,128.7 477.5,128.7 476.2,129.1 476.0,129.7 475.7,130.1 473.5,131.1Z M504.7,124.3 504.1,124.3 503.5,124.1 502.1,123.2 501.7,122.7 501.6,122.1 501.8,121.5 502.3,120.6 502.7,120.3 503.3,120.2 504.3,120.6 505.7,120.6 506.1,120.8 506.5,121.3 506.7,122.3 506.5,123.1 505.9,123.8 504.7,124.3Z M489.1,127.6 488.7,127.4 488.3,126.9 488.1,126.5 488.3,126.3 488.9,126.2 489.4,126.5 489.4,127.1 489.3,127.4 489.1,127.6Z M507.1,149.9 506.8,149.9 506.8,149.7 506.9,149.5 507.1,149.4 507.2,149.7 507.1,149.9Z" fill-opacity="0.15" stroke-opacity="0.65"/>
<path d="M473.7,130.9 473.1,130.9 472.1,130.6 471.1,130.4 469.3,130.5 468.7,130.4 467.5,129.7 465.9,129.3 464.5,128.2 463.9,127.9 460.7,126.9 460.3,126.5 460.0,125.9 460.2,125.3 460.8,124.1 459.9,123.1 459.4,122.3 459.2,121.7 459.4,121.1 460.7,120.1 461.9,119.0 464.7,117.9 465.3,118.0 466.9,118.5 467.9,118.6 468.7,118.4 469.5,117.6 470.1,117.3 470.7,117.2 472.1,117.2 473.5,116.9 475.7,117.2 477.1,117.2 477.4,117.5 477.8,118.3 478.3,118.6 479.0,118.5 480.5,117.6 481.1,117.6 481.5,117.7 481.8,118.1 481.9,118.5 481.9,119.9 482.0,121.1 482.0,122.1 482.1,122.8 482.3,123.0 482.5,122.9 482.9,122.6 483.1,122.3 483.3,121.3 483.5,120.9 484.1,120.7 484.7,120.8 485.2,121.3 485.6,122.1 485.6,122.5 485.3,122.9 485.3,123.2 485.7,123.3 486.3,123.2 486.7,123.4 487.3,124.5 487.4,125.1 487.3,125.6 487.1,125.8 486.3,126.0 485.9,126.2 485.6,126.7 485.6,127.5 485.5,127.9 485.1,128.2 483.6,129.1 483.1,129.2 481.5,128.9 479.9,129.0 479.4,128.9 478.7,128.4 476.3,128.8 475.9,128.9 475.7,129.1 475.6,129.7 475.5,129.9 473.7,130.9Z M505.1,124.1 504.5,124.3 503.9,124.2 502.3,123.2 501.9,122.8 501.7,122.3 501.8,121.9 502.1,121.1 502.5,120.5 503.1,120.3 504.1,120.7 505.5,120.6 505.9,120.8 506.3,121.1 506.6,121.9 506.5,122.9 506.1,123.5 505.1,124.1Z M488.9,127.0 488.8,126.9 488.9,126.7 488.9,127.0Z" fill-opacity="0.15" stroke-opacity="0.65"/>
<path d="M473.7,130.8 473.1,130.8 471.1,130.3 468.8,130.3 467.5,129.5 465.9,129.2 464.1,127.8 461.3,127.0 460.7,126.7 460.3,126.3 460.2,125.7 460.5,125.1 461.2,124.1 461.2,123.9 460.3,123.4 459.7,122.7 459.4,121.9 459.4,121.5 459.5,121.2 462.1,119.0 464.7,118.0 465.3,118.1 467.1,118.7 467.9,118.7 468.7,118.5 469.6,117.7 470.1,117.4 470.9,117.3 472.1,117.4 473.7,117.0 477.1,117.4 477.8,118.5 478.3,118.7 479.1,118.5 480.5,117.8 480.9,117.8 481.3,117.9 481.5,118.1 481.7,118.5 481.9,121.1 481.9,122.3 482.1,123.1 482.3,123.3 482.5,123.2 483.1,122.7 483.3,122.3 483.5,121.3 483.7,121.0 484.1,120.9 484.5,120.9 485.0,121.3 485.2,121.9 485.2,122.3 484.8,122.9 484.8,123.3 485.1,123.6 486.3,123.6 486.7,123.8 487.1,124.3 487.2,124.7 487.2,125.1 487.1,125.5 486.9,125.7 485.9,126.1 485.6,126.5 485.5,127.5 485.3,127.9 484.9,128.2 483.7,128.8 483.1,128.9 481.5,128.6 480.5,128.8 479.9,128.8 479.5,128.5 479.4,127.5 479.1,127.4 478.3,128.1 477.9,128.3 475.7,128.8 475.5,129.0 475.2,129.9 474.5,130.4 473.7,130.8Z M504.7,124.1 504.3,124.1 503.7,124.0 502.3,123.0 502.0,122.7 501.8,122.3 501.9,121.7 502.3,120.9 502.7,120.5 503.1,120.4 504.1,120.8 505.5,120.7 505.9,120.9 506.3,121.3 506.5,122.3 506.3,123.1 505.7,123.7 504.7,124.1Z" fill-opacity="0.15" stroke-opacity="0.65"/>
<path d="M473.9,130.5 473.3,130.7 471.4,130.3 468.9,130.2 467.5,129.3 465.9,129.0 464.1,127.7 462.7,127.4 460.9,126.7 460.4,126.1 460.5,125.5 460.7,125.0 461.6,123.9 461.5,123.7 460.5,123.4 460.0,122.9 459.5,122.1 459.5,121.7 459.6,121.3 462.1,119.1 464.7,118.1 465.3,118.2 467.3,118.8 468.1,118.8 468.9,118.5 469.7,117.8 470.2,117.5 470.9,117.4 472.3,117.5 473.1,117.2 473.7,117.1 476.9,117.6 477.1,117.7 477.7,118.5 478.3,118.8 478.9,118.7 480.3,118.0 480.7,117.9 481.1,118.0 481.4,118.3 481.5,118.7 481.8,120.9 481.8,122.5 482.1,123.6 482.3,123.7 482.5,123.6 483.2,122.9 483.5,122.5 483.7,121.4 483.9,121.2 484.3,121.1 484.7,121.4 484.9,121.9 484.4,122.9 484.5,123.6 484.9,123.9 486.5,124.0 487.0,124.5 487.1,124.9 487.0,125.3 486.9,125.5 485.7,126.1 485.4,126.5 485.3,127.5 485.1,127.9 483.9,128.5 483.3,128.7 482.9,128.7 481.5,128.1 480.3,128.4 480.0,128.3 480.0,128.1 479.8,127.1 479.5,126.9 479.3,126.9 478.9,127.1 478.2,127.9 477.7,128.2 477.1,128.4 475.9,128.5 475.6,128.7 474.9,129.9 473.9,130.5Z M473.7,119.5 473.8,119.3 473.7,119.0 473.3,118.8 473.1,118.8 473.0,119.1 473.1,119.3 473.5,119.5 473.7,119.5Z M505.1,123.9 504.5,124.1 503.9,124.0 502.2,122.7 502.0,122.3 502.0,121.9 502.3,121.1 502.6,120.7 503.1,120.5 504.1,120.9 505.5,120.8 506.1,121.1 506.4,121.9 506.3,122.9 505.9,123.5 505.1,123.9Z" fill-opacity="0.15" stroke-opacity="0.65"/>
<path d="M473.5,130.5 471.5,130.2 469.5,130.2 468.9,130.1 467.5,129.2 465.9,128.9 464.3,127.7 462.7,127.2 461.1,126.6 460.7,126.1 460.7,125.5 460.9,125.1 461.7,124.2 461.9,123.7 461.7,123.5 460.7,123.3 460.1,122.9 459.7,122.1 459.6,121.7 459.8,121.3 462.1,119.3 464.5,118.3 465.1,118.2 467.3,118.9 468.1,118.9 468.9,118.7 469.7,117.9 470.3,117.6 471.1,117.5 472.3,117.7 473.3,117.2 474.1,117.2 476.8,117.7 477.1,117.9 477.5,118.5 478.1,118.8 478.9,118.8 480.3,118.2 480.9,118.2 481.2,118.5 481.4,119.1 481.7,120.9 481.7,122.3 481.9,124.1 482.1,124.3 482.5,124.2 482.7,124.1 483.1,123.4 483.7,122.9 483.9,123.0 484.3,124.0 484.7,124.1 486.3,124.1 486.7,124.4 486.9,124.7 486.8,125.3 485.9,125.8 485.5,126.1 485.3,126.5 485.1,127.7 484.5,128.1 483.3,128.4 482.6,128.3 481.5,127.2 480.5,127.1 480.2,126.7 479.9,126.0 478.9,126.8 477.7,128.1 477.1,128.3 475.9,128.4 475.5,128.6 474.7,129.9 474.1,130.3 473.5,130.5Z M474.0,119.5 473.9,119.1 473.7,118.8 473.3,118.6 472.9,118.6 472.9,119.1 473.1,119.5 473.7,119.7 474.0,119.5Z M504.9,123.9 504.3,124.0 503.7,123.8 502.2,122.5 502.0,122.1 502.1,121.7 502.4,121.1 502.7,120.8 503.1,120.7 504.1,121.0 505.5,120.9 505.9,121.1 506.1,121.3 506.4,122.1 506.3,122.9 505.8,123.5 504.9,123.9Z M484.3,122.2 484.1,122.3 483.9,122.1 483.9,121.7 484.1,121.5 484.3,121.5 484.5,121.7 484.5,121.9 484.3,122.2Z" fill-opacity="0.15" stroke-opacity="0.65"/>
</g>
<rect x="472" y="161" width="14.0" height="2.3" fill="#000"/>
<rect x="500" y="161.8" width="10.0" height="1.5" fill="#000"/>
<rect x="456.7" y="112" width="1.7" height="21.0" fill="#000"/>
<rect x="456.4" y="102.2" width="13.1" height="7.1" fill="#fff"/>
<text x="456.90000000000003" y="108.10000000000001" text-anchor="start" style="font-size:5.4px;" fill="#000" stroke="#000" stroke-width="0.16">66.6</text>
<rect x="503.5" y="102.2" width="13.8" height="7.1" fill="#fff"/>
<text x="516.2" y="108.10000000000001" text-anchor="end" style="font-size:5.4px;" fill="#000" stroke="#000" stroke-width="0.16">4.63</text>
<rect x="456.4" y="157.1" width="13.1" height="6.0" fill="#fff"/>
<path d="M456.4,157.1 H469.5 V163.1" fill="none" stroke="#000" stroke-width="0.45"/>
<text x="456.90000000000003" y="162.10000000000002" text-anchor="start" style="font-size:5.4px;" fill="#000" stroke="#000" stroke-width="0.16">11.8</text>
<rect x="509.4" y="157.1" width="7.9" height="6.0" fill="#fff"/>
<path d="M509.4,163.1 V157.1 H517.3" fill="none" stroke="#000" stroke-width="0.45"/>
<text x="516.2" y="162.10000000000002" text-anchor="end" style="font-size:5.4px;" fill="#000" stroke="#000" stroke-width="0.16">17</text>
<line x1="469.46400000000006" y1="102.7" x2="503.536" y2="102.7" stroke="#000" stroke-width="0.6"/>
<line x1="517.6" y1="102.7" x2="517.6" y2="163.3" stroke="#333" stroke-width="0.6"/>
<line x1="456.3" y1="102.4" x2="456.3" y2="163.70000000000002" stroke="#000" stroke-width="0.9"/>
<line x1="455.90000000000003" y1="163.3" x2="517.9" y2="163.3" stroke="#000" stroke-width="0.9"/>
</svg>
</body></html>
